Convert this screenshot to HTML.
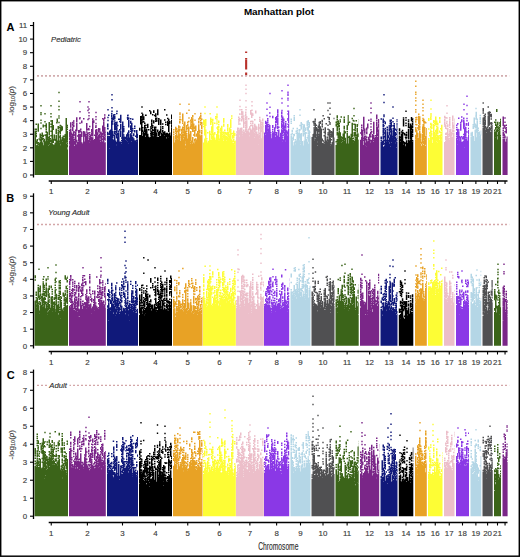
<!DOCTYPE html><html><head><meta charset="utf-8"><style>html,body{margin:0;padding:0;background:#fff;}svg{display:block}text{font-family:"Liberation Sans", sans-serif} .t{stroke:#555;stroke-width:0.15px}</style></head><body>
<svg width="520" height="557" viewBox="0 0 520 557">
<rect x="0" y="0" width="520" height="557" fill="#fff"/>
<path fill="#3b6419" d="M34.5 153h1.5v22h-1.5zM34.5 128.5h1.5v1.5h-1.5zM34.5 130.4h1.5v23.2h-1.5zM35.5 153h1.5v22h-1.5zM35.5 123.5h1.5v1.5h-1.5zM35.5 128.5h1.5v1.5h-1.5zM35.5 130.5h1.5v1.5h-1.5zM35.5 132.5h1.5v1.5h-1.5zM35.5 134.4h1.5v2.9h-1.5zM35.5 140.6h1.5v3.1h-1.5zM35.5 145.3h1.5v8.3h-1.5zM36.5 153h1.5v22h-1.5zM36.5 139.1h1.5v1.9h-1.5zM36.5 141.3h1.5v2.6h-1.5zM36.5 144.6h1.5v8.7h-1.5zM37.5 153h1.5v22h-1.5zM37.5 123.6h1.5v8.2h-1.5zM37.5 141.9h1.5v1.5h-1.5zM37.5 143.8h1.5v1.5h-1.5zM37.5 145.8h1.5v7.9h-1.5zM38.5 153h1.5v22h-1.5zM38.5 138.2h1.5v1.5h-1.5zM38.5 143.1h1.5v10.6h-1.5zM39.5 153h1.5v22h-1.5zM39.5 133.4h1.5v4.7h-1.5zM39.5 138.5h1.5v2.8h-1.5zM39.5 141.8h1.5v11.9h-1.5zM40.5 153h1.5v22h-1.5zM40.5 137.1h1.5v16.4h-1.5zM41.5 153h1.5v22h-1.5zM41.5 132.4h1.5v5.1h-1.5zM41.5 137.7h1.5v2.4h-1.5zM41.5 142.3h1.5v11.4h-1.5zM42.5 153h1.5v22h-1.5zM42.5 124.6h1.5v3h-1.5zM42.5 134.7h1.5v2.6h-1.5zM42.5 138h1.5v1.5h-1.5zM42.5 140.2h1.5v1.5h-1.5zM42.5 145.3h1.5v8.4h-1.5zM43.5 153h1.5v22h-1.5zM43.5 138.7h1.5v15h-1.5zM44.5 153h1.5v22h-1.5zM44.5 141.3h1.5v11.8h-1.5zM45.5 153h1.5v22h-1.5zM45.5 123.2h1.5v5h-1.5zM45.5 128.5h1.5v1.5h-1.5zM45.5 130.6h1.5v2.5h-1.5zM45.5 133.9h1.5v19.5h-1.5zM46.5 153h1.5v22h-1.5zM46.5 131.7h1.5v8.8h-1.5zM46.5 140.7h1.5v13h-1.5zM47.5 153h1.5v22h-1.5zM47.5 136.9h1.5v1.5h-1.5zM47.5 138.8h1.5v6.1h-1.5zM47.5 145.5h1.5v8h-1.5zM48.5 153h1.5v22h-1.5zM48.5 122h1.5v13.6h-1.5zM48.5 136.1h1.5v8.5h-1.5zM48.5 145h1.5v8.6h-1.5zM49.5 153h1.5v22h-1.5zM49.5 138h1.5v1.5h-1.5zM49.5 139.9h1.5v2.4h-1.5zM49.5 142.9h1.5v10.4h-1.5zM50.5 153h1.5v22h-1.5zM50.5 139.4h1.5v3.1h-1.5zM50.5 142.7h1.5v10.7h-1.5zM51.5 153h1.5v22h-1.5zM51.5 119.9h1.5v23.6h-1.5zM51.5 143.8h1.5v9.9h-1.5zM52.5 153h1.5v22h-1.5zM52.5 125h1.5v5h-1.5zM52.5 138.8h1.5v4.3h-1.5zM52.5 144.6h1.5v9.2h-1.5zM53.5 153h1.5v22h-1.5zM53.5 134.6h1.5v4.2h-1.5zM53.5 139.1h1.5v1.5h-1.5zM53.5 144.6h1.5v8.6h-1.5zM54.5 153h1.5v22h-1.5zM54.5 138.7h1.5v2.4h-1.5zM54.5 142.8h1.5v11h-1.5zM55.5 153h1.5v22h-1.5zM55.5 128.7h1.5v5.4h-1.5zM55.5 134.7h1.5v18.9h-1.5zM56.5 153h1.5v22h-1.5zM56.5 118.5h1.5v3.7h-1.5zM56.5 140.4h1.5v1.5h-1.5zM56.5 142.1h1.5v11.6h-1.5zM57.5 153h1.5v22h-1.5zM57.5 126.1h1.5v2.8h-1.5zM57.5 129.4h1.5v1.5h-1.5zM57.5 131.5h1.5v22h-1.5zM58.5 153h1.5v22h-1.5zM58.5 142.3h1.5v11.3h-1.5zM59.5 153h1.5v22h-1.5zM59.5 124.8h1.5v1.5h-1.5zM59.5 126.8h1.5v7.6h-1.5zM59.5 135h1.5v9.5h-1.5zM59.5 145.3h1.5v8.3h-1.5zM60.5 153h1.5v22h-1.5zM60.5 125.5h1.5v5.8h-1.5zM60.5 139.4h1.5v14.3h-1.5zM61.5 153h1.5v22h-1.5zM61.5 126.3h1.5v4.2h-1.5zM61.5 137.1h1.5v4.5h-1.5zM61.5 141.9h1.5v11.8h-1.5zM62.5 153h1.5v22h-1.5zM62.5 135.4h1.5v1.5h-1.5zM62.5 137.2h1.5v16.4h-1.5zM63.5 153h1.5v22h-1.5zM63.5 135.4h1.5v1.5h-1.5zM63.5 138.3h1.5v15.4h-1.5zM64.5 153h1.5v22h-1.5zM64.5 134.1h1.5v19.6h-1.5zM65.5 153h1.5v22h-1.5zM65.5 118h1.5v24.7h-1.5zM65.5 143.4h1.5v9.8h-1.5zM66.5 153h1.5v22h-1.5zM66.5 124.7h1.5v1.5h-1.5zM66.5 126.6h1.5v1.5h-1.5zM66.5 128.6h1.5v1.5h-1.5zM66.5 130.7h1.5v9.5h-1.5zM66.5 140.6h1.5v1.5h-1.5zM66.5 142.6h1.5v1.5h-1.5zM66.5 144.4h1.5v2.8h-1.5zM66.5 149.5h1.5v4.1h-1.5zM67.5 153h0.5v22h-0.5zM67.5 131.7h0.5v1.5h-0.5zM67.5 133.9h0.5v1.5h-0.5zM67.5 135.8h0.5v5.4h-0.5zM67.5 141.7h0.5v11.9h-0.5zM56.1 122h1.5v1.5h-1.5zM58.3 91.8h1.4v1.5h-1.4zM58.3 100.4h1.4v1.5h-1.4zM58.3 105.8h1.4v1.5h-1.4zM58.3 109.1h1.4v1.5h-1.4zM58.3 115.3h1.4v1.5h-1.4zM58.3 117.3h1.4v1.5h-1.4zM58.3 121.8h1.4v1.5h-1.4zM58.3 126.4h1.4v1.5h-1.4zM58.3 131h1.4v1.5h-1.4zM58.3 136.3h1.4v1.5h-1.4zM58.3 140.4h1.4v1.5h-1.4zM40.3 104.9h1.4v1.5h-1.4zM40.3 112h1.4v1.5h-1.4zM40.3 113.8h1.4v1.5h-1.4zM40.3 119.5h1.4v1.5h-1.4zM40.3 122.2h1.4v1.5h-1.4zM40.3 127.7h1.4v1.5h-1.4zM40.3 134.8h1.4v1.5h-1.4zM40.3 138.5h1.4v1.5h-1.4zM50.3 104.9h1.4v1.5h-1.4zM50.3 112.9h1.4v1.5h-1.4zM50.3 116h1.4v1.5h-1.4zM50.3 120.3h1.4v1.5h-1.4zM50.3 123.6h1.4v1.5h-1.4zM50.3 125.9h1.4v1.5h-1.4zM50.3 130.5h1.4v1.5h-1.4zM50.3 134.9h1.4v1.5h-1.4zM50.3 143.5h1.4v1.5h-1.4zM44.3 113.1h1.4v1.5h-1.4zM44.3 121h1.4v1.5h-1.4zM44.3 124.9h1.4v1.5h-1.4zM44.3 134.5h1.4v1.5h-1.4zM335.5 150.9h1.5v24.1h-1.5zM335.5 121.4h1.5v1.5h-1.5zM335.5 123.5h1.5v3.1h-1.5zM335.5 140.9h1.5v1.5h-1.5zM335.5 145h1.5v6.6h-1.5zM336.5 150.9h1.5v24.1h-1.5zM336.5 115.3h1.5v2.6h-1.5zM336.5 118.6h1.5v1.5h-1.5zM336.5 120.5h1.5v1.5h-1.5zM336.5 122.6h1.5v2.4h-1.5zM336.5 126h1.5v5h-1.5zM336.5 131.5h1.5v4.1h-1.5zM336.5 138.9h1.5v3.8h-1.5zM336.5 143.1h1.5v8.6h-1.5zM337.5 150.9h1.5v24.1h-1.5zM337.5 120.3h1.5v7.2h-1.5zM337.5 132.6h1.5v6.1h-1.5zM337.5 139.1h1.5v12.3h-1.5zM338.5 150.9h1.5v24.1h-1.5zM338.5 122.8h1.5v1.5h-1.5zM338.5 124.8h1.5v2.5h-1.5zM338.5 127.8h1.5v3h-1.5zM338.5 131.1h1.5v20.4h-1.5zM339.5 150.9h1.5v24.1h-1.5zM339.5 119.2h1.5v1.5h-1.5zM339.5 121h1.5v1.5h-1.5zM339.5 132.3h1.5v19.1h-1.5zM340.5 150.9h1.5v24.1h-1.5zM340.5 116.3h1.5v1.5h-1.5zM340.5 136.2h1.5v2.5h-1.5zM340.5 138.9h1.5v3.6h-1.5zM340.5 143.1h1.5v8.1h-1.5zM341.5 150.9h1.5v24.1h-1.5zM341.5 137h1.5v2.6h-1.5zM341.5 140h1.5v1.5h-1.5zM341.5 142.1h1.5v9.4h-1.5zM342.5 150.9h1.5v24.1h-1.5zM342.5 133.6h1.5v17.8h-1.5zM343.5 150.9h1.5v24.1h-1.5zM343.5 116.5h1.5v1.5h-1.5zM343.5 118.5h1.5v4.5h-1.5zM343.5 125.8h1.5v3.8h-1.5zM343.5 130.3h1.5v10.2h-1.5zM343.5 140.9h1.5v10.8h-1.5zM344.5 150.9h1.5v24.1h-1.5zM344.5 131.2h1.5v2.4h-1.5zM344.5 137.7h1.5v13.9h-1.5zM345.5 150.9h1.5v24.1h-1.5zM345.5 143.6h1.5v8h-1.5zM346.5 150.9h1.5v24.1h-1.5zM346.5 124.9h1.5v5.3h-1.5zM346.5 130.9h1.5v1.5h-1.5zM346.5 133h1.5v18.5h-1.5zM347.5 150.9h1.5v24.1h-1.5zM347.5 115.3h1.5v1.5h-1.5zM347.5 117.3h1.5v1.5h-1.5zM347.5 119.2h1.5v1.5h-1.5zM347.5 121.2h1.5v2.7h-1.5zM347.5 124.1h1.5v1.5h-1.5zM347.5 136.5h1.5v1.5h-1.5zM347.5 143.6h1.5v7.9h-1.5zM348.5 150.9h1.5v24.1h-1.5zM348.5 135.7h1.5v15.9h-1.5zM349.5 150.9h1.5v24.1h-1.5zM349.5 137.5h1.5v14.1h-1.5zM350.5 150.9h1.5v24.1h-1.5zM350.5 133.8h1.5v17.8h-1.5zM351.5 150.9h1.5v24.1h-1.5zM351.5 117.8h1.5v1.5h-1.5zM351.5 122.8h1.5v14.4h-1.5zM351.5 137.9h1.5v1.5h-1.5zM351.5 139.8h1.5v11.9h-1.5zM352.5 150.9h1.5v24.1h-1.5zM352.5 119.7h1.5v1.5h-1.5zM352.5 137.6h1.5v1.5h-1.5zM352.5 139.7h1.5v2.8h-1.5zM352.5 142.8h1.5v8.6h-1.5zM353.5 150.9h1.5v24.1h-1.5zM353.5 132.1h1.5v4.5h-1.5zM353.5 141.1h1.5v10.6h-1.5zM354.5 150.9h1.5v24.1h-1.5zM354.5 123.7h1.5v5.5h-1.5zM354.5 129.5h1.5v1.7h-1.5zM354.5 131.8h1.5v4.3h-1.5zM354.5 136.3h1.5v1.6h-1.5zM354.5 138.2h1.5v13.2h-1.5zM355.5 150.9h1.5v24.1h-1.5zM355.5 120.1h1.5v1.5h-1.5zM355.5 134.6h1.5v1.5h-1.5zM355.5 136.5h1.5v15h-1.5zM356.5 150.9h1.5v24.1h-1.5zM356.5 124.1h1.5v3h-1.5zM356.5 127.7h1.5v5h-1.5zM356.5 133.3h1.5v17.9h-1.5zM357.5 150.9h1.2v24.1h-1.2zM357.5 133.6h1.2v3.3h-1.2zM357.5 139.8h1.2v11.7h-1.2zM358.5 150.9h0.2v24.1h-0.2zM358.5 119.1h0.2v1.5h-0.2zM358.5 121h0.2v4.8h-0.2zM358.5 132.4h0.2v1.5h-0.2zM358.5 134.1h0.2v3.5h-0.2zM358.5 138.7h0.2v13h-0.2zM348.8 121.6h1.5v1.5h-1.5zM353.3 107.7h1.4v1.5h-1.4zM353.3 114.9h1.4v1.5h-1.4zM353.3 120.2h1.4v1.5h-1.4zM353.3 123.5h1.4v1.5h-1.4zM353.3 129.1h1.4v1.5h-1.4zM353.3 134.9h1.4v1.5h-1.4zM353.3 141.3h1.4v1.5h-1.4zM494 141.8h1.5v33.2h-1.5zM494 121.5h1.5v1.5h-1.5zM494 129.4h1.5v1.5h-1.5zM494 131.3h1.5v11.1h-1.5zM495 141.8h1.5v33.2h-1.5zM495 119.3h1.5v1.5h-1.5zM495 121.5h1.5v1.5h-1.5zM495 123.2h1.5v2.9h-1.5zM495 126.9h1.5v2.9h-1.5zM495 131.2h1.5v5.7h-1.5zM495 137.2h1.5v5.2h-1.5zM496 141.8h1.5v33.2h-1.5zM496 109h1.5v2.9h-1.5zM496 124.6h1.5v4h-1.5zM496 129.4h1.5v13h-1.5zM497 141.8h1.5v33.2h-1.5zM497 121.7h1.5v3.9h-1.5zM497 126.3h1.5v2.4h-1.5zM497 129.1h1.5v2.8h-1.5zM497 134.8h1.5v1.5h-1.5zM497 139.6h1.5v2.7h-1.5zM498 141.8h1.5v33.2h-1.5zM498 126.2h1.5v1.5h-1.5zM498 128h1.5v1.5h-1.5zM498 130.1h1.5v1.5h-1.5zM498 131.9h1.5v10.4h-1.5zM499 141.8h1.5v33.2h-1.5zM499 122.3h1.5v1.5h-1.5zM499 124.4h1.5v1.5h-1.5zM499 126.7h1.5v1.5h-1.5zM499 128.4h1.5v1.5h-1.5zM499 130.2h1.5v12.3h-1.5zM500 141.8h1v33.2h-1zM500 118.7h1v1.5h-1zM500 120.6h1v6.5h-1zM500 135.1h1v1.5h-1zM500 136.9h1v5.5h-1z"/>
<path fill="#7a2688" d="M69 150h1.5v25h-1.5zM69 129.8h1.5v1.5h-1.5zM69 131.8h1.5v5.6h-1.5zM69 137.7h1.5v2.5h-1.5zM69 140.7h1.5v4.1h-1.5zM69 145.2h1.5v5.5h-1.5zM70 150h1.5v25h-1.5zM70 122.2h1.5v5.6h-1.5zM70 128.4h1.5v22.2h-1.5zM71 150h1.5v25h-1.5zM71 132.4h1.5v3.3h-1.5zM71 136.1h1.5v14.5h-1.5zM72 150h1.5v25h-1.5zM72 121.7h1.5v1.5h-1.5zM72 123.4h1.5v2.4h-1.5zM72 126.4h1.5v4.9h-1.5zM72 133.9h1.5v16h-1.5zM73 150h1.5v25h-1.5zM73 120.2h1.5v1.5h-1.5zM73 122.3h1.5v1.5h-1.5zM73 124.6h1.5v2.4h-1.5zM73 131.3h1.5v4.8h-1.5zM73 136.4h1.5v1.5h-1.5zM73 138.6h1.5v12h-1.5zM74 150h1.5v25h-1.5zM74 131.2h1.5v1.5h-1.5zM74 134.2h1.5v1.5h-1.5zM74 138.5h1.5v1.5h-1.5zM74 140.8h1.5v3.9h-1.5zM74 145.9h1.5v4.8h-1.5zM75 150h1.5v25h-1.5zM75 129.4h1.5v1.5h-1.5zM75 131.3h1.5v19.4h-1.5zM76 150h1.5v25h-1.5zM76 117.3h1.5v4.7h-1.5zM76 122.4h1.5v8.8h-1.5zM76 139.7h1.5v2.7h-1.5zM76 144.3h1.5v6.4h-1.5zM77 150h1.5v25h-1.5zM77 135.3h1.5v1.5h-1.5zM77 141.9h1.5v8.7h-1.5zM78 150h1.5v25h-1.5zM78 129.9h1.5v3.2h-1.5zM78 133.6h1.5v7.4h-1.5zM78 141.3h1.5v8.7h-1.5zM79 150h1.5v25h-1.5zM79 118h1.5v1.5h-1.5zM79 133.8h1.5v5.4h-1.5zM79 139.4h1.5v10.9h-1.5zM80 150h1.5v25h-1.5zM80 128.6h1.5v1.5h-1.5zM80 130.5h1.5v1.5h-1.5zM80 133.7h1.5v17h-1.5zM81 150h1.5v25h-1.5zM81 120.5h1.5v2.7h-1.5zM81 131.6h1.5v5.4h-1.5zM81 142.2h1.5v8.5h-1.5zM82 150h1.5v25h-1.5zM82 143.5h1.5v7.2h-1.5zM83 150h1.5v25h-1.5zM83 117.9h1.5v1.5h-1.5zM83 131.1h1.5v19.6h-1.5zM84 150h1.5v25h-1.5zM84 131.5h1.5v5.3h-1.5zM84 141.6h1.5v8.9h-1.5zM85 150h1.5v25h-1.5zM85 133.7h1.5v16.8h-1.5zM86 150h1.5v25h-1.5zM86 122.9h1.5v3.5h-1.5zM86 126.6h1.5v4.1h-1.5zM86 131.3h1.5v1.5h-1.5zM86 133.5h1.5v1.5h-1.5zM86 135.6h1.5v15h-1.5zM87 150h1.5v25h-1.5zM87 132.5h1.5v18.1h-1.5zM88 150h1.5v25h-1.5zM88 128.1h1.5v1.5h-1.5zM88 132.2h1.5v1.5h-1.5zM88 140h1.5v10.6h-1.5zM89 150h1.5v25h-1.5zM89 125.8h1.5v1.5h-1.5zM89 132.1h1.5v1.5h-1.5zM89 134.1h1.5v1.5h-1.5zM89 135.9h1.5v1.9h-1.5zM89 138.1h1.5v4h-1.5zM89 142.3h1.5v8.3h-1.5zM90 150h1.5v25h-1.5zM90 134.7h1.5v5.6h-1.5zM90 140.6h1.5v10.1h-1.5zM91 150h1.5v25h-1.5zM91 129.1h1.5v3.5h-1.5zM91 132.8h1.5v3.1h-1.5zM91 137.1h1.5v13.6h-1.5zM92 150h1.5v25h-1.5zM92 119h1.5v1.5h-1.5zM92 120.8h1.5v15.7h-1.5zM92 137.3h1.5v13.4h-1.5zM93 150h1.5v25h-1.5zM93 120.2h1.5v2.9h-1.5zM93 140h1.5v10.6h-1.5zM94 150h1.5v25h-1.5zM94 134.4h1.5v1.5h-1.5zM94 138.9h1.5v11.6h-1.5zM95 150h1.5v25h-1.5zM95 126.4h1.5v1.5h-1.5zM95 129.4h1.5v5.2h-1.5zM95 135.1h1.5v15.2h-1.5zM96 150h1.5v25h-1.5zM96 129h1.5v21.6h-1.5zM97 150h1.5v25h-1.5zM97 132.3h1.5v3.2h-1.5zM97 136.3h1.5v13.7h-1.5zM98 150h1.5v25h-1.5zM98 128.1h1.5v4.2h-1.5zM98 135h1.5v15.7h-1.5zM99 150h1.5v25h-1.5zM99 128.2h1.5v2.6h-1.5zM99 131.3h1.5v1.5h-1.5zM99 133.4h1.5v5.3h-1.5zM99 139.2h1.5v11.4h-1.5zM100 150h1.5v25h-1.5zM100 131.4h1.5v3.3h-1.5zM100 135.4h1.5v1.5h-1.5zM100 137.3h1.5v1.5h-1.5zM100 139.5h1.5v1.5h-1.5zM100 141.7h1.5v8.8h-1.5zM101 150h1.5v25h-1.5zM101 132.5h1.5v18.1h-1.5zM102 150h1.5v25h-1.5zM102 118h1.5v1.5h-1.5zM102 125.6h1.5v6.1h-1.5zM102 132.4h1.5v2.5h-1.5zM102 135.5h1.5v1.5h-1.5zM102 138.4h1.5v1.5h-1.5zM102 141.5h1.5v9.1h-1.5zM103 150h1.5v25h-1.5zM103 118.4h1.5v3h-1.5zM103 121.7h1.5v13h-1.5zM103 135.2h1.5v15.5h-1.5zM104 150h1.5v25h-1.5zM104 114.3h1.5v1.5h-1.5zM104 116.4h1.5v2.7h-1.5zM104 127.1h1.5v9.1h-1.5zM104 136.7h1.5v3.3h-1.5zM104 142.6h1.5v8h-1.5zM105 150h0.8v25h-0.8zM105 131.5h0.8v1.5h-0.8zM105 133.7h0.8v1.5h-0.8zM105 135.6h0.8v1.9h-0.8zM105 138.1h0.8v2.6h-0.8zM105 142.3h0.8v8.4h-0.8zM92 118.3h1.5v1.5h-1.5zM79.3 100.9h1.4v1.5h-1.4zM79.3 111h1.4v1.5h-1.4zM79.3 116.9h1.4v1.5h-1.4zM79.3 122.4h1.4v1.5h-1.4zM79.3 129.7h1.4v3.1h-1.4zM79.3 138.5h1.4v1.5h-1.4zM88.3 100.9h1.4v1.5h-1.4zM88.3 108.3h1.4v1.5h-1.4zM88.3 111.9h1.4v1.5h-1.4zM88.3 114.9h1.4v1.5h-1.4zM88.3 117.8h1.4v1.5h-1.4zM88.3 129.1h1.4v1.5h-1.4zM88.3 139.9h1.4v1.5h-1.4zM87.3 106.3h1.4v1.5h-1.4zM87.3 109.8h1.4v1.5h-1.4zM87.3 118.8h1.4v1.5h-1.4zM87.3 128.7h1.4v1.5h-1.4zM87.3 134.8h1.4v1.5h-1.4zM87.3 137.5h1.4v1.5h-1.4zM95.3 111.7h1.4v1.5h-1.4zM95.3 115.9h1.4v1.5h-1.4zM95.3 118.7h1.4v1.5h-1.4zM95.3 122.7h1.4v1.5h-1.4zM95.3 125h1.4v3.1h-1.4zM95.3 131.6h1.4v1.5h-1.4zM95.3 133.3h1.4v1.5h-1.4zM95.3 136h1.4v1.5h-1.4zM95.3 138h1.4v1.5h-1.4zM360 149.3h1.5v25.7h-1.5zM360 132.2h1.5v1.5h-1.5zM360 139.7h1.5v10.3h-1.5zM361 149.3h1.5v25.7h-1.5zM361 124.6h1.5v1.5h-1.5zM361 126.4h1.5v1.5h-1.5zM361 128.6h1.5v7.1h-1.5zM361 136.4h1.5v13.5h-1.5zM362 149.3h1.5v25.7h-1.5zM362 129.9h1.5v20h-1.5zM363 149.3h1.5v25.7h-1.5zM363 116.8h1.5v12.1h-1.5zM363 129.3h1.5v1.5h-1.5zM363 137.6h1.5v1.5h-1.5zM363 139.6h1.5v1.5h-1.5zM363 144.9h1.5v5.1h-1.5zM364 149.3h1.5v25.7h-1.5zM364 128.5h1.5v4.5h-1.5zM364 133.2h1.5v1.5h-1.5zM364 135.4h1.5v14.7h-1.5zM365 149.3h1.5v25.7h-1.5zM365 135.6h1.5v1.5h-1.5zM365 137.6h1.5v3h-1.5zM365 142.5h1.5v2.5h-1.5zM365 145.3h1.5v4.6h-1.5zM366 149.3h1.5v25.7h-1.5zM366 127.5h1.5v3.2h-1.5zM366 131.3h1.5v3h-1.5zM366 136.6h1.5v1.5h-1.5zM366 138.7h1.5v7.3h-1.5zM366 146.2h1.5v3.2h-1.5zM367 149.3h1.5v25.7h-1.5zM367 123.4h1.5v5.1h-1.5zM367 141.3h1.5v8.3h-1.5zM368 149.3h1.5v25.7h-1.5zM368 119.4h1.5v1.5h-1.5zM368 136.8h1.5v3.6h-1.5zM368 140.7h1.5v9.3h-1.5zM369 149.3h1.5v25.7h-1.5zM369 133.8h1.5v4h-1.5zM369 138.5h1.5v11.6h-1.5zM370 149.3h1.5v25.7h-1.5zM370 131.7h1.5v3h-1.5zM370 135.2h1.5v1.5h-1.5zM370 142.4h1.5v7.3h-1.5zM371 149.3h1.5v25.7h-1.5zM371 130.9h1.5v1.5h-1.5zM371 139.8h1.5v10.2h-1.5zM372 149.3h1.5v25.7h-1.5zM372 134.1h1.5v15.8h-1.5zM373 149.3h1.5v25.7h-1.5zM373 121.7h1.5v12.6h-1.5zM373 135h1.5v4h-1.5zM373 139.6h1.5v1.5h-1.5zM373 141.7h1.5v8.1h-1.5zM374 149.3h1.5v25.7h-1.5zM374 137.7h1.5v12.3h-1.5zM375 149.3h1.5v25.7h-1.5zM375 135.1h1.5v1.5h-1.5zM375 137.1h1.5v12.9h-1.5zM376 149.3h1.5v25.7h-1.5zM376 114.6h1.5v4.6h-1.5zM376 119.8h1.5v1.5h-1.5zM376 121.7h1.5v4.4h-1.5zM376 126.3h1.5v23.7h-1.5zM377 149.3h1.5v25.7h-1.5zM377 126.6h1.5v4.3h-1.5zM377 131.1h1.5v1.5h-1.5zM377 133.2h1.5v2.8h-1.5zM377 137.1h1.5v13h-1.5zM378 149.3h1.2v25.7h-1.2zM378 119.1h1.2v4.3h-1.2zM378 123.7h1.2v4.1h-1.2zM378 129.6h1.2v20.4h-1.2zM379 149.3h0.2v25.7h-0.2zM379 121.5h0.2v3.1h-0.2zM379 125.4h0.2v1.5h-0.2zM379 127.1h0.2v22.9h-0.2zM370.3 102.2h1.4v1.5h-1.4zM370.3 107.6h1.4v1.5h-1.4zM370.3 112.1h1.4v1.5h-1.4zM370.3 118.6h1.4v1.5h-1.4zM370.3 120.6h1.4v1.5h-1.4zM370.3 122.9h1.4v1.5h-1.4zM370.3 126.3h1.4v1.5h-1.4zM370.3 129h1.4v1.5h-1.4zM370.3 132.2h1.4v1.5h-1.4zM370.3 136h1.4v1.5h-1.4zM370.3 140h1.4v1.5h-1.4zM502.5 148.2h1.5v26.8h-1.5zM502.5 116.6h1.5v9.5h-1.5zM502.5 127.6h1.5v1.5h-1.5zM502.5 129.4h1.5v1.5h-1.5zM502.5 131.4h1.5v4.6h-1.5zM502.5 136.6h1.5v1.5h-1.5zM502.5 138.6h1.5v10.3h-1.5zM503.5 148.2h1.5v26.8h-1.5zM503.5 124.7h1.5v3h-1.5zM503.5 133.4h1.5v2.8h-1.5zM503.5 136.7h1.5v1.5h-1.5zM503.5 138.7h1.5v10.1h-1.5zM504.5 148.2h1.5v26.8h-1.5zM504.5 127.4h1.5v1.5h-1.5zM504.5 141.6h1.5v7.4h-1.5zM505.5 148.2h1.5v26.8h-1.5zM505.5 124.4h1.5v1.5h-1.5zM505.5 126.9h1.5v1.5h-1.5zM505.5 128.7h1.5v4.8h-1.5zM505.5 139.3h1.5v1.5h-1.5zM505.5 141.2h1.5v7.4h-1.5zM506.5 148.2h1.1v26.8h-1.1zM506.5 136.5h1.1v12.3h-1.1zM504.3 117.2h1.4v1.5h-1.4zM504.3 121.6h1.4v1.5h-1.4zM504.3 125.2h1.4v1.5h-1.4zM504.3 131.1h1.4v1.5h-1.4zM504.3 135.5h1.4v3.1h-1.4z"/>
<path fill="#10197a" d="M107 148.5h1.5v26.5h-1.5zM107 123.6h1.5v3.9h-1.5zM107 127.9h1.5v1.5h-1.5zM107 131.8h1.5v3.2h-1.5zM107 135.4h1.5v13.8h-1.5zM108 148.5h1.5v26.5h-1.5zM108 114.5h1.5v1.5h-1.5zM108 133.3h1.5v1.5h-1.5zM108 135.9h1.5v1.5h-1.5zM108 137.7h1.5v11.5h-1.5zM109 148.5h1.5v26.5h-1.5zM109 130.5h1.5v4.5h-1.5zM109 135.7h1.5v12.4h-1.5zM110 148.5h1.5v26.5h-1.5zM110 129.6h1.5v19.3h-1.5zM111 148.5h1.5v26.5h-1.5zM111 112.8h1.5v1.5h-1.5zM111 114.6h1.5v3.1h-1.5zM111 118.1h1.5v1.5h-1.5zM111 120.3h1.5v28.6h-1.5zM112 148.5h1.5v26.5h-1.5zM112 117.4h1.5v1.5h-1.5zM112 119.2h1.5v1.5h-1.5zM112 121.1h1.5v1.5h-1.5zM112 123.2h1.5v1.5h-1.5zM112 131.1h1.5v7.5h-1.5zM112 139h1.5v10.2h-1.5zM113 148.5h1.5v26.5h-1.5zM113 114.3h1.5v5.6h-1.5zM113 134.5h1.5v1.5h-1.5zM113 139.8h1.5v9.2h-1.5zM114 148.5h1.5v26.5h-1.5zM114 114.1h1.5v1.5h-1.5zM114 116.1h1.5v3.2h-1.5zM114 120.2h1.5v1.5h-1.5zM114 122.2h1.5v8.4h-1.5zM114 130.9h1.5v3.3h-1.5zM114 134.8h1.5v14.3h-1.5zM115 148.5h1.5v26.5h-1.5zM115 122.1h1.5v1.5h-1.5zM115 123.8h1.5v6.5h-1.5zM115 131.1h1.5v1.5h-1.5zM115 133.2h1.5v1.5h-1.5zM115 140.5h1.5v8.5h-1.5zM116 148.5h1.5v26.5h-1.5zM116 112.7h1.5v1.5h-1.5zM116 122.9h1.5v2.6h-1.5zM116 126h1.5v2.5h-1.5zM116 128.7h1.5v1.5h-1.5zM116 130.5h1.5v2.9h-1.5zM116 133.9h1.5v4.7h-1.5zM116 142.1h1.5v2.6h-1.5zM116 145.2h1.5v4h-1.5zM117 148.5h1.5v26.5h-1.5zM117 124.7h1.5v1.5h-1.5zM117 132.9h1.5v2.8h-1.5zM117 136.2h1.5v12.5h-1.5zM118 148.5h1.5v26.5h-1.5zM118 118.4h1.5v1.5h-1.5zM118 130.5h1.5v1.5h-1.5zM118 132.2h1.5v16.9h-1.5zM119 148.5h1.5v26.5h-1.5zM119 118.6h1.5v1.5h-1.5zM119 120.7h1.5v1.5h-1.5zM119 129.1h1.5v1.5h-1.5zM119 141.6h1.5v7.5h-1.5zM120 148.5h1.5v26.5h-1.5zM120 114.7h1.5v8.4h-1.5zM120 123.7h1.5v6.1h-1.5zM120 130.6h1.5v6.4h-1.5zM120 141.6h1.5v7.6h-1.5zM121 148.5h1.5v26.5h-1.5zM121 137.3h1.5v1.5h-1.5zM121 139.8h1.5v1.5h-1.5zM121 142h1.5v1.5h-1.5zM121 144.1h1.5v4.9h-1.5zM122 148.5h1.5v26.5h-1.5zM122 121.5h1.5v27.5h-1.5zM123 148.5h1.5v26.5h-1.5zM123 126h1.5v1.5h-1.5zM123 128.1h1.5v4.2h-1.5zM123 134.3h1.5v1.5h-1.5zM123 136.2h1.5v13h-1.5zM124 148.5h1.5v26.5h-1.5zM124 136.5h1.5v12.7h-1.5zM125 148.5h1.5v26.5h-1.5zM125 137h1.5v2.3h-1.5zM125 139.8h1.5v9.4h-1.5zM126 148.5h1.5v26.5h-1.5zM126 134.3h1.5v6.4h-1.5zM126 141h1.5v8.2h-1.5zM127 148.5h1.5v26.5h-1.5zM127 115h1.5v1.5h-1.5zM127 116.9h1.5v3h-1.5zM127 132.5h1.5v4.2h-1.5zM127 137.2h1.5v4.5h-1.5zM127 142h1.5v6.9h-1.5zM128 148.5h1.5v26.5h-1.5zM128 117.4h1.5v1.5h-1.5zM128 119.5h1.5v8h-1.5zM128 130.2h1.5v2.7h-1.5zM128 133.6h1.5v9.9h-1.5zM128 143.8h1.5v4.9h-1.5zM129 148.5h1.5v26.5h-1.5zM129 137.4h1.5v11.7h-1.5zM130 148.5h1.5v26.5h-1.5zM130 118.1h1.5v1.5h-1.5zM130 120.8h1.5v2.9h-1.5zM130 125.2h1.5v4.8h-1.5zM130 130.5h1.5v1.6h-1.5zM130 133.3h1.5v2.6h-1.5zM130 136.1h1.5v12.9h-1.5zM131 148.5h1.5v26.5h-1.5zM131 122.8h1.5v10.9h-1.5zM131 134.5h1.5v7.1h-1.5zM131 141.9h1.5v6.7h-1.5zM132 148.5h1.5v26.5h-1.5zM132 118.5h1.5v1.5h-1.5zM132 127.9h1.5v1.5h-1.5zM132 129.9h1.5v1.5h-1.5zM132 136.9h1.5v12.3h-1.5zM133 148.5h1.5v26.5h-1.5zM133 133.2h1.5v3h-1.5zM133 138.2h1.5v11h-1.5zM134 148.5h1.5v26.5h-1.5zM134 125.4h1.5v1.5h-1.5zM134 127.4h1.5v1.5h-1.5zM134 130.1h1.5v2.4h-1.5zM134 140.3h1.5v8.7h-1.5zM135 148.5h1.5v26.5h-1.5zM135 135.6h1.5v1.5h-1.5zM135 140.3h1.5v8.9h-1.5zM136 148.5h1.5v26.5h-1.5zM136 130h1.5v8.4h-1.5zM136 139.6h1.5v1.5h-1.5zM136 141.3h1.5v7.9h-1.5zM137 148.5h1v26.5h-1zM137 133.8h1v4.7h-1zM137 139.3h1v9.9h-1zM126.8 116.9h1.5v1.5h-1.5zM111.3 94.1h1.4v1.5h-1.4zM111.3 98.9h1.4v1.5h-1.4zM111.3 107h1.4v1.5h-1.4zM111.3 110.5h1.4v1.5h-1.4zM111.3 118.3h1.4v1.5h-1.4zM111.3 122.1h1.4v1.5h-1.4zM111.3 129.2h1.4v1.5h-1.4zM111.3 132.1h1.4v1.5h-1.4zM111.3 134.4h1.4v1.5h-1.4zM111.3 138.8h1.4v1.5h-1.4zM107.3 109h1.4v1.5h-1.4zM107.3 116.7h1.4v1.5h-1.4zM107.3 119.8h1.4v1.5h-1.4zM107.3 128h1.4v1.5h-1.4zM107.3 137h1.4v1.5h-1.4zM116.3 110.4h1.4v1.5h-1.4zM116.3 121.6h1.4v1.5h-1.4zM116.3 127.9h1.4v1.5h-1.4zM116.3 130.3h1.4v1.5h-1.4zM116.3 134h1.4v1.5h-1.4zM116.3 136.4h1.4v1.5h-1.4zM127.3 114.5h1.4v1.5h-1.4zM127.3 132.5h1.4v1.5h-1.4zM127.3 137.4h1.4v1.5h-1.4zM380.5 152.7h1.5v22.3h-1.5zM380.5 118.2h1.5v1.5h-1.5zM380.5 136.5h1.5v2.9h-1.5zM380.5 140h1.5v1.5h-1.5zM380.5 142.1h1.5v8.3h-1.5zM380.5 150.6h1.5v2.1h-1.5zM381.5 152.7h1.5v22.3h-1.5zM381.5 141h1.5v12.3h-1.5zM382.5 152.7h1.5v22.3h-1.5zM382.5 118.6h1.5v4.4h-1.5zM382.5 123.6h1.5v3.7h-1.5zM382.5 127.7h1.5v1.5h-1.5zM382.5 129.6h1.5v3.7h-1.5zM382.5 133.6h1.5v1.6h-1.5zM382.5 135.5h1.5v4h-1.5zM382.5 140.2h1.5v3h-1.5zM382.5 143.4h1.5v1.5h-1.5zM382.5 147.1h1.5v6.3h-1.5zM383.5 152.7h1.5v22.3h-1.5zM383.5 145.8h1.5v7.6h-1.5zM384.5 152.7h1.5v22.3h-1.5zM384.5 121.5h1.5v2.8h-1.5zM384.5 127.8h1.5v1.5h-1.5zM384.5 129.8h1.5v23.6h-1.5zM385.5 152.7h1.5v22.3h-1.5zM385.5 139.7h1.5v1.5h-1.5zM385.5 141.5h1.5v12h-1.5zM386.5 152.7h1.5v22.3h-1.5zM386.5 126.6h1.5v1.5h-1.5zM386.5 128.5h1.5v1.5h-1.5zM386.5 130.3h1.5v1.5h-1.5zM386.5 132h1.5v21.3h-1.5zM387.5 152.7h1.5v22.3h-1.5zM387.5 135.2h1.5v2.9h-1.5zM387.5 140h1.5v1.5h-1.5zM387.5 141.8h1.5v11.6h-1.5zM388.5 152.7h1.5v22.3h-1.5zM388.5 125.3h1.5v1.5h-1.5zM388.5 127.2h1.5v1.5h-1.5zM388.5 129h1.5v2.5h-1.5zM388.5 132h1.5v3.2h-1.5zM388.5 137.5h1.5v5h-1.5zM388.5 143.6h1.5v9.8h-1.5zM389.5 152.7h1.5v22.3h-1.5zM389.5 119.6h1.5v2.8h-1.5zM389.5 122.9h1.5v1.5h-1.5zM389.5 125.1h1.5v5.3h-1.5zM389.5 131h1.5v1.5h-1.5zM389.5 134.5h1.5v12.1h-1.5zM389.5 146.9h1.5v6.5h-1.5zM390.5 152.7h1.5v22.3h-1.5zM390.5 119.5h1.5v1.5h-1.5zM390.5 121.4h1.5v6.2h-1.5zM390.5 128.2h1.5v13.8h-1.5zM390.5 142.4h1.5v10.9h-1.5zM391.5 152.7h1.5v22.3h-1.5zM391.5 135.5h1.5v1.5h-1.5zM391.5 137.2h1.5v16.2h-1.5zM392.5 152.7h1.5v22.3h-1.5zM392.5 128h1.5v1.5h-1.5zM392.5 129.7h1.5v1.5h-1.5zM392.5 131.5h1.5v21.9h-1.5zM393.5 152.7h1.5v22.3h-1.5zM393.5 122.9h1.5v1.5h-1.5zM393.5 124.8h1.5v14.9h-1.5zM393.5 140h1.5v13.4h-1.5zM394.5 152.7h1.5v22.3h-1.5zM394.5 128.5h1.5v1.5h-1.5zM394.5 132h1.5v4.3h-1.5zM394.5 136.7h1.5v6.1h-1.5zM394.5 143.2h1.5v10.2h-1.5zM395.5 152.7h1.5v22.3h-1.5zM395.5 129.5h1.5v1.5h-1.5zM395.5 133.4h1.5v1.5h-1.5zM395.5 138.5h1.5v1.5h-1.5zM395.5 140.3h1.5v1.5h-1.5zM395.5 142h1.5v4.9h-1.5zM395.5 147.4h1.5v6h-1.5zM396.5 152.7h1v22.3h-1zM396.5 118.9h1v1.5h-1zM396.5 120.8h1v1.5h-1zM396.5 123.1h1v2.7h-1zM396.5 126.3h1v1.5h-1zM396.5 128.2h1v2.4h-1zM396.5 130.9h1v2.8h-1zM396.5 134.2h1v1.6h-1zM396.5 136.3h1v1.5h-1zM396.5 138.1h1v1.5h-1zM396.5 139.9h1v1.5h-1zM396.5 142h1v11.4h-1zM383.3 94.1h1.4v1.5h-1.4zM383.3 101.8h1.4v1.5h-1.4zM383.3 114.2h1.4v3h-1.4zM383.3 120.6h1.4v1.5h-1.4zM383.3 124.9h1.4v1.5h-1.4zM383.3 128.7h1.4v1.5h-1.4zM383.3 132.3h1.4v1.5h-1.4zM383.3 136h1.4v1.5h-1.4zM383.3 139.7h1.4v1.5h-1.4zM383.3 143.1h1.4v1.5h-1.4zM392.3 106.3h1.4v1.5h-1.4zM392.3 117.6h1.4v1.5h-1.4zM392.3 121h1.4v1.5h-1.4zM392.3 125h1.4v1.5h-1.4zM392.3 131.1h1.4v1.5h-1.4zM392.3 133.3h1.4v1.5h-1.4zM392.3 136.7h1.4v1.5h-1.4zM392.3 139.9h1.4v1.5h-1.4z"/>
<path fill="#000000" d="M139 144.8h1.5v30.2h-1.5zM139 127.8h1.5v2.9h-1.5zM139 135.1h1.5v10.4h-1.5zM140 144.8h1.5v30.2h-1.5zM140 116h1.5v8.6h-1.5zM140 134.9h1.5v10.5h-1.5zM141 144.8h1.5v30.2h-1.5zM141 115.8h1.5v2.6h-1.5zM141 118.8h1.5v2.9h-1.5zM141 122h1.5v23.4h-1.5zM142 144.8h1.5v30.2h-1.5zM142 113.8h1.5v2.9h-1.5zM142 117.2h1.5v1.5h-1.5zM142 119h1.5v1.5h-1.5zM142 121.3h1.5v1.5h-1.5zM142 127.1h1.5v1.5h-1.5zM142 129.6h1.5v2.5h-1.5zM142 136h1.5v9.5h-1.5zM143 144.8h1.5v30.2h-1.5zM143 116.2h1.5v4.1h-1.5zM143 121h1.5v1.5h-1.5zM143 131.5h1.5v14.1h-1.5zM144 144.8h1.5v30.2h-1.5zM144 122.5h1.5v1.5h-1.5zM144 124.8h1.5v7.5h-1.5zM144 132.9h1.5v12.4h-1.5zM145 144.8h1.5v30.2h-1.5zM145 127h1.5v1.5h-1.5zM145 129.2h1.5v5.1h-1.5zM145 136.9h1.5v8.7h-1.5zM146 144.8h1.5v30.2h-1.5zM146 128.7h1.5v16.9h-1.5zM147 144.8h1.5v30.2h-1.5zM147 123.7h1.5v4.2h-1.5zM147 133.8h1.5v11.4h-1.5zM148 144.8h1.5v30.2h-1.5zM148 128.9h1.5v1.5h-1.5zM148 136.8h1.5v8.7h-1.5zM149 144.8h1.5v30.2h-1.5zM149 110.1h1.5v1.5h-1.5zM149 137.6h1.5v7.9h-1.5zM150 144.8h1.5v30.2h-1.5zM150 111.3h1.5v2.9h-1.5zM150 126.2h1.5v1.5h-1.5zM150 128.2h1.5v1.5h-1.5zM150 130.2h1.5v1.5h-1.5zM150 132.5h1.5v1.5h-1.5zM150 134.2h1.5v1.5h-1.5zM150 136.4h1.5v9.1h-1.5zM151 144.8h1.5v30.2h-1.5zM151 119.6h1.5v3h-1.5zM151 122.8h1.5v4h-1.5zM151 127.5h1.5v1.5h-1.5zM151 130.8h1.5v14.5h-1.5zM152 144.8h1.5v30.2h-1.5zM152 114.1h1.5v1.5h-1.5zM152 124.9h1.5v1.5h-1.5zM152 126.8h1.5v1.5h-1.5zM152 129h1.5v2.6h-1.5zM152 132h1.5v3.5h-1.5zM152 135.8h1.5v9.6h-1.5zM153 144.8h1.5v30.2h-1.5zM153 110.3h1.5v2.6h-1.5zM153 120.3h1.5v3.1h-1.5zM153 129.8h1.5v1.5h-1.5zM153 132.1h1.5v1.5h-1.5zM153 133.9h1.5v1.5h-1.5zM153 136.2h1.5v9.1h-1.5zM154 144.8h1.5v30.2h-1.5zM154 114.7h1.5v1.5h-1.5zM154 126.5h1.5v18.9h-1.5zM155 144.8h1.5v30.2h-1.5zM155 113.3h1.5v3.6h-1.5zM155 117.5h1.5v2.7h-1.5zM155 120.6h1.5v1.5h-1.5zM155 126.4h1.5v1.5h-1.5zM155 128.4h1.5v16.9h-1.5zM156 144.8h1.5v30.2h-1.5zM156 117.5h1.5v1.5h-1.5zM156 119.3h1.5v2.4h-1.5zM156 132.6h1.5v3.6h-1.5zM156 136.4h1.5v9.1h-1.5zM157 144.8h1.5v30.2h-1.5zM157 109.3h1.5v6h-1.5zM157 129.6h1.5v2.7h-1.5zM157 137h1.5v8.5h-1.5zM158 144.8h1.5v30.2h-1.5zM158 117.9h1.5v1.5h-1.5zM158 120h1.5v5h-1.5zM158 132h1.5v4.3h-1.5zM158 137h1.5v8h-1.5zM159 144.8h1.5v30.2h-1.5zM159 130.7h1.5v5h-1.5zM159 136.1h1.5v9.3h-1.5zM160 144.8h1.5v30.2h-1.5zM160 119.6h1.5v5.6h-1.5zM160 126.3h1.5v1.5h-1.5zM160 128.2h1.5v5.4h-1.5zM160 135.9h1.5v9.6h-1.5zM161 144.8h1.5v30.2h-1.5zM161 133.1h1.5v12.4h-1.5zM162 144.8h1.5v30.2h-1.5zM162 123.2h1.5v1.5h-1.5zM162 126h1.5v1.5h-1.5zM162 127.7h1.5v1.5h-1.5zM162 130h1.5v2.8h-1.5zM162 133.4h1.5v12.1h-1.5zM163 144.8h1.5v30.2h-1.5zM163 131.9h1.5v13.6h-1.5zM164 144.8h1.5v30.2h-1.5zM164 108.9h1.5v1.5h-1.5zM164 119.2h1.5v1.5h-1.5zM164 131.2h1.5v3.9h-1.5zM164 135.6h1.5v9.6h-1.5zM165 144.8h1.5v30.2h-1.5zM165 121.5h1.5v1.5h-1.5zM165 123.7h1.5v1.5h-1.5zM165 133.3h1.5v11.8h-1.5zM166 144.8h1.5v30.2h-1.5zM166 114.3h1.5v1.5h-1.5zM166 132.8h1.5v4.5h-1.5zM166 138.4h1.5v7.1h-1.5zM167 144.8h1.5v30.2h-1.5zM167 117.8h1.5v1.5h-1.5zM167 120.7h1.5v5.4h-1.5zM167 132.8h1.5v12.7h-1.5zM168 144.8h1.5v30.2h-1.5zM168 118.8h1.5v2.8h-1.5zM168 121.9h1.5v1.5h-1.5zM168 123.6h1.5v8.4h-1.5zM168 134h1.5v3.2h-1.5zM168 137.5h1.5v7.7h-1.5zM169 144.8h1.5v30.2h-1.5zM169 121.1h1.5v2.8h-1.5zM169 132.4h1.5v13.1h-1.5zM170 144.8h1.5v30.2h-1.5zM170 135.5h1.5v10.1h-1.5zM171 144.8h1v30.2h-1zM171 114.6h1v4.4h-1zM171 119.7h1v5h-1zM171 125h1v2.8h-1zM171 128.1h1v17.5h-1zM144.9 114.4h1.5v1.5h-1.5zM141.3 106.3h1.4v1.5h-1.4zM141.3 112.6h1.4v1.5h-1.4zM141.3 116.8h1.4v1.5h-1.4zM141.3 132.8h1.4v1.5h-1.4zM145.3 114.5h1.4v1.5h-1.4zM145.3 124.4h1.4v1.5h-1.4zM145.3 130.9h1.4v1.5h-1.4zM145.3 134.1h1.4v1.5h-1.4zM158.3 118.5h1.4v1.5h-1.4zM158.3 133.4h1.4v1.5h-1.4zM398.8 151.6h1.5v23.4h-1.5zM398.8 128.3h1.5v2.9h-1.5zM398.8 131.8h1.5v2.9h-1.5zM398.8 135.5h1.5v16.7h-1.5zM399.8 151.6h1.5v23.4h-1.5zM399.8 136.4h1.5v1.5h-1.5zM399.8 138.4h1.5v2.7h-1.5zM399.8 141.6h1.5v10.8h-1.5zM400.8 151.6h1.5v23.4h-1.5zM400.8 131.3h1.5v1.5h-1.5zM400.8 133.4h1.5v18.7h-1.5zM401.8 151.6h1.5v23.4h-1.5zM401.8 129.8h1.5v1.5h-1.5zM401.8 131.7h1.5v20.2h-1.5zM402.8 151.6h1.5v23.4h-1.5zM402.8 117.3h1.5v1.5h-1.5zM402.8 119h1.5v7.4h-1.5zM402.8 132.3h1.5v1.5h-1.5zM402.8 140.9h1.5v2.9h-1.5zM402.8 144.5h1.5v7.8h-1.5zM403.8 151.6h1.5v23.4h-1.5zM403.8 133.1h1.5v2.3h-1.5zM403.8 141.9h1.5v10.2h-1.5zM404.8 151.6h1.5v23.4h-1.5zM404.8 136.6h1.5v1.5h-1.5zM404.8 146.3h1.5v5.6h-1.5zM405.8 151.6h1.5v23.4h-1.5zM405.8 131.8h1.5v1.5h-1.5zM405.8 133.8h1.5v2.4h-1.5zM405.8 136.7h1.5v1.5h-1.5zM405.8 140.2h1.5v11.9h-1.5zM406.8 151.6h1.5v23.4h-1.5zM406.8 143.1h1.5v9.1h-1.5zM407.8 151.6h1.5v23.4h-1.5zM407.8 119.3h1.5v1.5h-1.5zM407.8 121.1h1.5v1.5h-1.5zM407.8 123h1.5v5.3h-1.5zM407.8 129.1h1.5v9.9h-1.5zM407.8 139.5h1.5v12.6h-1.5zM408.8 151.6h1.5v23.4h-1.5zM408.8 126.8h1.5v1.5h-1.5zM408.8 140.5h1.5v11.8h-1.5zM409.8 151.6h1.5v23.4h-1.5zM409.8 123.5h1.5v16.2h-1.5zM409.8 139.9h1.5v12.4h-1.5zM410.8 151.6h1.5v23.4h-1.5zM410.8 116.9h1.5v4.4h-1.5zM410.8 125.2h1.5v4.7h-1.5zM410.8 130.4h1.5v21.9h-1.5zM411.8 151.6h1.5v23.4h-1.5zM411.8 118.6h1.5v1.5h-1.5zM411.8 120.5h1.5v1.5h-1.5zM411.8 122.4h1.5v2.9h-1.5zM411.8 125.5h1.5v2.7h-1.5zM411.8 128.9h1.5v4.3h-1.5zM411.8 133.7h1.5v1.5h-1.5zM411.8 135.5h1.5v1.5h-1.5zM411.8 140.1h1.5v1.5h-1.5zM411.8 142h1.5v10h-1.5zM412.8 151.6h0.5v23.4h-0.5zM412.8 118h0.5v1.5h-0.5zM412.8 120.2h0.5v2.8h-0.5zM412.8 123.7h0.5v1.5h-0.5zM412.8 140.8h0.5v1.5h-0.5zM412.8 142.6h0.5v9.8h-0.5zM405.3 110.4h1.4v1.5h-1.4zM405.3 117h1.4v1.5h-1.4zM405.3 119.5h1.4v1.5h-1.4zM405.3 122.6h1.4v1.5h-1.4zM405.3 124.8h1.4v1.5h-1.4zM405.3 134.3h1.4v1.5h-1.4zM405.3 138h1.4v1.5h-1.4zM405.3 142.6h1.4v1.5h-1.4z"/>
<path fill="#e8a225" d="M173 148.5h1.5v26.5h-1.5zM173 129h1.5v1.5h-1.5zM173 131.3h1.5v1.6h-1.5zM173 133.4h1.5v1.5h-1.5zM173 135.5h1.5v13.6h-1.5zM174 148.5h1.5v26.5h-1.5zM174 142.4h1.5v6.8h-1.5zM175 148.5h1.5v26.5h-1.5zM175 126.8h1.5v5.5h-1.5zM175 132.7h1.5v1.5h-1.5zM175 135.1h1.5v3.8h-1.5zM175 139.2h1.5v9.8h-1.5zM176 148.5h1.5v26.5h-1.5zM176 127.9h1.5v2.7h-1.5zM176 130.9h1.5v2.9h-1.5zM176 134h1.5v15.1h-1.5zM177 148.5h1.5v26.5h-1.5zM177 130.5h1.5v1.5h-1.5zM177 135.5h1.5v2.5h-1.5zM177 138.5h1.5v10.7h-1.5zM178 148.5h1.5v26.5h-1.5zM178 125.2h1.5v3.1h-1.5zM178 128.6h1.5v10.8h-1.5zM178 139.7h1.5v9.5h-1.5zM179 148.5h1.5v26.5h-1.5zM179 119.1h1.5v1.5h-1.5zM179 121.1h1.5v2.4h-1.5zM179 128.9h1.5v2.5h-1.5zM179 133.4h1.5v3.3h-1.5zM179 137.3h1.5v11.9h-1.5zM180 148.5h1.5v26.5h-1.5zM180 134h1.5v1.5h-1.5zM180 141.1h1.5v8.1h-1.5zM181 148.5h1.5v26.5h-1.5zM181 128.8h1.5v2.5h-1.5zM181 131.6h1.5v2.8h-1.5zM181 135h1.5v14.2h-1.5zM182 148.5h1.5v26.5h-1.5zM182 113.6h1.5v8.6h-1.5zM182 122.6h1.5v1.5h-1.5zM182 126.5h1.5v4.2h-1.5zM182 131.2h1.5v1.5h-1.5zM182 133.5h1.5v15.7h-1.5zM183 148.5h1.5v26.5h-1.5zM183 124.2h1.5v1.5h-1.5zM183 126.4h1.5v1.5h-1.5zM183 128.4h1.5v1.5h-1.5zM183 130.2h1.5v1.5h-1.5zM183 131.9h1.5v1.5h-1.5zM183 133.9h1.5v2.6h-1.5zM183 136.8h1.5v1.5h-1.5zM183 139.2h1.5v10h-1.5zM184 148.5h1.5v26.5h-1.5zM184 121.4h1.5v15h-1.5zM184 136.8h1.5v12.4h-1.5zM185 148.5h1.5v26.5h-1.5zM185 130.8h1.5v10.9h-1.5zM185 142.2h1.5v1.5h-1.5zM185 145.5h1.5v2.8h-1.5zM186 148.5h1.5v26.5h-1.5zM186 112.5h1.5v1.5h-1.5zM186 125h1.5v5.3h-1.5zM186 130.6h1.5v1.5h-1.5zM186 132.9h1.5v1.5h-1.5zM186 134.8h1.5v14.3h-1.5zM187 148.5h1.5v26.5h-1.5zM187 121.4h1.5v1.5h-1.5zM187 123.4h1.5v2.9h-1.5zM187 127.4h1.5v1.5h-1.5zM187 138.6h1.5v10.6h-1.5zM188 148.5h1.5v26.5h-1.5zM188 120.8h1.5v1.5h-1.5zM188 126.4h1.5v22.7h-1.5zM189 148.5h1.5v26.5h-1.5zM189 134.3h1.5v14.7h-1.5zM190 148.5h1.5v26.5h-1.5zM190 119.4h1.5v1.5h-1.5zM190 121.3h1.5v1.5h-1.5zM190 123.2h1.5v1.5h-1.5zM190 125.3h1.5v3.8h-1.5zM190 131h1.5v10.6h-1.5zM190 142.1h1.5v1.5h-1.5zM190 144h1.5v5.2h-1.5zM191 148.5h1.5v26.5h-1.5zM191 116.9h1.5v3h-1.5zM191 120.2h1.5v2.7h-1.5zM191 123.3h1.5v4.2h-1.5zM191 128h1.5v1.5h-1.5zM191 140.5h1.5v8.6h-1.5zM192 148.5h1.5v26.5h-1.5zM192 115.1h1.5v2.3h-1.5zM192 118.2h1.5v13.8h-1.5zM192 136.9h1.5v5.8h-1.5zM192 143.4h1.5v5.8h-1.5zM193 148.5h1.5v26.5h-1.5zM193 123.4h1.5v6.2h-1.5zM193 130.3h1.5v1.5h-1.5zM193 134.3h1.5v1.5h-1.5zM193 142.4h1.5v6.8h-1.5zM194 148.5h1.5v26.5h-1.5zM194 129.9h1.5v6.6h-1.5zM194 138.7h1.5v3h-1.5zM194 142.2h1.5v1.5h-1.5zM194 144h1.5v4.9h-1.5zM195 148.5h1.5v26.5h-1.5zM195 125.6h1.5v5.3h-1.5zM195 138.3h1.5v2.4h-1.5zM195 141.2h1.5v7.9h-1.5zM196 148.5h1.5v26.5h-1.5zM196 133.6h1.5v3.2h-1.5zM196 139.6h1.5v9.6h-1.5zM197 148.5h1.5v26.5h-1.5zM197 131h1.5v17.8h-1.5zM198 148.5h1.5v26.5h-1.5zM198 118.3h1.5v1.5h-1.5zM198 120.4h1.5v1.5h-1.5zM198 122.1h1.5v1.5h-1.5zM198 124.3h1.5v8.3h-1.5zM198 132.8h1.5v16.4h-1.5zM199 148.5h1.5v26.5h-1.5zM199 116.5h1.5v2.9h-1.5zM199 129.8h1.5v3.7h-1.5zM199 134.2h1.5v15h-1.5zM200 148.5h1.5v26.5h-1.5zM200 112.8h1.5v1.5h-1.5zM200 114.7h1.5v3.1h-1.5zM200 118h1.5v1.5h-1.5zM200 120h1.5v1.5h-1.5zM200 121.9h1.5v1.5h-1.5zM200 123.7h1.5v1.5h-1.5zM200 135.6h1.5v13.5h-1.5zM201 148.5h1.5v26.5h-1.5zM201 118.4h1.5v1.5h-1.5zM201 121.9h1.5v2.3h-1.5zM201 124.9h1.5v4h-1.5zM201 129.7h1.5v1.5h-1.5zM201 131.5h1.5v2.9h-1.5zM201 135h1.5v14.2h-1.5zM202 148.5h0.5v26.5h-0.5zM202 123.9h0.5v5.3h-0.5zM202 129.7h0.5v3.1h-0.5zM202 138.1h0.5v11.2h-0.5zM180 118.9h1.5v1.5h-1.5zM179.3 103.6h1.4v1.5h-1.4zM179.3 112.2h1.4v3h-1.4zM179.3 116.3h1.4v1.5h-1.4zM179.3 118.4h1.4v1.5h-1.4zM179.3 121.6h1.4v1.5h-1.4zM179.3 126.2h1.4v1.5h-1.4zM179.3 128.5h1.4v1.5h-1.4zM179.3 134.3h1.4v1.5h-1.4zM179.3 136.5h1.4v1.5h-1.4zM188.3 103.6h1.4v1.5h-1.4zM188.3 109.5h1.4v1.5h-1.4zM188.3 117.3h1.4v1.5h-1.4zM188.3 127.5h1.4v1.5h-1.4zM188.3 133.6h1.4v1.5h-1.4zM188.3 135.8h1.4v1.5h-1.4zM194.3 113.1h1.4v1.5h-1.4zM194.3 119.5h1.4v1.5h-1.4zM194.3 126.6h1.4v3h-1.4zM194.3 135.2h1.4v1.5h-1.4zM415 149h1.5v26h-1.5zM415 120.7h1.5v1.5h-1.5zM415 126.9h1.5v1.5h-1.5zM415 129.1h1.5v2.5h-1.5zM415 134.8h1.5v4.5h-1.5zM415 139.5h1.5v10h-1.5zM416 149h1.5v26h-1.5zM416 116.8h1.5v1.5h-1.5zM416 118.8h1.5v1.5h-1.5zM416 124h1.5v1.5h-1.5zM416 129.6h1.5v20h-1.5zM417 149h1.5v26h-1.5zM417 127.3h1.5v1.5h-1.5zM417 132.8h1.5v4.6h-1.5zM417 137.9h1.5v11.8h-1.5zM418 149h1.5v26h-1.5zM418 113.6h1.5v1.5h-1.5zM418 115.8h1.5v8.2h-1.5zM418 124.7h1.5v5.7h-1.5zM418 137.7h1.5v11.8h-1.5zM419 149h1.5v26h-1.5zM419 116.2h1.5v9.2h-1.5zM419 126h1.5v2.7h-1.5zM419 129h1.5v1.5h-1.5zM419 130.9h1.5v18.9h-1.5zM420 149h1.5v26h-1.5zM420 133.5h1.5v5.3h-1.5zM420 139.1h1.5v4.3h-1.5zM420 144h1.5v5.4h-1.5zM421 149h1.5v26h-1.5zM421 141.7h1.5v2.4h-1.5zM421 146h1.5v3.7h-1.5zM422 149h1.5v26h-1.5zM422 119.8h1.5v1.5h-1.5zM422 126.3h1.5v6.6h-1.5zM422 133.5h1.5v9.6h-1.5zM422 143.6h1.5v5.9h-1.5zM423 149h1.5v26h-1.5zM423 118.8h1.5v4h-1.5zM423 123.6h1.5v16.3h-1.5zM423 140.4h1.5v3.7h-1.5zM423 145h1.5v4.6h-1.5zM424 149h1.5v26h-1.5zM424 121h1.5v2.6h-1.5zM424 126.9h1.5v10.1h-1.5zM424 137.5h1.5v12.2h-1.5zM425 149h1.5v26h-1.5zM425 122h1.5v1.5h-1.5zM425 136.1h1.5v3.4h-1.5zM425 139.8h1.5v5h-1.5zM425 146.1h1.5v3.4h-1.5zM426 149h0.8v26h-0.8zM426 128.1h0.8v7.1h-0.8zM426 135.6h0.8v13.6h-0.8zM415.1 80.5h1.4v1.5h-1.4zM415.1 85.6h1.4v1.5h-1.4zM415.1 91.5h1.4v1.5h-1.4zM415.1 93.5h1.4v1.5h-1.4zM415.1 97.3h1.4v1.5h-1.4zM415.1 100h1.4v1.5h-1.4zM415.1 104.5h1.4v1.5h-1.4zM415.1 109.1h1.4v1.5h-1.4zM415.1 111.3h1.4v1.5h-1.4zM415.1 117h1.4v1.5h-1.4zM415.1 119.1h1.4v1.5h-1.4zM415.1 121.2h1.4v1.5h-1.4zM415.1 123.8h1.4v1.5h-1.4zM415.1 127.9h1.4v1.5h-1.4zM415.1 130.8h1.4v1.5h-1.4zM422.3 99.5h1.4v1.5h-1.4zM422.3 103.4h1.4v1.5h-1.4zM422.3 107h1.4v1.5h-1.4zM422.3 109.9h1.4v1.5h-1.4zM422.3 114.5h1.4v1.5h-1.4zM422.3 117.7h1.4v1.5h-1.4zM422.3 124.2h1.4v1.5h-1.4zM422.3 128.4h1.4v1.5h-1.4zM422.3 138.3h1.4v1.5h-1.4z"/>
<path fill="#fdfd35" d="M203 148.4h1.5v26.6h-1.5zM203 119.4h1.5v5.6h-1.5zM203 125.7h1.5v1.5h-1.5zM203 142.5h1.5v6.5h-1.5zM204 148.4h1.5v26.6h-1.5zM204 119.8h1.5v15.7h-1.5zM204 138.6h1.5v10.4h-1.5zM205 148.4h1.5v26.6h-1.5zM205 119.1h1.5v6.9h-1.5zM205 129.4h1.5v19.7h-1.5zM206 148.4h1.5v26.6h-1.5zM206 138h1.5v1.5h-1.5zM206 140.2h1.5v8.8h-1.5zM207 148.4h1.5v26.6h-1.5zM207 132h1.5v1.5h-1.5zM207 142.6h1.5v6.5h-1.5zM208 148.4h1.5v26.6h-1.5zM208 140.8h1.5v8.3h-1.5zM209 148.4h1.5v26.6h-1.5zM209 130.7h1.5v18.3h-1.5zM210 148.4h1.5v26.6h-1.5zM210 117.6h1.5v7.5h-1.5zM210 133.4h1.5v1.5h-1.5zM210 139.8h1.5v9.3h-1.5zM211 148.4h1.5v26.6h-1.5zM211 119.1h1.5v1.5h-1.5zM211 121.1h1.5v1.5h-1.5zM211 126.2h1.5v7.4h-1.5zM211 134h1.5v5.4h-1.5zM211 139.9h1.5v9.1h-1.5zM212 148.4h1.5v26.6h-1.5zM212 118.7h1.5v2.8h-1.5zM212 121.9h1.5v13.3h-1.5zM212 135.7h1.5v13.4h-1.5zM213 148.4h1.5v26.6h-1.5zM213 133.3h1.5v15.6h-1.5zM214 148.4h1.5v26.6h-1.5zM214 122.4h1.5v1.5h-1.5zM214 131.9h1.5v2.8h-1.5zM214 137.4h1.5v11.6h-1.5zM215 148.4h1.5v26.6h-1.5zM215 115.9h1.5v1.5h-1.5zM215 117.8h1.5v1.5h-1.5zM215 139.7h1.5v9.3h-1.5zM216 148.4h1.5v26.6h-1.5zM216 133.9h1.5v15.2h-1.5zM217 148.4h1.5v26.6h-1.5zM217 126.3h1.5v3.8h-1.5zM217 130.6h1.5v18.2h-1.5zM218 148.4h1.5v26.6h-1.5zM218 120.6h1.5v2.7h-1.5zM218 124h1.5v1.5h-1.5zM218 126.1h1.5v2.4h-1.5zM218 129h1.5v4.6h-1.5zM218 134.4h1.5v5.8h-1.5zM218 140.4h1.5v8.7h-1.5zM219 148.4h1.5v26.6h-1.5zM219 138.4h1.5v1.5h-1.5zM219 140.2h1.5v8.9h-1.5zM220 148.4h1.5v26.6h-1.5zM220 127.8h1.5v3.1h-1.5zM220 131.3h1.5v17.2h-1.5zM221 148.4h1.5v26.6h-1.5zM221 125.7h1.5v12.2h-1.5zM221 138.1h1.5v10.8h-1.5zM222 148.4h1.5v26.6h-1.5zM222 131.7h1.5v1.5h-1.5zM222 133.8h1.5v1.5h-1.5zM222 135.7h1.5v1.5h-1.5zM222 137.5h1.5v11.5h-1.5zM223 148.4h1.5v26.6h-1.5zM223 118h1.5v3.2h-1.5zM223 121.3h1.5v1.5h-1.5zM223 123.5h1.5v3.3h-1.5zM223 131.5h1.5v2.7h-1.5zM223 134.8h1.5v3.2h-1.5zM223 138.2h1.5v1.5h-1.5zM223 140.7h1.5v8.3h-1.5zM224 148.4h1.5v26.6h-1.5zM224 129.5h1.5v1.5h-1.5zM224 131.6h1.5v1.5h-1.5zM224 133.3h1.5v1.5h-1.5zM224 135h1.5v13.9h-1.5zM225 148.4h1.5v26.6h-1.5zM225 131.9h1.5v2.8h-1.5zM225 135.4h1.5v13.7h-1.5zM226 148.4h1.5v26.6h-1.5zM226 132.6h1.5v2.5h-1.5zM226 135.8h1.5v4.1h-1.5zM226 140.5h1.5v8.6h-1.5zM227 148.4h1.5v26.6h-1.5zM227 124h1.5v3.4h-1.5zM227 127.7h1.5v3.9h-1.5zM227 132h1.5v3.8h-1.5zM227 136.6h1.5v12.5h-1.5zM228 148.4h1.5v26.6h-1.5zM228 131.7h1.5v5.5h-1.5zM228 137.5h1.5v11.3h-1.5zM229 148.4h1.5v26.6h-1.5zM229 127.6h1.5v4.8h-1.5zM229 134.2h1.5v1.5h-1.5zM229 136.1h1.5v13h-1.5zM230 148.4h1.5v26.6h-1.5zM230 119.2h1.5v8.8h-1.5zM230 129h1.5v19.9h-1.5zM231 148.4h1.5v26.6h-1.5zM231 115.2h1.5v1.5h-1.5zM231 117.4h1.5v1.5h-1.5zM231 133.1h1.5v1.5h-1.5zM231 139.3h1.5v9.7h-1.5zM232 148.4h1.5v26.6h-1.5zM232 132.7h1.5v1.5h-1.5zM232 134.9h1.5v3.9h-1.5zM232 140.6h1.5v1.5h-1.5zM232 142.6h1.5v6.2h-1.5zM233 148.4h1.5v26.6h-1.5zM233 130.5h1.5v8.1h-1.5zM233 139h1.5v2.9h-1.5zM233 142.4h1.5v6.6h-1.5zM234 148.4h1.5v26.6h-1.5zM234 133.1h1.5v3h-1.5zM234 140.9h1.5v3h-1.5zM234 144.2h1.5v4.9h-1.5zM235 148.4h0.8v26.6h-0.8zM235 140.4h0.8v8.6h-0.8zM209.4 112.9h1.5v1.5h-1.5zM204.3 106.3h1.4v1.5h-1.4zM204.3 112.8h1.4v1.5h-1.4zM204.3 122h1.4v1.5h-1.4zM204.3 124.7h1.4v1.5h-1.4zM204.3 126.7h1.4v1.5h-1.4zM204.3 131.1h1.4v3.2h-1.4zM216.3 106.3h1.4v1.5h-1.4zM216.3 113.4h1.4v1.5h-1.4zM216.3 115.3h1.4v3.1h-1.4zM216.3 119.2h1.4v1.5h-1.4zM216.3 121.2h1.4v1.5h-1.4zM216.3 123.1h1.4v1.5h-1.4zM216.3 127.2h1.4v1.5h-1.4zM428 150.4h1.5v24.6h-1.5zM428 118h1.5v3.1h-1.5zM428 128.2h1.5v1.5h-1.5zM428 137.9h1.5v13.2h-1.5zM429 150.4h1.5v24.6h-1.5zM429 131.9h1.5v2.7h-1.5zM429 135.1h1.5v1.5h-1.5zM429 140h1.5v11.1h-1.5zM430 150.4h1.5v24.6h-1.5zM430 116.8h1.5v1.5h-1.5zM430 118.6h1.5v1.5h-1.5zM430 122.8h1.5v2.3h-1.5zM430 125.4h1.5v3.2h-1.5zM430 129.3h1.5v1.5h-1.5zM430 131.1h1.5v2.6h-1.5zM430 134.3h1.5v16.8h-1.5zM431 150.4h1.5v24.6h-1.5zM431 123.5h1.5v2.7h-1.5zM431 126.5h1.5v2.5h-1.5zM431 131h1.5v1.5h-1.5zM431 133h1.5v2.8h-1.5zM431 136.6h1.5v14.5h-1.5zM432 150.4h1.5v24.6h-1.5zM432 136.9h1.5v2.5h-1.5zM432 142.9h1.5v7.6h-1.5zM433 150.4h1.5v24.6h-1.5zM433 120h1.5v2.9h-1.5zM433 123.7h1.5v27.4h-1.5zM434 150.4h1.5v24.6h-1.5zM434 120.6h1.5v1.5h-1.5zM434 122.5h1.5v1.5h-1.5zM434 124.8h1.5v1.5h-1.5zM434 132h1.5v2.9h-1.5zM434 135.1h1.5v16h-1.5zM435 150.4h1.5v24.6h-1.5zM435 116.5h1.5v8.6h-1.5zM435 129.8h1.5v2.8h-1.5zM435 133.2h1.5v1.5h-1.5zM435 135.1h1.5v16h-1.5zM436 150.4h1.5v24.6h-1.5zM436 120.6h1.5v4.8h-1.5zM436 126.1h1.5v1.5h-1.5zM436 128.2h1.5v8h-1.5zM436 136.7h1.5v4.7h-1.5zM436 142.1h1.5v8.9h-1.5zM437 150.4h1.5v24.6h-1.5zM437 122.7h1.5v2.9h-1.5zM437 126.4h1.5v7.9h-1.5zM437 135h1.5v7h-1.5zM437 142.4h1.5v8.7h-1.5zM438 150.4h1.5v24.6h-1.5zM438 135.5h1.5v15.6h-1.5zM439 150.4h1.5v24.6h-1.5zM439 117h1.5v2.5h-1.5zM439 120.2h1.5v2.8h-1.5zM439 130.4h1.5v2.3h-1.5zM439 135.1h1.5v1.5h-1.5zM439 137.2h1.5v1.5h-1.5zM439 140h1.5v11h-1.5zM440 150.4h1.5v24.6h-1.5zM440 127.9h1.5v1.5h-1.5zM440 132h1.5v1.5h-1.5zM440 134.2h1.5v16.5h-1.5zM441 150.4h1.5v24.6h-1.5zM441 124.8h1.5v6.1h-1.5zM441 131.6h1.5v1.5h-1.5zM441 133.5h1.5v3.1h-1.5zM441 136.9h1.5v2.9h-1.5zM441 140.3h1.5v10.7h-1.5zM442 150.4h0.5v24.6h-0.5zM442 129.9h0.5v1.5h-0.5zM442 132.2h0.5v1.5h-0.5zM442 135.9h0.5v2.6h-0.5zM442 139h0.5v12h-0.5zM430.3 99.5h1.4v1.5h-1.4zM430.3 108.2h1.4v1.5h-1.4zM430.3 113h1.4v4.3h-1.4zM430.3 118.2h1.4v1.5h-1.4zM430.3 130.8h1.4v1.5h-1.4z"/>
<path fill="#ecbec9" d="M236 144.2h1.5v30.8h-1.5zM236 131.2h1.5v1.5h-1.5zM236 133.5h1.5v2.7h-1.5zM236 136.4h1.5v8.4h-1.5zM237 144.2h1.5v30.8h-1.5zM237 127.4h1.5v16.8h-1.5zM238 144.2h1.5v30.8h-1.5zM238 116.6h1.5v1.5h-1.5zM238 118.4h1.5v2.4h-1.5zM238 121.3h1.5v1.5h-1.5zM238 123.2h1.5v1.5h-1.5zM238 127.8h1.5v1.5h-1.5zM238 129.7h1.5v15.1h-1.5zM239 144.2h1.5v30.8h-1.5zM239 113.2h1.5v1.5h-1.5zM239 118h1.5v1.5h-1.5zM239 119.7h1.5v1.5h-1.5zM239 130.2h1.5v1.5h-1.5zM239 132.1h1.5v3.5h-1.5zM239 136.5h1.5v8.4h-1.5zM240 144.2h1.5v30.8h-1.5zM240 127.7h1.5v17.1h-1.5zM241 144.2h1.5v30.8h-1.5zM241 109.1h1.5v1.5h-1.5zM241 111.1h1.5v4h-1.5zM241 115.4h1.5v2.7h-1.5zM241 118.5h1.5v2.9h-1.5zM241 127.4h1.5v16.8h-1.5zM242 144.2h1.5v30.8h-1.5zM242 111.2h1.5v3.7h-1.5zM242 115.3h1.5v4.3h-1.5zM242 131.2h1.5v1.5h-1.5zM242 133.5h1.5v1.7h-1.5zM242 135.6h1.5v9.1h-1.5zM243 144.2h1.5v30.8h-1.5zM243 115.2h1.5v1.5h-1.5zM243 117.4h1.5v10.5h-1.5zM243 129.4h1.5v1.5h-1.5zM243 131.2h1.5v13.5h-1.5zM244 144.2h1.5v30.8h-1.5zM244 122.2h1.5v1.5h-1.5zM244 131.2h1.5v13h-1.5zM245 144.2h1.5v30.8h-1.5zM245 111.5h1.5v1.5h-1.5zM245 113.3h1.5v3h-1.5zM245 116.6h1.5v1.5h-1.5zM245 118.5h1.5v1.5h-1.5zM245 120.6h1.5v1.5h-1.5zM245 122.5h1.5v1.5h-1.5zM245 124.3h1.5v2.5h-1.5zM245 127.1h1.5v1.5h-1.5zM245 128.9h1.5v3.4h-1.5zM245 132.9h1.5v11.7h-1.5zM246 144.2h1.5v30.8h-1.5zM246 116.3h1.5v1.5h-1.5zM246 118.2h1.5v1.5h-1.5zM246 120.3h1.5v7.7h-1.5zM246 128.4h1.5v1.5h-1.5zM246 130.2h1.5v14.7h-1.5zM247 144.2h1.5v30.8h-1.5zM247 130.3h1.5v14.5h-1.5zM248 144.2h1.5v30.8h-1.5zM248 118h1.5v1.5h-1.5zM248 128.5h1.5v1.5h-1.5zM248 130.3h1.5v1.5h-1.5zM248 132.1h1.5v12.8h-1.5zM249 144.2h1.5v30.8h-1.5zM249 126.3h1.5v3.5h-1.5zM249 132.4h1.5v3h-1.5zM249 136.3h1.5v8.5h-1.5zM250 144.2h1.5v30.8h-1.5zM250 110h1.5v4.8h-1.5zM250 120.7h1.5v1.5h-1.5zM250 122.8h1.5v1.5h-1.5zM250 125h1.5v1.5h-1.5zM250 128.5h1.5v16.1h-1.5zM251 144.2h1.5v30.8h-1.5zM251 112.5h1.5v5.4h-1.5zM251 129.7h1.5v15.2h-1.5zM252 144.2h1.5v30.8h-1.5zM252 113.3h1.5v2.7h-1.5zM252 120.7h1.5v1.5h-1.5zM252 122.4h1.5v1.5h-1.5zM252 124.4h1.5v20.3h-1.5zM253 144.2h1.5v30.8h-1.5zM253 127.5h1.5v3.3h-1.5zM253 131.3h1.5v13.5h-1.5zM254 144.2h1.5v30.8h-1.5zM254 119.1h1.5v1.5h-1.5zM254 123.7h1.5v3.7h-1.5zM254 127.7h1.5v4.6h-1.5zM254 132.8h1.5v4.7h-1.5zM254 137.9h1.5v6.9h-1.5zM255 144.2h1.5v30.8h-1.5zM255 110.5h1.5v3.1h-1.5zM255 125.6h1.5v5.2h-1.5zM255 131.3h1.5v2.1h-1.5zM255 133.7h1.5v1.6h-1.5zM255 135.6h1.5v9h-1.5zM256 144.2h1.5v30.8h-1.5zM256 126.4h1.5v3.7h-1.5zM256 131.4h1.5v13.4h-1.5zM257 144.2h1.5v30.8h-1.5zM257 134.1h1.5v10.5h-1.5zM258 144.2h1.5v30.8h-1.5zM258 123.8h1.5v7.1h-1.5zM258 131.2h1.5v1.5h-1.5zM258 133.2h1.5v1.5h-1.5zM258 135.2h1.5v8.8h-1.5zM259 144.2h1.5v30.8h-1.5zM259 116.7h1.5v1.5h-1.5zM259 118.7h1.5v1.5h-1.5zM259 120.5h1.5v1.5h-1.5zM259 127.2h1.5v1.5h-1.5zM259 132.7h1.5v1.5h-1.5zM259 134.8h1.5v3.7h-1.5zM259 138.8h1.5v5.9h-1.5zM260 144.2h1.5v30.8h-1.5zM260 120.3h1.5v24.6h-1.5zM261 144.2h1.5v30.8h-1.5zM261 122h1.5v1.5h-1.5zM261 124h1.5v1.5h-1.5zM261 126.1h1.5v2.9h-1.5zM261 129.3h1.5v2.8h-1.5zM261 138.3h1.5v6.5h-1.5zM262 144.2h1.5v30.8h-1.5zM262 118.5h1.5v3h-1.5zM262 121.9h1.5v4.1h-1.5zM262 126.3h1.5v18.6h-1.5zM263 144.2h0.8v30.8h-0.8zM263 125.8h0.8v1.5h-0.8zM263 131.4h0.8v2.5h-0.8zM263 136.2h0.8v8.6h-0.8zM251.2 114.1h1.5v1.5h-1.5zM239.3 99.5h1.4v1.5h-1.4zM239.3 105.8h1.4v1.5h-1.4zM239.3 108.9h1.4v1.5h-1.4zM239.3 113.6h1.4v1.5h-1.4zM239.3 123.3h1.4v1.5h-1.4zM239.3 129.3h1.4v1.5h-1.4zM239.3 131.5h1.4v2.9h-1.4zM251.3 100.9h1.4v1.5h-1.4zM251.3 104.9h1.4v1.5h-1.4zM251.3 109.6h1.4v1.5h-1.4zM251.3 113.9h1.4v1.5h-1.4zM251.3 120.6h1.4v1.5h-1.4zM251.3 124.6h1.4v1.5h-1.4zM251.3 131.9h1.4v1.5h-1.4zM245.3 84.6h1.4v1.5h-1.4zM245.3 88.5h1.4v1.5h-1.4zM245.3 92.8h1.4v1.5h-1.4zM245.3 99.9h1.4v1.5h-1.4zM245.3 106.4h1.4v1.5h-1.4zM245.3 108.9h1.4v1.5h-1.4zM245.3 117.3h1.4v1.5h-1.4zM245.3 121.1h1.4v1.5h-1.4zM245.3 127.7h1.4v1.5h-1.4zM444 147.1h1.5v27.9h-1.5zM444 115.7h1.5v2.6h-1.5zM444 118.7h1.5v2.7h-1.5zM444 121.8h1.5v3.2h-1.5zM444 125.2h1.5v1.5h-1.5zM444 141.9h1.5v5.7h-1.5zM445 147.1h1.5v27.9h-1.5zM445 117h1.5v1.5h-1.5zM445 124.5h1.5v4.4h-1.5zM445 132.7h1.5v2.4h-1.5zM445 135.9h1.5v4.1h-1.5zM445 140.5h1.5v7.3h-1.5zM446 147.1h1.5v27.9h-1.5zM446 122.4h1.5v1.5h-1.5zM446 137.4h1.5v10.4h-1.5zM447 147.1h1.5v27.9h-1.5zM447 124.2h1.5v3h-1.5zM447 128h1.5v19.8h-1.5zM448 147.1h1.5v27.9h-1.5zM448 133.7h1.5v1.5h-1.5zM448 135.8h1.5v1.5h-1.5zM448 138.1h1.5v9.6h-1.5zM449 147.1h1.5v27.9h-1.5zM449 117.1h1.5v1.5h-1.5zM449 118.8h1.5v1.5h-1.5zM449 120.5h1.5v5.4h-1.5zM449 126.4h1.5v1.5h-1.5zM449 129.3h1.5v1.5h-1.5zM449 131.1h1.5v1.5h-1.5zM449 132.8h1.5v3.8h-1.5zM449 137.7h1.5v1.5h-1.5zM449 139.7h1.5v8.1h-1.5zM450 147.1h1.5v27.9h-1.5zM450 128.8h1.5v18.7h-1.5zM451 147.1h1.5v27.9h-1.5zM451 131.9h1.5v2.5h-1.5zM451 134.6h1.5v1.5h-1.5zM451 136.4h1.5v11.4h-1.5zM452 147.1h1.5v27.9h-1.5zM452 115.6h1.5v5.7h-1.5zM452 121.8h1.5v7h-1.5zM452 129.2h1.5v3h-1.5zM452 132.9h1.5v1.5h-1.5zM452 136.6h1.5v11.1h-1.5zM453 147.1h1.5v27.9h-1.5zM453 124.8h1.5v2.7h-1.5zM453 127.7h1.5v1.5h-1.5zM453 129.9h1.5v2.5h-1.5zM453 133.1h1.5v14.4h-1.5zM454 147.1h0.5v27.9h-0.5zM454 118.4h0.5v8.4h-0.5zM454 127h0.5v1.5h-0.5zM454 130.4h0.5v1.5h-0.5zM454 137.4h0.5v10.5h-0.5zM446.3 104.9h1.4v1.5h-1.4zM446.3 112.5h1.4v1.5h-1.4zM446.3 117.3h1.4v1.5h-1.4zM446.3 120.7h1.4v1.5h-1.4zM446.3 128.1h1.4v1.5h-1.4zM446.3 132.3h1.4v2.9h-1.4zM446.3 136h1.4v1.5h-1.4zM446.3 138.2h1.4v1.5h-1.4z"/>
<path fill="#8a38e6" d="M264 144.7h1.5v30.3h-1.5zM264 132.6h1.5v12.5h-1.5zM265 144.7h1.5v30.3h-1.5zM265 120.8h1.5v3.5h-1.5zM265 124.9h1.5v9h-1.5zM265 134.4h1.5v11h-1.5zM266 144.7h1.5v30.3h-1.5zM266 124.6h1.5v20.7h-1.5zM267 144.7h1.5v30.3h-1.5zM267 117.9h1.5v1.5h-1.5zM267 119.8h1.5v1.5h-1.5zM267 121.6h1.5v1.5h-1.5zM267 123.9h1.5v3.8h-1.5zM267 128.3h1.5v2.7h-1.5zM267 131.5h1.5v13.8h-1.5zM268 144.7h1.5v30.3h-1.5zM268 123.8h1.5v1.5h-1.5zM268 126h1.5v1.5h-1.5zM268 128.2h1.5v17h-1.5zM269 144.7h1.5v30.3h-1.5zM269 112.2h1.5v1.5h-1.5zM269 125.1h1.5v20.4h-1.5zM270 144.7h1.5v30.3h-1.5zM270 132.1h1.5v1.5h-1.5zM270 133.9h1.5v11.1h-1.5zM271 144.7h1.5v30.3h-1.5zM271 138.2h1.5v7.1h-1.5zM272 144.7h1.5v30.3h-1.5zM272 115.8h1.5v2.5h-1.5zM272 124.9h1.5v1.5h-1.5zM272 126.6h1.5v1.5h-1.5zM272 128.7h1.5v1.5h-1.5zM272 130.7h1.5v1.5h-1.5zM272 132.6h1.5v12.8h-1.5zM273 144.7h1.5v30.3h-1.5zM273 132.2h1.5v13.2h-1.5zM274 144.7h1.5v30.3h-1.5zM274 127.3h1.5v17.7h-1.5zM275 144.7h1.5v30.3h-1.5zM275 117h1.5v3h-1.5zM275 120.5h1.5v3.1h-1.5zM275 124h1.5v4.4h-1.5zM275 131.9h1.5v1.5h-1.5zM275 133.9h1.5v1.5h-1.5zM275 136.9h1.5v8.5h-1.5zM276 144.7h1.5v30.3h-1.5zM276 115.9h1.5v7h-1.5zM276 132h1.5v13.3h-1.5zM277 144.7h1.5v30.3h-1.5zM277 109.2h1.5v4h-1.5zM277 113.5h1.5v3.7h-1.5zM277 117.8h1.5v7.2h-1.5zM277 125.6h1.5v3.4h-1.5zM277 129.7h1.5v1.5h-1.5zM277 135.5h1.5v9.9h-1.5zM278 144.7h1.5v30.3h-1.5zM278 126.4h1.5v1.5h-1.5zM278 129.6h1.5v15.8h-1.5zM279 144.7h1.5v30.3h-1.5zM279 137.1h1.5v8.2h-1.5zM280 144.7h1.5v30.3h-1.5zM280 132.7h1.5v12.8h-1.5zM281 144.7h1.5v30.3h-1.5zM281 111.5h1.5v2.8h-1.5zM281 114.7h1.5v3.1h-1.5zM281 118.5h1.5v1.5h-1.5zM281 120.6h1.5v1.7h-1.5zM281 122.9h1.5v5.7h-1.5zM281 129.4h1.5v15.9h-1.5zM282 144.7h1.5v30.3h-1.5zM282 116.5h1.5v5.9h-1.5zM282 124.2h1.5v2.9h-1.5zM282 127.6h1.5v1.5h-1.5zM282 129.9h1.5v4.2h-1.5zM282 134.6h1.5v1.8h-1.5zM282 137.1h1.5v1.5h-1.5zM282 138.9h1.5v2.1h-1.5zM282 141.2h1.5v4.2h-1.5zM283 144.7h1.5v30.3h-1.5zM283 118.5h1.5v3.1h-1.5zM283 122h1.5v10.9h-1.5zM283 134.2h1.5v1.5h-1.5zM283 139.5h1.5v5.6h-1.5zM284 144.7h1.5v30.3h-1.5zM284 125.4h1.5v2.5h-1.5zM284 128.3h1.5v2.6h-1.5zM284 131.4h1.5v4h-1.5zM284 135.7h1.5v9.4h-1.5zM285 144.7h1.5v30.3h-1.5zM285 121h1.5v1.5h-1.5zM285 123.1h1.5v4.8h-1.5zM285 128.3h1.5v1.5h-1.5zM285 130h1.5v10.7h-1.5zM285 141.2h1.5v3.8h-1.5zM286 144.7h1.5v30.3h-1.5zM286 130.2h1.5v2.9h-1.5zM286 133.3h1.5v11.5h-1.5zM287 144.7h1.5v30.3h-1.5zM287 131.6h1.5v3h-1.5zM287 135.6h1.5v9.6h-1.5zM288 144.7h1.2v30.3h-1.2zM288 110.4h1.2v12.7h-1.2zM288 123.5h1.2v4.4h-1.2zM288 128.5h1.2v16.8h-1.2zM289 144.7h0.2v30.3h-0.2zM289 121h0.2v3.8h-0.2zM289 125.1h0.2v1.5h-0.2zM289 131.7h0.2v1.5h-0.2zM289 136.7h0.2v1.5h-0.2zM289 138.4h0.2v7h-0.2zM287.2 117.9h1.5v1.5h-1.5zM266.3 102.2h1.4v1.5h-1.4zM266.3 108.4h1.4v1.5h-1.4zM266.3 114.7h1.4v1.5h-1.4zM266.3 122.1h1.4v3.2h-1.4zM266.3 128.2h1.4v1.5h-1.4zM266.3 130.1h1.4v1.5h-1.4zM281.3 90h1.4v1.5h-1.4zM281.3 97.7h1.4v1.5h-1.4zM281.3 102.3h1.4v1.5h-1.4zM281.3 109.7h1.4v1.5h-1.4zM281.3 122h1.4v1.5h-1.4zM281.3 125.3h1.4v1.5h-1.4zM281.3 128.9h1.4v1.5h-1.4zM281.3 132.4h1.4v1.5h-1.4zM287.3 84.6h1.4v1.5h-1.4zM287.3 91.4h1.4v1.5h-1.4zM287.3 93.2h1.4v2.9h-1.4zM287.3 97.5h1.4v1.5h-1.4zM287.3 99.3h1.4v1.5h-1.4zM287.3 105.2h1.4v1.5h-1.4zM287.3 110.6h1.4v1.5h-1.4zM287.3 113.3h1.4v1.5h-1.4zM287.3 119.4h1.4v1.5h-1.4zM287.3 123.6h1.4v1.5h-1.4zM287.3 126h1.4v1.5h-1.4zM287.3 132.5h1.4v1.5h-1.4zM269.3 92.7h1.4v1.5h-1.4zM269.3 106.5h1.4v1.5h-1.4zM269.3 115.8h1.4v1.5h-1.4zM269.3 129.6h1.4v3h-1.4zM269.3 132.8h1.4v1.5h-1.4zM456 149.9h1.5v25.1h-1.5zM456 124.5h1.5v1.5h-1.5zM456 126.8h1.5v1.5h-1.5zM456 128.9h1.5v1.5h-1.5zM456 132.1h1.5v3.5h-1.5zM456 136.1h1.5v1.5h-1.5zM456 138h1.5v12.5h-1.5zM457 149.9h1.5v25.1h-1.5zM457 122.9h1.5v1.5h-1.5zM457 128.8h1.5v6.5h-1.5zM457 135.5h1.5v3.7h-1.5zM457 139.8h1.5v4.4h-1.5zM457 144.4h1.5v6.2h-1.5zM458 149.9h1.5v25.1h-1.5zM458 117.6h1.5v1.5h-1.5zM458 129.2h1.5v1.5h-1.5zM458 131.3h1.5v19h-1.5zM459 149.9h1.5v25.1h-1.5zM459 136.1h1.5v2.6h-1.5zM459 139.3h1.5v1.5h-1.5zM459 141.1h1.5v9.2h-1.5zM460 149.9h1.5v25.1h-1.5zM460 121.8h1.5v1.5h-1.5zM460 123.5h1.5v7.2h-1.5zM460 137h1.5v13.6h-1.5zM461 149.9h1.5v25.1h-1.5zM461 116.3h1.5v1.5h-1.5zM461 119.3h1.5v3h-1.5zM461 135.9h1.5v1.5h-1.5zM461 141.7h1.5v8.6h-1.5zM462 149.9h1.5v25.1h-1.5zM462 137.3h1.5v2.3h-1.5zM462 141.4h1.5v9.1h-1.5zM463 149.9h1.5v25.1h-1.5zM463 117.4h1.5v1.5h-1.5zM463 119.6h1.5v9h-1.5zM463 133.8h1.5v1.5h-1.5zM463 135.9h1.5v3.6h-1.5zM463 140.4h1.5v10.2h-1.5zM464 149.9h1.5v25.1h-1.5zM464 123.3h1.5v1.5h-1.5zM464 125.3h1.5v1.5h-1.5zM464 127.4h1.5v19.5h-1.5zM464 147.3h1.5v3.2h-1.5zM465 149.9h1.5v25.1h-1.5zM465 126.9h1.5v5.4h-1.5zM465 132.6h1.5v3.7h-1.5zM465 136.5h1.5v1.5h-1.5zM465 138.4h1.5v11.9h-1.5zM466 149.9h1.5v25.1h-1.5zM466 122.9h1.5v2.8h-1.5zM466 139h1.5v11.6h-1.5zM467 149.9h1.5v25.1h-1.5zM467 140.9h1.5v9.7h-1.5zM468 149.9h1v25.1h-1zM468 122.2h1v3.7h-1zM468 127.7h1v1.5h-1zM468 129.9h1v4.3h-1zM468 134.6h1v15.8h-1zM466.3 95.4h1.4v1.5h-1.4zM466.3 104.7h1.4v1.5h-1.4zM466.3 113.2h1.4v1.5h-1.4zM466.3 117.7h1.4v1.5h-1.4zM466.3 120h1.4v1.5h-1.4zM466.3 131.3h1.4v1.5h-1.4zM466.3 137.3h1.4v1.5h-1.4zM466.3 139.9h1.4v1.5h-1.4zM463.3 103.6h1.4v1.5h-1.4zM463.3 108.9h1.4v1.5h-1.4zM463.3 121.6h1.4v1.5h-1.4zM463.3 125.3h1.4v1.5h-1.4zM463.3 127.7h1.4v1.5h-1.4zM463.3 138.3h1.4v1.5h-1.4z"/>
<path fill="#b4d6e6" d="M290.5 150.7h1.5v24.3h-1.5zM290.5 118.4h1.5v1.5h-1.5zM290.5 120.6h1.5v1.5h-1.5zM290.5 122.5h1.5v1.5h-1.5zM290.5 133.8h1.5v1.5h-1.5zM290.5 135.6h1.5v15.7h-1.5zM291.5 150.7h1.5v24.3h-1.5zM291.5 129.8h1.5v2.3h-1.5zM291.5 132.4h1.5v1.5h-1.5zM291.5 137.6h1.5v1.5h-1.5zM291.5 139.5h1.5v2.4h-1.5zM291.5 142.1h1.5v9.2h-1.5zM292.5 150.7h1.5v24.3h-1.5zM292.5 127.7h1.5v1.5h-1.5zM292.5 134h1.5v1.5h-1.5zM292.5 136.3h1.5v4.1h-1.5zM292.5 145.6h1.5v5.6h-1.5zM293.5 150.7h1.5v24.3h-1.5zM293.5 114.9h1.5v1.5h-1.5zM293.5 116.9h1.5v4.1h-1.5zM293.5 133.7h1.5v2.6h-1.5zM293.5 142.1h1.5v9h-1.5zM294.5 150.7h1.5v24.3h-1.5zM294.5 139.1h1.5v1.5h-1.5zM294.5 141.1h1.5v2.5h-1.5zM294.5 144.2h1.5v7.1h-1.5zM295.5 150.7h1.5v24.3h-1.5zM295.5 130.4h1.5v1.5h-1.5zM295.5 132.5h1.5v1.5h-1.5zM295.5 140.5h1.5v10.8h-1.5zM296.5 150.7h1.5v24.3h-1.5zM296.5 127.7h1.5v1.5h-1.5zM296.5 129.7h1.5v1.5h-1.5zM296.5 131.6h1.5v19.7h-1.5zM297.5 150.7h1.5v24.3h-1.5zM297.5 132.8h1.5v18.6h-1.5zM298.5 150.7h1.5v24.3h-1.5zM298.5 129.1h1.5v2.7h-1.5zM298.5 132.2h1.5v4.7h-1.5zM298.5 137.1h1.5v1.5h-1.5zM298.5 140.3h1.5v11.1h-1.5zM299.5 150.7h1.5v24.3h-1.5zM299.5 133.7h1.5v1.5h-1.5zM299.5 135.8h1.5v2.3h-1.5zM299.5 138.3h1.5v1.5h-1.5zM299.5 140.8h1.5v1.5h-1.5zM299.5 142.6h1.5v1.5h-1.5zM299.5 144.4h1.5v6.9h-1.5zM300.5 150.7h1.5v24.3h-1.5zM300.5 122h1.5v2.8h-1.5zM300.5 125.1h1.5v4.4h-1.5zM300.5 133.1h1.5v18.3h-1.5zM301.5 150.7h1.5v24.3h-1.5zM301.5 141.1h1.5v10.1h-1.5zM302.5 150.7h1.5v24.3h-1.5zM302.5 124.2h1.5v1.5h-1.5zM302.5 126h1.5v6.4h-1.5zM302.5 132.8h1.5v3.7h-1.5zM302.5 145.6h1.5v5.9h-1.5zM303.5 150.7h1.5v24.3h-1.5zM303.5 124.3h1.5v4.2h-1.5zM303.5 129.2h1.5v1.5h-1.5zM303.5 131h1.5v1.5h-1.5zM303.5 132.9h1.5v1.5h-1.5zM303.5 140.6h1.5v10.6h-1.5zM304.5 150.7h1.5v24.3h-1.5zM304.5 127.5h1.5v3.6h-1.5zM304.5 131.8h1.5v19.4h-1.5zM305.5 150.7h1.5v24.3h-1.5zM305.5 132.2h1.5v1.5h-1.5zM305.5 139.1h1.5v12.3h-1.5zM306.5 150.7h1.5v24.3h-1.5zM306.5 120.9h1.5v5.1h-1.5zM306.5 126.8h1.5v3.8h-1.5zM306.5 137.1h1.5v1.5h-1.5zM306.5 141.8h1.5v9.5h-1.5zM307.5 150.7h1.5v24.3h-1.5zM307.5 120h1.5v3h-1.5zM307.5 123.6h1.5v1.5h-1.5zM307.5 125.8h1.5v5.3h-1.5zM307.5 131.2h1.5v1.5h-1.5zM307.5 132.9h1.5v1.6h-1.5zM307.5 134.9h1.5v6.8h-1.5zM307.5 143.8h1.5v7.6h-1.5zM308.5 150.7h1.5v24.3h-1.5zM308.5 122.1h1.5v5.7h-1.5zM308.5 130.2h1.5v21.2h-1.5zM309.5 150.7h1v24.3h-1zM309.5 131.4h1v1.5h-1zM309.5 136.2h1v1.5h-1zM309.5 137.9h1v1.5h-1zM309.5 140.1h1v11.3h-1zM301.3 123.6h1.5v1.5h-1.5zM299.3 109h1.4v1.5h-1.4zM299.3 114.6h1.4v1.5h-1.4zM299.3 124.8h1.4v1.5h-1.4zM299.3 129.3h1.4v1.5h-1.4zM299.3 134.3h1.4v1.5h-1.4zM299.3 136.9h1.4v1.5h-1.4zM299.3 139.1h1.4v1.5h-1.4zM470.5 146.9h1.5v28.1h-1.5zM470.5 132.5h1.5v3.6h-1.5zM470.5 136.5h1.5v11h-1.5zM471.5 146.9h1.5v28.1h-1.5zM471.5 131.7h1.5v15.8h-1.5zM472.5 146.9h1.5v28.1h-1.5zM472.5 124.1h1.5v1.5h-1.5zM472.5 125.8h1.5v3.1h-1.5zM472.5 136.1h1.5v11.5h-1.5zM473.5 146.9h1.5v28.1h-1.5zM473.5 117.5h1.5v7.8h-1.5zM473.5 125.5h1.5v1.5h-1.5zM473.5 140.9h1.5v6.8h-1.5zM474.5 146.9h1.5v28.1h-1.5zM474.5 123.5h1.5v4.9h-1.5zM474.5 129.7h1.5v17.9h-1.5zM475.5 146.9h1.5v28.1h-1.5zM475.5 111.7h1.5v4.9h-1.5zM475.5 116.8h1.5v2.9h-1.5zM475.5 124.9h1.5v1.5h-1.5zM475.5 126.9h1.5v1.5h-1.5zM475.5 128.9h1.5v3.8h-1.5zM475.5 137.2h1.5v10.3h-1.5zM476.5 146.9h1.5v28.1h-1.5zM476.5 118.4h1.5v1.5h-1.5zM476.5 120.2h1.5v27.4h-1.5zM477.5 146.9h1.5v28.1h-1.5zM477.5 127.5h1.5v1.5h-1.5zM477.5 129.6h1.5v1.5h-1.5zM477.5 131.7h1.5v15.4h-1.5zM478.5 146.9h1.5v28.1h-1.5zM478.5 131.5h1.5v4h-1.5zM478.5 135.7h1.5v11.9h-1.5zM479.5 146.9h1.5v28.1h-1.5zM479.5 114.8h1.5v1.5h-1.5zM479.5 117.1h1.5v3h-1.5zM479.5 120.6h1.5v1.5h-1.5zM479.5 122.6h1.5v1.5h-1.5zM479.5 134.4h1.5v13.1h-1.5zM480.5 146.9h0.8v28.1h-0.8zM480.5 130.6h0.8v4.9h-0.8zM480.5 139.1h0.8v8.1h-0.8zM475.3 107.7h1.4v1.5h-1.4zM475.3 115.3h1.4v1.5h-1.4zM475.3 118h1.4v1.5h-1.4zM475.3 124.6h1.4v3h-1.4zM475.3 137.6h1.4v1.5h-1.4z"/>
<path fill="#505052" d="M311.5 151.4h1.5v23.6h-1.5zM311.5 137.1h1.5v14.6h-1.5zM312.5 151.4h1.5v23.6h-1.5zM312.5 121h1.5v1.5h-1.5zM312.5 133.9h1.5v18.2h-1.5zM313.5 151.4h1.5v23.6h-1.5zM313.5 129h1.5v7.3h-1.5zM313.5 138.2h1.5v1.5h-1.5zM313.5 140.2h1.5v11.8h-1.5zM314.5 151.4h1.5v23.6h-1.5zM314.5 118.6h1.5v1.5h-1.5zM314.5 120.3h1.5v1.5h-1.5zM314.5 122.5h1.5v15.4h-1.5zM314.5 138.6h1.5v13.4h-1.5zM315.5 151.4h1.5v23.6h-1.5zM315.5 124.4h1.5v1.5h-1.5zM315.5 127h1.5v4.3h-1.5zM315.5 134.3h1.5v1.5h-1.5zM315.5 136.5h1.5v15.6h-1.5zM316.5 151.4h1.5v23.6h-1.5zM316.5 128.2h1.5v12.7h-1.5zM316.5 141.3h1.5v1.5h-1.5zM316.5 143h1.5v2h-1.5zM316.5 145.6h1.5v6.4h-1.5zM317.5 151.4h1.5v23.6h-1.5zM317.5 125.4h1.5v2.6h-1.5zM317.5 128.7h1.5v3.9h-1.5zM317.5 133.4h1.5v1.5h-1.5zM317.5 135.3h1.5v16.6h-1.5zM318.5 151.4h1.5v23.6h-1.5zM318.5 121.8h1.5v1.6h-1.5zM318.5 123.7h1.5v9h-1.5zM318.5 133.3h1.5v18.6h-1.5zM319.5 151.4h1.5v23.6h-1.5zM319.5 121h1.5v2.9h-1.5zM319.5 126.3h1.5v25.6h-1.5zM320.5 151.4h1.5v23.6h-1.5zM320.5 128.4h1.5v23.5h-1.5zM321.5 151.4h1.5v23.6h-1.5zM321.5 119.8h1.5v2.7h-1.5zM321.5 123.3h1.5v2.4h-1.5zM321.5 125.9h1.5v1.7h-1.5zM321.5 138.5h1.5v2.7h-1.5zM321.5 142.7h1.5v9.2h-1.5zM322.5 151.4h1.5v23.6h-1.5zM322.5 128.8h1.5v1.5h-1.5zM322.5 140.3h1.5v1.5h-1.5zM322.5 143.3h1.5v8.7h-1.5zM323.5 151.4h1.5v23.6h-1.5zM323.5 117.9h1.5v1.5h-1.5zM323.5 131.4h1.5v1.5h-1.5zM323.5 135.1h1.5v1.5h-1.5zM323.5 141.8h1.5v1.5h-1.5zM323.5 143.7h1.5v8.3h-1.5zM324.5 151.4h1.5v23.6h-1.5zM324.5 127.3h1.5v7.4h-1.5zM324.5 135.3h1.5v16.8h-1.5zM325.5 151.4h1.5v23.6h-1.5zM325.5 122.9h1.5v1.5h-1.5zM325.5 140.5h1.5v11.5h-1.5zM326.5 151.4h1.5v23.6h-1.5zM326.5 136.5h1.5v1.5h-1.5zM326.5 138.2h1.5v3.5h-1.5zM326.5 141.9h1.5v1.5h-1.5zM326.5 143.6h1.5v8.4h-1.5zM327.5 151.4h1.5v23.6h-1.5zM327.5 140.5h1.5v11.5h-1.5zM328.5 151.4h1.5v23.6h-1.5zM328.5 117h1.5v2.9h-1.5zM328.5 120.7h1.5v1.5h-1.5zM328.5 129.3h1.5v22.7h-1.5zM329.5 151.4h1.5v23.6h-1.5zM329.5 131.8h1.5v1.5h-1.5zM329.5 133.8h1.5v1.5h-1.5zM329.5 135.8h1.5v1.5h-1.5zM329.5 137.7h1.5v6.1h-1.5zM329.5 144h1.5v1.8h-1.5zM329.5 146.1h1.5v6h-1.5zM330.5 151.4h1.5v23.6h-1.5zM330.5 131h1.5v2.8h-1.5zM330.5 134.1h1.5v3.7h-1.5zM330.5 138.9h1.5v1.5h-1.5zM330.5 144.3h1.5v7.7h-1.5zM331.5 151.4h1.5v23.6h-1.5zM331.5 131.5h1.5v6h-1.5zM331.5 142.1h1.5v9.7h-1.5zM332.5 151.4h1.5v23.6h-1.5zM332.5 127.9h1.5v23.7h-1.5zM333.5 151.4h1v23.6h-1zM333.5 117.8h1v1.5h-1zM333.5 137.4h1v14.3h-1zM322.4 115h1.5v1.5h-1.5zM313.3 109h1.4v1.5h-1.4zM313.3 120.8h1.4v3.1h-1.4zM313.3 124.3h1.4v1.5h-1.4zM313.3 127.3h1.4v1.5h-1.4zM313.3 133.2h1.4v1.5h-1.4zM313.3 136.2h1.4v1.5h-1.4zM327.3 102.2h1.4v1.5h-1.4zM327.3 109.7h1.4v1.5h-1.4zM327.3 116.5h1.4v1.5h-1.4zM327.3 124.5h1.4v1.5h-1.4zM327.3 128.6h1.4v1.5h-1.4zM327.3 132.2h1.4v1.5h-1.4zM327.3 133.9h1.4v1.5h-1.4zM327.3 139.4h1.4v1.5h-1.4zM327.3 142.3h1.4v1.5h-1.4zM329.3 102.2h1.4v1.5h-1.4zM329.3 107.4h1.4v1.5h-1.4zM329.3 113.6h1.4v1.5h-1.4zM329.3 121.9h1.4v3.2h-1.4zM329.3 130h1.4v1.5h-1.4zM329.3 134h1.4v1.5h-1.4zM329.3 138.8h1.4v1.5h-1.4zM329.3 141.9h1.4v1.5h-1.4zM482.5 138.3h1.5v36.7h-1.5zM482.5 109h1.5v2.8h-1.5zM482.5 112.3h1.5v1.5h-1.5zM482.5 118.1h1.5v1.5h-1.5zM482.5 120.2h1.5v4.7h-1.5zM482.5 125.6h1.5v1.5h-1.5zM482.5 127.5h1.5v11.5h-1.5zM483.5 138.3h1.5v36.7h-1.5zM483.5 115h1.5v1.5h-1.5zM483.5 116.9h1.5v4.6h-1.5zM483.5 122.1h1.5v16.9h-1.5zM484.5 138.3h1.5v36.7h-1.5zM484.5 113.4h1.5v1.5h-1.5zM484.5 115.4h1.5v1.5h-1.5zM484.5 117.3h1.5v1.5h-1.5zM484.5 119.2h1.5v6h-1.5zM484.5 125.8h1.5v3h-1.5zM484.5 129.5h1.5v9.5h-1.5zM485.5 138.3h1.5v36.7h-1.5zM485.5 127.4h1.5v4.9h-1.5zM485.5 132.7h1.5v6.3h-1.5zM486.5 138.3h1.5v36.7h-1.5zM486.5 126.5h1.5v1.5h-1.5zM486.5 128.3h1.5v10.7h-1.5zM487.5 138.3h1.5v36.7h-1.5zM487.5 106.3h1.5v1.5h-1.5zM487.5 111.9h1.5v2.9h-1.5zM487.5 115.5h1.5v11.3h-1.5zM487.5 128.7h1.5v10.1h-1.5zM488.5 138.3h1.5v36.7h-1.5zM488.5 111.3h1.5v14.4h-1.5zM488.5 127h1.5v12h-1.5zM489.5 138.3h1.5v36.7h-1.5zM489.5 111.8h1.5v1.5h-1.5zM489.5 114.1h1.5v2.7h-1.5zM489.5 122.5h1.5v1.5h-1.5zM489.5 127.7h1.5v2.8h-1.5zM489.5 131.7h1.5v7.3h-1.5zM490.5 138.3h1.5v36.7h-1.5zM490.5 113.7h1.5v3.8h-1.5zM490.5 118.2h1.5v1.5h-1.5zM490.5 121.9h1.5v3.6h-1.5zM490.5 125.9h1.5v3.1h-1.5zM490.5 129.5h1.5v1.5h-1.5zM490.5 131.2h1.5v7.8h-1.5zM491.5 138.3h1.2v36.7h-1.2zM491.5 122.5h1.2v1.5h-1.2zM491.5 124.5h1.2v13.9h-1.2zM482.5 102.2h1.4v1.5h-1.4zM482.5 108h1.4v1.5h-1.4zM482.5 109.9h1.4v1.5h-1.4zM482.5 117.5h1.4v2.9h-1.4zM482.5 123.6h1.4v1.5h-1.4zM482.5 125.6h1.4v1.5h-1.4zM488.3 114.5h1.4v1.5h-1.4z"/>
<path fill="#b8302a" d="M245.1 51.4h2.1v1.5h-2.1zM245.1 58.1h2.1v1.5h-2.1zM245.1 59.8h2.1v9.7h-2.1zM245.1 72.6h2.1v2.9h-2.1z"/>
<line x1="33.5" y1="22.0" x2="33.5" y2="177.5" stroke="#000" stroke-width="1.3"/>
<line x1="30" y1="175.00" x2="33.5" y2="175.00" stroke="#000" stroke-width="1.1"/>
<text x="27.2" y="177.80" class="t" font-size="7.9" fill="#333" text-anchor="end">0</text>
<line x1="30" y1="161.41" x2="33.5" y2="161.41" stroke="#000" stroke-width="1.1"/>
<text x="27.2" y="164.21" class="t" font-size="7.9" fill="#333" text-anchor="end">1</text>
<line x1="30" y1="147.82" x2="33.5" y2="147.82" stroke="#000" stroke-width="1.1"/>
<text x="27.2" y="150.62" class="t" font-size="7.9" fill="#333" text-anchor="end">2</text>
<line x1="30" y1="134.23" x2="33.5" y2="134.23" stroke="#000" stroke-width="1.1"/>
<text x="27.2" y="137.03" class="t" font-size="7.9" fill="#333" text-anchor="end">3</text>
<line x1="30" y1="120.64" x2="33.5" y2="120.64" stroke="#000" stroke-width="1.1"/>
<text x="27.2" y="123.44" class="t" font-size="7.9" fill="#333" text-anchor="end">4</text>
<line x1="30" y1="107.05" x2="33.5" y2="107.05" stroke="#000" stroke-width="1.1"/>
<text x="27.2" y="109.85" class="t" font-size="7.9" fill="#333" text-anchor="end">5</text>
<line x1="30" y1="93.46" x2="33.5" y2="93.46" stroke="#000" stroke-width="1.1"/>
<text x="27.2" y="96.26" class="t" font-size="7.9" fill="#333" text-anchor="end">6</text>
<line x1="30" y1="79.87" x2="33.5" y2="79.87" stroke="#000" stroke-width="1.1"/>
<text x="27.2" y="82.67" class="t" font-size="7.9" fill="#333" text-anchor="end">7</text>
<line x1="30" y1="66.28" x2="33.5" y2="66.28" stroke="#000" stroke-width="1.1"/>
<text x="27.2" y="69.08" class="t" font-size="7.9" fill="#333" text-anchor="end">8</text>
<line x1="30" y1="52.69" x2="33.5" y2="52.69" stroke="#000" stroke-width="1.1"/>
<text x="27.2" y="55.49" class="t" font-size="7.9" fill="#333" text-anchor="end">9</text>
<line x1="30" y1="39.10" x2="33.5" y2="39.10" stroke="#000" stroke-width="1.1"/>
<text x="27.2" y="41.90" class="t" font-size="7.9" fill="#333" text-anchor="end">10</text>
<line x1="30" y1="25.51" x2="33.5" y2="25.51" stroke="#000" stroke-width="1.1"/>
<text x="27.2" y="28.31" class="t" font-size="7.9" fill="#333" text-anchor="end">11</text>
<line x1="48.7" y1="181.0" x2="507.5" y2="181.0" stroke="#000" stroke-width="1.3"/>
<line x1="51.25" y1="181.0" x2="51.25" y2="184.0" stroke="#000" stroke-width="1.1"/>
<text x="51.25" y="194.3" class="t" font-size="7.9" fill="#333" text-anchor="middle">1</text>
<line x1="87.38" y1="181.0" x2="87.38" y2="184.0" stroke="#000" stroke-width="1.1"/>
<text x="87.38" y="194.3" class="t" font-size="7.9" fill="#333" text-anchor="middle">2</text>
<line x1="122.50" y1="181.0" x2="122.50" y2="184.0" stroke="#000" stroke-width="1.1"/>
<text x="122.50" y="194.3" class="t" font-size="7.9" fill="#333" text-anchor="middle">3</text>
<line x1="155.50" y1="181.0" x2="155.50" y2="184.0" stroke="#000" stroke-width="1.1"/>
<text x="155.50" y="194.3" class="t" font-size="7.9" fill="#333" text-anchor="middle">4</text>
<line x1="187.75" y1="181.0" x2="187.75" y2="184.0" stroke="#000" stroke-width="1.1"/>
<text x="187.75" y="194.3" class="t" font-size="7.9" fill="#333" text-anchor="middle">5</text>
<line x1="219.38" y1="181.0" x2="219.38" y2="184.0" stroke="#000" stroke-width="1.1"/>
<text x="219.38" y="194.3" class="t" font-size="7.9" fill="#333" text-anchor="middle">6</text>
<line x1="249.88" y1="181.0" x2="249.88" y2="184.0" stroke="#000" stroke-width="1.1"/>
<text x="249.88" y="194.3" class="t" font-size="7.9" fill="#333" text-anchor="middle">7</text>
<line x1="276.62" y1="181.0" x2="276.62" y2="184.0" stroke="#000" stroke-width="1.1"/>
<text x="276.62" y="194.3" class="t" font-size="7.9" fill="#333" text-anchor="middle">8</text>
<line x1="300.50" y1="181.0" x2="300.50" y2="184.0" stroke="#000" stroke-width="1.1"/>
<text x="300.50" y="194.3" class="t" font-size="7.9" fill="#333" text-anchor="middle">9</text>
<line x1="323.00" y1="181.0" x2="323.00" y2="184.0" stroke="#000" stroke-width="1.1"/>
<text x="323.00" y="194.3" class="t" font-size="7.9" fill="#333" text-anchor="middle">10</text>
<line x1="347.12" y1="181.0" x2="347.12" y2="184.0" stroke="#000" stroke-width="1.1"/>
<text x="347.12" y="194.3" class="t" font-size="7.9" fill="#333" text-anchor="middle">11</text>
<line x1="369.62" y1="181.0" x2="369.62" y2="184.0" stroke="#000" stroke-width="1.1"/>
<text x="369.62" y="194.3" class="t" font-size="7.9" fill="#333" text-anchor="middle">12</text>
<line x1="389.00" y1="181.0" x2="389.00" y2="184.0" stroke="#000" stroke-width="1.1"/>
<text x="389.00" y="194.3" class="t" font-size="7.9" fill="#333" text-anchor="middle">13</text>
<line x1="406.00" y1="181.0" x2="406.00" y2="184.0" stroke="#000" stroke-width="1.1"/>
<text x="406.00" y="194.3" class="t" font-size="7.9" fill="#333" text-anchor="middle">14</text>
<line x1="420.88" y1="181.0" x2="420.88" y2="184.0" stroke="#000" stroke-width="1.1"/>
<text x="420.88" y="194.3" class="t" font-size="7.9" fill="#333" text-anchor="middle">15</text>
<line x1="435.25" y1="181.0" x2="435.25" y2="184.0" stroke="#000" stroke-width="1.1"/>
<text x="435.25" y="194.3" class="t" font-size="7.9" fill="#333" text-anchor="middle">16</text>
<line x1="449.25" y1="181.0" x2="449.25" y2="184.0" stroke="#000" stroke-width="1.1"/>
<text x="449.25" y="194.3" class="t" font-size="7.9" fill="#333" text-anchor="middle">17</text>
<line x1="462.50" y1="181.0" x2="462.50" y2="184.0" stroke="#000" stroke-width="1.1"/>
<text x="462.50" y="194.3" class="t" font-size="7.9" fill="#333" text-anchor="middle">18</text>
<line x1="475.88" y1="181.0" x2="475.88" y2="184.0" stroke="#000" stroke-width="1.1"/>
<text x="475.88" y="194.3" class="t" font-size="7.9" fill="#333" text-anchor="middle">19</text>
<line x1="487.60" y1="181.0" x2="487.60" y2="184.0" stroke="#000" stroke-width="1.1"/>
<text x="487.60" y="194.3" class="t" font-size="7.9" fill="#333" text-anchor="middle">20</text>
<line x1="497.50" y1="181.0" x2="497.50" y2="184.0" stroke="#000" stroke-width="1.1"/>
<text x="497.50" y="194.3" class="t" font-size="7.9" fill="#333" text-anchor="middle">21</text>
<line x1="505.05" y1="181.0" x2="505.05" y2="184.0" stroke="#000" stroke-width="1.1"/>
<line x1="37" y1="75.9" x2="509.2" y2="75.9" stroke="#d2adaf" stroke-width="1.9" stroke-dasharray="2 2"/>
<text x="51.0" y="42.2" class="t" font-size="7.7" font-style="italic" fill="#222">Pediatric</text>
<text x="6.5" y="30.8" font-size="11" font-weight="bold" fill="#000">A</text>
<text transform="translate(13.6 100.7) rotate(-90)" class="t" font-size="8.1" fill="#333" text-anchor="middle">-log<tspan font-size="5.5" dy="1.5">10</tspan><tspan dy="-1.5">(</tspan><tspan font-style="italic">p</tspan>)</text>
<path fill="#3b6419" d="M34.5 318.9h1.5v26.9h-1.5zM34.5 275.3h1.5v3h-1.5zM34.5 279.3h1.5v1.5h-1.5zM34.5 300.7h1.5v4.2h-1.5zM34.5 305.1h1.5v14.5h-1.5zM35.5 318.9h1.5v26.9h-1.5zM35.5 291.4h1.5v1.5h-1.5zM35.5 293.3h1.5v2.8h-1.5zM35.5 296.9h1.5v1.5h-1.5zM35.5 299.5h1.5v4h-1.5zM35.5 304.2h1.5v3.1h-1.5zM35.5 307.5h1.5v12.2h-1.5zM36.5 318.9h1.5v26.9h-1.5zM36.5 297.8h1.5v21.7h-1.5zM37.5 318.9h1.5v26.9h-1.5zM37.5 284.8h1.5v1.5h-1.5zM37.5 287h1.5v11.1h-1.5zM37.5 302.5h1.5v2.3h-1.5zM37.5 305.1h1.5v14.3h-1.5zM38.5 318.9h1.5v26.9h-1.5zM38.5 295.4h1.5v1.5h-1.5zM38.5 297.2h1.5v2.8h-1.5zM38.5 300.9h1.5v1.5h-1.5zM38.5 303.3h1.5v1.5h-1.5zM38.5 310.6h1.5v2.7h-1.5zM38.5 313.6h1.5v5.8h-1.5zM39.5 318.9h1.5v26.9h-1.5zM39.5 285.4h1.5v7.4h-1.5zM39.5 293.3h1.5v3.3h-1.5zM39.5 297.5h1.5v1.5h-1.5zM39.5 301.7h1.5v4.1h-1.5zM39.5 306.1h1.5v13.5h-1.5zM40.5 318.9h1.5v26.9h-1.5zM40.5 295.7h1.5v2.7h-1.5zM40.5 299.3h1.5v1.5h-1.5zM40.5 305.1h1.5v14.4h-1.5zM41.5 318.9h1.5v26.9h-1.5zM41.5 293.6h1.5v1.5h-1.5zM41.5 295.4h1.5v11.2h-1.5zM41.5 306.8h1.5v12.8h-1.5zM42.5 318.9h1.5v26.9h-1.5zM42.5 278.6h1.5v1.5h-1.5zM42.5 281.2h1.5v1.5h-1.5zM42.5 283.1h1.5v5.7h-1.5zM42.5 289.2h1.5v1.5h-1.5zM42.5 291.1h1.5v1.5h-1.5zM42.5 293h1.5v2.8h-1.5zM42.5 297.8h1.5v5.7h-1.5zM42.5 304h1.5v1.5h-1.5zM42.5 306.2h1.5v13.3h-1.5zM43.5 318.9h1.5v26.9h-1.5zM43.5 284.8h1.5v1.5h-1.5zM43.5 286.6h1.5v1.5h-1.5zM43.5 288.4h1.5v1.5h-1.5zM43.5 291h1.5v1.5h-1.5zM43.5 293.1h1.5v3.1h-1.5zM43.5 296.8h1.5v3.4h-1.5zM43.5 300.4h1.5v19.2h-1.5zM44.5 318.9h1.5v26.9h-1.5zM44.5 291.1h1.5v2.4h-1.5zM44.5 294.7h1.5v1.5h-1.5zM44.5 297.5h1.5v2.6h-1.5zM44.5 301.2h1.5v3.2h-1.5zM44.5 308.3h1.5v11.1h-1.5zM45.5 318.9h1.5v26.9h-1.5zM45.5 278.5h1.5v2.7h-1.5zM45.5 282.4h1.5v4.2h-1.5zM45.5 287.3h1.5v9.8h-1.5zM45.5 301.8h1.5v1.5h-1.5zM45.5 303.9h1.5v15.5h-1.5zM46.5 318.9h1.5v26.9h-1.5zM46.5 302.9h1.5v1.5h-1.5zM46.5 305.5h1.5v1.5h-1.5zM46.5 307.3h1.5v4.1h-1.5zM46.5 312.2h1.5v1.8h-1.5zM46.5 314.2h1.5v5.3h-1.5zM47.5 318.9h1.5v26.9h-1.5zM47.5 288.3h1.5v2.9h-1.5zM47.5 291.5h1.5v1.5h-1.5zM47.5 293.2h1.5v3.6h-1.5zM47.5 297.2h1.5v1.5h-1.5zM47.5 299.2h1.5v2.9h-1.5zM47.5 302.9h1.5v1.5h-1.5zM47.5 305.4h1.5v2.5h-1.5zM47.5 308.7h1.5v1.5h-1.5zM47.5 311.2h1.5v8.2h-1.5zM48.5 318.9h1.5v26.9h-1.5zM48.5 285.5h1.5v1.5h-1.5zM48.5 287.2h1.5v2.7h-1.5zM48.5 293.2h1.5v1.5h-1.5zM48.5 295.2h1.5v3.1h-1.5zM48.5 299.3h1.5v1.5h-1.5zM48.5 301.2h1.5v1.5h-1.5zM48.5 304.1h1.5v4.8h-1.5zM48.5 309.7h1.5v9.8h-1.5zM49.5 318.9h1.5v26.9h-1.5zM49.5 307.8h1.5v11.8h-1.5zM50.5 318.9h1.5v26.9h-1.5zM50.5 285.5h1.5v2.8h-1.5zM50.5 296.4h1.5v7.9h-1.5zM50.5 304.5h1.5v14.9h-1.5zM51.5 318.9h1.5v26.9h-1.5zM51.5 288.7h1.5v1.5h-1.5zM51.5 291.1h1.5v1.5h-1.5zM51.5 293.3h1.5v1.5h-1.5zM51.5 296h1.5v2.7h-1.5zM51.5 298.9h1.5v12.3h-1.5zM51.5 311.4h1.5v8.1h-1.5zM52.5 318.9h1.5v26.9h-1.5zM52.5 301.9h1.5v2.8h-1.5zM52.5 306h1.5v1.5h-1.5zM52.5 307.9h1.5v11.5h-1.5zM53.5 318.9h1.5v26.9h-1.5zM53.5 297.2h1.5v2.9h-1.5zM53.5 301.2h1.5v18.2h-1.5zM54.5 318.9h1.5v26.9h-1.5zM54.5 278.4h1.5v2.5h-1.5zM54.5 281.8h1.5v1.5h-1.5zM54.5 284.4h1.5v1.5h-1.5zM54.5 286.9h1.5v1.5h-1.5zM54.5 289.6h1.5v4.1h-1.5zM54.5 294.5h1.5v1.5h-1.5zM54.5 296.6h1.5v2.6h-1.5zM54.5 303.6h1.5v1.5h-1.5zM54.5 309.3h1.5v1.5h-1.5zM54.5 311.2h1.5v8.2h-1.5zM55.5 318.9h1.5v26.9h-1.5zM55.5 293.7h1.5v5.8h-1.5zM55.5 299.8h1.5v2h-1.5zM55.5 302.1h1.5v2.4h-1.5zM55.5 304.8h1.5v14.5h-1.5zM56.5 318.9h1.5v26.9h-1.5zM56.5 304.9h1.5v14.5h-1.5zM57.5 318.9h1.5v26.9h-1.5zM57.5 294.7h1.5v1.5h-1.5zM57.5 296.8h1.5v3.1h-1.5zM57.5 301.2h1.5v1.5h-1.5zM57.5 303.6h1.5v9.7h-1.5zM57.5 314.5h1.5v4.9h-1.5zM58.5 318.9h1.5v26.9h-1.5zM58.5 280.6h1.5v2.8h-1.5zM58.5 284.4h1.5v1.5h-1.5zM58.5 286.4h1.5v3.2h-1.5zM58.5 290.4h1.5v1.5h-1.5zM58.5 292.5h1.5v1.5h-1.5zM58.5 294.8h1.5v1.5h-1.5zM58.5 296.8h1.5v1.5h-1.5zM58.5 298.5h1.5v1.5h-1.5zM58.5 306.7h1.5v1.5h-1.5zM58.5 308.8h1.5v1.5h-1.5zM58.5 310.9h1.5v8.5h-1.5zM59.5 318.9h1.5v26.9h-1.5zM59.5 279.9h1.5v1.5h-1.5zM59.5 282h1.5v1.7h-1.5zM59.5 284.4h1.5v1.5h-1.5zM59.5 286.5h1.5v2.9h-1.5zM59.5 290.4h1.5v4.6h-1.5zM59.5 296h1.5v1.6h-1.5zM59.5 298.4h1.5v9.3h-1.5zM59.5 308.4h1.5v1.5h-1.5zM59.5 310.4h1.5v8.3h-1.5zM60.5 318.9h1.5v26.9h-1.5zM60.5 296.6h1.5v2.5h-1.5zM60.5 300h1.5v1.5h-1.5zM60.5 301.9h1.5v17.7h-1.5zM61.5 318.9h1.5v26.9h-1.5zM61.5 309.4h1.5v10h-1.5zM62.5 318.9h1.5v26.9h-1.5zM62.5 292.4h1.5v4.1h-1.5zM62.5 308.3h1.5v1.5h-1.5zM62.5 310.5h1.5v9h-1.5zM63.5 318.9h1.5v26.9h-1.5zM63.5 294.5h1.5v2.9h-1.5zM63.5 298.2h1.5v3.4h-1.5zM63.5 302.5h1.5v1.5h-1.5zM63.5 304.5h1.5v1.5h-1.5zM63.5 306.9h1.5v12.7h-1.5zM64.5 318.9h1.5v26.9h-1.5zM64.5 275.3h1.5v4.2h-1.5zM64.5 290.3h1.5v1.5h-1.5zM64.5 292.6h1.5v3.2h-1.5zM64.5 297h1.5v1.5h-1.5zM64.5 299.1h1.5v20.4h-1.5zM65.5 318.9h1.5v26.9h-1.5zM65.5 278.6h1.5v1.5h-1.5zM65.5 285.7h1.5v3.5h-1.5zM65.5 297.4h1.5v5h-1.5zM65.5 305.7h1.5v13.7h-1.5zM66.5 318.9h1.5v26.9h-1.5zM66.5 277.3h1.5v1.5h-1.5zM66.5 279.9h1.5v2.7h-1.5zM66.5 288h1.5v1.5h-1.5zM66.5 289.9h1.5v3.1h-1.5zM66.5 293.4h1.5v10.6h-1.5zM66.5 305h1.5v14.6h-1.5zM67.5 318.9h0.5v26.9h-0.5zM67.5 275.8h0.5v1.5h-0.5zM67.5 285h0.5v1.5h-0.5zM67.5 293.3h0.5v4.5h-0.5zM67.5 298.1h0.5v1.5h-0.5zM67.5 300h0.5v1.5h-0.5zM67.5 302h0.5v1.5h-0.5zM67.5 304.4h0.5v4.3h-0.5zM67.5 309h0.5v10.4h-0.5zM43.1 276h1.5v1.5h-1.5zM55.3 264.3h1.4v1.5h-1.4zM55.3 271.8h1.4v1.5h-1.4zM55.3 277.4h1.4v1.5h-1.4zM55.3 280.9h1.4v1.5h-1.4zM55.3 288.9h1.4v1.5h-1.4zM55.3 293.9h1.4v1.5h-1.4zM55.3 301.6h1.4v1.5h-1.4zM55.3 303.9h1.4v1.5h-1.4zM38.3 268.6h1.4v1.5h-1.4zM38.3 288.2h1.4v1.5h-1.4zM38.3 290.4h1.4v1.5h-1.4zM38.3 295.8h1.4v1.5h-1.4zM47.3 266.9h1.4v1.5h-1.4zM47.3 276.1h1.4v1.5h-1.4zM47.3 278.3h1.4v1.5h-1.4zM47.3 291.1h1.4v1.5h-1.4zM47.3 293.2h1.4v1.5h-1.4zM47.3 301.4h1.4v1.5h-1.4zM47.3 304.2h1.4v1.5h-1.4zM47.3 307.2h1.4v1.5h-1.4zM335.5 317h1.5v28.8h-1.5zM335.5 299.5h1.5v1.5h-1.5zM335.5 301.5h1.5v5.4h-1.5zM335.5 307.2h1.5v10.6h-1.5zM336.5 317h1.5v28.8h-1.5zM336.5 296.2h1.5v1.5h-1.5zM336.5 298.8h1.5v1.5h-1.5zM336.5 300.6h1.5v2.5h-1.5zM336.5 304h1.5v1.5h-1.5zM336.5 307.2h1.5v5.3h-1.5zM336.5 312.7h1.5v5.1h-1.5zM337.5 317h1.5v28.8h-1.5zM337.5 278.8h1.5v1.5h-1.5zM337.5 288h1.5v4.4h-1.5zM337.5 292.7h1.5v1.5h-1.5zM337.5 300.4h1.5v17.3h-1.5zM338.5 317h1.5v28.8h-1.5zM338.5 295.5h1.5v21.8h-1.5zM339.5 317h1.5v28.8h-1.5zM339.5 277.3h1.5v1.5h-1.5zM339.5 279.6h1.5v1.5h-1.5zM339.5 294.5h1.5v1.5h-1.5zM339.5 301.1h1.5v16.6h-1.5zM340.5 317h1.5v28.8h-1.5zM340.5 289.3h1.5v1.5h-1.5zM340.5 291h1.5v26.6h-1.5zM341.5 317h1.5v28.8h-1.5zM341.5 284.8h1.5v4.8h-1.5zM341.5 290.2h1.5v2.4h-1.5zM341.5 292.9h1.5v5.6h-1.5zM341.5 298.9h1.5v1.5h-1.5zM341.5 301h1.5v16.6h-1.5zM342.5 317h1.5v28.8h-1.5zM342.5 294.4h1.5v1.5h-1.5zM342.5 296.2h1.5v2h-1.5zM342.5 299h1.5v1.5h-1.5zM342.5 301.4h1.5v16.4h-1.5zM343.5 317h1.5v28.8h-1.5zM343.5 275.5h1.5v2.8h-1.5zM343.5 279.1h1.5v4.1h-1.5zM343.5 284.5h1.5v2.6h-1.5zM343.5 298.7h1.5v1.5h-1.5zM343.5 300.4h1.5v1.5h-1.5zM343.5 304.9h1.5v1.5h-1.5zM343.5 306.7h1.5v1.5h-1.5zM343.5 308.6h1.5v9h-1.5zM344.5 317h1.5v28.8h-1.5zM344.5 303h1.5v14.7h-1.5zM345.5 317h1.5v28.8h-1.5zM345.5 296.6h1.5v3.1h-1.5zM345.5 300h1.5v3.9h-1.5zM345.5 304.4h1.5v1.6h-1.5zM345.5 306.6h1.5v11.1h-1.5zM346.5 317h1.5v28.8h-1.5zM346.5 282.3h1.5v1.5h-1.5zM346.5 284.7h1.5v1.5h-1.5zM346.5 304.8h1.5v12.9h-1.5zM347.5 317h1.5v28.8h-1.5zM347.5 274.4h1.5v1.5h-1.5zM347.5 276.7h1.5v1.5h-1.5zM347.5 278.7h1.5v2.3h-1.5zM347.5 281.7h1.5v2.6h-1.5zM347.5 285.5h1.5v5h-1.5zM347.5 290.7h1.5v4.6h-1.5zM347.5 297.8h1.5v5.1h-1.5zM347.5 303.3h1.5v7.4h-1.5zM347.5 311.1h1.5v6.5h-1.5zM348.5 317h1.5v28.8h-1.5zM348.5 298.4h1.5v6.2h-1.5zM348.5 305.2h1.5v2.8h-1.5zM348.5 308.8h1.5v8.8h-1.5zM349.5 317h1.5v28.8h-1.5zM349.5 273.1h1.5v2.6h-1.5zM349.5 276h1.5v1.5h-1.5zM349.5 277.9h1.5v2.9h-1.5zM349.5 281.2h1.5v1.5h-1.5zM349.5 283.6h1.5v2.7h-1.5zM349.5 286.9h1.5v1.5h-1.5zM349.5 289.1h1.5v1.5h-1.5zM349.5 291.5h1.5v1.5h-1.5zM349.5 294.5h1.5v1.5h-1.5zM349.5 296.8h1.5v1.5h-1.5zM349.5 302.9h1.5v14.7h-1.5zM350.5 317h1.5v28.8h-1.5zM350.5 282.7h1.5v2.8h-1.5zM350.5 286.6h1.5v3.6h-1.5zM350.5 290.7h1.5v1.6h-1.5zM350.5 292.5h1.5v1.5h-1.5zM350.5 298h1.5v1.5h-1.5zM350.5 300.1h1.5v2.6h-1.5zM350.5 303.3h1.5v14.4h-1.5zM351.5 317h1.5v28.8h-1.5zM351.5 277.1h1.5v5.1h-1.5zM351.5 283.3h1.5v1.5h-1.5zM351.5 291.7h1.5v1.5h-1.5zM351.5 294.2h1.5v1.5h-1.5zM351.5 296.9h1.5v5.7h-1.5zM351.5 302.7h1.5v1.5h-1.5zM351.5 305.1h1.5v12.2h-1.5zM352.5 317h1.5v28.8h-1.5zM352.5 280.3h1.5v2.5h-1.5zM352.5 283.7h1.5v7.5h-1.5zM352.5 291.4h1.5v1.8h-1.5zM352.5 293.5h1.5v9.4h-1.5zM352.5 303.6h1.5v13.9h-1.5zM353.5 317h1.5v28.8h-1.5zM353.5 287.2h1.5v2.8h-1.5zM353.5 290.9h1.5v2.2h-1.5zM353.5 293.5h1.5v23.9h-1.5zM354.5 317h1.5v28.8h-1.5zM354.5 283.9h1.5v1.5h-1.5zM354.5 307.8h1.5v1.5h-1.5zM354.5 309.8h1.5v7.9h-1.5zM355.5 317h1.5v28.8h-1.5zM355.5 296.6h1.5v20.3h-1.5zM356.5 317h1.5v28.8h-1.5zM356.5 301.3h1.5v1.5h-1.5zM356.5 306.2h1.5v11.2h-1.5zM357.5 317h1.2v28.8h-1.2zM357.5 289.8h1.2v4h-1.2zM357.5 295.1h1.2v1.5h-1.2zM357.5 297.3h1.2v1.5h-1.2zM357.5 302.5h1.2v12.1h-1.2zM357.5 315h1.2v2.6h-1.2zM358.5 317h0.2v28.8h-0.2zM358.5 283.9h0.2v2.7h-0.2zM358.5 286.9h0.2v3h-0.2zM358.5 290.5h0.2v27.2h-0.2zM341.2 264.7h1.5v1.5h-1.5zM344.3 263.6h1.4v1.5h-1.4zM344.3 272.4h1.4v1.5h-1.4zM344.3 286.6h1.4v1.5h-1.4zM344.3 289.8h1.4v1.5h-1.4zM344.3 294h1.4v1.5h-1.4zM344.3 295.8h1.4v1.5h-1.4zM344.3 297.9h1.4v1.5h-1.4zM344.3 302.4h1.4v1.5h-1.4zM351.3 268.6h1.4v1.5h-1.4zM351.3 276.5h1.4v1.5h-1.4zM351.3 286.2h1.4v1.5h-1.4zM351.3 289.5h1.4v1.5h-1.4zM351.3 298.6h1.4v1.5h-1.4zM351.3 302h1.4v1.5h-1.4zM351.3 305.7h1.4v1.5h-1.4zM494 318h1.5v27.8h-1.5zM494 288.9h1.5v1.5h-1.5zM494 290.8h1.5v9.5h-1.5zM494 307.9h1.5v2.8h-1.5zM494 311.9h1.5v6.8h-1.5zM495 318h1.5v27.8h-1.5zM495 283.7h1.5v1.5h-1.5zM495 294.4h1.5v4.3h-1.5zM495 299.3h1.5v19.5h-1.5zM496 318h1.5v27.8h-1.5zM496 295.3h1.5v4.2h-1.5zM496 305.6h1.5v2.8h-1.5zM496 312.5h1.5v6.1h-1.5zM497 318h1.5v27.8h-1.5zM497 278.1h1.5v1.5h-1.5zM497 280.4h1.5v3.1h-1.5zM497 284.4h1.5v1.5h-1.5zM497 306h1.5v12.7h-1.5zM498 318h1.5v27.8h-1.5zM498 289.5h1.5v1.5h-1.5zM498 291.3h1.5v2.6h-1.5zM498 294.4h1.5v1.5h-1.5zM498 296.8h1.5v1.5h-1.5zM498 302h1.5v1.5h-1.5zM498 304.7h1.5v13.2h-1.5zM499 318h1.5v27.8h-1.5zM499 292.6h1.5v1.5h-1.5zM499 295.2h1.5v1.5h-1.5zM499 297.6h1.5v16.3h-1.5zM499 314.2h1.5v4.3h-1.5zM500 318h1v27.8h-1zM500 307.3h1v11.4h-1zM497.3 263.6h1.4v1.5h-1.4zM497.3 268.8h1.4v1.5h-1.4zM497.3 271.4h1.4v1.5h-1.4zM497.3 273.7h1.4v1.5h-1.4zM497.3 277.4h1.4v1.5h-1.4zM497.3 287.1h1.4v1.5h-1.4zM497.3 291.2h1.4v1.5h-1.4zM497.3 299.3h1.4v1.5h-1.4zM497.3 307h1.4v1.5h-1.4z"/>
<path fill="#7a2688" d="M69 316.9h1.5v28.9h-1.5zM69 278.9h1.5v1.5h-1.5zM69 280.9h1.5v4.3h-1.5zM69 286.3h1.5v1.5h-1.5zM69 288.6h1.5v1.5h-1.5zM69 290.8h1.5v1.5h-1.5zM69 292.7h1.5v1.5h-1.5zM69 294.6h1.5v2.9h-1.5zM69 298.1h1.5v1.5h-1.5zM69 300.3h1.5v1.5h-1.5zM69 305.7h1.5v11.8h-1.5zM70 316.9h1.5v28.9h-1.5zM70 275.1h1.5v2.7h-1.5zM70 278.3h1.5v2.7h-1.5zM70 292.8h1.5v3.8h-1.5zM70 297.7h1.5v2.8h-1.5zM70 301.6h1.5v1.5h-1.5zM70 305h1.5v1.5h-1.5zM70 307.3h1.5v10.2h-1.5zM71 316.9h1.5v28.9h-1.5zM71 289.6h1.5v1.5h-1.5zM71 292h1.5v1.5h-1.5zM71 295.2h1.5v2.8h-1.5zM71 298.4h1.5v4.9h-1.5zM71 303.8h1.5v13.6h-1.5zM72 316.9h1.5v28.9h-1.5zM72 278.9h1.5v1.5h-1.5zM72 281.4h1.5v1.5h-1.5zM72 283.3h1.5v1.5h-1.5zM72 285.5h1.5v1.5h-1.5zM72 288h1.5v4.6h-1.5zM72 293.1h1.5v1.5h-1.5zM72 295h1.5v1.5h-1.5zM72 301h1.5v2.2h-1.5zM72 303.5h1.5v14.1h-1.5zM73 316.9h1.5v28.9h-1.5zM73 289h1.5v1.5h-1.5zM73 303h1.5v1.5h-1.5zM73 308h1.5v1.5h-1.5zM73 310.1h1.5v7.4h-1.5zM74 316.9h1.5v28.9h-1.5zM74 280.7h1.5v1.5h-1.5zM74 282.7h1.5v1.5h-1.5zM74 285h1.5v1.5h-1.5zM74 286.7h1.5v1.5h-1.5zM74 289.2h1.5v1.5h-1.5zM74 291.9h1.5v1.6h-1.5zM74 294h1.5v2.4h-1.5zM74 297.5h1.5v5.7h-1.5zM74 303.7h1.5v5.9h-1.5zM74 310h1.5v7.4h-1.5zM75 316.9h1.5v28.9h-1.5zM75 291.8h1.5v2.7h-1.5zM75 296.5h1.5v1.5h-1.5zM75 299.2h1.5v1.5h-1.5zM75 301.2h1.5v3.8h-1.5zM75 305.2h1.5v1.7h-1.5zM75 307.2h1.5v3.3h-1.5zM75 310.9h1.5v6.7h-1.5zM76 316.9h1.5v28.9h-1.5zM76 285.1h1.5v3h-1.5zM76 288.3h1.5v1.5h-1.5zM76 290.1h1.5v1.5h-1.5zM76 296.4h1.5v1.5h-1.5zM76 298.2h1.5v2.9h-1.5zM76 302.3h1.5v1.5h-1.5zM76 305.3h1.5v1.5h-1.5zM76 308.1h1.5v9.1h-1.5zM77 316.9h1.5v28.9h-1.5zM77 301.1h1.5v10.5h-1.5zM77 311.9h1.5v5.7h-1.5zM78 316.9h1.5v28.9h-1.5zM78 282.4h1.5v1.5h-1.5zM78 284.5h1.5v1.5h-1.5zM78 286.5h1.5v5.4h-1.5zM78 292.7h1.5v4.3h-1.5zM78 297.5h1.5v9.1h-1.5zM78 308.6h1.5v8.1h-1.5zM79 316.9h1.5v28.9h-1.5zM79 286h1.5v2.6h-1.5zM79 309.3h1.5v7.1h-1.5zM80 316.9h1.5v28.9h-1.5zM80 289.2h1.5v2.5h-1.5zM80 296h1.5v1.5h-1.5zM80 298.4h1.5v1.5h-1.5zM80 300.6h1.5v17.1h-1.5zM81 316.9h1.5v28.9h-1.5zM81 283.4h1.5v2.9h-1.5zM81 287.2h1.5v1.5h-1.5zM81 289.6h1.5v4.5h-1.5zM81 294.9h1.5v1.5h-1.5zM81 305.1h1.5v12.4h-1.5zM82 316.9h1.5v28.9h-1.5zM82 277h1.5v1.5h-1.5zM82 278.9h1.5v2.7h-1.5zM82 282.8h1.5v1.5h-1.5zM82 284.7h1.5v1.5h-1.5zM82 286.7h1.5v1.5h-1.5zM82 288.5h1.5v2.9h-1.5zM82 292.7h1.5v3.2h-1.5zM82 300.8h1.5v1.5h-1.5zM82 303h1.5v1.5h-1.5zM82 308.9h1.5v8.7h-1.5zM83 316.9h1.5v28.9h-1.5zM83 285h1.5v1.5h-1.5zM83 303.6h1.5v1.5h-1.5zM83 305.8h1.5v11.8h-1.5zM84 316.9h1.5v28.9h-1.5zM84 278.6h1.5v1.5h-1.5zM84 281.4h1.5v1.5h-1.5zM84 302h1.5v2.8h-1.5zM84 305.5h1.5v12h-1.5zM85 316.9h1.5v28.9h-1.5zM85 281.1h1.5v4.1h-1.5zM85 293.9h1.5v1.5h-1.5zM85 296.3h1.5v1.5h-1.5zM85 298.3h1.5v1.5h-1.5zM85 302.2h1.5v15.1h-1.5zM86 316.9h1.5v28.9h-1.5zM86 289.3h1.5v2.9h-1.5zM86 292.6h1.5v1.5h-1.5zM86 295.2h1.5v3h-1.5zM86 298.5h1.5v2.8h-1.5zM86 301.6h1.5v7.2h-1.5zM86 309h1.5v8.7h-1.5zM87 316.9h1.5v28.9h-1.5zM87 297.6h1.5v20h-1.5zM88 316.9h1.5v28.9h-1.5zM88 296.3h1.5v5.1h-1.5zM88 301.7h1.5v1.5h-1.5zM88 304.3h1.5v1.6h-1.5zM88 306.3h1.5v11.3h-1.5zM89 316.9h1.5v28.9h-1.5zM89 274h1.5v1.5h-1.5zM89 276.1h1.5v3.3h-1.5zM89 280.3h1.5v3.2h-1.5zM89 286.6h1.5v1.5h-1.5zM89 288.4h1.5v1.5h-1.5zM89 290.1h1.5v1.5h-1.5zM89 292.5h1.5v1.5h-1.5zM89 304.3h1.5v13.1h-1.5zM90 316.9h1.5v28.9h-1.5zM90 294.1h1.5v1.5h-1.5zM90 296.2h1.5v1.5h-1.5zM90 299h1.5v1.5h-1.5zM90 303.6h1.5v13.7h-1.5zM91 316.9h1.5v28.9h-1.5zM91 298h1.5v4.2h-1.5zM91 308.2h1.5v5.1h-1.5zM91 313.5h1.5v3.9h-1.5zM92 316.9h1.5v28.9h-1.5zM92 290.6h1.5v1.5h-1.5zM92 292.8h1.5v1.5h-1.5zM92 306.4h1.5v10.8h-1.5zM93 316.9h1.5v28.9h-1.5zM93 299.1h1.5v2.1h-1.5zM93 301.7h1.5v1.5h-1.5zM93 304.1h1.5v13.5h-1.5zM94 316.9h1.5v28.9h-1.5zM94 290.5h1.5v4.2h-1.5zM94 295.6h1.5v14.7h-1.5zM94 310.6h1.5v6.8h-1.5zM95 316.9h1.5v28.9h-1.5zM95 302.2h1.5v1.5h-1.5zM95 304.4h1.5v12.8h-1.5zM96 316.9h1.5v28.9h-1.5zM96 276.2h1.5v1.5h-1.5zM96 296.3h1.5v1.5h-1.5zM96 306.2h1.5v11.2h-1.5zM97 316.9h1.5v28.9h-1.5zM97 285.3h1.5v1.5h-1.5zM97 287.8h1.5v1.5h-1.5zM97 291.1h1.5v1.5h-1.5zM97 293.7h1.5v2.5h-1.5zM97 296.8h1.5v1.5h-1.5zM97 307.7h1.5v9.8h-1.5zM98 316.9h1.5v28.9h-1.5zM98 292.1h1.5v1.5h-1.5zM98 294h1.5v1.5h-1.5zM98 296.5h1.5v1.5h-1.5zM98 298.9h1.5v1.5h-1.5zM98 300.6h1.5v1.5h-1.5zM98 302.9h1.5v1.5h-1.5zM98 307h1.5v1.5h-1.5zM98 309.1h1.5v8.2h-1.5zM99 316.9h1.5v28.9h-1.5zM99 279.1h1.5v5.4h-1.5zM99 285.7h1.5v1.5h-1.5zM99 287.6h1.5v1.5h-1.5zM99 289.5h1.5v3.2h-1.5zM99 293.5h1.5v1.5h-1.5zM99 296h1.5v1.5h-1.5zM99 298.5h1.5v19.1h-1.5zM100 316.9h1.5v28.9h-1.5zM100 276.2h1.5v1.5h-1.5zM100 291.9h1.5v1.5h-1.5zM100 297.8h1.5v1.5h-1.5zM100 300.3h1.5v1.5h-1.5zM100 302.2h1.5v15.3h-1.5zM101 316.9h1.5v28.9h-1.5zM101 291.8h1.5v3.9h-1.5zM101 296.2h1.5v3h-1.5zM101 300.1h1.5v17.2h-1.5zM102 316.9h1.5v28.9h-1.5zM102 280.2h1.5v1.5h-1.5zM102 282h1.5v1.5h-1.5zM102 284.3h1.5v1.5h-1.5zM102 286.7h1.5v1.5h-1.5zM102 288.6h1.5v1.5h-1.5zM102 290.7h1.5v3h-1.5zM102 294.4h1.5v1.5h-1.5zM102 301.9h1.5v15.6h-1.5zM103 316.9h1.5v28.9h-1.5zM103 300.4h1.5v2.9h-1.5zM103 303.8h1.5v1.5h-1.5zM103 305.5h1.5v12.1h-1.5zM104 316.9h1.5v28.9h-1.5zM104 286.5h1.5v5.7h-1.5zM104 292.8h1.5v2.9h-1.5zM104 296h1.5v1.5h-1.5zM104 304.4h1.5v12.8h-1.5zM105 316.9h0.8v28.9h-0.8zM105 283.2h0.8v1.5h-0.8zM105 286h0.8v1.5h-0.8zM105 288.2h0.8v1.5h-0.8zM105 295.6h0.8v5.9h-0.8zM105 301.8h0.8v3.1h-0.8zM105 308h0.8v9.2h-0.8zM83.7 275.1h1.5v1.5h-1.5zM82.3 266.9h1.4v1.5h-1.4zM82.3 274.9h1.4v1.5h-1.4zM82.3 279.8h1.4v1.5h-1.4zM82.3 281.9h1.4v1.5h-1.4zM82.3 300.6h1.4v1.5h-1.4zM82.3 304.4h1.4v1.5h-1.4zM100.3 257h1.4v1.5h-1.4zM100.3 266.7h1.4v1.5h-1.4zM100.3 270.6h1.4v1.5h-1.4zM100.3 274.4h1.4v1.5h-1.4zM100.3 282h1.4v1.5h-1.4zM100.3 287.1h1.4v1.5h-1.4zM100.3 289.3h1.4v1.5h-1.4zM100.3 291.2h1.4v1.5h-1.4zM100.3 294.1h1.4v1.5h-1.4zM100.3 297.6h1.4v1.5h-1.4zM100.3 300.1h1.4v1.5h-1.4zM360 314.9h1.5v30.9h-1.5zM360 277.7h1.5v3.1h-1.5zM360 281.4h1.5v1.5h-1.5zM360 283.5h1.5v4.2h-1.5zM360 288.6h1.5v1.5h-1.5zM360 290.3h1.5v3.1h-1.5zM360 294h1.5v1.8h-1.5zM360 296.1h1.5v1.9h-1.5zM360 298.6h1.5v1.5h-1.5zM360 300.7h1.5v5.9h-1.5zM360 307.5h1.5v8h-1.5zM361 314.9h1.5v30.9h-1.5zM361 293.9h1.5v2.8h-1.5zM361 297.5h1.5v18.1h-1.5zM362 314.9h1.5v30.9h-1.5zM362 292.5h1.5v2.2h-1.5zM362 295h1.5v4.1h-1.5zM362 299.9h1.5v15.7h-1.5zM363 314.9h1.5v30.9h-1.5zM363 301.4h1.5v14.2h-1.5zM364 314.9h1.5v30.9h-1.5zM364 276.3h1.5v1.5h-1.5zM364 301.8h1.5v1.5h-1.5zM364 304.3h1.5v11.1h-1.5zM365 314.9h1.5v30.9h-1.5zM365 280h1.5v1.5h-1.5zM365 302.5h1.5v11.7h-1.5zM366 314.9h1.5v30.9h-1.5zM366 281.4h1.5v2.9h-1.5zM366 284.6h1.5v31h-1.5zM367 314.9h1.5v30.9h-1.5zM367 309.7h1.5v1.5h-1.5zM367 311.6h1.5v3.1h-1.5zM368 314.9h1.5v30.9h-1.5zM368 283.1h1.5v2.7h-1.5zM368 286.8h1.5v1.5h-1.5zM368 288.5h1.5v1.5h-1.5zM368 290.6h1.5v3.4h-1.5zM368 294.3h1.5v21h-1.5zM369 314.9h1.5v30.9h-1.5zM369 279.5h1.5v1.5h-1.5zM369 281.6h1.5v7.7h-1.5zM369 290.4h1.5v1.5h-1.5zM369 292.6h1.5v1.5h-1.5zM369 296h1.5v19.4h-1.5zM370 314.9h1.5v30.9h-1.5zM370 291.1h1.5v2.9h-1.5zM370 294.2h1.5v3.1h-1.5zM370 297.7h1.5v6.6h-1.5zM370 304.6h1.5v5.6h-1.5zM370 310.6h1.5v4.8h-1.5zM371 314.9h1.5v30.9h-1.5zM371 290.1h1.5v1.5h-1.5zM371 298h1.5v1.5h-1.5zM371 300.8h1.5v1.5h-1.5zM371 302.9h1.5v1.5h-1.5zM371 304.9h1.5v1.5h-1.5zM371 307.3h1.5v8.2h-1.5zM372 314.9h1.5v30.9h-1.5zM372 288.6h1.5v1.5h-1.5zM372 291.3h1.5v2.8h-1.5zM372 294.8h1.5v1.5h-1.5zM372 296.7h1.5v4.4h-1.5zM372 301.3h1.5v8h-1.5zM372 311.9h1.5v3.4h-1.5zM373 314.9h1.5v30.9h-1.5zM373 289.2h1.5v2.8h-1.5zM373 292.8h1.5v2.8h-1.5zM373 296.3h1.5v3h-1.5zM373 300.5h1.5v1.5h-1.5zM373 302.4h1.5v1.5h-1.5zM373 305h1.5v10.5h-1.5zM374 314.9h1.5v30.9h-1.5zM374 284.5h1.5v1.5h-1.5zM374 286.4h1.5v1.5h-1.5zM374 288.6h1.5v26.8h-1.5zM375 314.9h1.5v30.9h-1.5zM375 299.8h1.5v2.8h-1.5zM375 303.4h1.5v12.1h-1.5zM376 314.9h1.5v30.9h-1.5zM376 297h1.5v1.5h-1.5zM376 300.4h1.5v1.5h-1.5zM376 302.7h1.5v12.8h-1.5zM377 314.9h1.5v30.9h-1.5zM377 290.7h1.5v3.9h-1.5zM377 295.3h1.5v8.9h-1.5zM377 306h1.5v9.1h-1.5zM378 314.9h1.2v30.9h-1.2zM378 273.8h1.2v2.5h-1.2zM378 277h1.2v1.5h-1.2zM378 279.4h1.2v1.5h-1.2zM378 281.9h1.2v1.5h-1.2zM378 297.5h1.2v1.8h-1.2zM378 301.2h1.2v2.3h-1.2zM378 303.9h1.2v11.7h-1.2zM379 314.9h0.2v30.9h-0.2zM379 275.1h0.2v1.5h-0.2zM379 289h0.2v1.5h-0.2zM379 291h0.2v1.5h-0.2zM379 292.8h0.2v1.5h-0.2zM379 294.9h0.2v3.3h-0.2zM379 299.2h0.2v1.5h-0.2zM379 301.1h0.2v2.1h-0.2zM379 303.6h0.2v12h-0.2zM361.3 254.3h1.4v1.5h-1.4zM361.3 273.6h1.4v1.5h-1.4zM361.3 279.8h1.4v1.5h-1.4zM361.3 282.4h1.4v1.5h-1.4zM361.3 284.9h1.4v1.5h-1.4zM361.3 287.1h1.4v1.5h-1.4zM361.3 293h1.4v1.5h-1.4zM361.3 300.8h1.4v1.5h-1.4zM361.3 304.1h1.4v1.5h-1.4zM502.5 320.5h1.5v25.3h-1.5zM502.5 286.7h1.5v3.1h-1.5zM502.5 290.1h1.5v3.9h-1.5zM502.5 294.6h1.5v1.5h-1.5zM502.5 297.4h1.5v3h-1.5zM502.5 300.8h1.5v5.5h-1.5zM502.5 306.6h1.5v13.6h-1.5zM503.5 320.5h1.5v25.3h-1.5zM503.5 285.6h1.5v1.5h-1.5zM503.5 287.8h1.5v3h-1.5zM503.5 291.1h1.5v1.5h-1.5zM503.5 293.2h1.5v1.5h-1.5zM503.5 295.4h1.5v1.5h-1.5zM503.5 297.4h1.5v23.8h-1.5zM504.5 320.5h1.5v25.3h-1.5zM504.5 299h1.5v3h-1.5zM504.5 309.7h1.5v1.5h-1.5zM504.5 312.1h1.5v9.1h-1.5zM505.5 320.5h1.5v25.3h-1.5zM505.5 290.8h1.5v1.5h-1.5zM505.5 293.1h1.5v2.7h-1.5zM505.5 296.6h1.5v1.5h-1.5zM505.5 298.7h1.5v1.5h-1.5zM505.5 300.9h1.5v20.4h-1.5zM506.5 320.5h1.1v25.3h-1.1zM506.5 300h1.1v2.9h-1.1zM506.5 304.1h1.1v1.5h-1.1zM506.5 306.4h1.1v2.7h-1.1zM506.5 309.4h1.1v5h-1.1zM506.5 314.7h1.1v1.5h-1.1zM506.5 316.4h1.1v4.9h-1.1zM503.3 263.6h1.4v1.5h-1.4zM503.3 270.9h1.4v1.5h-1.4zM503.3 273h1.4v1.5h-1.4zM503.3 285.6h1.4v1.5h-1.4zM503.3 288.1h1.4v1.5h-1.4zM503.3 291.3h1.4v1.5h-1.4zM503.3 300.1h1.4v1.5h-1.4zM503.3 303.3h1.4v1.5h-1.4zM503.3 308h1.4v1.5h-1.4z"/>
<path fill="#10197a" d="M107 320.7h1.5v25.1h-1.5zM107 278.7h1.5v3.1h-1.5zM107 282.6h1.5v1.5h-1.5zM107 293h1.5v3h-1.5zM107 299h1.5v1.5h-1.5zM107 305.2h1.5v2.6h-1.5zM107 308.4h1.5v13h-1.5zM108 320.7h1.5v25.1h-1.5zM108 289.2h1.5v2.9h-1.5zM108 293h1.5v4.6h-1.5zM108 298.5h1.5v4.3h-1.5zM108 303.1h1.5v17.2h-1.5zM109 320.7h1.5v25.1h-1.5zM109 291.5h1.5v1.5h-1.5zM109 293.9h1.5v1.5h-1.5zM109 296.4h1.5v1.5h-1.5zM109 299h1.5v1.5h-1.5zM109 307.8h1.5v13.6h-1.5zM110 320.7h1.5v25.1h-1.5zM110 300.1h1.5v4h-1.5zM110 307.2h1.5v2.8h-1.5zM110 310.5h1.5v10.9h-1.5zM111 320.7h1.5v25.1h-1.5zM111 282.7h1.5v3.2h-1.5zM111 286.6h1.5v2.9h-1.5zM111 290h1.5v4.3h-1.5zM111 295.3h1.5v1.5h-1.5zM111 297.4h1.5v1.5h-1.5zM111 299.2h1.5v1.5h-1.5zM111 301.1h1.5v20.4h-1.5zM112 320.7h1.5v25.1h-1.5zM112 289.8h1.5v1.5h-1.5zM112 293.4h1.5v3.2h-1.5zM112 296.9h1.5v4.1h-1.5zM112 303.6h1.5v17.5h-1.5zM113 320.7h1.5v25.1h-1.5zM113 301h1.5v2.2h-1.5zM113 303.9h1.5v8.5h-1.5zM113 313.7h1.5v7.7h-1.5zM114 320.7h1.5v25.1h-1.5zM114 292.9h1.5v9.8h-1.5zM114 303.3h1.5v1.5h-1.5zM114 305.8h1.5v15.4h-1.5zM115 320.7h1.5v25.1h-1.5zM115 285.3h1.5v1.5h-1.5zM115 287h1.5v3.4h-1.5zM115 291.5h1.5v1.9h-1.5zM115 294.5h1.5v1.5h-1.5zM115 296.7h1.5v1.5h-1.5zM115 299.3h1.5v8h-1.5zM115 308.4h1.5v7.4h-1.5zM115 315.9h1.5v5.5h-1.5zM116 320.7h1.5v25.1h-1.5zM116 282.2h1.5v1.5h-1.5zM116 297.4h1.5v1.5h-1.5zM116 300h1.5v1.5h-1.5zM116 302.3h1.5v3.9h-1.5zM116 306.6h1.5v2.1h-1.5zM116 308.9h1.5v3.5h-1.5zM116 313.7h1.5v7.5h-1.5zM117 320.7h1.5v25.1h-1.5zM117 298h1.5v10.2h-1.5zM117 308.6h1.5v1.9h-1.5zM117 311.2h1.5v10.1h-1.5zM118 320.7h1.5v25.1h-1.5zM118 298.6h1.5v1.5h-1.5zM118 300.3h1.5v1.5h-1.5zM118 302.7h1.5v3.7h-1.5zM118 306.9h1.5v14.5h-1.5zM119 320.7h1.5v25.1h-1.5zM119 287.3h1.5v1.5h-1.5zM119 289.1h1.5v1.5h-1.5zM119 291.8h1.5v3.6h-1.5zM119 301.2h1.5v2.8h-1.5zM119 307.3h1.5v3.4h-1.5zM119 311.4h1.5v1.8h-1.5zM119 314.1h1.5v7h-1.5zM120 320.7h1.5v25.1h-1.5zM120 294.7h1.5v3h-1.5zM120 298.5h1.5v2.6h-1.5zM120 301.9h1.5v1.5h-1.5zM120 304.3h1.5v3.1h-1.5zM120 308.5h1.5v1.5h-1.5zM120 311.2h1.5v10h-1.5zM121 320.7h1.5v25.1h-1.5zM121 281.3h1.5v1.5h-1.5zM121 283.9h1.5v2.6h-1.5zM121 287.5h1.5v1.5h-1.5zM121 289.4h1.5v1.5h-1.5zM121 292h1.5v1.5h-1.5zM121 294.5h1.5v1.5h-1.5zM121 297.2h1.5v1.5h-1.5zM121 299.8h1.5v2.6h-1.5zM121 305.8h1.5v15.3h-1.5zM122 320.7h1.5v25.1h-1.5zM122 278.2h1.5v1.5h-1.5zM122 284.7h1.5v3.1h-1.5zM122 310.9h1.5v1.5h-1.5zM122 312.6h1.5v8.7h-1.5zM123 320.7h1.5v25.1h-1.5zM123 280.4h1.5v1.5h-1.5zM123 282.2h1.5v2.6h-1.5zM123 285.9h1.5v1.6h-1.5zM123 287.8h1.5v2.5h-1.5zM123 291.5h1.5v3.4h-1.5zM123 295.8h1.5v1.5h-1.5zM123 307.7h1.5v13.7h-1.5zM124 320.7h1.5v25.1h-1.5zM124 293h1.5v3.1h-1.5zM124 296.7h1.5v1.5h-1.5zM124 308.4h1.5v1.5h-1.5zM124 311.2h1.5v10.1h-1.5zM125 320.7h1.5v25.1h-1.5zM125 298.1h1.5v2.7h-1.5zM125 301.1h1.5v3.7h-1.5zM125 305.4h1.5v1.5h-1.5zM125 307.7h1.5v1.7h-1.5zM125 310.4h1.5v2.8h-1.5zM125 314.2h1.5v7.2h-1.5zM126 320.7h1.5v25.1h-1.5zM126 302.4h1.5v1.5h-1.5zM126 304.8h1.5v16.5h-1.5zM127 320.7h1.5v25.1h-1.5zM127 281.3h1.5v1.5h-1.5zM127 283.2h1.5v7.6h-1.5zM127 291.4h1.5v1.5h-1.5zM127 293.2h1.5v2.4h-1.5zM127 296.2h1.5v2.9h-1.5zM127 299.8h1.5v1.5h-1.5zM127 301.6h1.5v3.1h-1.5zM127 307h1.5v14.4h-1.5zM128 320.7h1.5v25.1h-1.5zM128 304.9h1.5v4.2h-1.5zM128 310.3h1.5v4.4h-1.5zM128 315.3h1.5v6h-1.5zM129 320.7h1.5v25.1h-1.5zM129 300.7h1.5v1.5h-1.5zM129 302.9h1.5v17.7h-1.5zM130 320.7h1.5v25.1h-1.5zM130 280.7h1.5v1.5h-1.5zM130 283.4h1.5v1.5h-1.5zM130 303.9h1.5v1.5h-1.5zM130 306.7h1.5v1.5h-1.5zM130 309h1.5v12.2h-1.5zM131 320.7h1.5v25.1h-1.5zM131 290.2h1.5v1.5h-1.5zM131 292.3h1.5v11h-1.5zM131 303.9h1.5v17.2h-1.5zM132 320.7h1.5v25.1h-1.5zM132 284.9h1.5v1.5h-1.5zM132 287.4h1.5v1.5h-1.5zM132 290.2h1.5v4.3h-1.5zM132 295.5h1.5v1.5h-1.5zM132 298.3h1.5v1.5h-1.5zM132 300.3h1.5v2.8h-1.5zM132 303.5h1.5v1.5h-1.5zM132 305.7h1.5v1.5h-1.5zM132 307.4h1.5v1.5h-1.5zM132 309.4h1.5v11.8h-1.5zM133 320.7h1.5v25.1h-1.5zM133 296.1h1.5v3.2h-1.5zM133 299.7h1.5v3.5h-1.5zM133 303.7h1.5v2.7h-1.5zM133 307h1.5v4h-1.5zM133 311.4h1.5v9.9h-1.5zM134 320.7h1.5v25.1h-1.5zM134 300.8h1.5v1.5h-1.5zM134 303.2h1.5v17.8h-1.5zM135 320.7h1.5v25.1h-1.5zM135 281h1.5v3.2h-1.5zM135 285.4h1.5v1.5h-1.5zM135 287.8h1.5v1.5h-1.5zM135 290.5h1.5v3h-1.5zM135 294.2h1.5v1.5h-1.5zM135 296.9h1.5v2.6h-1.5zM135 299.9h1.5v4.2h-1.5zM135 304.5h1.5v1.5h-1.5zM135 306.4h1.5v1.5h-1.5zM135 308.6h1.5v1.5h-1.5zM135 310.5h1.5v1.5h-1.5zM135 312.6h1.5v8.8h-1.5zM136 320.7h1.5v25.1h-1.5zM136 288.9h1.5v16.3h-1.5zM136 310.1h1.5v1.5h-1.5zM136 312.4h1.5v9h-1.5zM137 320.7h1v25.1h-1zM137 284.5h1v1.5h-1zM137 297.4h1v1.5h-1zM137 299.1h1v1.5h-1zM137 300.9h1v1.5h-1zM137 303.4h1v1.5h-1zM137 308.7h1v1.5h-1zM137 310.5h1v10.4h-1zM125.1 279.6h1.5v1.5h-1.5zM125.3 260.3h1.4v1.5h-1.4zM125.3 267.2h1.4v1.5h-1.4zM125.3 271h1.4v1.5h-1.4zM125.3 276.8h1.4v1.5h-1.4zM125.3 281.6h1.4v1.5h-1.4zM125.3 290.2h1.4v1.5h-1.4zM124.3 230.4h1.4v1.5h-1.4zM124.3 236.8h1.4v1.5h-1.4zM124.3 241.4h1.4v1.5h-1.4zM124.3 264.7h1.4v1.5h-1.4zM124.3 272.4h1.4v1.5h-1.4zM124.3 275.6h1.4v3.2h-1.4zM124.3 285.8h1.4v1.5h-1.4zM124.3 296h1.4v1.5h-1.4zM124.3 300h1.4v1.5h-1.4zM124.3 301.9h1.4v1.5h-1.4zM124.3 304.7h1.4v1.5h-1.4zM124.3 309.8h1.4v1.5h-1.4zM380.5 319.9h1.5v25.9h-1.5zM380.5 285.8h1.5v1.5h-1.5zM380.5 287.8h1.5v2.8h-1.5zM380.5 291.4h1.5v2.5h-1.5zM380.5 300.5h1.5v2.5h-1.5zM380.5 306.8h1.5v1.5h-1.5zM380.5 309h1.5v11.1h-1.5zM381.5 319.9h1.5v25.9h-1.5zM381.5 297.4h1.5v2.5h-1.5zM381.5 303.1h1.5v1.5h-1.5zM381.5 305.8h1.5v1.5h-1.5zM381.5 310.4h1.5v4.4h-1.5zM381.5 315.4h1.5v4.5h-1.5zM382.5 319.9h1.5v25.9h-1.5zM382.5 293.8h1.5v1.5h-1.5zM382.5 296.5h1.5v1.5h-1.5zM382.5 299.1h1.5v1.9h-1.5zM382.5 302.3h1.5v18.3h-1.5zM383.5 319.9h1.5v25.9h-1.5zM383.5 293.1h1.5v1.5h-1.5zM383.5 295.6h1.5v1.5h-1.5zM383.5 298.2h1.5v1.5h-1.5zM383.5 306.4h1.5v14.2h-1.5zM384.5 319.9h1.5v25.9h-1.5zM384.5 280h1.5v1.5h-1.5zM384.5 282.3h1.5v1.5h-1.5zM384.5 285.7h1.5v1.5h-1.5zM384.5 287.6h1.5v1.5h-1.5zM384.5 289.7h1.5v2.8h-1.5zM384.5 293.4h1.5v1.5h-1.5zM384.5 295.8h1.5v1.5h-1.5zM384.5 297.6h1.5v1.5h-1.5zM384.5 299.5h1.5v1.5h-1.5zM384.5 302.2h1.5v18.4h-1.5zM385.5 319.9h1.5v25.9h-1.5zM385.5 278.8h1.5v2.6h-1.5zM385.5 282.4h1.5v1.5h-1.5zM385.5 284.1h1.5v4.1h-1.5zM385.5 288.6h1.5v1.5h-1.5zM385.5 290.9h1.5v1.5h-1.5zM385.5 293.2h1.5v2.5h-1.5zM385.5 295.9h1.5v1.5h-1.5zM385.5 298.9h1.5v1.5h-1.5zM385.5 300.9h1.5v1.5h-1.5zM385.5 303h1.5v1.5h-1.5zM385.5 304.9h1.5v4.8h-1.5zM385.5 310.4h1.5v10.2h-1.5zM386.5 319.9h1.5v25.9h-1.5zM386.5 281.2h1.5v1.5h-1.5zM386.5 303.6h1.5v17h-1.5zM387.5 319.9h1.5v25.9h-1.5zM387.5 301h1.5v4.6h-1.5zM387.5 306.2h1.5v13.9h-1.5zM388.5 319.9h1.5v25.9h-1.5zM388.5 286h1.5v15.2h-1.5zM388.5 302.3h1.5v2.7h-1.5zM388.5 305.7h1.5v2.9h-1.5zM388.5 309.4h1.5v11.1h-1.5zM389.5 319.9h1.5v25.9h-1.5zM389.5 282.2h1.5v5.8h-1.5zM389.5 288.4h1.5v4.8h-1.5zM389.5 294.2h1.5v4.9h-1.5zM389.5 299.7h1.5v2.6h-1.5zM389.5 309h1.5v11.4h-1.5zM390.5 319.9h1.5v25.9h-1.5zM390.5 300.8h1.5v1.5h-1.5zM390.5 303h1.5v2.6h-1.5zM390.5 305.9h1.5v1.5h-1.5zM390.5 307.6h1.5v1.5h-1.5zM390.5 309.6h1.5v10.8h-1.5zM391.5 319.9h1.5v25.9h-1.5zM391.5 282.6h1.5v18.5h-1.5zM391.5 301.6h1.5v1.8h-1.5zM391.5 308.4h1.5v1.5h-1.5zM391.5 310.4h1.5v9.9h-1.5zM392.5 319.9h1.5v25.9h-1.5zM392.5 301.9h1.5v1.5h-1.5zM392.5 303.7h1.5v2h-1.5zM392.5 307.8h1.5v12.4h-1.5zM393.5 319.9h1.5v25.9h-1.5zM393.5 278.8h1.5v4.8h-1.5zM393.5 284h1.5v2.7h-1.5zM393.5 298.1h1.5v5.6h-1.5zM393.5 309h1.5v11.5h-1.5zM394.5 319.9h1.5v25.9h-1.5zM394.5 277.1h1.5v1.5h-1.5zM394.5 302.5h1.5v1.5h-1.5zM394.5 304.4h1.5v1.5h-1.5zM394.5 307h1.5v1.5h-1.5zM394.5 309.2h1.5v2.9h-1.5zM394.5 312.4h1.5v8.1h-1.5zM395.5 319.9h1.5v25.9h-1.5zM395.5 294.5h1.5v1.5h-1.5zM395.5 296.7h1.5v3.1h-1.5zM395.5 300.5h1.5v1.5h-1.5zM395.5 302.7h1.5v1.5h-1.5zM395.5 304.5h1.5v3.5h-1.5zM395.5 308.3h1.5v5.9h-1.5zM395.5 314.9h1.5v5.6h-1.5zM396.5 319.9h1v25.9h-1zM396.5 292h1v2.5h-1zM396.5 295.4h1v1.9h-1zM396.5 298.1h1v3.2h-1zM396.5 311.1h1v1.9h-1zM396.5 313.4h1v7h-1zM392.3 259.3h1.4v1.5h-1.4zM392.3 265.7h1.4v1.5h-1.4zM392.3 283.3h1.4v1.5h-1.4zM392.3 285.2h1.4v1.5h-1.4zM392.3 290.3h1.4v1.5h-1.4zM392.3 295.3h1.4v1.5h-1.4zM392.3 302.8h1.4v1.5h-1.4zM392.3 306.9h1.4v1.5h-1.4zM389.3 265.3h1.4v1.5h-1.4zM389.3 273.7h1.4v1.5h-1.4zM389.3 276.9h1.4v1.5h-1.4zM389.3 280.7h1.4v1.5h-1.4zM389.3 286.2h1.4v1.5h-1.4zM389.3 299h1.4v1.5h-1.4zM389.3 304.2h1.4v1.5h-1.4zM389.3 307.6h1.4v1.5h-1.4z"/>
<path fill="#000000" d="M139 318.5h1.5v27.3h-1.5zM139 287.9h1.5v3.1h-1.5zM139 294.4h1.5v5.5h-1.5zM139 300.2h1.5v4.7h-1.5zM139 305.1h1.5v8.5h-1.5zM139 314.7h1.5v4.6h-1.5zM140 318.5h1.5v27.3h-1.5zM140 299.6h1.5v1.5h-1.5zM140 302.2h1.5v1.5h-1.5zM140 304.8h1.5v1.5h-1.5zM140 307.5h1.5v11.8h-1.5zM141 318.5h1.5v27.3h-1.5zM141 284.7h1.5v1.5h-1.5zM141 286.8h1.5v1.5h-1.5zM141 289.3h1.5v1.5h-1.5zM141 291.4h1.5v1.5h-1.5zM141 293.5h1.5v10.3h-1.5zM141 304.5h1.5v1.5h-1.5zM141 306.5h1.5v12.4h-1.5zM142 318.5h1.5v27.3h-1.5zM142 284.4h1.5v1.5h-1.5zM142 302.1h1.5v1.5h-1.5zM142 304.7h1.5v1.5h-1.5zM142 306.8h1.5v2.2h-1.5zM142 311.2h1.5v1.5h-1.5zM142 313.4h1.5v5.8h-1.5zM143 318.5h1.5v27.3h-1.5zM143 292.3h1.5v1.5h-1.5zM143 297.1h1.5v1.5h-1.5zM143 299.4h1.5v3.1h-1.5zM143 303.4h1.5v2.7h-1.5zM143 306.8h1.5v1.5h-1.5zM143 308.8h1.5v10h-1.5zM144 318.5h1.5v27.3h-1.5zM144 298.6h1.5v1.5h-1.5zM144 300.9h1.5v6.2h-1.5zM144 307.4h1.5v1.5h-1.5zM144 309.9h1.5v4.8h-1.5zM144 315.3h1.5v3.3h-1.5zM145 318.5h1.5v27.3h-1.5zM145 290h1.5v1.5h-1.5zM145 292.4h1.5v5.2h-1.5zM145 298.1h1.5v1.7h-1.5zM145 300h1.5v1.5h-1.5zM145 308.1h1.5v5.6h-1.5zM145 314h1.5v5.2h-1.5zM146 318.5h1.5v27.3h-1.5zM146 285.3h1.5v1.5h-1.5zM146 288.1h1.5v1.5h-1.5zM146 290.9h1.5v1.7h-1.5zM146 293.8h1.5v5.4h-1.5zM146 299.5h1.5v1.5h-1.5zM146 301.9h1.5v1.5h-1.5zM146 303.7h1.5v1.5h-1.5zM146 306.5h1.5v12.8h-1.5zM147 318.5h1.5v27.3h-1.5zM147 293.4h1.5v1.5h-1.5zM147 295.5h1.5v23.7h-1.5zM148 318.5h1.5v27.3h-1.5zM148 303.3h1.5v15.9h-1.5zM149 318.5h1.5v27.3h-1.5zM149 294.7h1.5v2.8h-1.5zM149 301h1.5v1.5h-1.5zM149 303.1h1.5v15.8h-1.5zM150 318.5h1.5v27.3h-1.5zM150 278.1h1.5v4.6h-1.5zM150 287h1.5v1.5h-1.5zM150 299.3h1.5v3.1h-1.5zM150 303.7h1.5v1.5h-1.5zM150 305.6h1.5v1.5h-1.5zM150 307.8h1.5v11.4h-1.5zM151 318.5h1.5v27.3h-1.5zM151 305.1h1.5v4.1h-1.5zM151 310.6h1.5v7.9h-1.5zM152 318.5h1.5v27.3h-1.5zM152 282.9h1.5v1.5h-1.5zM152 285h1.5v1.5h-1.5zM152 286.7h1.5v1.5h-1.5zM152 304.6h1.5v14.6h-1.5zM153 318.5h1.5v27.3h-1.5zM153 289h1.5v1.5h-1.5zM153 308.5h1.5v10.1h-1.5zM154 318.5h1.5v27.3h-1.5zM154 304.3h1.5v14.9h-1.5zM155 318.5h1.5v27.3h-1.5zM155 285.5h1.5v1.5h-1.5zM155 287.6h1.5v9h-1.5zM155 297.8h1.5v5.2h-1.5zM155 303.2h1.5v1.5h-1.5zM155 306.7h1.5v3h-1.5zM155 309.9h1.5v8.9h-1.5zM156 318.5h1.5v27.3h-1.5zM156 302.8h1.5v1.5h-1.5zM156 304.5h1.5v1.5h-1.5zM156 306.8h1.5v2.2h-1.5zM156 309.4h1.5v2.3h-1.5zM156 312h1.5v7h-1.5zM157 318.5h1.5v27.3h-1.5zM157 277.4h1.5v3.7h-1.5zM157 282h1.5v1.6h-1.5zM157 284.7h1.5v1.5h-1.5zM157 287h1.5v1.5h-1.5zM157 289.1h1.5v3.1h-1.5zM157 293.2h1.5v1.5h-1.5zM157 302h1.5v1.5h-1.5zM157 304.2h1.5v1.5h-1.5zM157 306h1.5v2.6h-1.5zM157 310.1h1.5v9h-1.5zM158 318.5h1.5v27.3h-1.5zM158 290.2h1.5v5.4h-1.5zM158 296.5h1.5v1.5h-1.5zM158 298.4h1.5v1.5h-1.5zM158 300.9h1.5v17.8h-1.5zM159 318.5h1.5v27.3h-1.5zM159 293.9h1.5v1.5h-1.5zM159 295.8h1.5v2.6h-1.5zM159 299.4h1.5v2.9h-1.5zM159 302.9h1.5v2.9h-1.5zM159 306.1h1.5v13h-1.5zM160 318.5h1.5v27.3h-1.5zM160 275.7h1.5v1.5h-1.5zM160 277.9h1.5v1.5h-1.5zM160 280.3h1.5v1.5h-1.5zM160 283h1.5v1.5h-1.5zM160 284.8h1.5v1.5h-1.5zM160 286.6h1.5v1.7h-1.5zM160 289h1.5v1.5h-1.5zM160 291.2h1.5v1.5h-1.5zM160 293.1h1.5v2.8h-1.5zM160 296.2h1.5v3.4h-1.5zM160 300.4h1.5v7.5h-1.5zM160 308.2h1.5v11h-1.5zM161 318.5h1.5v27.3h-1.5zM161 281.5h1.5v1.5h-1.5zM161 283.5h1.5v1.5h-1.5zM161 286.1h1.5v5.6h-1.5zM161 292.4h1.5v1.5h-1.5zM161 294.8h1.5v3.8h-1.5zM161 299.4h1.5v1.5h-1.5zM161 306.2h1.5v1.5h-1.5zM161 308.3h1.5v10.8h-1.5zM162 318.5h1.5v27.3h-1.5zM162 283.8h1.5v4.1h-1.5zM162 288.6h1.5v4h-1.5zM162 293.1h1.5v1.5h-1.5zM162 295.2h1.5v1.5h-1.5zM162 300.1h1.5v19.2h-1.5zM163 318.5h1.5v27.3h-1.5zM163 288.5h1.5v1.5h-1.5zM163 298.6h1.5v1.5h-1.5zM163 300.3h1.5v1.5h-1.5zM163 302.6h1.5v3.2h-1.5zM163 309.5h1.5v9.8h-1.5zM164 318.5h1.5v27.3h-1.5zM164 287.6h1.5v1.5h-1.5zM164 290.2h1.5v1.5h-1.5zM164 292.3h1.5v1.5h-1.5zM164 294.3h1.5v2.5h-1.5zM164 297.5h1.5v1.5h-1.5zM164 299.6h1.5v1.5h-1.5zM164 302.2h1.5v1.5h-1.5zM164 304.9h1.5v1.5h-1.5zM164 307.7h1.5v11.5h-1.5zM165 318.5h1.5v27.3h-1.5zM165 299.4h1.5v1.5h-1.5zM165 309.3h1.5v9.9h-1.5zM166 318.5h1.5v27.3h-1.5zM166 277.8h1.5v1.5h-1.5zM166 279.6h1.5v1.5h-1.5zM166 281.5h1.5v1.5h-1.5zM166 283.3h1.5v1.5h-1.5zM166 285.4h1.5v1.5h-1.5zM166 287.2h1.5v2.7h-1.5zM166 290.1h1.5v2.8h-1.5zM166 293.5h1.5v3.2h-1.5zM166 297.6h1.5v3.1h-1.5zM166 301.1h1.5v1.5h-1.5zM166 303.6h1.5v5h-1.5zM166 309h1.5v10.1h-1.5zM167 318.5h1.5v27.3h-1.5zM167 300.3h1.5v3h-1.5zM167 304.3h1.5v1.5h-1.5zM167 306h1.5v3.7h-1.5zM167 310.2h1.5v8.8h-1.5zM168 318.5h1.5v27.3h-1.5zM168 300.6h1.5v3.2h-1.5zM168 305.1h1.5v1.6h-1.5zM168 308.3h1.5v1.8h-1.5zM168 310.3h1.5v8.9h-1.5zM169 318.5h1.5v27.3h-1.5zM169 280h1.5v3.1h-1.5zM169 283.8h1.5v1.5h-1.5zM169 285.7h1.5v1.5h-1.5zM169 287.5h1.5v2.6h-1.5zM169 291.2h1.5v2.7h-1.5zM169 294.3h1.5v1.5h-1.5zM169 298.6h1.5v1.5h-1.5zM169 301h1.5v18.3h-1.5zM170 318.5h1.5v27.3h-1.5zM170 275.5h1.5v3.2h-1.5zM170 279.8h1.5v3.1h-1.5zM170 285h1.5v2.9h-1.5zM170 288.6h1.5v1.5h-1.5zM170 291.1h1.5v1.5h-1.5zM170 301.9h1.5v1.5h-1.5zM170 304.7h1.5v2.5h-1.5zM170 307.7h1.5v11.2h-1.5zM171 318.5h1v27.3h-1zM171 277.9h1v10.2h-1zM171 288.5h1v1.5h-1zM171 290.6h1v4.8h-1zM171 295.6h1v2h-1zM171 298.7h1v20.6h-1zM147.3 259.3h1.5v1.5h-1.5zM143.1 257h1.4v1.5h-1.4zM143.1 272.6h1.4v1.5h-1.4zM143.1 287.5h1.4v1.5h-1.4zM143.1 290.2h1.4v1.5h-1.4zM143.1 303.3h1.4v1.5h-1.4zM143.1 306.6h1.4v1.5h-1.4zM154.3 266.9h1.4v1.5h-1.4zM154.3 276.9h1.4v1.5h-1.4zM154.3 281.3h1.4v1.5h-1.4zM154.3 286.2h1.4v1.5h-1.4zM154.3 289.1h1.4v1.5h-1.4zM154.3 291.6h1.4v1.5h-1.4zM154.3 294.3h1.4v1.5h-1.4zM154.3 298.4h1.4v1.5h-1.4zM154.3 303.8h1.4v1.5h-1.4zM164.3 270.3h1.4v1.5h-1.4zM164.3 281.5h1.4v1.5h-1.4zM164.3 283.7h1.4v1.5h-1.4zM164.3 288.6h1.4v1.5h-1.4zM164.3 305.8h1.4v1.5h-1.4zM398.8 323.4h1.5v22.4h-1.5zM398.8 290.9h1.5v1.5h-1.5zM398.8 308.6h1.5v4.3h-1.5zM398.8 315.1h1.5v9h-1.5zM399.8 323.4h1.5v22.4h-1.5zM399.8 280.2h1.5v3h-1.5zM399.8 283.5h1.5v1.5h-1.5zM399.8 285.4h1.5v1.5h-1.5zM399.8 288.2h1.5v1.5h-1.5zM399.8 290.8h1.5v1.5h-1.5zM399.8 292.6h1.5v1.5h-1.5zM399.8 294.5h1.5v1.5h-1.5zM399.8 300.7h1.5v3.9h-1.5zM399.8 305h1.5v1.5h-1.5zM399.8 309h1.5v1.5h-1.5zM399.8 311.1h1.5v1.5h-1.5zM399.8 313.9h1.5v4.4h-1.5zM399.8 318.6h1.5v5.1h-1.5zM400.8 323.4h1.5v22.4h-1.5zM400.8 281.8h1.5v4.3h-1.5zM400.8 286.9h1.5v1.5h-1.5zM400.8 289.4h1.5v2.6h-1.5zM400.8 292.5h1.5v2.9h-1.5zM400.8 295.7h1.5v1.5h-1.5zM400.8 301.6h1.5v1.7h-1.5zM400.8 304.6h1.5v5.5h-1.5zM400.8 310.6h1.5v13.3h-1.5zM401.8 323.4h1.5v22.4h-1.5zM401.8 284.8h1.5v3.2h-1.5zM401.8 289h1.5v1.5h-1.5zM401.8 291.4h1.5v1.5h-1.5zM401.8 298.2h1.5v3.1h-1.5zM401.8 302h1.5v2h-1.5zM401.8 304.5h1.5v19.5h-1.5zM402.8 323.4h1.5v22.4h-1.5zM402.8 301.2h1.5v1.5h-1.5zM402.8 303.6h1.5v1.5h-1.5zM402.8 305.7h1.5v1.5h-1.5zM402.8 308.5h1.5v2.8h-1.5zM402.8 317.6h1.5v6.2h-1.5zM403.8 323.4h1.5v22.4h-1.5zM403.8 302.2h1.5v2.6h-1.5zM403.8 305.5h1.5v4.1h-1.5zM403.8 315.4h1.5v1.5h-1.5zM403.8 319.1h1.5v5h-1.5zM404.8 323.4h1.5v22.4h-1.5zM404.8 302.2h1.5v21.9h-1.5zM405.8 323.4h1.5v22.4h-1.5zM405.8 292.3h1.5v1.5h-1.5zM405.8 294.4h1.5v5.6h-1.5zM405.8 301.1h1.5v5.8h-1.5zM405.8 307.7h1.5v1.5h-1.5zM405.8 309.6h1.5v14.3h-1.5zM406.8 323.4h1.5v22.4h-1.5zM406.8 310.3h1.5v4.3h-1.5zM406.8 315.3h1.5v8.8h-1.5zM407.8 323.4h1.5v22.4h-1.5zM407.8 292.6h1.5v1.5h-1.5zM407.8 295.1h1.5v3h-1.5zM407.8 300.8h1.5v1.5h-1.5zM407.8 303.6h1.5v2.8h-1.5zM407.8 307.2h1.5v16.3h-1.5zM408.8 323.4h1.5v22.4h-1.5zM408.8 313.7h1.5v10h-1.5zM409.8 323.4h1.5v22.4h-1.5zM409.8 295.2h1.5v1.5h-1.5zM409.8 297.2h1.5v1.5h-1.5zM409.8 300h1.5v1.5h-1.5zM409.8 302.5h1.5v5.2h-1.5zM409.8 308.8h1.5v1.5h-1.5zM409.8 310.5h1.5v13.5h-1.5zM410.8 323.4h1.5v22.4h-1.5zM410.8 303.2h1.5v1.5h-1.5zM410.8 305.4h1.5v1.5h-1.5zM410.8 308.1h1.5v2.7h-1.5zM410.8 312h1.5v11.6h-1.5zM411.8 323.4h1.5v22.4h-1.5zM411.8 294.2h1.5v2.8h-1.5zM411.8 297.6h1.5v6.1h-1.5zM411.8 304h1.5v5h-1.5zM411.8 309.5h1.5v1.5h-1.5zM411.8 311.7h1.5v1.7h-1.5zM411.8 313.7h1.5v9.8h-1.5zM412.8 323.4h0.5v22.4h-0.5zM412.8 304.9h0.5v1.5h-0.5zM412.8 307h0.5v17.2h-0.5zM404.3 270.3h1.4v1.5h-1.4zM404.3 278.9h1.4v1.5h-1.4zM404.3 282.7h1.4v1.5h-1.4zM404.3 300.9h1.4v1.5h-1.4z"/>
<path fill="#e8a225" d="M173 321.4h1.5v24.4h-1.5zM173 296.6h1.5v1.5h-1.5zM173 299h1.5v9.5h-1.5zM173 308.7h1.5v13.2h-1.5zM174 321.4h1.5v24.4h-1.5zM174 279.4h1.5v1.5h-1.5zM174 286.4h1.5v1.5h-1.5zM174 288.2h1.5v3h-1.5zM174 300.9h1.5v1.5h-1.5zM174 303.1h1.5v4.2h-1.5zM174 308.2h1.5v13.7h-1.5zM175 321.4h1.5v24.4h-1.5zM175 301.8h1.5v3h-1.5zM175 313.5h1.5v2h-1.5zM175 317h1.5v5h-1.5zM176 321.4h1.5v24.4h-1.5zM176 280.1h1.5v1.5h-1.5zM176 282.4h1.5v1.5h-1.5zM176 284.9h1.5v1.5h-1.5zM176 287.2h1.5v1.5h-1.5zM176 289.2h1.5v1.5h-1.5zM176 291.4h1.5v1.5h-1.5zM176 293.1h1.5v1.5h-1.5zM176 295.7h1.5v4.1h-1.5zM176 300.2h1.5v1.5h-1.5zM176 303.6h1.5v1.5h-1.5zM176 305.7h1.5v6.1h-1.5zM176 312.1h1.5v9.9h-1.5zM177 321.4h1.5v24.4h-1.5zM177 306.1h1.5v1.5h-1.5zM177 308.1h1.5v3h-1.5zM177 311.4h1.5v10.5h-1.5zM178 321.4h1.5v24.4h-1.5zM178 282.1h1.5v3.1h-1.5zM178 295.2h1.5v1.5h-1.5zM178 299.9h1.5v2.5h-1.5zM178 302.6h1.5v19.2h-1.5zM179 321.4h1.5v24.4h-1.5zM179 290h1.5v1.5h-1.5zM179 291.9h1.5v2.7h-1.5zM179 295.8h1.5v1.5h-1.5zM179 300.9h1.5v3.1h-1.5zM179 304.6h1.5v1.5h-1.5zM179 306.4h1.5v15.6h-1.5zM180 321.4h1.5v24.4h-1.5zM180 303.5h1.5v4.6h-1.5zM180 309.2h1.5v12.9h-1.5zM181 321.4h1.5v24.4h-1.5zM181 303.5h1.5v1.5h-1.5zM181 306.1h1.5v1.5h-1.5zM181 308.6h1.5v13.4h-1.5zM182 321.4h1.5v24.4h-1.5zM182 294.1h1.5v1.5h-1.5zM182 296.5h1.5v1.5h-1.5zM182 299.2h1.5v7.4h-1.5zM182 307.4h1.5v1.8h-1.5zM182 310.1h1.5v11.8h-1.5zM183 321.4h1.5v24.4h-1.5zM183 302.9h1.5v1.5h-1.5zM183 305.4h1.5v3.1h-1.5zM183 308.9h1.5v1.5h-1.5zM183 311.3h1.5v10.6h-1.5zM184 321.4h1.5v24.4h-1.5zM184 287.5h1.5v1.5h-1.5zM184 290.3h1.5v2.5h-1.5zM184 300.1h1.5v1.5h-1.5zM184 302.9h1.5v19.2h-1.5zM185 321.4h1.5v24.4h-1.5zM185 283.3h1.5v5.2h-1.5zM185 289.6h1.5v18.1h-1.5zM185 308.5h1.5v13.2h-1.5zM186 321.4h1.5v24.4h-1.5zM186 289.6h1.5v1.5h-1.5zM186 308h1.5v5.8h-1.5zM186 314.1h1.5v7.9h-1.5zM187 321.4h1.5v24.4h-1.5zM187 287h1.5v1.5h-1.5zM187 289.2h1.5v2.6h-1.5zM187 293h1.5v1.5h-1.5zM187 295.8h1.5v1.5h-1.5zM187 298.3h1.5v2.9h-1.5zM187 301.5h1.5v9h-1.5zM187 311.1h1.5v10.6h-1.5zM188 321.4h1.5v24.4h-1.5zM188 280h1.5v2.7h-1.5zM188 282.9h1.5v1.5h-1.5zM188 284.9h1.5v1.5h-1.5zM188 302.8h1.5v6.3h-1.5zM188 309.9h1.5v11.7h-1.5zM189 321.4h1.5v24.4h-1.5zM189 283.5h1.5v1.5h-1.5zM189 285.9h1.5v1.5h-1.5zM189 308.6h1.5v13.4h-1.5zM190 321.4h1.5v24.4h-1.5zM190 299.2h1.5v1.5h-1.5zM190 301.4h1.5v20.7h-1.5zM191 321.4h1.5v24.4h-1.5zM191 277.9h1.5v1.5h-1.5zM191 280.1h1.5v1.5h-1.5zM191 282.8h1.5v1.5h-1.5zM191 287.1h1.5v1.5h-1.5zM191 305.3h1.5v6.3h-1.5zM191 312.3h1.5v9.7h-1.5zM192 321.4h1.5v24.4h-1.5zM192 282.6h1.5v1.5h-1.5zM192 284.8h1.5v2.9h-1.5zM192 310.9h1.5v10.7h-1.5zM193 321.4h1.5v24.4h-1.5zM193 287.4h1.5v1.5h-1.5zM193 289.5h1.5v2.7h-1.5zM193 293.3h1.5v1.5h-1.5zM193 295.8h1.5v7.9h-1.5zM193 304.8h1.5v8.7h-1.5zM193 313.9h1.5v8.1h-1.5zM194 321.4h1.5v24.4h-1.5zM194 285.9h1.5v4.1h-1.5zM194 290.4h1.5v1.5h-1.5zM194 293.4h1.5v1.5h-1.5zM194 306h1.5v6.7h-1.5zM194 312.9h1.5v9.1h-1.5zM195 321.4h1.5v24.4h-1.5zM195 279.2h1.5v1.5h-1.5zM195 281.7h1.5v1.5h-1.5zM195 283.6h1.5v1.5h-1.5zM195 297.8h1.5v2.7h-1.5zM195 301.7h1.5v1.5h-1.5zM195 306.1h1.5v2.8h-1.5zM195 309.9h1.5v12h-1.5zM196 321.4h1.5v24.4h-1.5zM196 287h1.5v1.5h-1.5zM196 289.5h1.5v1.5h-1.5zM196 298h1.5v1.5h-1.5zM196 300.8h1.5v4.6h-1.5zM196 307.8h1.5v1.5h-1.5zM196 310.3h1.5v11.8h-1.5zM197 321.4h1.5v24.4h-1.5zM197 295.8h1.5v2.9h-1.5zM197 299.2h1.5v1.5h-1.5zM197 303.6h1.5v1.5h-1.5zM197 305.8h1.5v8.6h-1.5zM197 315h1.5v7.1h-1.5zM198 321.4h1.5v24.4h-1.5zM198 294.7h1.5v1.5h-1.5zM198 297.4h1.5v3h-1.5zM198 301.1h1.5v5.3h-1.5zM198 307.3h1.5v1.5h-1.5zM198 309.6h1.5v1.5h-1.5zM198 311.5h1.5v10.6h-1.5zM199 321.4h1.5v24.4h-1.5zM199 285.9h1.5v2.7h-1.5zM199 289.6h1.5v3h-1.5zM199 293.5h1.5v1.5h-1.5zM199 295.9h1.5v1.5h-1.5zM199 298.2h1.5v1.5h-1.5zM199 300.7h1.5v1.5h-1.5zM199 308.7h1.5v1.5h-1.5zM199 310.4h1.5v11.5h-1.5zM200 321.4h1.5v24.4h-1.5zM200 303.9h1.5v3.8h-1.5zM200 308.1h1.5v1.8h-1.5zM200 310.6h1.5v11.4h-1.5zM201 321.4h1.5v24.4h-1.5zM201 297.8h1.5v1.5h-1.5zM201 300.1h1.5v2.8h-1.5zM201 303.5h1.5v1.5h-1.5zM201 307.8h1.5v1.5h-1.5zM201 310.1h1.5v3h-1.5zM201 313.4h1.5v8.7h-1.5zM202 321.4h0.5v24.4h-0.5zM202 296.9h0.5v1.5h-0.5zM202 298.9h0.5v3.7h-0.5zM202 303.4h0.5v4.3h-0.5zM202 308.2h0.5v13.9h-0.5zM182.1 267.8h1.5v1.5h-1.5zM178.3 270.3h1.4v1.5h-1.4zM178.3 276.7h1.4v1.5h-1.4zM178.3 282.3h1.4v1.5h-1.4zM178.3 295.9h1.4v1.5h-1.4zM178.3 299.9h1.4v1.5h-1.4zM178.3 303.5h1.4v1.5h-1.4zM415 309.1h1.5v36.7h-1.5zM415 286h1.5v1.5h-1.5zM415 289.2h1.5v2.6h-1.5zM415 292.5h1.5v7.2h-1.5zM415 300h1.5v1.8h-1.5zM415 302.2h1.5v7.4h-1.5zM416 309.1h1.5v36.7h-1.5zM416 277h1.5v2.7h-1.5zM416 281h1.5v1.5h-1.5zM416 283.5h1.5v3.1h-1.5zM416 286.8h1.5v1.5h-1.5zM416 295.8h1.5v1.5h-1.5zM416 298.8h1.5v1.5h-1.5zM416 300.6h1.5v4.1h-1.5zM416 305.1h1.5v4.4h-1.5zM417 309.1h1.5v36.7h-1.5zM417 274.3h1.5v2.6h-1.5zM417 278.1h1.5v2.9h-1.5zM417 281.6h1.5v3h-1.5zM417 285.6h1.5v3.1h-1.5zM417 289.9h1.5v1.5h-1.5zM417 291.6h1.5v1.5h-1.5zM417 293.6h1.5v16.2h-1.5zM418 309.1h1.5v36.7h-1.5zM418 281.1h1.5v2.6h-1.5zM418 292.4h1.5v5.1h-1.5zM418 298.4h1.5v11.3h-1.5zM419 309.1h1.5v36.7h-1.5zM419 280.4h1.5v1.5h-1.5zM419 282.8h1.5v1.5h-1.5zM419 289.2h1.5v2.6h-1.5zM419 292.7h1.5v1.5h-1.5zM419 295.5h1.5v14.3h-1.5zM420 309.1h1.5v36.7h-1.5zM420 288.3h1.5v2.4h-1.5zM420 291.3h1.5v18.5h-1.5zM421 309.1h1.5v36.7h-1.5zM421 288.5h1.5v21.1h-1.5zM422 309.1h1.5v36.7h-1.5zM422 266.6h1.5v2.7h-1.5zM422 270.4h1.5v1.5h-1.5zM422 272.8h1.5v1.5h-1.5zM422 275.6h1.5v1.5h-1.5zM422 277.3h1.5v1.5h-1.5zM422 280h1.5v1.5h-1.5zM422 282.8h1.5v9h-1.5zM422 292.3h1.5v1.5h-1.5zM422 297.7h1.5v11.8h-1.5zM423 309.1h1.5v36.7h-1.5zM423 291h1.5v1.5h-1.5zM423 293.2h1.5v4.4h-1.5zM423 298.2h1.5v1.6h-1.5zM423 300.2h1.5v9.3h-1.5zM424 309.1h1.5v36.7h-1.5zM424 268.1h1.5v1.5h-1.5zM424 270.5h1.5v2.2h-1.5zM424 273h1.5v1.5h-1.5zM424 275.8h1.5v1.5h-1.5zM424 296.3h1.5v1.5h-1.5zM424 299h1.5v1.7h-1.5zM424 300.9h1.5v8.7h-1.5zM425 309.1h1.5v36.7h-1.5zM425 283.5h1.5v1.5h-1.5zM425 285.4h1.5v1.5h-1.5zM425 287.7h1.5v21.9h-1.5zM426 309.1h0.8v36.7h-0.8zM426 274.3h0.8v2.7h-0.8zM426 277.2h0.8v2.6h-0.8zM426 281h0.8v3.1h-0.8zM426 284.9h0.8v1.9h-0.8zM426 287.1h0.8v22.5h-0.8zM415.3 265.3h1.4v1.5h-1.4zM415.3 274.3h1.4v1.5h-1.4zM415.3 279.4h1.4v1.5h-1.4zM415.3 283h1.4v1.5h-1.4zM415.3 292.7h1.4v1.5h-1.4zM415.3 297.2h1.4v1.5h-1.4zM420.3 248h1.4v1.5h-1.4zM420.3 254.1h1.4v1.5h-1.4zM420.3 258.1h1.4v1.5h-1.4zM420.3 262.3h1.4v1.5h-1.4zM420.3 267.1h1.4v1.5h-1.4zM420.3 272.3h1.4v3.2h-1.4zM420.3 276.2h1.4v1.5h-1.4zM420.3 279.3h1.4v1.5h-1.4zM420.3 283.7h1.4v1.5h-1.4zM420.3 288.7h1.4v1.5h-1.4z"/>
<path fill="#fdfd35" d="M203 312.1h1.5v33.7h-1.5zM203 274.2h1.5v1.5h-1.5zM203 276.9h1.5v6.3h-1.5zM203 284.2h1.5v3.1h-1.5zM203 288.5h1.5v2.6h-1.5zM203 291.9h1.5v2.8h-1.5zM203 295.5h1.5v17.2h-1.5zM204 312.1h1.5v33.7h-1.5zM204 297.9h1.5v1.5h-1.5zM204 300.1h1.5v12.6h-1.5zM205 312.1h1.5v33.7h-1.5zM205 303.4h1.5v9.3h-1.5zM206 312.1h1.5v33.7h-1.5zM206 288.8h1.5v1.5h-1.5zM206 291.1h1.5v6.9h-1.5zM206 298.4h1.5v1.5h-1.5zM206 300.3h1.5v4.1h-1.5zM206 304.7h1.5v1.6h-1.5zM206 306.7h1.5v6h-1.5zM207 312.1h1.5v33.7h-1.5zM207 280.6h1.5v3h-1.5zM207 284.5h1.5v5.7h-1.5zM207 296.9h1.5v1.5h-1.5zM207 299h1.5v1.5h-1.5zM207 301.6h1.5v2.7h-1.5zM207 305.6h1.5v7h-1.5zM208 312.1h1.5v33.7h-1.5zM208 279h1.5v1.5h-1.5zM208 281h1.5v6.4h-1.5zM208 287.9h1.5v3.7h-1.5zM208 292.1h1.5v6.3h-1.5zM208 298.8h1.5v2.9h-1.5zM208 302h1.5v10.7h-1.5zM209 312.1h1.5v33.7h-1.5zM209 273.1h1.5v1.5h-1.5zM209 275.8h1.5v2.6h-1.5zM209 278.7h1.5v3h-1.5zM209 282.9h1.5v1.7h-1.5zM209 285.7h1.5v1.5h-1.5zM209 287.8h1.5v4.6h-1.5zM209 293h1.5v19.8h-1.5zM210 312.1h1.5v33.7h-1.5zM210 275.9h1.5v4h-1.5zM210 281h1.5v1.5h-1.5zM210 286.4h1.5v26.4h-1.5zM211 312.1h1.5v33.7h-1.5zM211 286.2h1.5v1.5h-1.5zM211 287.9h1.5v2.9h-1.5zM211 291.8h1.5v3h-1.5zM211 305h1.5v7.6h-1.5zM212 312.1h1.5v33.7h-1.5zM212 271.2h1.5v4.3h-1.5zM212 276h1.5v1.5h-1.5zM212 285.6h1.5v1.5h-1.5zM212 287.4h1.5v2.2h-1.5zM212 296.6h1.5v1.5h-1.5zM212 303.5h1.5v1.6h-1.5zM212 305.5h1.5v7.3h-1.5zM213 312.1h1.5v33.7h-1.5zM213 292.3h1.5v1.5h-1.5zM213 298.1h1.5v14h-1.5zM214 312.1h1.5v33.7h-1.5zM214 286.1h1.5v2.8h-1.5zM214 290h1.5v1.5h-1.5zM214 291.7h1.5v1.5h-1.5zM214 294.6h1.5v18.2h-1.5zM215 312.1h1.5v33.7h-1.5zM215 294.8h1.5v1.5h-1.5zM215 297.4h1.5v1.5h-1.5zM215 299.3h1.5v4.2h-1.5zM215 303.9h1.5v8.8h-1.5zM216 312.1h1.5v33.7h-1.5zM216 278.9h1.5v1.5h-1.5zM216 281.7h1.5v1.5h-1.5zM216 283.9h1.5v1.5h-1.5zM216 286.5h1.5v1.5h-1.5zM216 289h1.5v1.7h-1.5zM216 290.9h1.5v5.1h-1.5zM216 296.5h1.5v2.2h-1.5zM216 299.7h1.5v12.7h-1.5zM217 312.1h1.5v33.7h-1.5zM217 268.7h1.5v1.5h-1.5zM217 288.6h1.5v4.4h-1.5zM217 293.3h1.5v4.7h-1.5zM217 298.5h1.5v14.3h-1.5zM218 312.1h1.5v33.7h-1.5zM218 271.9h1.5v4.7h-1.5zM218 277.1h1.5v1.5h-1.5zM218 279.2h1.5v2.5h-1.5zM218 281.9h1.5v1.5h-1.5zM218 284.6h1.5v1.5h-1.5zM218 286.8h1.5v1.5h-1.5zM218 288.5h1.5v2.5h-1.5zM218 301h1.5v2.6h-1.5zM218 305.6h1.5v7h-1.5zM219 312.1h1.5v33.7h-1.5zM219 276.8h1.5v1.5h-1.5zM219 279.4h1.5v4.8h-1.5zM219 284.4h1.5v3.1h-1.5zM219 292.1h1.5v1.5h-1.5zM219 294.6h1.5v2.6h-1.5zM219 298.1h1.5v1.5h-1.5zM219 300.3h1.5v1.5h-1.5zM219 302.3h1.5v10.3h-1.5zM220 312.1h1.5v33.7h-1.5zM220 278.5h1.5v1.5h-1.5zM220 281.2h1.5v1.5h-1.5zM220 289.6h1.5v1.5h-1.5zM220 291.8h1.5v2.8h-1.5zM220 295.6h1.5v1.5h-1.5zM220 297.5h1.5v7.9h-1.5zM220 306.3h1.5v6.5h-1.5zM221 312.1h1.5v33.7h-1.5zM221 295.3h1.5v17.4h-1.5zM222 312.1h1.5v33.7h-1.5zM222 271.6h1.5v5.7h-1.5zM222 277.7h1.5v3.1h-1.5zM222 282h1.5v4.2h-1.5zM222 286.8h1.5v1.5h-1.5zM222 289.1h1.5v1.5h-1.5zM222 292.8h1.5v1.8h-1.5zM222 295.3h1.5v2.8h-1.5zM222 298.4h1.5v14.3h-1.5zM223 312.1h1.5v33.7h-1.5zM223 271.1h1.5v1.5h-1.5zM223 273.2h1.5v1.5h-1.5zM223 275.6h1.5v1.5h-1.5zM223 278.1h1.5v1.5h-1.5zM223 280.3h1.5v1.5h-1.5zM223 282.3h1.5v1.5h-1.5zM223 284.1h1.5v1.5h-1.5zM223 286.7h1.5v5.5h-1.5zM223 294h1.5v1.9h-1.5zM223 297h1.5v1.5h-1.5zM223 299.3h1.5v13.3h-1.5zM224 312.1h1.5v33.7h-1.5zM224 276.7h1.5v1.5h-1.5zM224 279h1.5v1.5h-1.5zM224 281.1h1.5v1.5h-1.5zM224 287.7h1.5v5.2h-1.5zM224 293.2h1.5v2.1h-1.5zM224 296h1.5v2.6h-1.5zM224 298.9h1.5v13.8h-1.5zM225 312.1h1.5v33.7h-1.5zM225 285.2h1.5v1.5h-1.5zM225 286.9h1.5v1.5h-1.5zM225 289.1h1.5v1.5h-1.5zM225 291.1h1.5v2.7h-1.5zM225 294.5h1.5v1.5h-1.5zM225 296.6h1.5v16.1h-1.5zM226 312.1h1.5v33.7h-1.5zM226 287h1.5v1.5h-1.5zM226 289.6h1.5v3.8h-1.5zM226 293.8h1.5v1.5h-1.5zM226 295.9h1.5v5.9h-1.5zM226 302.2h1.5v10.6h-1.5zM227 312.1h1.5v33.7h-1.5zM227 282.2h1.5v1.5h-1.5zM227 283.9h1.5v1.5h-1.5zM227 286h1.5v4.1h-1.5zM227 290.9h1.5v1.8h-1.5zM227 293.3h1.5v3.2h-1.5zM227 297.4h1.5v15.4h-1.5zM228 312.1h1.5v33.7h-1.5zM228 294.2h1.5v5.5h-1.5zM228 300.8h1.5v11.9h-1.5zM229 312.1h1.5v33.7h-1.5zM229 278.4h1.5v1.5h-1.5zM229 281h1.5v1.5h-1.5zM229 283.5h1.5v1.5h-1.5zM229 292h1.5v6.9h-1.5zM229 299.6h1.5v13.2h-1.5zM230 312.1h1.5v33.7h-1.5zM230 287.8h1.5v4.2h-1.5zM230 296.3h1.5v3.1h-1.5zM230 300h1.5v1.5h-1.5zM230 302.8h1.5v10h-1.5zM231 312.1h1.5v33.7h-1.5zM231 269h1.5v1.5h-1.5zM231 292.9h1.5v19.7h-1.5zM232 312.1h1.5v33.7h-1.5zM232 280.2h1.5v1.5h-1.5zM232 282.8h1.5v1.5h-1.5zM232 285.2h1.5v5.3h-1.5zM232 291.2h1.5v3.2h-1.5zM232 294.7h1.5v1.5h-1.5zM232 298.4h1.5v4.8h-1.5zM232 303.5h1.5v1.8h-1.5zM232 305.6h1.5v6.8h-1.5zM233 312.1h1.5v33.7h-1.5zM233 278.2h1.5v1.5h-1.5zM233 280h1.5v1.5h-1.5zM233 282.6h1.5v1.5h-1.5zM233 284.3h1.5v1.5h-1.5zM233 287.3h1.5v1.5h-1.5zM233 292.1h1.5v9.3h-1.5zM233 302.2h1.5v10.5h-1.5zM234 312.1h1.5v33.7h-1.5zM234 270.4h1.5v1.5h-1.5zM234 272.8h1.5v1.5h-1.5zM234 275.6h1.5v1.5h-1.5zM234 277.5h1.5v1.5h-1.5zM234 279.8h1.5v3h-1.5zM234 283.4h1.5v1.5h-1.5zM234 286.1h1.5v1.5h-1.5zM234 288.4h1.5v1.5h-1.5zM234 290.6h1.5v1.5h-1.5zM234 292.8h1.5v1.5h-1.5zM234 297.1h1.5v1.5h-1.5zM234 304.7h1.5v8.1h-1.5zM235 312.1h0.8v33.7h-0.8zM235 280.8h0.8v1.5h-0.8zM235 282.5h0.8v2.7h-0.8zM235 289.6h0.8v1.5h-0.8zM235 292.2h0.8v3.1h-0.8zM235 300.4h0.8v12.4h-0.8zM204.4 265.6h1.5v1.5h-1.5zM209.3 265.3h1.4v1.5h-1.4zM209.3 269.6h1.4v1.5h-1.4zM209.3 279.1h1.4v1.5h-1.4zM209.3 282.2h1.4v1.5h-1.4zM209.3 285.2h1.4v1.5h-1.4zM209.3 295.3h1.4v1.5h-1.4zM428 303.3h1.5v42.5h-1.5zM428 282.3h1.5v2.8h-1.5zM428 286.3h1.5v1.5h-1.5zM428 288.1h1.5v15.7h-1.5zM429 303.3h1.5v42.5h-1.5zM429 286.2h1.5v4.2h-1.5zM429 291h1.5v12.9h-1.5zM430 303.3h1.5v42.5h-1.5zM430 280.1h1.5v1.5h-1.5zM430 282.2h1.5v1.5h-1.5zM430 286.4h1.5v17.1h-1.5zM431 303.3h1.5v42.5h-1.5zM431 279.5h1.5v1.5h-1.5zM431 281.6h1.5v1.5h-1.5zM431 288.1h1.5v15.9h-1.5zM432 303.3h1.5v42.5h-1.5zM432 282.2h1.5v12h-1.5zM432 294.6h1.5v9.4h-1.5zM433 303.3h1.5v42.5h-1.5zM433 264h1.5v1.5h-1.5zM433 281.2h1.5v22.6h-1.5zM434 303.3h1.5v42.5h-1.5zM434 279.9h1.5v1.5h-1.5zM434 281.7h1.5v1.5h-1.5zM434 283.6h1.5v20.3h-1.5zM435 303.3h1.5v42.5h-1.5zM435 272.8h1.5v3h-1.5zM435 276.8h1.5v1.5h-1.5zM435 279.3h1.5v1.5h-1.5zM435 281.5h1.5v4.6h-1.5zM435 286.7h1.5v2.8h-1.5zM435 290.3h1.5v1.5h-1.5zM435 292.5h1.5v1.5h-1.5zM435 295.1h1.5v8.7h-1.5zM436 303.3h1.5v42.5h-1.5zM436 270.3h1.5v9.9h-1.5zM436 281h1.5v5h-1.5zM436 286.5h1.5v1.6h-1.5zM436 288.3h1.5v15.3h-1.5zM437 303.3h1.5v42.5h-1.5zM437 279.6h1.5v1.5h-1.5zM437 282.3h1.5v2.1h-1.5zM437 285h1.5v3.6h-1.5zM437 289h1.5v14.6h-1.5zM438 303.3h1.5v42.5h-1.5zM438 270.8h1.5v1.5h-1.5zM438 283h1.5v1.5h-1.5zM438 288.6h1.5v3.8h-1.5zM438 292.9h1.5v10.7h-1.5zM439 303.3h1.5v42.5h-1.5zM439 281.1h1.5v2.6h-1.5zM439 284.5h1.5v19.4h-1.5zM440 303.3h1.5v42.5h-1.5zM440 274.1h1.5v1.5h-1.5zM440 286.1h1.5v1.5h-1.5zM440 288.2h1.5v15.4h-1.5zM441 303.3h1.5v42.5h-1.5zM441 267.4h1.5v1.5h-1.5zM441 280.6h1.5v1.5h-1.5zM441 282.8h1.5v21.1h-1.5zM442 303.3h0.5v42.5h-0.5zM442 279.6h0.5v1.5h-0.5zM442 283h0.5v1.5h-0.5zM442 292.3h0.5v1.5h-0.5zM442 294.7h0.5v8.9h-0.5zM433.1 240.3h1.4v1.5h-1.4zM433.1 249.4h1.4v1.5h-1.4zM433.1 252.5h1.4v1.5h-1.4zM433.1 257.1h1.4v1.5h-1.4zM433.1 265.2h1.4v1.5h-1.4zM433.1 268.1h1.4v1.5h-1.4zM433.1 283.1h1.4v1.5h-1.4zM433.1 287.5h1.4v1.5h-1.4zM433.1 291.1h1.4v1.5h-1.4z"/>
<path fill="#ecbec9" d="M236 316.7h1.5v29.1h-1.5zM236 300h1.5v1.8h-1.5zM236 302.6h1.5v2.7h-1.5zM236 306h1.5v1.5h-1.5zM236 307.9h1.5v9.1h-1.5zM237 316.7h1.5v29.1h-1.5zM237 295.8h1.5v7.5h-1.5zM237 304h1.5v1.7h-1.5zM237 305.9h1.5v11.5h-1.5zM238 316.7h1.5v29.1h-1.5zM238 296.1h1.5v5.9h-1.5zM238 302.3h1.5v15.1h-1.5zM239 316.7h1.5v29.1h-1.5zM239 290.8h1.5v1.5h-1.5zM239 304.7h1.5v1.5h-1.5zM239 306.5h1.5v1.5h-1.5zM239 308.3h1.5v9h-1.5zM240 316.7h1.5v29.1h-1.5zM240 290.5h1.5v12.3h-1.5zM240 303.3h1.5v3h-1.5zM240 306.6h1.5v10.8h-1.5zM241 316.7h1.5v29.1h-1.5zM241 275.8h1.5v8.7h-1.5zM241 284.9h1.5v2.9h-1.5zM241 287.9h1.5v1.5h-1.5zM241 290h1.5v1.5h-1.5zM241 291.8h1.5v1.5h-1.5zM241 293.7h1.5v2.8h-1.5zM241 297.7h1.5v2.4h-1.5zM241 301.1h1.5v16.3h-1.5zM242 316.7h1.5v29.1h-1.5zM242 274.7h1.5v3h-1.5zM242 278.3h1.5v1.5h-1.5zM242 280.5h1.5v1.5h-1.5zM242 285.3h1.5v1.5h-1.5zM242 287.6h1.5v1.5h-1.5zM242 290.2h1.5v2.5h-1.5zM242 293.1h1.5v1.5h-1.5zM242 295.2h1.5v22.2h-1.5zM243 316.7h1.5v29.1h-1.5zM243 275.7h1.5v2.9h-1.5zM243 279.2h1.5v1.5h-1.5zM243 281.1h1.5v1.5h-1.5zM243 283.5h1.5v1.5h-1.5zM243 285.8h1.5v1.5h-1.5zM243 287.8h1.5v1.5h-1.5zM243 290.5h1.5v1.5h-1.5zM243 292.5h1.5v6.3h-1.5zM243 300.1h1.5v17.3h-1.5zM244 316.7h1.5v29.1h-1.5zM244 279.6h1.5v1.5h-1.5zM244 281.7h1.5v1.5h-1.5zM244 284h1.5v3h-1.5zM244 288.7h1.5v1.5h-1.5zM244 291.2h1.5v1.5h-1.5zM244 294h1.5v1.5h-1.5zM244 296.7h1.5v1.5h-1.5zM244 299.3h1.5v1.5h-1.5zM244 303.7h1.5v1.9h-1.5zM244 306h1.5v11.3h-1.5zM245 316.7h1.5v29.1h-1.5zM245 293.2h1.5v2.7h-1.5zM245 297.3h1.5v19.8h-1.5zM246 316.7h1.5v29.1h-1.5zM246 279.4h1.5v1.5h-1.5zM246 282.1h1.5v1.5h-1.5zM246 284.5h1.5v2.7h-1.5zM246 292.4h1.5v4.3h-1.5zM246 297.4h1.5v19.9h-1.5zM247 316.7h1.5v29.1h-1.5zM247 283.9h1.5v2.7h-1.5zM247 292.6h1.5v1.5h-1.5zM247 294.7h1.5v1.5h-1.5zM247 297.5h1.5v19.9h-1.5zM248 316.7h1.5v29.1h-1.5zM248 302.9h1.5v10h-1.5zM248 313.3h1.5v4h-1.5zM249 316.7h1.5v29.1h-1.5zM249 286.2h1.5v1.5h-1.5zM249 288.3h1.5v1.5h-1.5zM249 290.3h1.5v7.6h-1.5zM249 298.3h1.5v3.4h-1.5zM249 302h1.5v15.3h-1.5zM250 316.7h1.5v29.1h-1.5zM250 281.2h1.5v1.5h-1.5zM250 283.1h1.5v5.4h-1.5zM250 288.7h1.5v10.1h-1.5zM250 299h1.5v4.5h-1.5zM250 304.2h1.5v13.1h-1.5zM251 316.7h1.5v29.1h-1.5zM251 286.9h1.5v1.5h-1.5zM251 296.2h1.5v1.5h-1.5zM251 301.4h1.5v1.5h-1.5zM251 303.6h1.5v3.9h-1.5zM251 308.5h1.5v1.5h-1.5zM251 310.5h1.5v1.5h-1.5zM251 312.6h1.5v4.8h-1.5zM252 316.7h1.5v29.1h-1.5zM252 273.5h1.5v1.5h-1.5zM252 277.1h1.5v1.5h-1.5zM252 278.9h1.5v2.3h-1.5zM252 281.9h1.5v1.5h-1.5zM252 284.1h1.5v1.5h-1.5zM252 285.9h1.5v4.1h-1.5zM252 291.2h1.5v1.5h-1.5zM252 293.1h1.5v2.6h-1.5zM252 296.9h1.5v3.7h-1.5zM252 301h1.5v16.5h-1.5zM253 316.7h1.5v29.1h-1.5zM253 296h1.5v2.6h-1.5zM253 299.4h1.5v18h-1.5zM254 316.7h1.5v29.1h-1.5zM254 303.3h1.5v2h-1.5zM254 305.8h1.5v1.6h-1.5zM254 307.7h1.5v9.7h-1.5zM255 316.7h1.5v29.1h-1.5zM255 293.3h1.5v1.5h-1.5zM255 306h1.5v1.5h-1.5zM255 308.8h1.5v8.7h-1.5zM256 316.7h1.5v29.1h-1.5zM256 281.7h1.5v1.6h-1.5zM256 283.6h1.5v2.2h-1.5zM256 286h1.5v4.4h-1.5zM256 291.7h1.5v2.7h-1.5zM256 304.2h1.5v1.8h-1.5zM256 309h1.5v8.3h-1.5zM257 316.7h1.5v29.1h-1.5zM257 284h1.5v1.5h-1.5zM257 286.4h1.5v1.5h-1.5zM257 289.3h1.5v6.5h-1.5zM257 296.1h1.5v2.4h-1.5zM257 299.5h1.5v4.2h-1.5zM257 304.1h1.5v13.1h-1.5zM258 316.7h1.5v29.1h-1.5zM258 275.6h1.5v1.5h-1.5zM258 297.2h1.5v1.5h-1.5zM258 303.2h1.5v1.6h-1.5zM258 305.2h1.5v12.2h-1.5zM259 316.7h1.5v29.1h-1.5zM259 305.7h1.5v11.4h-1.5zM260 316.7h1.5v29.1h-1.5zM260 282.3h1.5v3.2h-1.5zM260 286.5h1.5v2.6h-1.5zM260 293.7h1.5v1.5h-1.5zM260 295.7h1.5v1.5h-1.5zM260 297.6h1.5v3h-1.5zM260 301.2h1.5v16.1h-1.5zM261 316.7h1.5v29.1h-1.5zM261 277.3h1.5v3h-1.5zM261 281.5h1.5v1.5h-1.5zM261 283.4h1.5v1.5h-1.5zM261 296.9h1.5v20.2h-1.5zM262 316.7h1.5v29.1h-1.5zM262 297.5h1.5v3h-1.5zM262 301h1.5v1.7h-1.5zM262 303.4h1.5v14h-1.5zM263 316.7h0.8v29.1h-0.8zM263 281.5h0.8v1.5h-0.8zM263 283.5h0.8v3.1h-0.8zM263 290.5h0.8v1.5h-0.8zM263 296.2h0.8v10.6h-0.8zM263 307.5h0.8v9.7h-0.8zM238.3 268.7h1.5v1.5h-1.5zM237.3 249.3h1.4v1.5h-1.4zM237.3 253.9h1.4v1.5h-1.4zM237.3 268.3h1.4v1.5h-1.4zM237.3 271.6h1.4v1.5h-1.4zM237.3 279.6h1.4v1.5h-1.4zM237.3 286.2h1.4v1.5h-1.4zM237.3 290.5h1.4v1.5h-1.4zM237.3 298.2h1.4v1.5h-1.4zM237.3 302.5h1.4v1.5h-1.4zM237.3 305h1.4v1.5h-1.4zM260.3 233.7h1.4v1.5h-1.4zM260.3 237.9h1.4v1.5h-1.4zM260.3 248.1h1.4v1.5h-1.4zM260.3 252.7h1.4v1.5h-1.4zM260.3 262.6h1.4v1.5h-1.4zM260.3 271.2h1.4v1.5h-1.4zM260.3 274.8h1.4v1.5h-1.4zM260.3 289.3h1.4v1.5h-1.4zM260.3 294.1h1.4v1.5h-1.4zM260.3 296.2h1.4v1.5h-1.4zM260.3 301.5h1.4v1.5h-1.4zM260.3 304.9h1.4v1.5h-1.4zM444 311.1h1.5v34.7h-1.5zM444 276.4h1.5v17.6h-1.5zM444 294.3h1.5v3.1h-1.5zM444 297.8h1.5v13.9h-1.5zM445 311.1h1.5v34.7h-1.5zM445 289.6h1.5v1.5h-1.5zM445 292.6h1.5v5.3h-1.5zM445 298.6h1.5v13.1h-1.5zM446 311.1h1.5v34.7h-1.5zM446 282.6h1.5v3h-1.5zM446 285.8h1.5v1.5h-1.5zM446 288.3h1.5v10h-1.5zM446 299.2h1.5v12.5h-1.5zM447 311.1h1.5v34.7h-1.5zM447 292.8h1.5v1.5h-1.5zM447 295.1h1.5v1.5h-1.5zM447 297.9h1.5v1.5h-1.5zM447 299.8h1.5v1.5h-1.5zM447 301.8h1.5v10h-1.5zM448 311.1h1.5v34.7h-1.5zM448 296.1h1.5v15.8h-1.5zM449 311.1h1.5v34.7h-1.5zM449 271.2h1.5v1.5h-1.5zM449 280.5h1.5v4.8h-1.5zM449 285.7h1.5v26h-1.5zM450 311.1h1.5v34.7h-1.5zM450 282.4h1.5v1.9h-1.5zM450 285.5h1.5v1.5h-1.5zM450 287.2h1.5v7.5h-1.5zM450 295.7h1.5v1.5h-1.5zM450 298.2h1.5v13.4h-1.5zM451 311.1h1.5v34.7h-1.5zM451 271.3h1.5v1.5h-1.5zM451 298h1.5v1.5h-1.5zM451 300.3h1.5v3.5h-1.5zM451 304.4h1.5v6.6h-1.5zM452 311.1h1.5v34.7h-1.5zM452 274.8h1.5v1.5h-1.5zM452 277.3h1.5v1.5h-1.5zM452 292h1.5v1.5h-1.5zM452 293.8h1.5v1.5h-1.5zM452 295.5h1.5v16.3h-1.5zM453 311.1h1.5v34.7h-1.5zM453 302.6h1.5v9.2h-1.5zM454 311.1h0.5v34.7h-0.5zM454 284.2h0.5v1.5h-0.5zM454 289.9h0.5v1.5h-0.5zM454 293.7h0.5v1.5h-0.5zM454 295.6h0.5v1.5h-0.5zM454 297.4h0.5v14.2h-0.5zM445.3 259.3h1.4v1.5h-1.4zM445.3 267h1.4v1.5h-1.4zM445.3 269h1.4v1.5h-1.4zM445.3 281.8h1.4v1.5h-1.4zM445.3 284.6h1.4v1.5h-1.4zM445.3 287.3h1.4v1.5h-1.4zM445.3 291.7h1.4v1.5h-1.4z"/>
<path fill="#8a38e6" d="M264 318h1.5v27.8h-1.5zM264 304h1.5v1.5h-1.5zM264 305.7h1.5v13h-1.5zM265 318h1.5v27.8h-1.5zM265 291.2h1.5v1.5h-1.5zM265 293.1h1.5v3h-1.5zM265 298.8h1.5v2.9h-1.5zM265 303.2h1.5v15.5h-1.5zM266 318h1.5v27.8h-1.5zM266 288.3h1.5v1.5h-1.5zM266 290.7h1.5v1.5h-1.5zM266 293.1h1.5v1.5h-1.5zM266 294.9h1.5v2.3h-1.5zM266 297.7h1.5v1.5h-1.5zM266 300.4h1.5v2.9h-1.5zM266 303.7h1.5v15h-1.5zM267 318h1.5v27.8h-1.5zM267 286.1h1.5v3.2h-1.5zM267 289.5h1.5v1.5h-1.5zM267 291.3h1.5v1.5h-1.5zM267 298.7h1.5v1.5h-1.5zM267 301h1.5v2.7h-1.5zM267 304.7h1.5v14h-1.5zM268 318h1.5v27.8h-1.5zM268 280.8h1.5v4h-1.5zM268 285.6h1.5v3.9h-1.5zM268 289.9h1.5v3h-1.5zM268 293.6h1.5v1.5h-1.5zM268 297.5h1.5v1.5h-1.5zM268 299.3h1.5v1.5h-1.5zM268 302.2h1.5v1.5h-1.5zM268 304.3h1.5v14.4h-1.5zM269 318h1.5v27.8h-1.5zM269 277.5h1.5v2.8h-1.5zM269 281.3h1.5v1.5h-1.5zM269 283.4h1.5v2.6h-1.5zM269 286.7h1.5v2.8h-1.5zM269 290.2h1.5v4.7h-1.5zM269 296.1h1.5v4.2h-1.5zM269 300.8h1.5v2.9h-1.5zM269 304.8h1.5v13.8h-1.5zM270 318h1.5v27.8h-1.5zM270 277.3h1.5v1.5h-1.5zM270 279.3h1.5v3.2h-1.5zM270 283.6h1.5v1.5h-1.5zM270 285.4h1.5v3.1h-1.5zM270 289.8h1.5v1.5h-1.5zM270 307.6h1.5v10.7h-1.5zM271 318h1.5v27.8h-1.5zM271 291.1h1.5v1.5h-1.5zM271 293.8h1.5v1.5h-1.5zM271 299.4h1.5v1.5h-1.5zM271 301.6h1.5v3.1h-1.5zM271 305.3h1.5v1.5h-1.5zM271 307.8h1.5v1.9h-1.5zM271 310.8h1.5v1.5h-1.5zM271 312.6h1.5v6.1h-1.5zM272 318h1.5v27.8h-1.5zM272 282.9h1.5v4.4h-1.5zM272 302.3h1.5v2.9h-1.5zM272 305.5h1.5v13.2h-1.5zM273 318h1.5v27.8h-1.5zM273 292.4h1.5v1.5h-1.5zM273 299.8h1.5v1.5h-1.5zM273 302.1h1.5v1.5h-1.5zM273 304.7h1.5v1.6h-1.5zM273 306.6h1.5v12.2h-1.5zM274 318h1.5v27.8h-1.5zM274 279h1.5v1.5h-1.5zM274 290.7h1.5v2.8h-1.5zM274 294.5h1.5v1.5h-1.5zM274 297.7h1.5v1.5h-1.5zM274 300.1h1.5v1.5h-1.5zM274 302h1.5v1.5h-1.5zM274 304.4h1.5v14.2h-1.5zM275 318h1.5v27.8h-1.5zM275 276.3h1.5v1.5h-1.5zM275 278.2h1.5v2.5h-1.5zM275 281.4h1.5v1.5h-1.5zM275 283.3h1.5v1.5h-1.5zM275 302.7h1.5v9h-1.5zM275 312h1.5v6.1h-1.5zM276 318h1.5v27.8h-1.5zM276 279.2h1.5v1.5h-1.5zM276 281.1h1.5v1.5h-1.5zM276 283.6h1.5v1.5h-1.5zM276 285.5h1.5v1.5h-1.5zM276 287.9h1.5v1.5h-1.5zM276 290.1h1.5v1.5h-1.5zM276 292h1.5v5.2h-1.5zM276 298.5h1.5v1.5h-1.5zM276 301.2h1.5v1.5h-1.5zM276 305.7h1.5v12.9h-1.5zM277 318h1.5v27.8h-1.5zM277 303.6h1.5v15.1h-1.5zM278 318h1.5v27.8h-1.5zM278 299.2h1.5v2.8h-1.5zM278 302.7h1.5v16.1h-1.5zM279 318h1.5v27.8h-1.5zM279 290.6h1.5v1.5h-1.5zM279 293.2h1.5v1.5h-1.5zM279 298.3h1.5v1.5h-1.5zM279 300.1h1.5v1.5h-1.5zM279 302.5h1.5v16.3h-1.5zM280 318h1.5v27.8h-1.5zM280 293.9h1.5v9.6h-1.5zM280 304.4h1.5v1.5h-1.5zM280 306.6h1.5v1.5h-1.5zM280 308.5h1.5v10.3h-1.5zM281 318h1.5v27.8h-1.5zM281 274.5h1.5v2.9h-1.5zM281 283.7h1.5v1.5h-1.5zM281 285.5h1.5v1.5h-1.5zM281 288.2h1.5v1.8h-1.5zM281 291h1.5v4.2h-1.5zM281 305.8h1.5v1.5h-1.5zM281 307.6h1.5v11.1h-1.5zM282 318h1.5v27.8h-1.5zM282 282.4h1.5v3.2h-1.5zM282 286.7h1.5v2.7h-1.5zM282 296.3h1.5v2.5h-1.5zM282 300.1h1.5v1.5h-1.5zM282 302.2h1.5v4.3h-1.5zM282 307.5h1.5v11.3h-1.5zM283 318h1.5v27.8h-1.5zM283 302h1.5v1.5h-1.5zM283 303.7h1.5v2.8h-1.5zM283 307h1.5v11.8h-1.5zM284 318h1.5v27.8h-1.5zM284 284.9h1.5v2.9h-1.5zM284 288.2h1.5v1.5h-1.5zM284 290h1.5v1.5h-1.5zM284 292.6h1.5v26h-1.5zM285 318h1.5v27.8h-1.5zM285 299.8h1.5v3.1h-1.5zM285 303.3h1.5v14.8h-1.5zM286 318h1.5v27.8h-1.5zM286 301.3h1.5v3h-1.5zM286 305.1h1.5v13.7h-1.5zM287 318h1.5v27.8h-1.5zM287 287.4h1.5v3.9h-1.5zM287 292.3h1.5v2.8h-1.5zM287 295.9h1.5v4.3h-1.5zM287 300.9h1.5v1.5h-1.5zM287 303.8h1.5v7.9h-1.5zM287 312.1h1.5v6.7h-1.5zM288 318h1.2v27.8h-1.2zM288 292.6h1.2v1.5h-1.2zM288 295.2h1.2v1.9h-1.2zM288 298.1h1.2v1.7h-1.2zM288 300.5h1.2v4.3h-1.2zM288 305.2h1.2v2.9h-1.2zM288 309h1.2v9.8h-1.2zM289 318h0.2v27.8h-0.2zM289 278.2h0.2v3.1h-0.2zM289 282.5h0.2v4.7h-0.2zM289 288h0.2v1.5h-0.2zM289 299.4h0.2v2.6h-0.2zM289 302.8h0.2v15.5h-0.2zM284.8 269h1.5v1.5h-1.5zM272.3 268.6h1.4v1.5h-1.4zM272.3 276h1.4v1.5h-1.4zM272.3 281.5h1.4v1.5h-1.4zM272.3 285.7h1.4v1.5h-1.4zM272.3 289h1.4v1.5h-1.4zM272.3 295h1.4v1.5h-1.4zM272.3 297.1h1.4v1.5h-1.4zM272.3 303.4h1.4v1.5h-1.4zM272.3 305.9h1.4v1.5h-1.4zM456 314.9h1.5v30.9h-1.5zM456 281.6h1.5v1.5h-1.5zM456 284.1h1.5v1.5h-1.5zM456 286.1h1.5v1.5h-1.5zM456 288.1h1.5v1.5h-1.5zM456 290.8h1.5v1.5h-1.5zM456 293.1h1.5v1.9h-1.5zM456 296.1h1.5v8.2h-1.5zM456 305h1.5v10.5h-1.5zM457 314.9h1.5v30.9h-1.5zM457 271.7h1.5v1.5h-1.5zM457 273.8h1.5v1.5h-1.5zM457 276h1.5v1.5h-1.5zM457 295.7h1.5v19.8h-1.5zM458 314.9h1.5v30.9h-1.5zM458 275.9h1.5v2.7h-1.5zM458 295.9h1.5v3.2h-1.5zM458 300.1h1.5v2h-1.5zM458 302.3h1.5v13.3h-1.5zM459 314.9h1.5v30.9h-1.5zM459 289.5h1.5v4.3h-1.5zM459 294.3h1.5v1.5h-1.5zM459 296.4h1.5v2.6h-1.5zM459 299.3h1.5v2.5h-1.5zM459 302.9h1.5v1.5h-1.5zM459 304.6h1.5v10.2h-1.5zM460 314.9h1.5v30.9h-1.5zM460 294h1.5v1.5h-1.5zM460 296.4h1.5v8.7h-1.5zM460 305.7h1.5v1.7h-1.5zM460 307.7h1.5v7.8h-1.5zM461 314.9h1.5v30.9h-1.5zM461 280.2h1.5v1.5h-1.5zM461 291.1h1.5v1.5h-1.5zM461 306.7h1.5v1.5h-1.5zM461 308.8h1.5v6.7h-1.5zM462 314.9h1.5v30.9h-1.5zM462 285.6h1.5v1.5h-1.5zM462 293.6h1.5v1.5h-1.5zM462 296.1h1.5v1.5h-1.5zM462 307.1h1.5v1.5h-1.5zM462 309.1h1.5v6.1h-1.5zM463 314.9h1.5v30.9h-1.5zM463 291.8h1.5v7.6h-1.5zM463 301h1.5v14.1h-1.5zM464 314.9h1.5v30.9h-1.5zM464 299.7h1.5v1.5h-1.5zM464 301.4h1.5v2.7h-1.5zM464 304.5h1.5v11.1h-1.5zM465 314.9h1.5v30.9h-1.5zM465 279.5h1.5v2.6h-1.5zM465 282.4h1.5v1.5h-1.5zM465 290.5h1.5v2.8h-1.5zM465 293.9h1.5v1.5h-1.5zM465 301.3h1.5v14.3h-1.5zM466 314.9h1.5v30.9h-1.5zM466 283.6h1.5v1.5h-1.5zM466 285.8h1.5v1.5h-1.5zM466 294h1.5v1.5h-1.5zM466 296.4h1.5v1.5h-1.5zM466 298.6h1.5v1.5h-1.5zM466 300.6h1.5v15h-1.5zM467 314.9h1.5v30.9h-1.5zM467 279.6h1.5v1.5h-1.5zM467 281.7h1.5v1.5h-1.5zM467 284.4h1.5v2.9h-1.5zM467 290.2h1.5v2.5h-1.5zM467 294.9h1.5v1.5h-1.5zM467 296.8h1.5v4.1h-1.5zM467 301.7h1.5v13.9h-1.5zM468 314.9h1v30.9h-1zM468 281.3h1v3.2h-1zM468 300.6h1v1.5h-1zM468 302.5h1v1.5h-1zM468 304.7h1v2.6h-1zM468 307.4h1v8.2h-1zM461.3 270.3h1.4v1.5h-1.4zM461.3 279.4h1.4v1.5h-1.4zM461.3 281.7h1.4v1.5h-1.4zM461.3 289.6h1.4v1.5h-1.4zM461.3 295.3h1.4v1.5h-1.4zM461.3 298.7h1.4v1.5h-1.4z"/>
<path fill="#b4d6e6" d="M290.5 305.7h1.5v40.1h-1.5zM290.5 273.4h1.5v4.2h-1.5zM290.5 281.8h1.5v1.5h-1.5zM290.5 289h1.5v1.5h-1.5zM290.5 291.3h1.5v15.2h-1.5zM291.5 305.7h1.5v40.1h-1.5zM291.5 291.9h1.5v1.5h-1.5zM291.5 294.4h1.5v4.7h-1.5zM291.5 299.3h1.5v7.1h-1.5zM292.5 305.7h1.5v40.1h-1.5zM292.5 291h1.5v1.5h-1.5zM292.5 292.9h1.5v13.3h-1.5zM293.5 305.7h1.5v40.1h-1.5zM293.5 267.8h1.5v1.5h-1.5zM293.5 270.1h1.5v1.5h-1.5zM293.5 284.9h1.5v6.9h-1.5zM293.5 292.4h1.5v1.6h-1.5zM293.5 294.5h1.5v1.8h-1.5zM293.5 296.5h1.5v9.9h-1.5zM294.5 305.7h1.5v40.1h-1.5zM294.5 267h1.5v1.5h-1.5zM294.5 269.1h1.5v2.7h-1.5zM294.5 289.6h1.5v5.4h-1.5zM294.5 295.4h1.5v11h-1.5zM295.5 305.7h1.5v40.1h-1.5zM295.5 283.5h1.5v1.5h-1.5zM295.5 289h1.5v1.5h-1.5zM295.5 291h1.5v6.4h-1.5zM295.5 298.4h1.5v7.6h-1.5zM296.5 305.7h1.5v40.1h-1.5zM296.5 277.6h1.5v1.5h-1.5zM296.5 279.5h1.5v1.5h-1.5zM296.5 281.8h1.5v1.5h-1.5zM296.5 284h1.5v5h-1.5zM296.5 289.2h1.5v16.7h-1.5zM297.5 305.7h1.5v40.1h-1.5zM297.5 288.5h1.5v1.5h-1.5zM297.5 290.4h1.5v1.9h-1.5zM297.5 293.2h1.5v13.2h-1.5zM298.5 305.7h1.5v40.1h-1.5zM298.5 274.3h1.5v2.5h-1.5zM298.5 278h1.5v2.5h-1.5zM298.5 281.2h1.5v24.9h-1.5zM299.5 305.7h1.5v40.1h-1.5zM299.5 273.4h1.5v1.5h-1.5zM299.5 276h1.5v1.5h-1.5zM299.5 280h1.5v1.5h-1.5zM299.5 288.5h1.5v2.1h-1.5zM299.5 291.6h1.5v4.6h-1.5zM299.5 296.9h1.5v9.4h-1.5zM300.5 305.7h1.5v40.1h-1.5zM300.5 287.9h1.5v3.4h-1.5zM300.5 291.7h1.5v14.8h-1.5zM301.5 305.7h1.5v40.1h-1.5zM301.5 276.5h1.5v3.1h-1.5zM301.5 280.1h1.5v2.6h-1.5zM301.5 284h1.5v1.5h-1.5zM301.5 285.9h1.5v1.5h-1.5zM301.5 287.8h1.5v1.5h-1.5zM301.5 290.1h1.5v1.5h-1.5zM301.5 296.5h1.5v9.8h-1.5zM302.5 305.7h1.5v40.1h-1.5zM302.5 264.7h1.5v1.5h-1.5zM302.5 267.4h1.5v2.9h-1.5zM302.5 271h1.5v1.5h-1.5zM302.5 273.2h1.5v1.5h-1.5zM302.5 275.1h1.5v8.5h-1.5zM302.5 284.1h1.5v4.4h-1.5zM302.5 291.2h1.5v1.5h-1.5zM302.5 293.3h1.5v13h-1.5zM303.5 305.7h1.5v40.1h-1.5zM303.5 264.1h1.5v1.5h-1.5zM303.5 266.2h1.5v2.9h-1.5zM303.5 269.5h1.5v3.1h-1.5zM303.5 273.8h1.5v1.5h-1.5zM303.5 276.1h1.5v1.5h-1.5zM303.5 285.3h1.5v1.5h-1.5zM303.5 293.9h1.5v1.5h-1.5zM303.5 295.9h1.5v1.5h-1.5zM303.5 297.8h1.5v8.6h-1.5zM304.5 305.7h1.5v40.1h-1.5zM304.5 280.9h1.5v1.5h-1.5zM304.5 283.4h1.5v16.1h-1.5zM304.5 299.8h1.5v6.6h-1.5zM305.5 305.7h1.5v40.1h-1.5zM305.5 284.2h1.5v3.6h-1.5zM305.5 289.1h1.5v3.9h-1.5zM305.5 293.7h1.5v12.7h-1.5zM306.5 305.7h1.5v40.1h-1.5zM306.5 279h1.5v2.7h-1.5zM306.5 282.3h1.5v1.5h-1.5zM306.5 284.9h1.5v21.2h-1.5zM307.5 305.7h1.5v40.1h-1.5zM307.5 279h1.5v1.5h-1.5zM307.5 281.8h1.5v1.5h-1.5zM307.5 297.7h1.5v8.7h-1.5zM308.5 305.7h1.5v40.1h-1.5zM308.5 288.1h1.5v1.5h-1.5zM308.5 289.9h1.5v6.5h-1.5zM308.5 296.7h1.5v9.3h-1.5zM309.5 305.7h1v40.1h-1zM309.5 285.8h1v2.7h-1zM309.5 289.4h1v16.9h-1zM298.1 268.7h1.5v1.5h-1.5zM308.3 237h1.4v1.5h-1.4zM308.3 260.9h1.4v1.5h-1.4zM308.3 273.1h1.4v1.5h-1.4zM308.3 277.5h1.4v1.5h-1.4zM308.3 282.5h1.4v1.5h-1.4zM470.5 312.1h1.5v33.7h-1.5zM470.5 273.8h1.5v4.1h-1.5zM470.5 278.5h1.5v1.5h-1.5zM470.5 280.7h1.5v2.5h-1.5zM470.5 292.1h1.5v6.2h-1.5zM470.5 299.1h1.5v1.5h-1.5zM470.5 301.5h1.5v11.3h-1.5zM471.5 312.1h1.5v33.7h-1.5zM471.5 276.4h1.5v1.5h-1.5zM471.5 278.3h1.5v1.5h-1.5zM471.5 280.1h1.5v1.5h-1.5zM471.5 282.9h1.5v1.5h-1.5zM471.5 284.8h1.5v1.5h-1.5zM471.5 292.7h1.5v9.1h-1.5zM471.5 304.1h1.5v8.6h-1.5zM472.5 312.1h1.5v33.7h-1.5zM472.5 278.4h1.5v4.3h-1.5zM472.5 283.3h1.5v17h-1.5zM472.5 303.1h1.5v9.4h-1.5zM473.5 312.1h1.5v33.7h-1.5zM473.5 288.3h1.5v3h-1.5zM473.5 291.7h1.5v1.5h-1.5zM473.5 293.7h1.5v2.7h-1.5zM473.5 297.6h1.5v1.5h-1.5zM473.5 300.3h1.5v12.3h-1.5zM474.5 312.1h1.5v33.7h-1.5zM474.5 294.3h1.5v1.5h-1.5zM474.5 296.3h1.5v1.5h-1.5zM474.5 302.5h1.5v1.5h-1.5zM474.5 305.2h1.5v7.6h-1.5zM475.5 312.1h1.5v33.7h-1.5zM475.5 274.7h1.5v1.5h-1.5zM475.5 287.4h1.5v25.3h-1.5zM476.5 312.1h1.5v33.7h-1.5zM476.5 298.5h1.5v7.6h-1.5zM476.5 306.9h1.5v5.8h-1.5zM477.5 312.1h1.5v33.7h-1.5zM477.5 291.9h1.5v1.5h-1.5zM477.5 294h1.5v18.8h-1.5zM478.5 312.1h1.5v33.7h-1.5zM478.5 278.8h1.5v2.7h-1.5zM478.5 282.4h1.5v1.5h-1.5zM478.5 284.4h1.5v1.5h-1.5zM478.5 286.8h1.5v1.5h-1.5zM478.5 289.5h1.5v3.7h-1.5zM478.5 297.7h1.5v1.5h-1.5zM478.5 300h1.5v1.5h-1.5zM478.5 301.8h1.5v1.5h-1.5zM478.5 303.7h1.5v9h-1.5zM479.5 312.1h1.5v33.7h-1.5zM479.5 284.3h1.5v1.5h-1.5zM479.5 300.5h1.5v12.1h-1.5zM480.5 312.1h0.8v33.7h-0.8zM480.5 270.7h0.8v1.5h-0.8zM480.5 274.5h0.8v1.5h-0.8zM480.5 281.7h0.8v1.5h-0.8zM480.5 283.6h0.8v1.5h-0.8zM480.5 298h0.8v1.5h-0.8zM480.5 300.6h0.8v12.2h-0.8zM476.3 269.3h1.4v1.5h-1.4zM476.3 279.2h1.4v1.5h-1.4zM476.3 286.9h1.4v1.5h-1.4zM476.3 294.3h1.4v1.5h-1.4z"/>
<path fill="#505052" d="M311.5 314.9h1.5v30.9h-1.5zM311.5 291.5h1.5v4.8h-1.5zM311.5 296.7h1.5v18.9h-1.5zM312.5 314.9h1.5v30.9h-1.5zM312.5 296.2h1.5v1.5h-1.5zM312.5 298.7h1.5v1.5h-1.5zM312.5 301.2h1.5v1.5h-1.5zM312.5 303.5h1.5v1.5h-1.5zM312.5 305.6h1.5v9.9h-1.5zM313.5 314.9h1.5v30.9h-1.5zM313.5 286h1.5v2.5h-1.5zM313.5 289h1.5v3.1h-1.5zM313.5 294.5h1.5v1.5h-1.5zM313.5 299.9h1.5v1.5h-1.5zM313.5 302.4h1.5v1.5h-1.5zM313.5 304.1h1.5v11.5h-1.5zM314.5 314.9h1.5v30.9h-1.5zM314.5 280.4h1.5v4h-1.5zM314.5 285.5h1.5v1.7h-1.5zM314.5 288h1.5v2.5h-1.5zM314.5 291.4h1.5v1.5h-1.5zM314.5 303.5h1.5v11.9h-1.5zM315.5 314.9h1.5v30.9h-1.5zM315.5 291.8h1.5v1.5h-1.5zM315.5 304.2h1.5v11.2h-1.5zM316.5 314.9h1.5v30.9h-1.5zM316.5 292.4h1.5v1.5h-1.5zM316.5 294.2h1.5v3h-1.5zM316.5 297.6h1.5v2.5h-1.5zM316.5 300.4h1.5v1.5h-1.5zM316.5 305.5h1.5v5.1h-1.5zM316.5 311.3h1.5v3.9h-1.5zM317.5 314.9h1.5v30.9h-1.5zM317.5 280.7h1.5v1.5h-1.5zM317.5 282.6h1.5v1.5h-1.5zM317.5 294.6h1.5v21.1h-1.5zM318.5 314.9h1.5v30.9h-1.5zM318.5 291.1h1.5v1.5h-1.5zM318.5 293.3h1.5v1.5h-1.5zM318.5 295.3h1.5v1.5h-1.5zM318.5 297.4h1.5v1.5h-1.5zM318.5 299.5h1.5v1.5h-1.5zM318.5 302.1h1.5v13.4h-1.5zM319.5 314.9h1.5v30.9h-1.5zM319.5 288.5h1.5v1.5h-1.5zM319.5 290.9h1.5v1.5h-1.5zM319.5 300.1h1.5v6.9h-1.5zM319.5 307.3h1.5v7.9h-1.5zM320.5 314.9h1.5v30.9h-1.5zM320.5 293.4h1.5v1.5h-1.5zM320.5 296.1h1.5v5.5h-1.5zM320.5 302.4h1.5v1.5h-1.5zM320.5 304.7h1.5v10.7h-1.5zM321.5 314.9h1.5v30.9h-1.5zM321.5 301h1.5v14.7h-1.5zM322.5 314.9h1.5v30.9h-1.5zM322.5 307.3h1.5v8.2h-1.5zM323.5 314.9h1.5v30.9h-1.5zM323.5 289.7h1.5v1.9h-1.5zM323.5 292.2h1.5v3.1h-1.5zM323.5 295.8h1.5v1.5h-1.5zM323.5 297.7h1.5v2.7h-1.5zM323.5 301.5h1.5v8h-1.5zM323.5 309.9h1.5v5.2h-1.5zM324.5 314.9h1.5v30.9h-1.5zM324.5 287.9h1.5v9.4h-1.5zM324.5 297.7h1.5v9.2h-1.5zM324.5 307.4h1.5v1.9h-1.5zM324.5 309.7h1.5v5.9h-1.5zM325.5 314.9h1.5v30.9h-1.5zM325.5 276.5h1.5v1.5h-1.5zM325.5 295.6h1.5v1.5h-1.5zM325.5 303.5h1.5v1.5h-1.5zM325.5 305.6h1.5v9.9h-1.5zM326.5 314.9h1.5v30.9h-1.5zM326.5 275.8h1.5v1.5h-1.5zM326.5 278.5h1.5v2.8h-1.5zM326.5 282.5h1.5v1.5h-1.5zM326.5 284.6h1.5v1.5h-1.5zM326.5 295.9h1.5v3.2h-1.5zM326.5 299.7h1.5v15.9h-1.5zM327.5 314.9h1.5v30.9h-1.5zM327.5 294.2h1.5v1.5h-1.5zM327.5 303.5h1.5v11.9h-1.5zM328.5 314.9h1.5v30.9h-1.5zM328.5 281.9h1.5v1.5h-1.5zM328.5 284h1.5v1.5h-1.5zM328.5 286.1h1.5v1.5h-1.5zM328.5 288.4h1.5v2.6h-1.5zM328.5 298.8h1.5v16.5h-1.5zM329.5 314.9h1.5v30.9h-1.5zM329.5 278.3h1.5v1.5h-1.5zM329.5 280.9h1.5v18.1h-1.5zM329.5 300.3h1.5v4.2h-1.5zM329.5 304.7h1.5v4.4h-1.5zM329.5 309.5h1.5v2.8h-1.5zM329.5 312.8h1.5v2.3h-1.5zM330.5 314.9h1.5v30.9h-1.5zM330.5 292.2h1.5v1.5h-1.5zM330.5 295h1.5v9.5h-1.5zM330.5 305.8h1.5v9.7h-1.5zM331.5 314.9h1.5v30.9h-1.5zM331.5 281.9h1.5v1.5h-1.5zM331.5 284.5h1.5v6.1h-1.5zM331.5 292h1.5v3.5h-1.5zM331.5 295.8h1.5v1.5h-1.5zM331.5 298.2h1.5v2.6h-1.5zM331.5 302.7h1.5v13h-1.5zM332.5 314.9h1.5v30.9h-1.5zM332.5 280.4h1.5v1.5h-1.5zM332.5 282.3h1.5v1.5h-1.5zM332.5 284.2h1.5v1.5h-1.5zM332.5 286.7h1.5v2.7h-1.5zM332.5 290.6h1.5v4h-1.5zM332.5 295.3h1.5v1.5h-1.5zM332.5 297.5h1.5v18h-1.5zM333.5 314.9h1v30.9h-1zM333.5 285.3h1v2.9h-1zM333.5 289.2h1v11h-1zM333.5 300.6h1v1.5h-1zM333.5 303.4h1v1.5h-1zM333.5 305.5h1v10h-1zM314.7 271.3h1.5v1.5h-1.5zM312.3 258.6h1.4v1.5h-1.4zM312.3 266.9h1.4v1.5h-1.4zM312.3 272.6h1.4v1.5h-1.4zM312.3 277.6h1.4v1.5h-1.4zM312.3 280.5h1.4v1.5h-1.4zM312.3 286.3h1.4v1.5h-1.4zM312.3 292.7h1.4v1.5h-1.4zM312.3 297.6h1.4v1.5h-1.4zM482.5 318h1.5v27.8h-1.5zM482.5 285.4h1.5v1.5h-1.5zM482.5 288.1h1.5v1.5h-1.5zM482.5 290.1h1.5v3h-1.5zM482.5 293.4h1.5v1.5h-1.5zM482.5 295.2h1.5v15.8h-1.5zM482.5 311.3h1.5v3.4h-1.5zM482.5 315.8h1.5v2.7h-1.5zM483.5 318h1.5v27.8h-1.5zM483.5 276.9h1.5v1.5h-1.5zM483.5 279.4h1.5v1.5h-1.5zM483.5 281.3h1.5v2.6h-1.5zM483.5 284.8h1.5v11.2h-1.5zM483.5 296.4h1.5v1.5h-1.5zM483.5 298.5h1.5v2.6h-1.5zM483.5 302h1.5v1.5h-1.5zM483.5 304.8h1.5v4.6h-1.5zM483.5 309.6h1.5v2.1h-1.5zM483.5 312.3h1.5v6.3h-1.5zM484.5 318h1.5v27.8h-1.5zM484.5 285.3h1.5v1.5h-1.5zM484.5 287.7h1.5v2.7h-1.5zM484.5 291.2h1.5v1.5h-1.5zM484.5 293h1.5v2.6h-1.5zM484.5 296.3h1.5v1.7h-1.5zM484.5 298.7h1.5v4.2h-1.5zM484.5 303.1h1.5v5.2h-1.5zM484.5 308.7h1.5v9.9h-1.5zM485.5 318h1.5v27.8h-1.5zM485.5 275.4h1.5v2.5h-1.5zM485.5 278.7h1.5v1.5h-1.5zM485.5 281.1h1.5v1.5h-1.5zM485.5 283.8h1.5v12.4h-1.5zM485.5 296.6h1.5v1.6h-1.5zM485.5 298.6h1.5v8h-1.5zM485.5 307h1.5v11.6h-1.5zM486.5 318h1.5v27.8h-1.5zM486.5 279.5h1.5v1.5h-1.5zM486.5 282.2h1.5v1.5h-1.5zM486.5 284.3h1.5v3h-1.5zM486.5 287.8h1.5v1.5h-1.5zM486.5 301.8h1.5v2.6h-1.5zM486.5 310.5h1.5v2.4h-1.5zM486.5 313.3h1.5v5.2h-1.5zM487.5 318h1.5v27.8h-1.5zM487.5 281.3h1.5v1.5h-1.5zM487.5 291.4h1.5v3.1h-1.5zM487.5 294.9h1.5v6.4h-1.5zM487.5 301.8h1.5v2.9h-1.5zM487.5 304.9h1.5v1.5h-1.5zM487.5 307.3h1.5v11.4h-1.5zM488.5 318h1.5v27.8h-1.5zM488.5 291.6h1.5v1.5h-1.5zM488.5 294.2h1.5v3.9h-1.5zM488.5 299h1.5v1.5h-1.5zM488.5 301.2h1.5v8.2h-1.5zM488.5 309.9h1.5v8.8h-1.5zM489.5 318h1.5v27.8h-1.5zM489.5 296.6h1.5v22.1h-1.5zM490.5 318h1.5v27.8h-1.5zM490.5 290.5h1.5v3.2h-1.5zM490.5 293.9h1.5v1.5h-1.5zM490.5 298.9h1.5v19.8h-1.5zM491.5 318h1.2v27.8h-1.2zM491.5 280.1h1.2v7.7h-1.2zM491.5 288.2h1.2v2.1h-1.2zM491.5 290.6h1.2v6h-1.2zM491.5 297.1h1.2v1.5h-1.2zM491.5 300.1h1.2v1.5h-1.2zM491.5 302.3h1.2v16.3h-1.2zM484.3 275.2h1.4v1.5h-1.4zM484.3 280.3h1.4v1.5h-1.4zM484.3 288.3h1.4v1.5h-1.4zM484.3 292.3h1.4v1.5h-1.4zM484.3 302.6h1.4v1.5h-1.4z"/>
<line x1="33.5" y1="193.3" x2="33.5" y2="348.5" stroke="#000" stroke-width="1.3"/>
<line x1="30" y1="345.80" x2="33.5" y2="345.80" stroke="#000" stroke-width="1.1"/>
<text x="27.2" y="348.60" class="t" font-size="7.9" fill="#333" text-anchor="end">0</text>
<line x1="30" y1="329.18" x2="33.5" y2="329.18" stroke="#000" stroke-width="1.1"/>
<text x="27.2" y="331.98" class="t" font-size="7.9" fill="#333" text-anchor="end">1</text>
<line x1="30" y1="312.56" x2="33.5" y2="312.56" stroke="#000" stroke-width="1.1"/>
<text x="27.2" y="315.36" class="t" font-size="7.9" fill="#333" text-anchor="end">2</text>
<line x1="30" y1="295.94" x2="33.5" y2="295.94" stroke="#000" stroke-width="1.1"/>
<text x="27.2" y="298.74" class="t" font-size="7.9" fill="#333" text-anchor="end">3</text>
<line x1="30" y1="279.32" x2="33.5" y2="279.32" stroke="#000" stroke-width="1.1"/>
<text x="27.2" y="282.12" class="t" font-size="7.9" fill="#333" text-anchor="end">4</text>
<line x1="30" y1="262.70" x2="33.5" y2="262.70" stroke="#000" stroke-width="1.1"/>
<text x="27.2" y="265.50" class="t" font-size="7.9" fill="#333" text-anchor="end">5</text>
<line x1="30" y1="246.08" x2="33.5" y2="246.08" stroke="#000" stroke-width="1.1"/>
<text x="27.2" y="248.88" class="t" font-size="7.9" fill="#333" text-anchor="end">6</text>
<line x1="30" y1="229.46" x2="33.5" y2="229.46" stroke="#000" stroke-width="1.1"/>
<text x="27.2" y="232.26" class="t" font-size="7.9" fill="#333" text-anchor="end">7</text>
<line x1="30" y1="212.84" x2="33.5" y2="212.84" stroke="#000" stroke-width="1.1"/>
<text x="27.2" y="215.64" class="t" font-size="7.9" fill="#333" text-anchor="end">8</text>
<line x1="30" y1="196.22" x2="33.5" y2="196.22" stroke="#000" stroke-width="1.1"/>
<text x="27.2" y="199.02" class="t" font-size="7.9" fill="#333" text-anchor="end">9</text>
<line x1="48.7" y1="351.5" x2="507.5" y2="351.5" stroke="#000" stroke-width="1.3"/>
<line x1="51.25" y1="351.5" x2="51.25" y2="354.5" stroke="#000" stroke-width="1.1"/>
<text x="51.25" y="364.5" class="t" font-size="7.9" fill="#333" text-anchor="middle">1</text>
<line x1="87.38" y1="351.5" x2="87.38" y2="354.5" stroke="#000" stroke-width="1.1"/>
<text x="87.38" y="364.5" class="t" font-size="7.9" fill="#333" text-anchor="middle">2</text>
<line x1="122.50" y1="351.5" x2="122.50" y2="354.5" stroke="#000" stroke-width="1.1"/>
<text x="122.50" y="364.5" class="t" font-size="7.9" fill="#333" text-anchor="middle">3</text>
<line x1="155.50" y1="351.5" x2="155.50" y2="354.5" stroke="#000" stroke-width="1.1"/>
<text x="155.50" y="364.5" class="t" font-size="7.9" fill="#333" text-anchor="middle">4</text>
<line x1="187.75" y1="351.5" x2="187.75" y2="354.5" stroke="#000" stroke-width="1.1"/>
<text x="187.75" y="364.5" class="t" font-size="7.9" fill="#333" text-anchor="middle">5</text>
<line x1="219.38" y1="351.5" x2="219.38" y2="354.5" stroke="#000" stroke-width="1.1"/>
<text x="219.38" y="364.5" class="t" font-size="7.9" fill="#333" text-anchor="middle">6</text>
<line x1="249.88" y1="351.5" x2="249.88" y2="354.5" stroke="#000" stroke-width="1.1"/>
<text x="249.88" y="364.5" class="t" font-size="7.9" fill="#333" text-anchor="middle">7</text>
<line x1="276.62" y1="351.5" x2="276.62" y2="354.5" stroke="#000" stroke-width="1.1"/>
<text x="276.62" y="364.5" class="t" font-size="7.9" fill="#333" text-anchor="middle">8</text>
<line x1="300.50" y1="351.5" x2="300.50" y2="354.5" stroke="#000" stroke-width="1.1"/>
<text x="300.50" y="364.5" class="t" font-size="7.9" fill="#333" text-anchor="middle">9</text>
<line x1="323.00" y1="351.5" x2="323.00" y2="354.5" stroke="#000" stroke-width="1.1"/>
<text x="323.00" y="364.5" class="t" font-size="7.9" fill="#333" text-anchor="middle">10</text>
<line x1="347.12" y1="351.5" x2="347.12" y2="354.5" stroke="#000" stroke-width="1.1"/>
<text x="347.12" y="364.5" class="t" font-size="7.9" fill="#333" text-anchor="middle">11</text>
<line x1="369.62" y1="351.5" x2="369.62" y2="354.5" stroke="#000" stroke-width="1.1"/>
<text x="369.62" y="364.5" class="t" font-size="7.9" fill="#333" text-anchor="middle">12</text>
<line x1="389.00" y1="351.5" x2="389.00" y2="354.5" stroke="#000" stroke-width="1.1"/>
<text x="389.00" y="364.5" class="t" font-size="7.9" fill="#333" text-anchor="middle">13</text>
<line x1="406.00" y1="351.5" x2="406.00" y2="354.5" stroke="#000" stroke-width="1.1"/>
<text x="406.00" y="364.5" class="t" font-size="7.9" fill="#333" text-anchor="middle">14</text>
<line x1="420.88" y1="351.5" x2="420.88" y2="354.5" stroke="#000" stroke-width="1.1"/>
<text x="420.88" y="364.5" class="t" font-size="7.9" fill="#333" text-anchor="middle">15</text>
<line x1="435.25" y1="351.5" x2="435.25" y2="354.5" stroke="#000" stroke-width="1.1"/>
<text x="435.25" y="364.5" class="t" font-size="7.9" fill="#333" text-anchor="middle">16</text>
<line x1="449.25" y1="351.5" x2="449.25" y2="354.5" stroke="#000" stroke-width="1.1"/>
<text x="449.25" y="364.5" class="t" font-size="7.9" fill="#333" text-anchor="middle">17</text>
<line x1="462.50" y1="351.5" x2="462.50" y2="354.5" stroke="#000" stroke-width="1.1"/>
<text x="462.50" y="364.5" class="t" font-size="7.9" fill="#333" text-anchor="middle">18</text>
<line x1="475.88" y1="351.5" x2="475.88" y2="354.5" stroke="#000" stroke-width="1.1"/>
<text x="475.88" y="364.5" class="t" font-size="7.9" fill="#333" text-anchor="middle">19</text>
<line x1="487.60" y1="351.5" x2="487.60" y2="354.5" stroke="#000" stroke-width="1.1"/>
<text x="487.60" y="364.5" class="t" font-size="7.9" fill="#333" text-anchor="middle">20</text>
<line x1="497.50" y1="351.5" x2="497.50" y2="354.5" stroke="#000" stroke-width="1.1"/>
<text x="497.50" y="364.5" class="t" font-size="7.9" fill="#333" text-anchor="middle">21</text>
<line x1="505.05" y1="351.5" x2="505.05" y2="354.5" stroke="#000" stroke-width="1.1"/>
<line x1="37" y1="224.5" x2="509.2" y2="224.5" stroke="#d4a6a8" stroke-width="1.3" stroke-dasharray="2 2"/>
<text x="48.3" y="215.3" class="t" font-size="7.7" font-style="italic" fill="#222">Young Adult</text>
<text x="6.2" y="201.8" font-size="11" font-weight="bold" fill="#000">B</text>
<text transform="translate(13.6 270.8) rotate(-90)" class="t" font-size="8.1" fill="#333" text-anchor="middle">-log<tspan font-size="5.5" dy="1.5">10</tspan><tspan dy="-1.5">(</tspan><tspan font-style="italic">p</tspan>)</text>
<path fill="#3b6419" d="M34.5 478.2h1.5v38h-1.5zM34.5 448h1.5v6.7h-1.5zM34.5 455h1.5v1.5h-1.5zM34.5 457.5h1.5v1.5h-1.5zM34.5 460.4h1.5v1.5h-1.5zM34.5 463h1.5v1.5h-1.5zM34.5 466h1.5v13h-1.5zM35.5 478.2h1.5v38h-1.5zM35.5 462.3h1.5v1.5h-1.5zM35.5 464.7h1.5v1.5h-1.5zM35.5 466.7h1.5v12.3h-1.5zM36.5 478.2h1.5v38h-1.5zM36.5 433.4h1.5v1.5h-1.5zM36.5 435.8h1.5v1.5h-1.5zM36.5 437.8h1.5v1.5h-1.5zM36.5 440h1.5v1.5h-1.5zM36.5 442.5h1.5v1.5h-1.5zM36.5 444.7h1.5v1.5h-1.5zM36.5 450.2h1.5v2.5h-1.5zM36.5 453h1.5v1.7h-1.5zM36.5 455.1h1.5v1.9h-1.5zM36.5 457.4h1.5v1.6h-1.5zM36.5 459.3h1.5v19.3h-1.5zM37.5 478.2h1.5v38h-1.5zM37.5 440.9h1.5v1.5h-1.5zM37.5 442.6h1.5v1.5h-1.5zM37.5 445.2h1.5v1.6h-1.5zM37.5 447h1.5v1.5h-1.5zM37.5 449.3h1.5v1.5h-1.5zM37.5 461.8h1.5v2.2h-1.5zM37.5 464.6h1.5v1.5h-1.5zM37.5 467.1h1.5v11.6h-1.5zM38.5 478.2h1.5v38h-1.5zM38.5 451h1.5v1.5h-1.5zM38.5 453h1.5v1.5h-1.5zM38.5 455.4h1.5v1.5h-1.5zM38.5 458.1h1.5v1.8h-1.5zM38.5 461.2h1.5v1.5h-1.5zM38.5 463.4h1.5v3h-1.5zM38.5 466.9h1.5v12.1h-1.5zM39.5 478.2h1.5v38h-1.5zM39.5 443h1.5v1.5h-1.5zM39.5 458.7h1.5v20.1h-1.5zM40.5 478.2h1.5v38h-1.5zM40.5 445.3h1.5v5.3h-1.5zM40.5 451.2h1.5v1.5h-1.5zM40.5 468.2h1.5v10.7h-1.5zM41.5 478.2h1.5v38h-1.5zM41.5 442.5h1.5v4.2h-1.5zM41.5 447.8h1.5v1.5h-1.5zM41.5 449.8h1.5v4.2h-1.5zM41.5 457.8h1.5v1.5h-1.5zM41.5 461.5h1.5v1.5h-1.5zM41.5 467.5h1.5v11.1h-1.5zM42.5 478.2h1.5v38h-1.5zM42.5 438.2h1.5v7h-1.5zM42.5 445.7h1.5v3h-1.5zM42.5 449.6h1.5v11.9h-1.5zM42.5 462h1.5v16.8h-1.5zM43.5 478.2h1.5v38h-1.5zM43.5 442.3h1.5v1.5h-1.5zM43.5 445.1h1.5v2h-1.5zM43.5 451.1h1.5v1.5h-1.5zM43.5 453.2h1.5v1.5h-1.5zM43.5 455.1h1.5v4.7h-1.5zM43.5 460.5h1.5v7h-1.5zM43.5 468h1.5v10h-1.5zM44.5 478.2h1.5v38h-1.5zM44.5 451.6h1.5v1.5h-1.5zM44.5 453.9h1.5v1.5h-1.5zM44.5 456.5h1.5v18.5h-1.5zM44.5 475.4h1.5v3.6h-1.5zM45.5 478.2h1.5v38h-1.5zM45.5 455.4h1.5v3.1h-1.5zM45.5 458.8h1.5v2.1h-1.5zM45.5 462.3h1.5v1.6h-1.5zM45.5 465.4h1.5v3.6h-1.5zM45.5 469.4h1.5v9.6h-1.5zM46.5 478.2h1.5v38h-1.5zM46.5 441.3h1.5v1.5h-1.5zM46.5 443.8h1.5v1.5h-1.5zM46.5 456.3h1.5v1.5h-1.5zM46.5 458.2h1.5v7.5h-1.5zM46.5 466.3h1.5v1.5h-1.5zM46.5 468.8h1.5v10.1h-1.5zM47.5 478.2h1.5v38h-1.5zM47.5 458.8h1.5v1.5h-1.5zM47.5 460.7h1.5v18.2h-1.5zM48.5 478.2h1.5v38h-1.5zM48.5 439.4h1.5v3.8h-1.5zM48.5 444.5h1.5v1.7h-1.5zM48.5 446.6h1.5v1.5h-1.5zM48.5 451.1h1.5v1.5h-1.5zM48.5 454.1h1.5v1.5h-1.5zM48.5 456.8h1.5v9.2h-1.5zM48.5 466.8h1.5v12.1h-1.5zM49.5 478.2h1.5v38h-1.5zM49.5 443.3h1.5v1.5h-1.5zM49.5 445.7h1.5v1.5h-1.5zM49.5 452.4h1.5v1.5h-1.5zM49.5 455.1h1.5v1.5h-1.5zM49.5 457.5h1.5v21.4h-1.5zM50.5 478.2h1.5v38h-1.5zM50.5 444.8h1.5v3h-1.5zM50.5 448.2h1.5v2.1h-1.5zM50.5 450.5h1.5v4h-1.5zM50.5 455.2h1.5v23.7h-1.5zM51.5 478.2h1.5v38h-1.5zM51.5 439.9h1.5v1.5h-1.5zM51.5 441.6h1.5v1.5h-1.5zM51.5 444.2h1.5v1.5h-1.5zM51.5 446.5h1.5v1.5h-1.5zM51.5 448.5h1.5v1.5h-1.5zM51.5 450.6h1.5v1.9h-1.5zM51.5 453h1.5v4.5h-1.5zM51.5 457.9h1.5v2h-1.5zM51.5 460.7h1.5v3.9h-1.5zM51.5 464.8h1.5v14h-1.5zM52.5 478.2h1.5v38h-1.5zM52.5 448.6h1.5v4.5h-1.5zM52.5 453.6h1.5v3.6h-1.5zM52.5 457.4h1.5v1.7h-1.5zM52.5 459.4h1.5v4.5h-1.5zM52.5 464.2h1.5v14.7h-1.5zM53.5 478.2h1.5v38h-1.5zM53.5 442.2h1.5v1.5h-1.5zM53.5 444.2h1.5v1.6h-1.5zM53.5 446.5h1.5v1.5h-1.5zM53.5 448.2h1.5v1.5h-1.5zM53.5 454.9h1.5v1.5h-1.5zM53.5 461.1h1.5v3.4h-1.5zM53.5 464.9h1.5v13.9h-1.5zM54.5 478.2h1.5v38h-1.5zM54.5 431h1.5v1.5h-1.5zM54.5 455.4h1.5v1.5h-1.5zM54.5 458.4h1.5v3.4h-1.5zM54.5 462.9h1.5v16.1h-1.5zM55.5 478.2h1.5v38h-1.5zM55.5 445h1.5v1.5h-1.5zM55.5 448h1.5v1.5h-1.5zM55.5 450.8h1.5v1.5h-1.5zM55.5 453.5h1.5v3.7h-1.5zM55.5 458.2h1.5v1.5h-1.5zM55.5 460h1.5v1.5h-1.5zM55.5 463.8h1.5v15.2h-1.5zM56.5 478.2h1.5v38h-1.5zM56.5 461.7h1.5v3h-1.5zM56.5 465.2h1.5v13.4h-1.5zM57.5 478.2h1.5v38h-1.5zM57.5 441.8h1.5v4.6h-1.5zM57.5 447.4h1.5v1.5h-1.5zM57.5 449.7h1.5v1.5h-1.5zM57.5 454.9h1.5v1.5h-1.5zM57.5 457.6h1.5v1.5h-1.5zM57.5 460.2h1.5v18.5h-1.5zM58.5 478.2h1.5v38h-1.5zM58.5 432.8h1.5v2.6h-1.5zM58.5 440.3h1.5v1.5h-1.5zM58.5 442.8h1.5v2.9h-1.5zM58.5 455h1.5v2.8h-1.5zM58.5 458.4h1.5v20.5h-1.5zM59.5 478.2h1.5v38h-1.5zM59.5 469.5h1.5v9.4h-1.5zM60.5 478.2h1.5v38h-1.5zM60.5 447.6h1.5v2.8h-1.5zM60.5 451.2h1.5v1.5h-1.5zM60.5 465.5h1.5v1.5h-1.5zM60.5 467.6h1.5v2.8h-1.5zM60.5 470.8h1.5v7.9h-1.5zM61.5 478.2h1.5v38h-1.5zM61.5 433h1.5v1.5h-1.5zM61.5 435.5h1.5v1.5h-1.5zM61.5 438.1h1.5v2.9h-1.5zM61.5 441.8h1.5v4.3h-1.5zM61.5 447.5h1.5v6.3h-1.5zM61.5 454.1h1.5v3.2h-1.5zM61.5 458.5h1.5v2.9h-1.5zM61.5 461.8h1.5v1.5h-1.5zM61.5 464.5h1.5v1.5h-1.5zM61.5 466.8h1.5v1.5h-1.5zM61.5 469.1h1.5v8.7h-1.5zM62.5 478.2h1.5v38h-1.5zM62.5 463.3h1.5v3h-1.5zM62.5 467.3h1.5v2.6h-1.5zM62.5 470.2h1.5v8.5h-1.5zM63.5 478.2h1.5v38h-1.5zM63.5 442.2h1.5v1.5h-1.5zM63.5 444.6h1.5v1.5h-1.5zM63.5 447h1.5v2.8h-1.5zM63.5 451.2h1.5v1.5h-1.5zM63.5 455h1.5v3.1h-1.5zM63.5 460h1.5v1.5h-1.5zM63.5 462.7h1.5v1.5h-1.5zM63.5 465.6h1.5v13.4h-1.5zM64.5 478.2h1.5v38h-1.5zM64.5 451.4h1.5v1.5h-1.5zM64.5 455.5h1.5v1.5h-1.5zM64.5 457.5h1.5v8.5h-1.5zM64.5 469.7h1.5v9.1h-1.5zM65.5 478.2h1.5v38h-1.5zM65.5 453.1h1.5v1.5h-1.5zM65.5 455.5h1.5v1.5h-1.5zM65.5 457.5h1.5v3.6h-1.5zM65.5 461.4h1.5v7.5h-1.5zM65.5 470.2h1.5v1.5h-1.5zM65.5 472.4h1.5v1.8h-1.5zM65.5 474.6h1.5v3.8h-1.5zM66.5 478.2h1.5v38h-1.5zM66.5 440.4h1.5v1.5h-1.5zM66.5 443.2h1.5v1.5h-1.5zM66.5 459h1.5v19.9h-1.5zM67.5 478.2h0.5v38h-0.5zM67.5 440.4h0.5v4.7h-0.5zM67.5 460.7h0.5v8.9h-0.5zM67.5 471.2h0.5v2.1h-0.5zM67.5 474.3h0.5v4.4h-0.5zM49.3 432.7h1.5v1.5h-1.5zM44.3 431.8h1.4v1.5h-1.4zM44.3 441.1h1.4v1.5h-1.4zM44.3 446h1.4v1.5h-1.4zM44.3 452.1h1.4v1.5h-1.4zM44.3 454.4h1.4v1.5h-1.4zM44.3 463h1.4v1.5h-1.4zM49.3 436.3h1.4v1.5h-1.4zM49.3 445.5h1.4v1.5h-1.4zM49.3 452.7h1.4v1.5h-1.4zM49.3 462.1h1.4v1.5h-1.4zM37.3 439.9h1.4v1.5h-1.4zM37.3 447.4h1.4v1.5h-1.4zM37.3 454.5h1.4v1.5h-1.4zM37.3 460.3h1.4v1.5h-1.4zM61.3 439.9h1.4v1.5h-1.4zM61.3 449.7h1.4v1.5h-1.4zM61.3 465.3h1.4v1.5h-1.4zM335.5 487.6h1.5v28.6h-1.5zM335.5 440.5h1.5v2.9h-1.5zM335.5 444.7h1.5v1.5h-1.5zM335.5 446.5h1.5v2.8h-1.5zM335.5 449.9h1.5v1.5h-1.5zM335.5 453h1.5v1.5h-1.5zM335.5 455h1.5v1.5h-1.5zM335.5 457.3h1.5v1.5h-1.5zM335.5 464h1.5v1.5h-1.5zM335.5 466.4h1.5v1.5h-1.5zM335.5 469.3h1.5v18.6h-1.5zM336.5 487.6h1.5v28.6h-1.5zM336.5 449h1.5v2.7h-1.5zM336.5 452.8h1.5v1.5h-1.5zM336.5 454.5h1.5v1.5h-1.5zM336.5 474.8h1.5v13.3h-1.5zM337.5 487.6h1.5v28.6h-1.5zM337.5 447.2h1.5v1.5h-1.5zM337.5 449.7h1.5v1.5h-1.5zM337.5 452.2h1.5v1.5h-1.5zM337.5 463.6h1.5v4.3h-1.5zM337.5 468.2h1.5v1.8h-1.5zM337.5 470.6h1.5v10.6h-1.5zM337.5 481.7h1.5v6.7h-1.5zM338.5 487.6h1.5v28.6h-1.5zM338.5 444.2h1.5v1.5h-1.5zM338.5 446.4h1.5v1.5h-1.5zM338.5 449.2h1.5v2.7h-1.5zM338.5 457.2h1.5v6.6h-1.5zM338.5 469.3h1.5v1.5h-1.5zM338.5 481.1h1.5v7.2h-1.5zM339.5 487.6h1.5v28.6h-1.5zM339.5 454.4h1.5v1.5h-1.5zM339.5 457.4h1.5v5.9h-1.5zM339.5 465.7h1.5v1.5h-1.5zM339.5 468h1.5v3.1h-1.5zM339.5 472.2h1.5v3.2h-1.5zM339.5 476.3h1.5v1.8h-1.5zM339.5 478.6h1.5v9.7h-1.5zM340.5 487.6h1.5v28.6h-1.5zM340.5 458.7h1.5v1.5h-1.5zM340.5 460.7h1.5v11.4h-1.5zM340.5 472.7h1.5v1.6h-1.5zM340.5 474.5h1.5v13.7h-1.5zM341.5 487.6h1.5v28.6h-1.5zM341.5 473.2h1.5v15.2h-1.5zM342.5 487.6h1.5v28.6h-1.5zM342.5 455.2h1.5v4.3h-1.5zM342.5 476.6h1.5v10.9h-1.5zM343.5 487.6h1.5v28.6h-1.5zM343.5 448.8h1.5v1.5h-1.5zM343.5 451.2h1.5v2.9h-1.5zM343.5 454.4h1.5v1.5h-1.5zM343.5 457.8h1.5v1.5h-1.5zM343.5 460.6h1.5v1.5h-1.5zM343.5 478.1h1.5v10.2h-1.5zM344.5 487.6h1.5v28.6h-1.5zM344.5 462.6h1.5v1.5h-1.5zM344.5 464.8h1.5v23.2h-1.5zM345.5 487.6h1.5v28.6h-1.5zM345.5 441.6h1.5v3h-1.5zM345.5 445.8h1.5v1.5h-1.5zM345.5 448.8h1.5v1.5h-1.5zM345.5 450.8h1.5v1.5h-1.5zM345.5 466.5h1.5v1.9h-1.5zM345.5 468.7h1.5v1.9h-1.5zM345.5 471.9h1.5v1.5h-1.5zM345.5 475.5h1.5v1.5h-1.5zM345.5 477.4h1.5v10.9h-1.5zM346.5 487.6h1.5v28.6h-1.5zM346.5 457.8h1.5v1.5h-1.5zM346.5 464.3h1.5v1.5h-1.5zM346.5 474.5h1.5v13.2h-1.5zM347.5 487.6h1.5v28.6h-1.5zM347.5 461.6h1.5v3.9h-1.5zM347.5 465.8h1.5v3.5h-1.5zM347.5 470.3h1.5v1.7h-1.5zM347.5 473.1h1.5v1.5h-1.5zM347.5 478.8h1.5v9.3h-1.5zM348.5 487.6h1.5v28.6h-1.5zM348.5 451.9h1.5v1.5h-1.5zM348.5 454.7h1.5v1.5h-1.5zM348.5 457h1.5v1.5h-1.5zM348.5 459.2h1.5v1.5h-1.5zM348.5 467h1.5v1.5h-1.5zM348.5 468.8h1.5v1.5h-1.5zM348.5 473.8h1.5v1.5h-1.5zM348.5 475.6h1.5v1.5h-1.5zM348.5 477.7h1.5v10.6h-1.5zM349.5 487.6h1.5v28.6h-1.5zM349.5 460.3h1.5v4.2h-1.5zM349.5 464.7h1.5v3.6h-1.5zM349.5 468.8h1.5v1.5h-1.5zM349.5 471.2h1.5v1.5h-1.5zM349.5 474h1.5v1.5h-1.5zM349.5 476.1h1.5v12.2h-1.5zM350.5 487.6h1.5v28.6h-1.5zM350.5 462.1h1.5v4.3h-1.5zM350.5 471.4h1.5v1.5h-1.5zM350.5 474.3h1.5v1.5h-1.5zM350.5 476.8h1.5v11.4h-1.5zM351.5 487.6h1.5v28.6h-1.5zM351.5 449.9h1.5v1.5h-1.5zM351.5 457.2h1.5v1.5h-1.5zM351.5 460.1h1.5v4.1h-1.5zM351.5 465.5h1.5v1.5h-1.5zM351.5 468.2h1.5v1.5h-1.5zM351.5 470h1.5v3.1h-1.5zM351.5 474.3h1.5v13.9h-1.5zM352.5 487.6h1.5v28.6h-1.5zM352.5 465.7h1.5v22.4h-1.5zM353.5 487.6h1.5v28.6h-1.5zM353.5 451.4h1.5v2.8h-1.5zM353.5 454.5h1.5v2.1h-1.5zM353.5 457.6h1.5v2.7h-1.5zM353.5 461.6h1.5v6h-1.5zM353.5 470.8h1.5v1.5h-1.5zM353.5 473.2h1.5v1.5h-1.5zM353.5 475.3h1.5v1.5h-1.5zM353.5 478.2h1.5v2.8h-1.5zM353.5 481.3h1.5v7.1h-1.5zM354.5 487.6h1.5v28.6h-1.5zM354.5 461.4h1.5v1.6h-1.5zM354.5 463.4h1.5v2.2h-1.5zM354.5 466h1.5v18.2h-1.5zM354.5 485.3h1.5v2.9h-1.5zM355.5 487.6h1.5v28.6h-1.5zM355.5 462.4h1.5v3.1h-1.5zM355.5 466.8h1.5v2.9h-1.5zM355.5 470h1.5v18.3h-1.5zM356.5 487.6h1.5v28.6h-1.5zM356.5 457.1h1.5v1.5h-1.5zM356.5 459.4h1.5v1.5h-1.5zM356.5 462.3h1.5v1.5h-1.5zM356.5 465.3h1.5v1.5h-1.5zM356.5 467.9h1.5v2.9h-1.5zM356.5 471.6h1.5v2.2h-1.5zM356.5 474.1h1.5v8.7h-1.5zM356.5 483h1.5v5.1h-1.5zM357.5 487.6h1.2v28.6h-1.2zM357.5 446.5h1.2v9.6h-1.2zM357.5 456.8h1.2v2.2h-1.2zM357.5 459.8h1.2v2.6h-1.2zM357.5 466.7h1.2v1.5h-1.2zM357.5 470.5h1.2v12.4h-1.2zM357.5 483.2h1.2v5.1h-1.2zM358.5 487.6h0.2v28.6h-0.2zM358.5 440.7h0.2v1.5h-0.2zM358.5 443.1h0.2v1.5h-0.2zM358.5 445.2h0.2v1.5h-0.2zM358.5 448.5h0.2v1.5h-0.2zM358.5 451.5h0.2v5.7h-0.2zM358.5 457.7h0.2v4.2h-0.2zM358.5 462.2h0.2v2.6h-0.2zM358.5 466h0.2v1.5h-0.2zM358.5 471h0.2v1.5h-0.2zM358.5 473.7h0.2v1.5h-0.2zM358.5 476.2h0.2v11.8h-0.2zM346.9 439.4h1.5v1.5h-1.5zM339.3 425.5h1.4v1.5h-1.4zM339.3 435.9h1.4v1.5h-1.4zM339.3 440.3h1.4v1.5h-1.4zM339.3 444h1.4v1.5h-1.4zM339.3 445.8h1.4v1.5h-1.4zM339.3 448.2h1.4v1.5h-1.4zM339.3 461.2h1.4v1.5h-1.4zM339.3 466.3h1.4v1.5h-1.4zM350.3 430.9h1.4v1.5h-1.4zM350.3 450.9h1.4v1.5h-1.4zM350.3 455.9h1.4v1.5h-1.4zM350.3 460.7h1.4v1.5h-1.4zM350.3 463.3h1.4v1.5h-1.4zM350.3 465.4h1.4v1.5h-1.4zM350.3 474.3h1.4v1.5h-1.4zM494 490.8h1.5v25.4h-1.5zM494 445.6h1.5v1.5h-1.5zM494 448.1h1.5v1.5h-1.5zM494 450.5h1.5v1.5h-1.5zM494 469.4h1.5v1.5h-1.5zM494 471.1h1.5v1.5h-1.5zM494 473.4h1.5v16.9h-1.5zM495 490.8h1.5v25.4h-1.5zM495 467.9h1.5v1.5h-1.5zM495 470.5h1.5v1.5h-1.5zM495 474h1.5v2.7h-1.5zM495 477.3h1.5v2.6h-1.5zM495 480.5h1.5v1.5h-1.5zM495 484.2h1.5v7.3h-1.5zM496 490.8h1.5v25.4h-1.5zM496 469.3h1.5v22.3h-1.5zM497 490.8h1.5v25.4h-1.5zM497 444h1.5v1.5h-1.5zM497 447h1.5v1.5h-1.5zM497 449h1.5v1.5h-1.5zM497 450.8h1.5v2.8h-1.5zM497 454.5h1.5v1.5h-1.5zM497 457.2h1.5v1.5h-1.5zM497 462.4h1.5v1.5h-1.5zM497 464.4h1.5v1.5h-1.5zM497 467.3h1.5v2h-1.5zM497 470h1.5v21.6h-1.5zM498 490.8h1.5v25.4h-1.5zM498 457.6h1.5v4.3h-1.5zM498 463.4h1.5v1.5h-1.5zM498 467.8h1.5v1.5h-1.5zM498 473.9h1.5v4.6h-1.5zM498 479.3h1.5v12h-1.5zM499 490.8h1.5v25.4h-1.5zM499 453.1h1.5v1.5h-1.5zM499 455.8h1.5v2.7h-1.5zM499 477.2h1.5v14.3h-1.5zM500 490.8h1v25.4h-1zM500 465.3h1v1.5h-1zM500 467.6h1v1.5h-1zM500 470.4h1v1.5h-1zM500 472.7h1v1.5h-1zM500 474.8h1v2.7h-1zM500 478.1h1v13.1h-1z"/>
<path fill="#7a2688" d="M69 475.7h1.5v40.5h-1.5zM69 448.4h1.5v1.5h-1.5zM69 450.9h1.5v24.8h-1.5zM70 475.7h1.5v40.5h-1.5zM70 431.5h1.5v1.5h-1.5zM70 433.3h1.5v2.8h-1.5zM70 437.1h1.5v1.5h-1.5zM70 441.8h1.5v2.9h-1.5zM70 445.4h1.5v1.5h-1.5zM70 447.8h1.5v12.2h-1.5zM70 460.4h1.5v1.8h-1.5zM70 462.5h1.5v13.8h-1.5zM71 475.7h1.5v40.5h-1.5zM71 449.9h1.5v1.5h-1.5zM71 457h1.5v1.5h-1.5zM71 459h1.5v1.5h-1.5zM71 461.8h1.5v1.5h-1.5zM71 464.2h1.5v2.4h-1.5zM71 467.2h1.5v9.2h-1.5zM72 475.7h1.5v40.5h-1.5zM72 463.9h1.5v3.8h-1.5zM72 468h1.5v8.5h-1.5zM73 475.7h1.5v40.5h-1.5zM73 439h1.5v1.5h-1.5zM73 441.8h1.5v1.5h-1.5zM73 444.3h1.5v1.5h-1.5zM73 446.6h1.5v3.4h-1.5zM73 450.7h1.5v1.5h-1.5zM73 453.1h1.5v1.5h-1.5zM73 455.7h1.5v1.5h-1.5zM73 460.2h1.5v1.5h-1.5zM73 465.7h1.5v1.5h-1.5zM73 467.5h1.5v8.8h-1.5zM74 475.7h1.5v40.5h-1.5zM74 436.3h1.5v5.8h-1.5zM74 442.9h1.5v1.5h-1.5zM74 458.5h1.5v1.5h-1.5zM74 460.8h1.5v15.7h-1.5zM75 475.7h1.5v40.5h-1.5zM75 452.6h1.5v3.2h-1.5zM75 456.2h1.5v3.3h-1.5zM75 460.4h1.5v5h-1.5zM75 466.1h1.5v1.5h-1.5zM75 468.5h1.5v7.9h-1.5zM76 475.7h1.5v40.5h-1.5zM76 455.7h1.5v1.5h-1.5zM76 457.7h1.5v2.9h-1.5zM76 461.2h1.5v14.8h-1.5zM77 475.7h1.5v40.5h-1.5zM77 438.2h1.5v6.6h-1.5zM77 445.6h1.5v1.5h-1.5zM77 448.5h1.5v11.2h-1.5zM77 460.8h1.5v6.3h-1.5zM77 468.4h1.5v7.6h-1.5zM78 475.7h1.5v40.5h-1.5zM78 437.3h1.5v1.5h-1.5zM78 459.1h1.5v1.5h-1.5zM78 460.9h1.5v15.5h-1.5zM79 475.7h1.5v40.5h-1.5zM79 430.8h1.5v2.2h-1.5zM79 433.4h1.5v1.5h-1.5zM79 435.3h1.5v3.1h-1.5zM79 439.1h1.5v1.5h-1.5zM79 441.4h1.5v1.5h-1.5zM79 445.2h1.5v1.5h-1.5zM79 447.4h1.5v2.7h-1.5zM79 458.4h1.5v1.5h-1.5zM79 461.5h1.5v7.6h-1.5zM79 469.4h1.5v7h-1.5zM80 475.7h1.5v40.5h-1.5zM80 447.6h1.5v1.5h-1.5zM80 450.4h1.5v1.5h-1.5zM80 453.3h1.5v23h-1.5zM81 475.7h1.5v40.5h-1.5zM81 441.3h1.5v1.5h-1.5zM81 443.5h1.5v1.5h-1.5zM81 445.6h1.5v1.5h-1.5zM81 448h1.5v1.5h-1.5zM81 461.7h1.5v1.5h-1.5zM81 464.4h1.5v11.8h-1.5zM82 475.7h1.5v40.5h-1.5zM82 437.8h1.5v1.5h-1.5zM82 440.4h1.5v1.5h-1.5zM82 443.4h1.5v1.5h-1.5zM82 461.8h1.5v2h-1.5zM82 464.3h1.5v11.6h-1.5zM83 475.7h1.5v40.5h-1.5zM83 435h1.5v1.5h-1.5zM83 437.2h1.5v1.5h-1.5zM83 439h1.5v3.1h-1.5zM83 442.5h1.5v3.1h-1.5zM83 463.6h1.5v1.5h-1.5zM83 466.7h1.5v1.5h-1.5zM83 468.5h1.5v7.9h-1.5zM84 475.7h1.5v40.5h-1.5zM84 454.2h1.5v1.5h-1.5zM84 456.6h1.5v19.9h-1.5zM85 475.7h1.5v40.5h-1.5zM85 430.7h1.5v1.5h-1.5zM85 437.9h1.5v1.5h-1.5zM85 447.4h1.5v9.5h-1.5zM85 457.5h1.5v19h-1.5zM86 475.7h1.5v40.5h-1.5zM86 451.2h1.5v1.5h-1.5zM86 458.4h1.5v1.5h-1.5zM86 461.6h1.5v1.5h-1.5zM86 463.7h1.5v12.7h-1.5zM87 475.7h1.5v40.5h-1.5zM87 465.5h1.5v10.9h-1.5zM88 475.7h1.5v40.5h-1.5zM88 439.9h1.5v1.5h-1.5zM88 442.6h1.5v3h-1.5zM88 446.8h1.5v1.5h-1.5zM88 449.5h1.5v3.1h-1.5zM88 453h1.5v1.5h-1.5zM88 455.7h1.5v1.5h-1.5zM88 464h1.5v1.5h-1.5zM88 467.7h1.5v8.7h-1.5zM89 475.7h1.5v40.5h-1.5zM89 436.2h1.5v3h-1.5zM89 454.7h1.5v1.5h-1.5zM89 457.6h1.5v4.7h-1.5zM89 464.6h1.5v2.1h-1.5zM89 467.4h1.5v1.5h-1.5zM89 470.2h1.5v6.2h-1.5zM90 475.7h1.5v40.5h-1.5zM90 435h1.5v2.9h-1.5zM90 439.4h1.5v1.5h-1.5zM90 452.9h1.5v8.1h-1.5zM90 461.3h1.5v2h-1.5zM90 464.1h1.5v1.5h-1.5zM90 466.7h1.5v1.6h-1.5zM90 469.1h1.5v7.3h-1.5zM91 475.7h1.5v40.5h-1.5zM91 443.5h1.5v1.5h-1.5zM91 446.2h1.5v1.5h-1.5zM91 448.4h1.5v4.2h-1.5zM91 453.2h1.5v1.8h-1.5zM91 456.2h1.5v1.5h-1.5zM91 459h1.5v1.5h-1.5zM91 460.7h1.5v15.4h-1.5zM92 475.7h1.5v40.5h-1.5zM92 438.4h1.5v4.4h-1.5zM92 444.1h1.5v1.5h-1.5zM92 447.1h1.5v1.5h-1.5zM92 449.7h1.5v1.5h-1.5zM92 452.6h1.5v1.9h-1.5zM92 454.7h1.5v1.5h-1.5zM92 456.5h1.5v1.5h-1.5zM92 464.9h1.5v11.2h-1.5zM93 475.7h1.5v40.5h-1.5zM93 463.3h1.5v1.5h-1.5zM93 466h1.5v10.5h-1.5zM94 475.7h1.5v40.5h-1.5zM94 434h1.5v2.9h-1.5zM94 437.7h1.5v1.5h-1.5zM94 440.5h1.5v1.6h-1.5zM94 443.3h1.5v1.7h-1.5zM94 446.1h1.5v1.8h-1.5zM94 448.9h1.5v11.2h-1.5zM94 461.6h1.5v2.7h-1.5zM94 465.6h1.5v1.5h-1.5zM94 468.3h1.5v8.1h-1.5zM95 475.7h1.5v40.5h-1.5zM95 435.7h1.5v3h-1.5zM95 440h1.5v1.5h-1.5zM95 441.9h1.5v1.5h-1.5zM95 443.7h1.5v1.5h-1.5zM95 447.5h1.5v1.5h-1.5zM95 449.3h1.5v4.8h-1.5zM95 459.5h1.5v1.5h-1.5zM95 461.4h1.5v1.5h-1.5zM95 464.4h1.5v3.4h-1.5zM95 468h1.5v8.2h-1.5zM96 475.7h1.5v40.5h-1.5zM96 430h1.5v1.5h-1.5zM96 431.7h1.5v1.5h-1.5zM96 433.5h1.5v1.5h-1.5zM96 435.4h1.5v2.8h-1.5zM96 439.1h1.5v1.5h-1.5zM96 456.1h1.5v2.7h-1.5zM96 459.1h1.5v17.3h-1.5zM97 475.7h1.5v40.5h-1.5zM97 441.4h1.5v1.5h-1.5zM97 443.5h1.5v1.5h-1.5zM97 448.9h1.5v1.5h-1.5zM97 452.3h1.5v6.9h-1.5zM97 460.7h1.5v1.5h-1.5zM97 463.1h1.5v1.5h-1.5zM97 465h1.5v11.4h-1.5zM98 475.7h1.5v40.5h-1.5zM98 433.6h1.5v1.5h-1.5zM98 436.4h1.5v2.8h-1.5zM98 453.9h1.5v1.5h-1.5zM98 456.6h1.5v1.5h-1.5zM98 458.5h1.5v3.8h-1.5zM98 462.6h1.5v4.5h-1.5zM98 467.3h1.5v8.9h-1.5zM99 475.7h1.5v40.5h-1.5zM99 455.1h1.5v1.6h-1.5zM99 457h1.5v9.6h-1.5zM99 467h1.5v9.4h-1.5zM100 475.7h1.5v40.5h-1.5zM100 436.2h1.5v1.5h-1.5zM100 438.5h1.5v1.5h-1.5zM100 440.6h1.5v1.5h-1.5zM100 447.1h1.5v2.7h-1.5zM100 451h1.5v1.5h-1.5zM100 453.6h1.5v2h-1.5zM100 456.2h1.5v20.2h-1.5zM101 475.7h1.5v40.5h-1.5zM101 444h1.5v1.5h-1.5zM101 446.1h1.5v1.5h-1.5zM101 448.8h1.5v2.7h-1.5zM101 452.1h1.5v1.5h-1.5zM101 459.4h1.5v1.5h-1.5zM101 461.4h1.5v7h-1.5zM101 469.2h1.5v7h-1.5zM102 475.7h1.5v40.5h-1.5zM102 443.6h1.5v3h-1.5zM102 447.1h1.5v5.3h-1.5zM102 452.9h1.5v1.5h-1.5zM102 454.6h1.5v1.5h-1.5zM102 457.2h1.5v1.5h-1.5zM102 459.7h1.5v1.5h-1.5zM102 462.1h1.5v14.2h-1.5zM103 475.7h1.5v40.5h-1.5zM103 455.8h1.5v1.5h-1.5zM103 460.4h1.5v4.6h-1.5zM103 465.4h1.5v10.8h-1.5zM104 475.7h1.5v40.5h-1.5zM104 429.9h1.5v1.5h-1.5zM104 432.6h1.5v1.5h-1.5zM104 434.4h1.5v3h-1.5zM104 438.3h1.5v1.5h-1.5zM104 452.1h1.5v23.7h-1.5zM105 475.7h0.8v40.5h-0.8zM105 451h0.8v1.5h-0.8zM105 452.8h0.8v1.5h-0.8zM105 454.9h0.8v1.5h-0.8zM105 457.5h0.8v1.5h-0.8zM105 462.6h0.8v1.5h-0.8zM105 464.7h0.8v11.7h-0.8zM89.1 440.4h1.5v1.5h-1.5zM85.3 426.8h1.4v1.5h-1.4zM85.3 434.7h1.4v1.5h-1.4zM85.3 439.1h1.4v1.5h-1.4zM85.3 454.1h1.4v1.5h-1.4zM85.3 458.4h1.4v1.5h-1.4zM88.3 416.5h1.4v1.5h-1.4zM88.3 432.3h1.4v1.5h-1.4zM88.3 435.9h1.4v1.5h-1.4zM88.3 461h1.4v1.5h-1.4zM88.3 463.7h1.4v1.5h-1.4zM360 483.8h1.5v32.4h-1.5zM360 451.4h1.5v1.5h-1.5zM360 453.7h1.5v1.5h-1.5zM360 456.1h1.5v1.5h-1.5zM360 459.1h1.5v2.7h-1.5zM360 462.5h1.5v1.5h-1.5zM360 465.2h1.5v4.6h-1.5zM360 470.5h1.5v1.5h-1.5zM360 473.5h1.5v10.9h-1.5zM361 483.8h1.5v32.4h-1.5zM361 454.2h1.5v1.5h-1.5zM361 456.9h1.5v1.5h-1.5zM361 459.1h1.5v4.4h-1.5zM361 464.3h1.5v3.8h-1.5zM361 469.1h1.5v1.5h-1.5zM361 471.6h1.5v13h-1.5zM362 483.8h1.5v32.4h-1.5zM362 447.6h1.5v1.5h-1.5zM362 449.8h1.5v2.9h-1.5zM362 453.6h1.5v3.1h-1.5zM362 457.1h1.5v1.5h-1.5zM362 461.5h1.5v3.6h-1.5zM362 469.1h1.5v1.5h-1.5zM362 475.3h1.5v1.7h-1.5zM362 477.3h1.5v7h-1.5zM363 483.8h1.5v32.4h-1.5zM363 472.9h1.5v11.1h-1.5zM364 483.8h1.5v32.4h-1.5zM364 452.7h1.5v1.5h-1.5zM364 455.3h1.5v4.1h-1.5zM364 460.4h1.5v1.5h-1.5zM364 466.6h1.5v2.8h-1.5zM364 471.7h1.5v12.9h-1.5zM365 483.8h1.5v32.4h-1.5zM365 451.1h1.5v2.9h-1.5zM365 464.4h1.5v1.5h-1.5zM365 467.9h1.5v16.2h-1.5zM366 483.8h1.5v32.4h-1.5zM366 453.5h1.5v1.5h-1.5zM366 456.5h1.5v3h-1.5zM366 460.9h1.5v1.5h-1.5zM366 463.3h1.5v1.5h-1.5zM366 465.8h1.5v1.8h-1.5zM366 468.1h1.5v16.3h-1.5zM367 483.8h1.5v32.4h-1.5zM367 460.9h1.5v1.5h-1.5zM367 463.2h1.5v1.5h-1.5zM367 465.7h1.5v4.9h-1.5zM367 471.1h1.5v13.4h-1.5zM368 483.8h1.5v32.4h-1.5zM368 451.6h1.5v1.5h-1.5zM368 453.3h1.5v1.5h-1.5zM368 456h1.5v2.7h-1.5zM368 459.1h1.5v2.6h-1.5zM368 461.9h1.5v2.9h-1.5zM368 465.3h1.5v1.5h-1.5zM368 473.2h1.5v11.2h-1.5zM369 483.8h1.5v32.4h-1.5zM369 447.6h1.5v1.5h-1.5zM369 449.4h1.5v1.5h-1.5zM369 452.3h1.5v3.2h-1.5zM369 456.6h1.5v1.5h-1.5zM369 458.4h1.5v4h-1.5zM369 462.9h1.5v1.5h-1.5zM369 465.3h1.5v19.1h-1.5zM370 483.8h1.5v32.4h-1.5zM370 469.4h1.5v15h-1.5zM371 483.8h1.5v32.4h-1.5zM371 444.7h1.5v5.2h-1.5zM371 450.4h1.5v23h-1.5zM371 473.6h1.5v10.7h-1.5zM372 483.8h1.5v32.4h-1.5zM372 455.2h1.5v1.5h-1.5zM372 458.3h1.5v1.5h-1.5zM372 461.1h1.5v1.5h-1.5zM372 463.8h1.5v1.5h-1.5zM372 471.3h1.5v1.5h-1.5zM372 475.6h1.5v8.9h-1.5zM373 483.8h1.5v32.4h-1.5zM373 446.8h1.5v1.5h-1.5zM373 449.8h1.5v14.8h-1.5zM373 465.1h1.5v2.2h-1.5zM373 468.2h1.5v1.9h-1.5zM373 470.6h1.5v3h-1.5zM373 473.8h1.5v10.7h-1.5zM374 483.8h1.5v32.4h-1.5zM374 455.2h1.5v14.7h-1.5zM374 470.4h1.5v1.5h-1.5zM374 472.5h1.5v12h-1.5zM375 483.8h1.5v32.4h-1.5zM375 463.4h1.5v1.5h-1.5zM375 465.4h1.5v18.8h-1.5zM376 483.8h1.5v32.4h-1.5zM376 437.4h1.5v1.5h-1.5zM376 440h1.5v1.5h-1.5zM376 443.1h1.5v1.5h-1.5zM376 445h1.5v1.5h-1.5zM376 446.8h1.5v1.5h-1.5zM376 454.7h1.5v1.5h-1.5zM376 473.5h1.5v4.3h-1.5zM376 478.3h1.5v6.2h-1.5zM377 483.8h1.5v32.4h-1.5zM377 449.3h1.5v1.5h-1.5zM377 457.6h1.5v13.1h-1.5zM377 471.3h1.5v1.5h-1.5zM377 474.2h1.5v10.3h-1.5zM378 483.8h1.2v32.4h-1.2zM378 460.7h1.2v3h-1.2zM378 469.7h1.2v1.5h-1.2zM378 471.9h1.2v1.5h-1.2zM378 473.7h1.2v10.6h-1.2zM379 483.8h0.2v32.4h-0.2zM379 444.1h0.2v2.8h-0.2zM379 447.2h0.2v1.5h-0.2zM379 449.7h0.2v2.6h-0.2zM379 453h0.2v4.9h-0.2zM379 465h0.2v12.8h-0.2zM379 478.7h0.2v5.7h-0.2zM361.3 421.9h1.4v1.5h-1.4zM361.3 432.1h1.4v1.5h-1.4zM361.3 435.4h1.4v1.5h-1.4zM361.3 440.8h1.4v1.5h-1.4zM361.3 443.7h1.4v1.5h-1.4zM361.3 453.8h1.4v1.5h-1.4zM361.3 457.8h1.4v1.5h-1.4zM361.3 463.9h1.4v1.5h-1.4zM361.3 468.9h1.4v1.5h-1.4zM364.3 434.5h1.4v1.5h-1.4zM364.3 444h1.4v1.5h-1.4zM364.3 448.5h1.4v1.5h-1.4zM364.3 459.5h1.4v1.5h-1.4zM364.3 464.8h1.4v1.5h-1.4zM364.3 467.4h1.4v1.5h-1.4zM364.3 471.3h1.4v1.5h-1.4zM502.5 468.9h1.5v47.3h-1.5zM502.5 443.2h1.5v1.5h-1.5zM502.5 446h1.5v1.5h-1.5zM502.5 448.9h1.5v1.5h-1.5zM502.5 451.5h1.5v1.5h-1.5zM502.5 454.4h1.5v2.7h-1.5zM502.5 457.4h1.5v11.9h-1.5zM503.5 468.9h1.5v47.3h-1.5zM503.5 433.5h1.5v1.5h-1.5zM503.5 435.7h1.5v1.5h-1.5zM503.5 448.6h1.5v1.5h-1.5zM503.5 456.5h1.5v1.5h-1.5zM503.5 458.8h1.5v10.6h-1.5zM504.5 468.9h1.5v47.3h-1.5zM504.5 434.4h1.5v1.5h-1.5zM504.5 437.1h1.5v3.2h-1.5zM504.5 441.6h1.5v1.5h-1.5zM504.5 443.9h1.5v3h-1.5zM504.5 447.4h1.5v1.5h-1.5zM504.5 456.7h1.5v12.6h-1.5zM505.5 468.9h1.5v47.3h-1.5zM505.5 449.6h1.5v1.5h-1.5zM505.5 451.7h1.5v17.2h-1.5zM506.5 468.9h1.1v47.3h-1.1zM506.5 425h1.1v2.9h-1.1zM506.5 429.3h1.1v2.8h-1.1zM506.5 443.6h1.1v1.5h-1.1zM506.5 446.1h1.1v1.5h-1.1zM506.5 449.1h1.1v7.4h-1.1zM506.5 456.7h1.1v1.5h-1.1zM506.5 459.5h1.1v1.5h-1.1zM506.5 461.8h1.1v7.4h-1.1z"/>
<path fill="#10197a" d="M107 482.4h1.5v33.8h-1.5zM107 455.6h1.5v1.5h-1.5zM107 458.5h1.5v6.3h-1.5zM107 465.5h1.5v1.9h-1.5zM107 467.8h1.5v5.4h-1.5zM107 473.6h1.5v9.2h-1.5zM108 482.4h1.5v33.8h-1.5zM108 452.6h1.5v1.5h-1.5zM108 454.4h1.5v1.5h-1.5zM108 457.8h1.5v1.5h-1.5zM108 459.8h1.5v3.5h-1.5zM108 463.7h1.5v3h-1.5zM108 467.5h1.5v1.5h-1.5zM108 469.6h1.5v1.5h-1.5zM108 471.3h1.5v11.6h-1.5zM109 482.4h1.5v33.8h-1.5zM109 463.7h1.5v4.4h-1.5zM109 469.4h1.5v13.6h-1.5zM110 482.4h1.5v33.8h-1.5zM110 462.7h1.5v1.5h-1.5zM110 464.9h1.5v2.1h-1.5zM110 467.5h1.5v1.7h-1.5zM110 470.1h1.5v13h-1.5zM111 482.4h1.5v33.8h-1.5zM111 452.9h1.5v1.5h-1.5zM111 455.8h1.5v1.5h-1.5zM111 461.8h1.5v2.6h-1.5zM111 465.7h1.5v1.5h-1.5zM111 468.7h1.5v14.3h-1.5zM112 482.4h1.5v33.8h-1.5zM112 467.5h1.5v1.5h-1.5zM112 470.1h1.5v5.4h-1.5zM112 475.8h1.5v7.1h-1.5zM113 482.4h1.5v33.8h-1.5zM113 446.4h1.5v3.5h-1.5zM113 450.3h1.5v1.5h-1.5zM113 452h1.5v1.5h-1.5zM113 454.3h1.5v3h-1.5zM113 458.8h1.5v1.5h-1.5zM113 461.3h1.5v1.5h-1.5zM113 463.1h1.5v1.5h-1.5zM113 465.5h1.5v3h-1.5zM113 471.8h1.5v3.1h-1.5zM113 477.3h1.5v5.7h-1.5zM114 482.4h1.5v33.8h-1.5zM114 456.4h1.5v2.9h-1.5zM114 459.8h1.5v3.2h-1.5zM114 463.6h1.5v7.4h-1.5zM114 471.9h1.5v11h-1.5zM115 482.4h1.5v33.8h-1.5zM115 458.6h1.5v3.4h-1.5zM115 462.7h1.5v1.5h-1.5zM115 464.6h1.5v1.5h-1.5zM115 466.8h1.5v2.6h-1.5zM115 473.6h1.5v9.5h-1.5zM116 482.4h1.5v33.8h-1.5zM116 441h1.5v1.5h-1.5zM116 443.8h1.5v4.2h-1.5zM116 449.3h1.5v1.5h-1.5zM116 456.1h1.5v5.5h-1.5zM116 462h1.5v21h-1.5zM117 482.4h1.5v33.8h-1.5zM117 473h1.5v1.5h-1.5zM117 475.5h1.5v7.4h-1.5zM118 482.4h1.5v33.8h-1.5zM118 461.6h1.5v1.5h-1.5zM118 464.1h1.5v19h-1.5zM119 482.4h1.5v33.8h-1.5zM119 475.7h1.5v3.9h-1.5zM119 479.9h1.5v2.6h-1.5zM120 482.4h1.5v33.8h-1.5zM120 449.2h1.5v1.5h-1.5zM120 465.4h1.5v1.5h-1.5zM120 467.3h1.5v15.8h-1.5zM121 482.4h1.5v33.8h-1.5zM121 445.2h1.5v1.5h-1.5zM121 447.5h1.5v4.7h-1.5zM121 453.5h1.5v1.5h-1.5zM121 455.8h1.5v1.5h-1.5zM121 458.4h1.5v4.1h-1.5zM121 465.3h1.5v3h-1.5zM121 471.1h1.5v1.5h-1.5zM121 473.8h1.5v9.3h-1.5zM122 482.4h1.5v33.8h-1.5zM122 436.9h1.5v3.4h-1.5zM122 441.2h1.5v1.5h-1.5zM122 443.8h1.5v1.5h-1.5zM122 446.1h1.5v2.2h-1.5zM122 448.8h1.5v6.7h-1.5zM122 456.3h1.5v3.2h-1.5zM122 460.1h1.5v3.8h-1.5zM122 464.7h1.5v1.5h-1.5zM122 467h1.5v1.5h-1.5zM122 469.2h1.5v3.9h-1.5zM122 473.5h1.5v9.5h-1.5zM123 482.4h1.5v33.8h-1.5zM123 442h1.5v1.5h-1.5zM123 443.7h1.5v1.5h-1.5zM123 445.6h1.5v5h-1.5zM123 458.2h1.5v1.5h-1.5zM123 461.2h1.5v9.8h-1.5zM123 471.9h1.5v11.2h-1.5zM124 482.4h1.5v33.8h-1.5zM124 442.8h1.5v1.5h-1.5zM124 460.9h1.5v1.5h-1.5zM124 463.5h1.5v1.5h-1.5zM124 465.2h1.5v1.5h-1.5zM124 467.9h1.5v15h-1.5zM125 482.4h1.5v33.8h-1.5zM125 467.4h1.5v15.7h-1.5zM126 482.4h1.5v33.8h-1.5zM126 445.6h1.5v2.8h-1.5zM126 448.9h1.5v1.5h-1.5zM126 452.8h1.5v1.5h-1.5zM126 454.7h1.5v2.7h-1.5zM126 458.6h1.5v1.5h-1.5zM126 460.8h1.5v1.5h-1.5zM126 462.8h1.5v1.5h-1.5zM126 465.6h1.5v17.4h-1.5zM127 482.4h1.5v33.8h-1.5zM127 449.6h1.5v1.5h-1.5zM127 452.4h1.5v1.5h-1.5zM127 461.3h1.5v1.5h-1.5zM127 463.8h1.5v2.6h-1.5zM127 466.6h1.5v16.4h-1.5zM128 482.4h1.5v33.8h-1.5zM128 445.1h1.5v1.5h-1.5zM128 447.8h1.5v3.5h-1.5zM128 452.6h1.5v3.7h-1.5zM128 456.5h1.5v10.5h-1.5zM128 467.5h1.5v3.8h-1.5zM128 472.4h1.5v10.7h-1.5zM129 482.4h1.5v33.8h-1.5zM129 444.7h1.5v1.5h-1.5zM129 447.4h1.5v6.2h-1.5zM129 454.1h1.5v1.5h-1.5zM129 456.5h1.5v7.3h-1.5zM129 464.8h1.5v4.2h-1.5zM129 469.5h1.5v13.4h-1.5zM130 482.4h1.5v33.8h-1.5zM130 436.6h1.5v1.5h-1.5zM130 438.4h1.5v1.5h-1.5zM130 440.8h1.5v2.7h-1.5zM130 444.1h1.5v2.9h-1.5zM130 448.6h1.5v3.1h-1.5zM130 452.2h1.5v1.5h-1.5zM130 454.5h1.5v1.5h-1.5zM130 457.4h1.5v3.2h-1.5zM130 461.2h1.5v1.5h-1.5zM130 463.4h1.5v1.9h-1.5zM130 466.5h1.5v1.5h-1.5zM130 468.8h1.5v14.1h-1.5zM131 482.4h1.5v33.8h-1.5zM131 439.1h1.5v3h-1.5zM131 443h1.5v7.4h-1.5zM131 451h1.5v1.5h-1.5zM131 453.9h1.5v2.7h-1.5zM131 457.1h1.5v10.3h-1.5zM131 468h1.5v15h-1.5zM132 482.4h1.5v33.8h-1.5zM132 435.1h1.5v1.5h-1.5zM132 446.1h1.5v2.8h-1.5zM132 449.7h1.5v2.8h-1.5zM132 453.9h1.5v1.5h-1.5zM132 455.9h1.5v1.5h-1.5zM132 458.1h1.5v1.5h-1.5zM132 460.1h1.5v1.5h-1.5zM132 461.8h1.5v4.1h-1.5zM132 467.1h1.5v1.5h-1.5zM132 473h1.5v1.5h-1.5zM132 474.8h1.5v1.5h-1.5zM132 476.5h1.5v6.6h-1.5zM133 482.4h1.5v33.8h-1.5zM133 442.7h1.5v1.5h-1.5zM133 464.1h1.5v1.5h-1.5zM133 466.7h1.5v16.5h-1.5zM134 482.4h1.5v33.8h-1.5zM134 457.9h1.5v1.5h-1.5zM134 466.9h1.5v1.5h-1.5zM134 470.7h1.5v12.4h-1.5zM135 482.4h1.5v33.8h-1.5zM135 442.7h1.5v4h-1.5zM135 447.1h1.5v1.5h-1.5zM135 450h1.5v3.2h-1.5zM135 467.1h1.5v1.5h-1.5zM135 469.5h1.5v1.5h-1.5zM135 471.7h1.5v11.4h-1.5zM136 482.4h1.5v33.8h-1.5zM136 439.4h1.5v1.5h-1.5zM136 441.7h1.5v3h-1.5zM136 445.9h1.5v1.5h-1.5zM136 461.4h1.5v1.5h-1.5zM136 464.1h1.5v2.7h-1.5zM136 472.4h1.5v1.5h-1.5zM136 474.9h1.5v1.5h-1.5zM136 476.8h1.5v6.3h-1.5zM137 482.4h1v33.8h-1zM137 437.1h1v2.8h-1zM137 440.3h1v1.5h-1zM137 442.6h1v3.6h-1zM137 454.6h1v2.2h-1zM137 470.6h1v5h-1zM137 475.8h1v7.2h-1zM112.7 440.4h1.5v1.5h-1.5zM125.3 439.9h1.4v1.5h-1.4zM125.3 446.9h1.4v1.5h-1.4zM125.3 450.1h1.4v1.5h-1.4zM125.3 460.9h1.4v1.5h-1.4zM380.5 489.4h1.5v26.8h-1.5zM380.5 476.1h1.5v2.3h-1.5zM380.5 478.9h1.5v11h-1.5zM381.5 489.4h1.5v26.8h-1.5zM381.5 460.3h1.5v9.9h-1.5zM381.5 470.8h1.5v1.5h-1.5zM381.5 472.7h1.5v3.3h-1.5zM381.5 476.6h1.5v13.5h-1.5zM382.5 489.4h1.5v26.8h-1.5zM382.5 444.4h1.5v3.1h-1.5zM382.5 448.6h1.5v2h-1.5zM382.5 454.1h1.5v1.5h-1.5zM382.5 467.9h1.5v3.1h-1.5zM382.5 473.1h1.5v1.5h-1.5zM382.5 476.7h1.5v4.3h-1.5zM382.5 481.5h1.5v8.2h-1.5zM383.5 489.4h1.5v26.8h-1.5zM383.5 446.6h1.5v1.5h-1.5zM383.5 448.5h1.5v2.8h-1.5zM383.5 452h1.5v1.5h-1.5zM383.5 454.3h1.5v6.6h-1.5zM383.5 461.4h1.5v1.5h-1.5zM383.5 463.2h1.5v1.5h-1.5zM383.5 465h1.5v1.5h-1.5zM383.5 467h1.5v1.5h-1.5zM383.5 469.9h1.5v20.1h-1.5zM384.5 489.4h1.5v26.8h-1.5zM384.5 455.8h1.5v1.5h-1.5zM384.5 457.7h1.5v1.5h-1.5zM384.5 459.6h1.5v1.5h-1.5zM384.5 461.8h1.5v1.5h-1.5zM384.5 464.1h1.5v3.6h-1.5zM384.5 468.1h1.5v1.5h-1.5zM384.5 473.3h1.5v1.5h-1.5zM384.5 480.7h1.5v9.4h-1.5zM385.5 489.4h1.5v26.8h-1.5zM385.5 471.2h1.5v1.5h-1.5zM385.5 475.4h1.5v14.7h-1.5zM386.5 489.4h1.5v26.8h-1.5zM386.5 445.7h1.5v1.5h-1.5zM386.5 448.6h1.5v1.5h-1.5zM386.5 475.3h1.5v1.5h-1.5zM386.5 477.7h1.5v5.6h-1.5zM386.5 483.8h1.5v6.3h-1.5zM387.5 489.4h1.5v26.8h-1.5zM387.5 452.8h1.5v1.5h-1.5zM387.5 455.6h1.5v1.5h-1.5zM387.5 458.3h1.5v1.5h-1.5zM387.5 460.1h1.5v1.5h-1.5zM387.5 462.6h1.5v1.5h-1.5zM387.5 474.3h1.5v1.5h-1.5zM387.5 476.3h1.5v1.5h-1.5zM387.5 478h1.5v12h-1.5zM388.5 489.4h1.5v26.8h-1.5zM388.5 443.8h1.5v2.6h-1.5zM388.5 447.4h1.5v1.5h-1.5zM388.5 449.8h1.5v1.5h-1.5zM388.5 454.6h1.5v1.8h-1.5zM388.5 457.3h1.5v1.5h-1.5zM388.5 459.2h1.5v1.5h-1.5zM388.5 461.7h1.5v2.9h-1.5zM388.5 465.9h1.5v1.5h-1.5zM388.5 468.6h1.5v1.5h-1.5zM388.5 471.4h1.5v1.5h-1.5zM388.5 474h1.5v1.5h-1.5zM388.5 476h1.5v14.1h-1.5zM389.5 489.4h1.5v26.8h-1.5zM389.5 467.5h1.5v4.5h-1.5zM389.5 472.4h1.5v17.6h-1.5zM390.5 489.4h1.5v26.8h-1.5zM390.5 448.9h1.5v1.5h-1.5zM390.5 463.4h1.5v1.5h-1.5zM390.5 465.2h1.5v1.5h-1.5zM390.5 467.1h1.5v1.5h-1.5zM390.5 470.1h1.5v4.3h-1.5zM390.5 481.7h1.5v8.2h-1.5zM391.5 489.4h1.5v26.8h-1.5zM391.5 450h1.5v1.5h-1.5zM391.5 452.6h1.5v1.5h-1.5zM391.5 455.1h1.5v4.7h-1.5zM391.5 460.4h1.5v3.6h-1.5zM391.5 464.5h1.5v1.5h-1.5zM391.5 466.7h1.5v1.5h-1.5zM391.5 468.6h1.5v1.5h-1.5zM391.5 470.3h1.5v1.5h-1.5zM391.5 475.1h1.5v5.3h-1.5zM391.5 480.8h1.5v9.3h-1.5zM392.5 489.4h1.5v26.8h-1.5zM392.5 449.3h1.5v1.5h-1.5zM392.5 451.1h1.5v1.5h-1.5zM392.5 454.1h1.5v1.5h-1.5zM392.5 456.6h1.5v2.6h-1.5zM392.5 459.8h1.5v1.5h-1.5zM392.5 462.5h1.5v1.5h-1.5zM392.5 464.9h1.5v1.5h-1.5zM392.5 467.5h1.5v1.7h-1.5zM392.5 469.8h1.5v5.4h-1.5zM392.5 476.1h1.5v2.8h-1.5zM392.5 479.9h1.5v9.9h-1.5zM393.5 489.4h1.5v26.8h-1.5zM393.5 448.8h1.5v3h-1.5zM393.5 452.3h1.5v1.6h-1.5zM393.5 454.4h1.5v22.4h-1.5zM393.5 477.5h1.5v12.4h-1.5zM394.5 489.4h1.5v26.8h-1.5zM394.5 448.9h1.5v1.5h-1.5zM394.5 451h1.5v1.5h-1.5zM394.5 454h1.5v5.9h-1.5zM394.5 465.3h1.5v1.5h-1.5zM394.5 468h1.5v1.5h-1.5zM394.5 469.9h1.5v3.1h-1.5zM394.5 473.5h1.5v1.5h-1.5zM394.5 475.5h1.5v14.5h-1.5zM395.5 489.4h1.5v26.8h-1.5zM395.5 461.6h1.5v2.8h-1.5zM395.5 465.2h1.5v2.9h-1.5zM395.5 468.6h1.5v2.5h-1.5zM395.5 472.2h1.5v1.9h-1.5zM395.5 475.2h1.5v1.5h-1.5zM395.5 477.5h1.5v1.5h-1.5zM395.5 480.5h1.5v9.6h-1.5zM396.5 489.4h1v26.8h-1zM396.5 462.2h1v1.5h-1zM396.5 464.3h1v1.5h-1zM396.5 466.8h1v1.5h-1zM396.5 469.1h1v3.1h-1zM396.5 473.3h1v16.8h-1zM390.3 412.9h1.4v1.5h-1.4zM390.3 423.5h1.4v1.5h-1.4zM390.3 431.6h1.4v1.5h-1.4zM390.3 435.1h1.4v1.5h-1.4zM390.3 438.8h1.4v1.5h-1.4zM390.3 446.7h1.4v1.5h-1.4zM390.3 453h1.4v1.5h-1.4zM390.3 464.4h1.4v1.5h-1.4zM390.3 468.1h1.4v1.5h-1.4zM390.3 473.1h1.4v1.5h-1.4zM387.3 427.3h1.4v1.5h-1.4zM387.3 436.4h1.4v1.5h-1.4zM387.3 442.7h1.4v1.5h-1.4zM387.3 446.6h1.4v1.5h-1.4zM387.3 469.6h1.4v1.5h-1.4zM387.3 475.7h1.4v1.5h-1.4z"/>
<path fill="#000000" d="M139 486.9h1.5v29.3h-1.5zM139 450.6h1.5v5h-1.5zM139 456.4h1.5v1.5h-1.5zM139 458.6h1.5v1.5h-1.5zM139 461.3h1.5v16.6h-1.5zM139 478.3h1.5v4.8h-1.5zM139 483.3h1.5v4.2h-1.5zM140 486.9h1.5v29.3h-1.5zM140 457.9h1.5v1.5h-1.5zM140 460.7h1.5v7.2h-1.5zM140 468.8h1.5v2.6h-1.5zM140 471.8h1.5v15.6h-1.5zM141 486.9h1.5v29.3h-1.5zM141 458.7h1.5v1.7h-1.5zM141 460.7h1.5v1.5h-1.5zM141 462.8h1.5v1.5h-1.5zM141 465h1.5v1.5h-1.5zM141 469.5h1.5v1.5h-1.5zM141 471.6h1.5v1.5h-1.5zM141 473.5h1.5v13.9h-1.5zM142 486.9h1.5v29.3h-1.5zM142 471.3h1.5v1.5h-1.5zM142 473.1h1.5v14h-1.5zM143 486.9h1.5v29.3h-1.5zM143 464.3h1.5v1.5h-1.5zM143 466.5h1.5v1.5h-1.5zM143 469.8h1.5v7.3h-1.5zM143 477.4h1.5v1.5h-1.5zM143 480h1.5v7.5h-1.5zM144 486.9h1.5v29.3h-1.5zM144 460.7h1.5v2.2h-1.5zM144 463.3h1.5v2.2h-1.5zM144 466.2h1.5v1.5h-1.5zM144 468h1.5v5.8h-1.5zM144 474.2h1.5v3.2h-1.5zM144 478.7h1.5v1.5h-1.5zM144 480.9h1.5v6.6h-1.5zM145 486.9h1.5v29.3h-1.5zM145 458.9h1.5v1.5h-1.5zM145 461.1h1.5v1.5h-1.5zM145 462.9h1.5v6h-1.5zM145 469.2h1.5v3.3h-1.5zM145 475.6h1.5v1.5h-1.5zM145 477.4h1.5v10.1h-1.5zM146 486.9h1.5v29.3h-1.5zM146 456.3h1.5v4.2h-1.5zM146 461h1.5v1.5h-1.5zM146 463.3h1.5v1.5h-1.5zM146 465h1.5v1.5h-1.5zM146 466.8h1.5v8h-1.5zM146 475.3h1.5v1.5h-1.5zM146 478.3h1.5v1.5h-1.5zM146 480.2h1.5v2.7h-1.5zM146 484.2h1.5v3h-1.5zM147 486.9h1.5v29.3h-1.5zM147 455.3h1.5v1.5h-1.5zM147 457.9h1.5v1.5h-1.5zM147 460.2h1.5v5.9h-1.5zM147 467.4h1.5v6.3h-1.5zM147 474.2h1.5v2.4h-1.5zM147 476.9h1.5v10.7h-1.5zM148 486.9h1.5v29.3h-1.5zM148 454.9h1.5v1.5h-1.5zM148 467.9h1.5v1.5h-1.5zM148 471.6h1.5v1.5h-1.5zM148 473.7h1.5v1.5h-1.5zM148 476.2h1.5v2.1h-1.5zM148 478.5h1.5v1.5h-1.5zM148 480.7h1.5v6.5h-1.5zM149 486.9h1.5v29.3h-1.5zM149 453.1h1.5v1.5h-1.5zM149 455.7h1.5v1.5h-1.5zM149 458.6h1.5v1.5h-1.5zM149 461.6h1.5v2.6h-1.5zM149 465.4h1.5v16.7h-1.5zM149 482.4h1.5v4h-1.5zM150 486.9h1.5v29.3h-1.5zM150 466.5h1.5v4.1h-1.5zM150 472h1.5v4.9h-1.5zM150 479h1.5v8.3h-1.5zM151 486.9h1.5v29.3h-1.5zM151 455.8h1.5v1.7h-1.5zM151 457.9h1.5v8.9h-1.5zM151 467.1h1.5v1.7h-1.5zM151 469.4h1.5v1.5h-1.5zM151 471.4h1.5v1.5h-1.5zM151 473.9h1.5v1.5h-1.5zM151 478.4h1.5v9.2h-1.5zM152 486.9h1.5v29.3h-1.5zM152 456.8h1.5v1.5h-1.5zM152 459.1h1.5v1.5h-1.5zM152 463.5h1.5v1.5h-1.5zM152 466h1.5v10h-1.5zM152 476.5h1.5v11h-1.5zM153 486.9h1.5v29.3h-1.5zM153 451.7h1.5v1.5h-1.5zM153 453.4h1.5v1.5h-1.5zM153 455.5h1.5v1.5h-1.5zM153 457.8h1.5v1.5h-1.5zM153 469.7h1.5v1.5h-1.5zM153 472.1h1.5v15.5h-1.5zM154 486.9h1.5v29.3h-1.5zM154 445.2h1.5v1.5h-1.5zM154 447.8h1.5v3.2h-1.5zM154 451.3h1.5v1.5h-1.5zM154 453.4h1.5v1.5h-1.5zM154 455.4h1.5v1.5h-1.5zM154 458.3h1.5v1.5h-1.5zM154 460.7h1.5v1.5h-1.5zM154 462.9h1.5v1.5h-1.5zM154 465.6h1.5v2.7h-1.5zM154 479.8h1.5v7.9h-1.5zM155 486.9h1.5v29.3h-1.5zM155 456.4h1.5v1.5h-1.5zM155 467.4h1.5v3h-1.5zM155 471.1h1.5v16.5h-1.5zM156 486.9h1.5v29.3h-1.5zM156 456.3h1.5v3h-1.5zM156 468.5h1.5v1.5h-1.5zM156 481.7h1.5v5.7h-1.5zM157 486.9h1.5v29.3h-1.5zM157 453.9h1.5v1.5h-1.5zM157 456.5h1.5v3h-1.5zM157 465.3h1.5v3.3h-1.5zM157 468.9h1.5v18.7h-1.5zM158 486.9h1.5v29.3h-1.5zM158 450.2h1.5v1.5h-1.5zM158 452.4h1.5v2.2h-1.5zM158 454.9h1.5v4h-1.5zM158 459.7h1.5v1.6h-1.5zM158 462.1h1.5v1.5h-1.5zM158 464.1h1.5v1.5h-1.5zM158 466.4h1.5v3h-1.5zM158 470.3h1.5v1.5h-1.5zM158 474.8h1.5v1.5h-1.5zM158 476.7h1.5v10.9h-1.5zM159 486.9h1.5v29.3h-1.5zM159 441.2h1.5v1.5h-1.5zM159 443.2h1.5v3.2h-1.5zM159 447.8h1.5v2.9h-1.5zM159 451.3h1.5v1.5h-1.5zM159 453.8h1.5v2.9h-1.5zM159 461.3h1.5v5.6h-1.5zM159 467.6h1.5v20h-1.5zM160 486.9h1.5v29.3h-1.5zM160 456.5h1.5v1.5h-1.5zM160 458.9h1.5v11.3h-1.5zM160 470.9h1.5v16.7h-1.5zM161 486.9h1.5v29.3h-1.5zM161 449.8h1.5v1.5h-1.5zM161 451.6h1.5v1.5h-1.5zM161 457.6h1.5v1.5h-1.5zM161 471.8h1.5v2h-1.5zM161 474.2h1.5v13.4h-1.5zM162 486.9h1.5v29.3h-1.5zM162 446.3h1.5v1.5h-1.5zM162 448.6h1.5v1.5h-1.5zM162 451h1.5v2.7h-1.5zM162 466.9h1.5v1.5h-1.5zM162 469.1h1.5v1.5h-1.5zM162 471.6h1.5v15.9h-1.5zM163 486.9h1.5v29.3h-1.5zM163 465.1h1.5v7.7h-1.5zM163 473.2h1.5v7.8h-1.5zM163 481.3h1.5v3.7h-1.5zM163 485.6h1.5v1.5h-1.5zM164 486.9h1.5v29.3h-1.5zM164 467.5h1.5v2h-1.5zM164 470.6h1.5v1.5h-1.5zM164 473.3h1.5v2.8h-1.5zM164 476.5h1.5v11h-1.5zM165 486.9h1.5v29.3h-1.5zM165 441.2h1.5v1.5h-1.5zM165 443.5h1.5v4.3h-1.5zM165 449.1h1.5v2.7h-1.5zM165 462.5h1.5v1.5h-1.5zM165 474.7h1.5v1.5h-1.5zM165 476.7h1.5v10.3h-1.5zM166 486.9h1.5v29.3h-1.5zM166 462.2h1.5v1.5h-1.5zM166 471.9h1.5v1.5h-1.5zM166 477.4h1.5v1.5h-1.5zM166 481.6h1.5v6h-1.5zM167 486.9h1.5v29.3h-1.5zM167 447h1.5v1.5h-1.5zM167 449h1.5v1.5h-1.5zM167 452h1.5v1.5h-1.5zM167 454h1.5v1.5h-1.5zM167 456.4h1.5v1.5h-1.5zM167 475.9h1.5v1.5h-1.5zM167 477.6h1.5v1.5h-1.5zM167 479.4h1.5v1.5h-1.5zM167 481.2h1.5v6.2h-1.5zM168 486.9h1.5v29.3h-1.5zM168 448.7h1.5v1.5h-1.5zM168 451.6h1.5v1.5h-1.5zM168 454.1h1.5v1.5h-1.5zM168 456.1h1.5v2.1h-1.5zM168 458.7h1.5v3.7h-1.5zM168 462.6h1.5v8.7h-1.5zM168 471.8h1.5v1.5h-1.5zM168 474h1.5v1.5h-1.5zM168 476h1.5v11.4h-1.5zM169 486.9h1.5v29.3h-1.5zM169 446.3h1.5v1.5h-1.5zM169 449.2h1.5v1.5h-1.5zM169 460.3h1.5v3.3h-1.5zM169 464.2h1.5v1.5h-1.5zM169 474.9h1.5v12.7h-1.5zM170 486.9h1.5v29.3h-1.5zM170 442.8h1.5v2.8h-1.5zM170 446h1.5v1.5h-1.5zM170 447.8h1.5v3h-1.5zM170 451h1.5v5.8h-1.5zM170 461.6h1.5v2.7h-1.5zM170 465.1h1.5v2.2h-1.5zM170 467.9h1.5v1.5h-1.5zM170 470.3h1.5v17.2h-1.5zM171 486.9h1v29.3h-1zM171 445.4h1v2.7h-1zM171 456h1v1.5h-1zM171 457.8h1v1.5h-1zM171 460h1v1.5h-1zM171 461.7h1v1.5h-1zM171 464.6h1v4.2h-1zM171 478.1h1v9.4h-1zM142.9 439.7h1.5v1.5h-1.5zM156.8 424.2h1.4v1.5h-1.4zM156.8 432.6h1.4v1.5h-1.4zM156.8 444.7h1.4v1.5h-1.4zM156.8 446.6h1.4v1.5h-1.4zM156.8 451.2h1.4v1.5h-1.4zM156.8 454h1.4v1.5h-1.4zM156.8 456.1h1.4v1.5h-1.4zM156.8 461.1h1.4v1.5h-1.4zM140.3 421.9h1.4v1.5h-1.4zM140.3 440.6h1.4v1.5h-1.4zM140.3 442.9h1.4v1.5h-1.4zM140.3 448.9h1.4v1.5h-1.4zM140.3 451.6h1.4v1.5h-1.4zM140.3 455.2h1.4v1.5h-1.4zM140.3 469.2h1.4v1.5h-1.4zM140.3 472.9h1.4v1.5h-1.4zM140.3 474.9h1.4v1.5h-1.4zM164.3 425.5h1.4v1.5h-1.4zM164.3 432.7h1.4v1.5h-1.4zM164.3 436.9h1.4v1.5h-1.4zM164.3 439.5h1.4v1.5h-1.4zM164.3 448.2h1.4v1.5h-1.4zM164.3 454.1h1.4v1.5h-1.4zM164.3 456.3h1.4v1.5h-1.4zM164.3 462h1.4v1.5h-1.4zM164.3 466.3h1.4v1.5h-1.4zM164.3 471.2h1.4v1.5h-1.4zM398.8 490.8h1.5v25.4h-1.5zM398.8 461.2h1.5v1.5h-1.5zM398.8 464.1h1.5v2.7h-1.5zM398.8 468.1h1.5v3.2h-1.5zM398.8 472.6h1.5v1.5h-1.5zM398.8 475.6h1.5v2h-1.5zM398.8 478h1.5v13.5h-1.5zM399.8 490.8h1.5v25.4h-1.5zM399.8 462.8h1.5v2.8h-1.5zM399.8 466.4h1.5v1.5h-1.5zM399.8 468.6h1.5v1.5h-1.5zM399.8 471.5h1.5v1.5h-1.5zM399.8 474.5h1.5v6.2h-1.5zM399.8 481h1.5v9.9h-1.5zM400.8 490.8h1.5v25.4h-1.5zM400.8 452.8h1.5v1.5h-1.5zM400.8 455.7h1.5v1.5h-1.5zM400.8 457.9h1.5v1.5h-1.5zM400.8 460.2h1.5v1.5h-1.5zM400.8 470.3h1.5v1.5h-1.5zM400.8 481.4h1.5v10.1h-1.5zM401.8 490.8h1.5v25.4h-1.5zM401.8 453.9h1.5v3.8h-1.5zM401.8 458.5h1.5v2.7h-1.5zM401.8 461.9h1.5v1.5h-1.5zM401.8 467.1h1.5v1.6h-1.5zM401.8 469.9h1.5v3.1h-1.5zM401.8 476.5h1.5v1.5h-1.5zM401.8 478.7h1.5v12.5h-1.5zM402.8 490.8h1.5v25.4h-1.5zM402.8 449.2h1.5v1.5h-1.5zM402.8 452h1.5v2.6h-1.5zM402.8 456h1.5v1.5h-1.5zM402.8 458.8h1.5v1.5h-1.5zM402.8 461.1h1.5v1.5h-1.5zM402.8 467.8h1.5v4.6h-1.5zM402.8 472.7h1.5v4.5h-1.5zM402.8 478.3h1.5v1.6h-1.5zM402.8 480.2h1.5v11.3h-1.5zM403.8 490.8h1.5v25.4h-1.5zM403.8 446.5h1.5v1.5h-1.5zM403.8 448.9h1.5v1.5h-1.5zM403.8 451.7h1.5v1.5h-1.5zM403.8 453.5h1.5v1.5h-1.5zM403.8 456.5h1.5v2.8h-1.5zM403.8 460.5h1.5v2.9h-1.5zM403.8 468.3h1.5v1.5h-1.5zM403.8 479.6h1.5v12h-1.5zM404.8 490.8h1.5v25.4h-1.5zM404.8 467.9h1.5v2.6h-1.5zM404.8 471.4h1.5v1.5h-1.5zM404.8 474.3h1.5v3.3h-1.5zM404.8 478.6h1.5v12.8h-1.5zM405.8 490.8h1.5v25.4h-1.5zM405.8 463.8h1.5v1.5h-1.5zM405.8 466.7h1.5v4.4h-1.5zM405.8 472.1h1.5v3.9h-1.5zM405.8 476.4h1.5v4.9h-1.5zM405.8 482.1h1.5v9.4h-1.5zM406.8 490.8h1.5v25.4h-1.5zM406.8 476.9h1.5v14.5h-1.5zM407.8 490.8h1.5v25.4h-1.5zM407.8 480.8h1.5v10.5h-1.5zM408.8 490.8h1.5v25.4h-1.5zM408.8 457.1h1.5v3.1h-1.5zM408.8 461.5h1.5v1.5h-1.5zM408.8 463.7h1.5v1.5h-1.5zM408.8 466.7h1.5v1.5h-1.5zM408.8 468.7h1.5v1.5h-1.5zM408.8 471.2h1.5v1.5h-1.5zM408.8 473.4h1.5v17.9h-1.5zM409.8 490.8h1.5v25.4h-1.5zM409.8 454.8h1.5v1.5h-1.5zM409.8 458.4h1.5v1.5h-1.5zM409.8 463.8h1.5v1.5h-1.5zM409.8 466.8h1.5v7.2h-1.5zM409.8 474.8h1.5v1.5h-1.5zM409.8 477.7h1.5v1.5h-1.5zM409.8 479.7h1.5v2.8h-1.5zM409.8 482.9h1.5v8.5h-1.5zM410.8 490.8h1.5v25.4h-1.5zM410.8 452h1.5v3.2h-1.5zM410.8 456.4h1.5v2.9h-1.5zM410.8 459.9h1.5v1.5h-1.5zM410.8 462.9h1.5v10.2h-1.5zM410.8 473.5h1.5v3.8h-1.5zM410.8 477.9h1.5v13.3h-1.5zM411.8 490.8h1.5v25.4h-1.5zM411.8 464.5h1.5v1.5h-1.5zM411.8 467.2h1.5v2.9h-1.5zM411.8 470.8h1.5v1.5h-1.5zM411.8 473h1.5v1.5h-1.5zM411.8 475.4h1.5v4.4h-1.5zM411.8 480h1.5v11.3h-1.5zM412.8 490.8h0.5v25.4h-0.5zM412.8 447.5h0.5v11.8h-0.5zM412.8 460.2h0.5v1.5h-0.5zM412.8 463.1h0.5v1.5h-0.5zM412.8 465.4h0.5v1.5h-0.5zM412.8 467.7h0.5v1.5h-0.5zM412.8 470.6h0.5v5.3h-0.5zM412.8 477.2h0.5v13.8h-0.5zM399.3 434.5h1.4v1.5h-1.4zM399.3 452h1.4v1.5h-1.4zM399.3 459.2h1.4v1.5h-1.4zM399.3 463.6h1.4v1.5h-1.4zM399.3 467.4h1.4v1.5h-1.4zM399.3 471.6h1.4v1.5h-1.4zM399.3 477.3h1.4v1.5h-1.4zM406.3 439.9h1.4v1.5h-1.4zM406.3 447.7h1.4v1.5h-1.4zM406.3 451.5h1.4v1.5h-1.4zM406.3 460h1.4v1.5h-1.4zM406.3 465.7h1.4v1.5h-1.4z"/>
<path fill="#e8a225" d="M173 477.9h1.5v38.3h-1.5zM173 450h1.5v1.5h-1.5zM173 452.5h1.5v4.5h-1.5zM173 458h1.5v3.1h-1.5zM173 465.7h1.5v12.8h-1.5zM174 477.9h1.5v38.3h-1.5zM174 434.7h1.5v1.5h-1.5zM174 437.4h1.5v1.5h-1.5zM174 439.7h1.5v4.5h-1.5zM174 445.5h1.5v1.5h-1.5zM174 447.8h1.5v1.5h-1.5zM174 450h1.5v1.5h-1.5zM174 452.6h1.5v2.7h-1.5zM174 455.9h1.5v2.8h-1.5zM174 459.2h1.5v2.8h-1.5zM174 462.3h1.5v16.3h-1.5zM175 477.9h1.5v38.3h-1.5zM175 437.5h1.5v1.5h-1.5zM175 439.8h1.5v1.5h-1.5zM175 442.6h1.5v1.5h-1.5zM175 444.7h1.5v1.5h-1.5zM175 446.6h1.5v1.5h-1.5zM175 449.2h1.5v1.5h-1.5zM175 452h1.5v1.5h-1.5zM175 454.4h1.5v1.5h-1.5zM175 456.1h1.5v4.9h-1.5zM175 461.6h1.5v1.5h-1.5zM175 463.9h1.5v14.7h-1.5zM176 477.9h1.5v38.3h-1.5zM176 444.4h1.5v3.9h-1.5zM176 449.7h1.5v3.3h-1.5zM176 454.2h1.5v1.5h-1.5zM176 456.5h1.5v7.8h-1.5zM176 464.5h1.5v4h-1.5zM176 468.7h1.5v9.8h-1.5zM177 477.9h1.5v38.3h-1.5zM177 433.1h1.5v1.5h-1.5zM177 438.2h1.5v5.1h-1.5zM177 444.4h1.5v1.9h-1.5zM177 447.7h1.5v1.5h-1.5zM177 449.5h1.5v1.5h-1.5zM177 452.1h1.5v5.9h-1.5zM177 458.5h1.5v1.5h-1.5zM177 460.3h1.5v1.5h-1.5zM177 462.8h1.5v1.5h-1.5zM177 469.3h1.5v9.3h-1.5zM178 477.9h1.5v38.3h-1.5zM178 458h1.5v3h-1.5zM178 461.9h1.5v1.5h-1.5zM178 463.9h1.5v14.6h-1.5zM179 477.9h1.5v38.3h-1.5zM179 449.6h1.5v1.5h-1.5zM179 451.7h1.5v3.3h-1.5zM179 455.5h1.5v2.7h-1.5zM179 466.2h1.5v12.3h-1.5zM180 477.9h1.5v38.3h-1.5zM180 446.6h1.5v3.2h-1.5zM180 450.2h1.5v1.5h-1.5zM180 452.4h1.5v1.5h-1.5zM180 462.1h1.5v1.5h-1.5zM180 463.8h1.5v14.5h-1.5zM181 477.9h1.5v38.3h-1.5zM181 448.4h1.5v2.9h-1.5zM181 459.3h1.5v1.5h-1.5zM181 461.3h1.5v1.5h-1.5zM181 463.3h1.5v15.3h-1.5zM182 477.9h1.5v38.3h-1.5zM182 448.8h1.5v1.5h-1.5zM182 451.5h1.5v1.5h-1.5zM182 454.5h1.5v1.5h-1.5zM182 457.1h1.5v7.1h-1.5zM182 464.8h1.5v1.5h-1.5zM182 467.5h1.5v10.9h-1.5zM183 477.9h1.5v38.3h-1.5zM183 440.7h1.5v1.5h-1.5zM183 447.1h1.5v1.5h-1.5zM183 449.5h1.5v1.5h-1.5zM183 451.7h1.5v1.5h-1.5zM183 454.5h1.5v1.5h-1.5zM183 456.2h1.5v14.5h-1.5zM183 471.2h1.5v7h-1.5zM184 477.9h1.5v38.3h-1.5zM184 456.4h1.5v2.9h-1.5zM184 460.9h1.5v3.1h-1.5zM184 464.5h1.5v14h-1.5zM185 477.9h1.5v38.3h-1.5zM185 452.5h1.5v1.5h-1.5zM185 454.3h1.5v4h-1.5zM185 458.5h1.5v1.5h-1.5zM185 461.8h1.5v1.5h-1.5zM185 464.6h1.5v1.5h-1.5zM185 466.5h1.5v11.7h-1.5zM186 477.9h1.5v38.3h-1.5zM186 440.5h1.5v1.5h-1.5zM186 442.8h1.5v1.5h-1.5zM186 462.4h1.5v1.5h-1.5zM186 465.4h1.5v13.2h-1.5zM187 477.9h1.5v38.3h-1.5zM187 454.3h1.5v1.5h-1.5zM187 456.6h1.5v1.5h-1.5zM187 458.5h1.5v1.5h-1.5zM187 460.8h1.5v1.5h-1.5zM187 463.5h1.5v2.9h-1.5zM187 468.9h1.5v1.5h-1.5zM187 470.8h1.5v7.5h-1.5zM188 477.9h1.5v38.3h-1.5zM188 468.3h1.5v10.2h-1.5zM189 477.9h1.5v38.3h-1.5zM189 443.6h1.5v3.1h-1.5zM189 448.1h1.5v1.5h-1.5zM189 462h1.5v1.8h-1.5zM189 464.3h1.5v14.2h-1.5zM190 477.9h1.5v38.3h-1.5zM190 457.7h1.5v1.5h-1.5zM190 460.3h1.5v18.3h-1.5zM191 477.9h1.5v38.3h-1.5zM191 437.3h1.5v2.7h-1.5zM191 440.8h1.5v1.5h-1.5zM191 448.9h1.5v4.7h-1.5zM191 454h1.5v2.3h-1.5zM191 456.5h1.5v2.6h-1.5zM191 460.1h1.5v1.5h-1.5zM191 462.4h1.5v3.1h-1.5zM191 466h1.5v12.5h-1.5zM192 477.9h1.5v38.3h-1.5zM192 451.9h1.5v2.8h-1.5zM192 455.6h1.5v1.7h-1.5zM192 458.2h1.5v20.4h-1.5zM193 477.9h1.5v38.3h-1.5zM193 431.4h1.5v1.5h-1.5zM193 457.4h1.5v1.5h-1.5zM193 460h1.5v18.4h-1.5zM194 477.9h1.5v38.3h-1.5zM194 431.5h1.5v1.5h-1.5zM194 442.8h1.5v1.5h-1.5zM194 445.5h1.5v1.5h-1.5zM194 447.2h1.5v2.9h-1.5zM194 450.9h1.5v2.7h-1.5zM194 457.3h1.5v1.5h-1.5zM194 460.2h1.5v5.5h-1.5zM194 466.1h1.5v12.5h-1.5zM195 477.9h1.5v38.3h-1.5zM195 452.4h1.5v1.6h-1.5zM195 454.4h1.5v2.1h-1.5zM195 461.6h1.5v3.3h-1.5zM195 466.2h1.5v1.8h-1.5zM195 468.6h1.5v9.9h-1.5zM196 477.9h1.5v38.3h-1.5zM196 460.1h1.5v1.5h-1.5zM196 461.9h1.5v2.8h-1.5zM196 466h1.5v2.7h-1.5zM196 469.7h1.5v8.7h-1.5zM197 477.9h1.5v38.3h-1.5zM197 431.6h1.5v1.5h-1.5zM197 433.4h1.5v1.5h-1.5zM197 450.6h1.5v1.5h-1.5zM197 453h1.5v1.5h-1.5zM197 464.8h1.5v1.5h-1.5zM197 467.2h1.5v11.4h-1.5zM198 477.9h1.5v38.3h-1.5zM198 432.1h1.5v2.7h-1.5zM198 436.2h1.5v1.5h-1.5zM198 438.3h1.5v1.5h-1.5zM198 447.8h1.5v2.8h-1.5zM198 450.9h1.5v1.5h-1.5zM198 452.7h1.5v1.5h-1.5zM198 458.3h1.5v1.5h-1.5zM198 460.3h1.5v1.5h-1.5zM198 463h1.5v1.5h-1.5zM198 465h1.5v13.6h-1.5zM199 477.9h1.5v38.3h-1.5zM199 431h1.5v1.5h-1.5zM199 433.5h1.5v1.5h-1.5zM199 436h1.5v2.9h-1.5zM199 440h1.5v16.7h-1.5zM199 457.1h1.5v2.9h-1.5zM199 461.5h1.5v2.9h-1.5zM199 466.4h1.5v12.2h-1.5zM200 477.9h1.5v38.3h-1.5zM200 448h1.5v4h-1.5zM200 452.7h1.5v1.5h-1.5zM200 462.5h1.5v3.6h-1.5zM200 466.8h1.5v11.8h-1.5zM201 477.9h1.5v38.3h-1.5zM201 439.9h1.5v1.5h-1.5zM201 442.2h1.5v4.5h-1.5zM201 447.9h1.5v1.5h-1.5zM201 459.1h1.5v1.5h-1.5zM201 461.4h1.5v3.1h-1.5zM201 465.1h1.5v13.5h-1.5zM202 477.9h0.5v38.3h-0.5zM202 448.1h0.5v1.5h-0.5zM202 450h0.5v3.1h-0.5zM202 454.1h0.5v1.5h-0.5zM202 456.2h0.5v1.5h-0.5zM202 458.7h0.5v1.5h-0.5zM202 466.4h0.5v2.7h-0.5zM202 469.5h0.5v9.1h-0.5zM174.7 438.3h1.5v1.5h-1.5zM179.3 427.3h1.4v1.5h-1.4zM179.3 434.4h1.4v1.5h-1.4zM179.3 437.7h1.4v1.5h-1.4zM179.3 441.9h1.4v1.5h-1.4zM179.3 456.9h1.4v1.5h-1.4zM415 476.1h1.5v40.1h-1.5zM415 453.3h1.5v1.5h-1.5zM415 455.7h1.5v10.2h-1.5zM415 466.2h1.5v10.6h-1.5zM416 476.1h1.5v40.1h-1.5zM416 464.4h1.5v1.5h-1.5zM416 466.9h1.5v9.9h-1.5zM417 476.1h1.5v40.1h-1.5zM417 445.3h1.5v3.1h-1.5zM417 449.1h1.5v1.5h-1.5zM417 451.6h1.5v3h-1.5zM417 456.9h1.5v3.3h-1.5zM417 460.8h1.5v2.7h-1.5zM417 464.3h1.5v4.3h-1.5zM417 468.9h1.5v5.5h-1.5zM417 474.7h1.5v1.9h-1.5zM418 476.1h1.5v40.1h-1.5zM418 444.1h1.5v1.5h-1.5zM418 446.5h1.5v4.2h-1.5zM418 451.3h1.5v1.5h-1.5zM418 453.2h1.5v3.1h-1.5zM418 456.5h1.5v1.5h-1.5zM418 459.7h1.5v1.5h-1.5zM418 462h1.5v1.5h-1.5zM418 463.7h1.5v13h-1.5zM419 476.1h1.5v40.1h-1.5zM419 437.5h1.5v1.5h-1.5zM419 439.3h1.5v4.4h-1.5zM419 443.9h1.5v2.8h-1.5zM419 447.9h1.5v1.5h-1.5zM419 449.9h1.5v1.5h-1.5zM419 452.3h1.5v1.5h-1.5zM419 454.1h1.5v1.6h-1.5zM419 456h1.5v20.5h-1.5zM420 476.1h1.5v40.1h-1.5zM420 445.4h1.5v1.5h-1.5zM420 447.8h1.5v4.5h-1.5zM420 453.1h1.5v1.5h-1.5zM420 457.4h1.5v19.3h-1.5zM421 476.1h1.5v40.1h-1.5zM421 450.4h1.5v1.5h-1.5zM421 452.5h1.5v1.5h-1.5zM421 454.6h1.5v1.5h-1.5zM421 456.4h1.5v1.5h-1.5zM421 458.5h1.5v1.5h-1.5zM421 461.9h1.5v1.5h-1.5zM421 463.7h1.5v13.1h-1.5zM422 476.1h1.5v40.1h-1.5zM422 453.6h1.5v3h-1.5zM422 457.4h1.5v2.7h-1.5zM422 461.4h1.5v3h-1.5zM422 464.9h1.5v11.6h-1.5zM423 476.1h1.5v40.1h-1.5zM423 462.7h1.5v2.3h-1.5zM423 465.3h1.5v11.3h-1.5zM424 476.1h1.5v40.1h-1.5zM424 445.7h1.5v1.5h-1.5zM424 447.5h1.5v1.5h-1.5zM424 450.5h1.5v1.5h-1.5zM424 452.7h1.5v1.5h-1.5zM424 455.5h1.5v2.7h-1.5zM424 458.6h1.5v1.5h-1.5zM424 461.1h1.5v15.6h-1.5zM425 476.1h1.5v40.1h-1.5zM425 430.4h1.5v1.5h-1.5zM425 432.3h1.5v3.2h-1.5zM425 437h1.5v2.8h-1.5zM425 440h1.5v5.9h-1.5zM425 446.7h1.5v1.5h-1.5zM425 449.8h1.5v1.5h-1.5zM425 452.4h1.5v6.6h-1.5zM425 460.2h1.5v2.8h-1.5zM425 464h1.5v4.1h-1.5zM425 472.2h1.5v4.4h-1.5zM426 476.1h0.8v40.1h-0.8zM426 437.7h0.8v1.5h-0.8zM426 440.5h0.8v2.7h-0.8zM426 444.4h0.8v2.8h-0.8zM426 463.3h0.8v13.2h-0.8zM419.3 421.9h1.4v1.5h-1.4zM419.3 429.8h1.4v1.5h-1.4zM419.3 444.8h1.4v1.5h-1.4zM419.3 450.9h1.4v1.5h-1.4z"/>
<path fill="#fdfd35" d="M203 481.1h1.5v35.1h-1.5zM203 439.7h1.5v1.5h-1.5zM203 452.9h1.5v1.5h-1.5zM203 455.8h1.5v1.5h-1.5zM203 460.1h1.5v1.5h-1.5zM203 462.8h1.5v1.5h-1.5zM203 465.6h1.5v1.5h-1.5zM203 470.7h1.5v2.6h-1.5zM203 474.1h1.5v7.4h-1.5zM204 481.1h1.5v35.1h-1.5zM204 441.2h1.5v3.1h-1.5zM204 444.6h1.5v1.5h-1.5zM204 447.5h1.5v1.5h-1.5zM204 450.4h1.5v5.7h-1.5zM204 460.1h1.5v1.5h-1.5zM204 461.9h1.5v1.5h-1.5zM204 468.3h1.5v13.4h-1.5zM205 481.1h1.5v35.1h-1.5zM205 446h1.5v1.5h-1.5zM205 447.8h1.5v1.5h-1.5zM205 462.5h1.5v19.1h-1.5zM206 481.1h1.5v35.1h-1.5zM206 449.1h1.5v1.5h-1.5zM206 450.9h1.5v2.9h-1.5zM206 454.2h1.5v1.5h-1.5zM206 467.4h1.5v1.5h-1.5zM206 469.8h1.5v11.8h-1.5zM207 481.1h1.5v35.1h-1.5zM207 458.1h1.5v1.5h-1.5zM207 460.8h1.5v11.5h-1.5zM207 472.6h1.5v9.3h-1.5zM208 481.1h1.5v35.1h-1.5zM208 454h1.5v1.5h-1.5zM208 457.2h1.5v1.5h-1.5zM208 459.2h1.5v1.5h-1.5zM208 462.2h1.5v1.5h-1.5zM208 464.9h1.5v1.5h-1.5zM208 467.2h1.5v1.5h-1.5zM208 471.9h1.5v9.8h-1.5zM209 481.1h1.5v35.1h-1.5zM209 464.7h1.5v1.5h-1.5zM209 467.1h1.5v14.3h-1.5zM210 481.1h1.5v35.1h-1.5zM210 470.1h1.5v11.6h-1.5zM211 481.1h1.5v35.1h-1.5zM211 448.8h1.5v4.4h-1.5zM211 453.7h1.5v1.5h-1.5zM211 456.1h1.5v3h-1.5zM211 466.2h1.5v15.5h-1.5zM212 481.1h1.5v35.1h-1.5zM212 446.4h1.5v1.5h-1.5zM212 448.5h1.5v1.5h-1.5zM212 450.5h1.5v3.5h-1.5zM212 454.8h1.5v1.7h-1.5zM212 457.7h1.5v2h-1.5zM212 460.4h1.5v3.2h-1.5zM212 464.3h1.5v1.5h-1.5zM212 466.4h1.5v1.5h-1.5zM212 468.6h1.5v1.5h-1.5zM212 471.1h1.5v10.6h-1.5zM213 481.1h1.5v35.1h-1.5zM213 461.1h1.5v6.2h-1.5zM213 468.2h1.5v13.6h-1.5zM214 481.1h1.5v35.1h-1.5zM214 456.4h1.5v1.5h-1.5zM214 459.3h1.5v22.5h-1.5zM215 481.1h1.5v35.1h-1.5zM215 460.1h1.5v1.5h-1.5zM215 462.9h1.5v1.5h-1.5zM215 467.8h1.5v1.5h-1.5zM215 469.7h1.5v2h-1.5zM215 472.1h1.5v9.6h-1.5zM216 481.1h1.5v35.1h-1.5zM216 461.5h1.5v3h-1.5zM216 465.4h1.5v16.3h-1.5zM217 481.1h1.5v35.1h-1.5zM217 448.4h1.5v1.5h-1.5zM217 454.2h1.5v1.5h-1.5zM217 459.5h1.5v1.5h-1.5zM217 461.5h1.5v20.3h-1.5zM218 481.1h1.5v35.1h-1.5zM218 446.7h1.5v1.5h-1.5zM218 460.3h1.5v3.1h-1.5zM218 467.9h1.5v13.8h-1.5zM219 481.1h1.5v35.1h-1.5zM219 445.4h1.5v1.5h-1.5zM219 447.3h1.5v6.8h-1.5zM219 454.6h1.5v1.7h-1.5zM219 456.8h1.5v4.3h-1.5zM219 462.7h1.5v1.5h-1.5zM219 465.5h1.5v16.3h-1.5zM220 481.1h1.5v35.1h-1.5zM220 451.5h1.5v2.9h-1.5zM220 455.1h1.5v7.4h-1.5zM220 464.3h1.5v6.7h-1.5zM220 472.2h1.5v9.4h-1.5zM221 481.1h1.5v35.1h-1.5zM221 438.4h1.5v6.2h-1.5zM221 445h1.5v2h-1.5zM221 454.4h1.5v1.5h-1.5zM221 457.1h1.5v1.5h-1.5zM221 459h1.5v3.7h-1.5zM221 463.1h1.5v2.1h-1.5zM221 465.6h1.5v2.4h-1.5zM221 472.6h1.5v9.1h-1.5zM222 481.1h1.5v35.1h-1.5zM222 441.8h1.5v2.7h-1.5zM222 444.7h1.5v1.5h-1.5zM222 461.2h1.5v9.7h-1.5zM222 471.3h1.5v9.9h-1.5zM223 481.1h1.5v35.1h-1.5zM223 459.7h1.5v1.5h-1.5zM223 462.5h1.5v1.5h-1.5zM223 464.8h1.5v2.3h-1.5zM223 467.5h1.5v14.1h-1.5zM224 481.1h1.5v35.1h-1.5zM224 441h1.5v2.7h-1.5zM224 444h1.5v1.5h-1.5zM224 446.1h1.5v1.5h-1.5zM224 448.4h1.5v7.5h-1.5zM224 456.1h1.5v3.1h-1.5zM224 460.2h1.5v21.6h-1.5zM225 481.1h1.5v35.1h-1.5zM225 450.8h1.5v3.1h-1.5zM225 465.9h1.5v1.5h-1.5zM225 470.7h1.5v11h-1.5zM226 481.1h1.5v35.1h-1.5zM226 456.1h1.5v1.5h-1.5zM226 471.2h1.5v1.5h-1.5zM226 473.1h1.5v8.7h-1.5zM227 481.1h1.5v35.1h-1.5zM227 448.6h1.5v1.5h-1.5zM227 463.5h1.5v2.9h-1.5zM227 467.3h1.5v14.6h-1.5zM228 481.1h1.5v35.1h-1.5zM228 455.7h1.5v1.5h-1.5zM228 458.2h1.5v4.4h-1.5zM228 466.9h1.5v2.8h-1.5zM228 470h1.5v2.2h-1.5zM228 472.9h1.5v1.5h-1.5zM228 474.9h1.5v6.5h-1.5zM229 481.1h1.5v35.1h-1.5zM229 458.3h1.5v2.8h-1.5zM229 463.1h1.5v1.5h-1.5zM229 465.1h1.5v1.5h-1.5zM229 467.2h1.5v14.6h-1.5zM230 481.1h1.5v35.1h-1.5zM230 462.9h1.5v1.5h-1.5zM230 465.1h1.5v3h-1.5zM230 469.6h1.5v12.2h-1.5zM231 481.1h1.5v35.1h-1.5zM231 449.2h1.5v1.5h-1.5zM231 452.1h1.5v5.3h-1.5zM231 458.2h1.5v23.6h-1.5zM232 481.1h1.5v35.1h-1.5zM232 433.9h1.5v1.5h-1.5zM232 436.8h1.5v1.5h-1.5zM232 439.5h1.5v4.9h-1.5zM232 445.1h1.5v5.6h-1.5zM232 451.7h1.5v2.7h-1.5zM232 455.3h1.5v1.8h-1.5zM232 457.4h1.5v1.5h-1.5zM232 469.3h1.5v1.7h-1.5zM232 471.6h1.5v10.2h-1.5zM233 481.1h1.5v35.1h-1.5zM233 473.3h1.5v1.9h-1.5zM233 476h1.5v5.6h-1.5zM234 481.1h1.5v35.1h-1.5zM234 440.9h1.5v1.7h-1.5zM234 443.1h1.5v1.5h-1.5zM234 463.3h1.5v1.5h-1.5zM234 465.7h1.5v1.6h-1.5zM234 468.3h1.5v13.5h-1.5zM235 481.1h0.8v35.1h-0.8zM235 465.3h0.8v1.5h-0.8zM235 467.2h0.8v2.5h-0.8zM235 470h0.8v11.8h-0.8zM217 437.1h1.5v1.5h-1.5zM209.3 412.9h1.4v1.5h-1.4zM209.3 421.6h1.4v1.5h-1.4zM209.3 426.4h1.4v1.5h-1.4zM209.3 435.9h1.4v1.5h-1.4zM209.3 442.8h1.4v1.5h-1.4zM209.3 448.6h1.4v1.5h-1.4zM209.3 453.8h1.4v1.5h-1.4zM209.3 464.7h1.4v1.5h-1.4zM209.3 468.6h1.4v1.5h-1.4zM224.3 409.3h1.4v1.5h-1.4zM224.3 416.9h1.4v1.5h-1.4zM224.3 440.2h1.4v1.5h-1.4zM224.3 442.7h1.4v1.5h-1.4zM224.3 450.9h1.4v1.5h-1.4zM224.3 454.3h1.4v1.5h-1.4zM224.3 456.5h1.4v1.5h-1.4zM224.3 460.1h1.4v1.5h-1.4zM224.3 462h1.4v1.5h-1.4zM224.3 467.7h1.4v1.5h-1.4zM231.3 420.1h1.4v1.5h-1.4zM231.3 424.8h1.4v1.5h-1.4zM231.3 428h1.4v1.5h-1.4zM231.3 430.5h1.4v1.5h-1.4zM231.3 435.9h1.4v1.5h-1.4zM231.3 443.5h1.4v1.5h-1.4zM231.3 446.6h1.4v1.5h-1.4zM231.3 453.7h1.4v1.5h-1.4zM231.3 461.9h1.4v1.5h-1.4zM231.3 468h1.4v1.5h-1.4zM428 483.1h1.5v33.1h-1.5zM428 446.6h1.5v3.1h-1.5zM428 471.8h1.5v1.8h-1.5zM428 474.1h1.5v5.1h-1.5zM428 479.5h1.5v4.2h-1.5zM429 483.1h1.5v33.1h-1.5zM429 450.2h1.5v1.5h-1.5zM429 452.9h1.5v1.5h-1.5zM429 455.5h1.5v1.5h-1.5zM429 457.2h1.5v2.1h-1.5zM429 459.6h1.5v2.7h-1.5zM429 463.7h1.5v4.2h-1.5zM429 468.4h1.5v2.6h-1.5zM429 471.4h1.5v12.3h-1.5zM430 483.1h1.5v33.1h-1.5zM430 444.3h1.5v1.5h-1.5zM430 446.5h1.5v1.5h-1.5zM430 457.9h1.5v5.5h-1.5zM430 463.7h1.5v2.7h-1.5zM430 466.8h1.5v1.5h-1.5zM430 473.8h1.5v10h-1.5zM431 483.1h1.5v33.1h-1.5zM431 464.5h1.5v1.5h-1.5zM431 473.9h1.5v10h-1.5zM432 483.1h1.5v33.1h-1.5zM432 459.5h1.5v1.5h-1.5zM432 461.9h1.5v1.5h-1.5zM432 464.2h1.5v2.4h-1.5zM432 472.2h1.5v11.6h-1.5zM433 483.1h1.5v33.1h-1.5zM433 444.4h1.5v1.5h-1.5zM433 447.2h1.5v1.5h-1.5zM433 449.1h1.5v2.7h-1.5zM433 452.8h1.5v1.5h-1.5zM433 454.7h1.5v3.2h-1.5zM433 463.2h1.5v2.7h-1.5zM433 469.6h1.5v1.5h-1.5zM433 472.7h1.5v1.5h-1.5zM433 475h1.5v8.7h-1.5zM434 483.1h1.5v33.1h-1.5zM434 461.6h1.5v1.5h-1.5zM434 464.1h1.5v1.5h-1.5zM434 466.5h1.5v17.3h-1.5zM435 483.1h1.5v33.1h-1.5zM435 462.5h1.5v1.5h-1.5zM435 464.4h1.5v1.5h-1.5zM435 472h1.5v11.7h-1.5zM436 483.1h1.5v33.1h-1.5zM436 448.5h1.5v1.5h-1.5zM436 450.7h1.5v5.7h-1.5zM436 457.5h1.5v3.8h-1.5zM436 461.5h1.5v2.3h-1.5zM436 464.1h1.5v19.6h-1.5zM437 483.1h1.5v33.1h-1.5zM437 438.6h1.5v1.5h-1.5zM437 441h1.5v1.5h-1.5zM437 458.4h1.5v2.8h-1.5zM437 461.5h1.5v10.3h-1.5zM437 472.1h1.5v11.8h-1.5zM438 483.1h1.5v33.1h-1.5zM438 464.2h1.5v4h-1.5zM438 469.4h1.5v14.3h-1.5zM439 483.1h1.5v33.1h-1.5zM439 454.7h1.5v1.5h-1.5zM439 462.8h1.5v1.5h-1.5zM439 466.9h1.5v1.5h-1.5zM439 469h1.5v1.5h-1.5zM439 470.9h1.5v2.7h-1.5zM439 475.8h1.5v7.9h-1.5zM440 483.1h1.5v33.1h-1.5zM440 472.9h1.5v1.5h-1.5zM440 475.5h1.5v1.5h-1.5zM440 477.4h1.5v6.4h-1.5zM441 483.1h1.5v33.1h-1.5zM441 469.3h1.5v2.6h-1.5zM441 473.4h1.5v10.4h-1.5zM442 483.1h0.5v33.1h-0.5zM442 452.2h0.5v1.5h-0.5zM442 454.8h0.5v1.5h-0.5zM442 456.8h0.5v1.5h-0.5zM442 458.8h0.5v1.5h-0.5zM442 460.5h0.5v1.5h-0.5zM442 462.8h0.5v20.5h-0.5zM432.3 423.7h1.4v1.5h-1.4zM432.3 429.9h1.4v1.5h-1.4zM432.3 434.6h1.4v1.5h-1.4zM432.3 440.6h1.4v1.5h-1.4zM432.3 459.8h1.4v1.5h-1.4zM432.3 469.5h1.4v1.5h-1.4z"/>
<path fill="#ecbec9" d="M236 479h1.5v37.2h-1.5zM236 437.1h1.5v1.5h-1.5zM236 439.2h1.5v1.5h-1.5zM236 441.8h1.5v3.1h-1.5zM236 446.2h1.5v2.6h-1.5zM236 458.5h1.5v4.2h-1.5zM236 472.1h1.5v1.5h-1.5zM236 474.4h1.5v1.8h-1.5zM236 477.1h1.5v2.5h-1.5zM237 479h1.5v37.2h-1.5zM237 449.1h1.5v1.5h-1.5zM237 451.3h1.5v1.5h-1.5zM237 453.6h1.5v1.5h-1.5zM237 456.1h1.5v1.5h-1.5zM237 458.5h1.5v1.5h-1.5zM237 460.4h1.5v1.5h-1.5zM237 464.5h1.5v4.2h-1.5zM237 469h1.5v1.7h-1.5zM237 471.1h1.5v1.7h-1.5zM237 473.2h1.5v6.4h-1.5zM238 479h1.5v37.2h-1.5zM238 439.6h1.5v1.5h-1.5zM238 449.2h1.5v2.4h-1.5zM238 451.9h1.5v4.5h-1.5zM238 456.9h1.5v1.5h-1.5zM238 459.5h1.5v2.9h-1.5zM238 464h1.5v2.3h-1.5zM238 467.8h1.5v1.5h-1.5zM238 470.3h1.5v1.5h-1.5zM238 472.6h1.5v2.6h-1.5zM238 475.5h1.5v3.7h-1.5zM239 479h1.5v37.2h-1.5zM239 435.6h1.5v2.8h-1.5zM239 439.1h1.5v1.5h-1.5zM239 452.4h1.5v1.5h-1.5zM239 454.8h1.5v1.5h-1.5zM239 456.9h1.5v1.5h-1.5zM239 459.6h1.5v4.2h-1.5zM239 464.5h1.5v1.5h-1.5zM239 466.7h1.5v1.5h-1.5zM239 468.6h1.5v10.8h-1.5zM240 479h1.5v37.2h-1.5zM240 432.6h1.5v2.8h-1.5zM240 436.5h1.5v1.5h-1.5zM240 447.4h1.5v1.5h-1.5zM240 453.7h1.5v1.5h-1.5zM240 457.6h1.5v1.5h-1.5zM240 460.8h1.5v18.9h-1.5zM241 479h1.5v37.2h-1.5zM241 443.8h1.5v1.5h-1.5zM241 446.1h1.5v1.5h-1.5zM241 448.9h1.5v1.5h-1.5zM241 451.5h1.5v1.5h-1.5zM241 454.5h1.5v1.5h-1.5zM241 456.2h1.5v23.3h-1.5zM242 479h1.5v37.2h-1.5zM242 441.4h1.5v3.1h-1.5zM242 445.7h1.5v8.1h-1.5zM242 454.6h1.5v1.5h-1.5zM242 457.1h1.5v6h-1.5zM242 463.6h1.5v15.9h-1.5zM243 479h1.5v37.2h-1.5zM243 447.9h1.5v1.5h-1.5zM243 450.8h1.5v1.5h-1.5zM243 452.8h1.5v2.4h-1.5zM243 455.6h1.5v3.6h-1.5zM243 460.6h1.5v1.5h-1.5zM243 462.8h1.5v1.5h-1.5zM243 465.3h1.5v4h-1.5zM243 470.5h1.5v1.5h-1.5zM243 472.4h1.5v1.6h-1.5zM243 474.5h1.5v1.5h-1.5zM243 476.8h1.5v2.8h-1.5zM244 479h1.5v37.2h-1.5zM244 435.9h1.5v1.5h-1.5zM244 448.8h1.5v2.7h-1.5zM244 456.4h1.5v1.5h-1.5zM244 461.4h1.5v1.5h-1.5zM244 463.3h1.5v4.4h-1.5zM244 468h1.5v11.7h-1.5zM245 479h1.5v37.2h-1.5zM245 459.7h1.5v1.5h-1.5zM245 461.8h1.5v1.5h-1.5zM245 463.7h1.5v3.1h-1.5zM245 467.6h1.5v12h-1.5zM246 479h1.5v37.2h-1.5zM246 441.7h1.5v1.5h-1.5zM246 444h1.5v1.5h-1.5zM246 457.1h1.5v1.5h-1.5zM246 459.4h1.5v6h-1.5zM246 465.8h1.5v1.6h-1.5zM246 468.7h1.5v10.8h-1.5zM247 479h1.5v37.2h-1.5zM247 461.9h1.5v1.5h-1.5zM247 465.8h1.5v1.5h-1.5zM247 469.5h1.5v10.2h-1.5zM248 479h1.5v37.2h-1.5zM248 431.9h1.5v1.8h-1.5zM248 434.3h1.5v1.8h-1.5zM248 436.4h1.5v1.5h-1.5zM248 438.4h1.5v2.9h-1.5zM248 441.5h1.5v1.5h-1.5zM248 443.9h1.5v1.5h-1.5zM248 446.1h1.5v1.5h-1.5zM248 447.9h1.5v3.2h-1.5zM248 454.4h1.5v1.5h-1.5zM248 457h1.5v2.8h-1.5zM248 460.9h1.5v1.5h-1.5zM248 463h1.5v16.7h-1.5zM249 479h1.5v37.2h-1.5zM249 445h1.5v7.2h-1.5zM249 452.8h1.5v1.5h-1.5zM249 454.9h1.5v4.4h-1.5zM249 459.9h1.5v2.6h-1.5zM249 463h1.5v8.2h-1.5zM249 471.9h1.5v7.8h-1.5zM250 479h1.5v37.2h-1.5zM250 453.8h1.5v6.8h-1.5zM250 461h1.5v1.8h-1.5zM250 463.8h1.5v15.3h-1.5zM251 479h1.5v37.2h-1.5zM251 453.2h1.5v2.8h-1.5zM251 456.3h1.5v1.5h-1.5zM251 458.7h1.5v1.5h-1.5zM251 461.4h1.5v2.8h-1.5zM251 464.9h1.5v14.5h-1.5zM252 479h1.5v37.2h-1.5zM252 448h1.5v1.5h-1.5zM252 461.6h1.5v1.5h-1.5zM252 464.6h1.5v1.5h-1.5zM252 466.8h1.5v1.5h-1.5zM252 469.1h1.5v10.4h-1.5zM253 479h1.5v37.2h-1.5zM253 440h1.5v1.5h-1.5zM253 442.6h1.5v1.5h-1.5zM253 445.4h1.5v1.5h-1.5zM253 448h1.5v4.8h-1.5zM253 453.5h1.5v10h-1.5zM253 463.7h1.5v8.4h-1.5zM253 472.5h1.5v7.1h-1.5zM254 479h1.5v37.2h-1.5zM254 435.3h1.5v1.5h-1.5zM254 438.1h1.5v4.4h-1.5zM254 443.9h1.5v1.5h-1.5zM254 446.8h1.5v2.6h-1.5zM254 450.9h1.5v1.5h-1.5zM254 452.8h1.5v3.2h-1.5zM254 457.7h1.5v4.7h-1.5zM254 463.8h1.5v1.6h-1.5zM254 466h1.5v13.7h-1.5zM255 479h1.5v37.2h-1.5zM255 448.3h1.5v1.5h-1.5zM255 456.8h1.5v1.5h-1.5zM255 459.6h1.5v1.5h-1.5zM255 462.6h1.5v1.5h-1.5zM255 470.9h1.5v8.1h-1.5zM256 479h1.5v37.2h-1.5zM256 460.9h1.5v1.5h-1.5zM256 463h1.5v1.5h-1.5zM256 464.9h1.5v1.5h-1.5zM256 466.7h1.5v1.5h-1.5zM256 469h1.5v10.7h-1.5zM257 479h1.5v37.2h-1.5zM257 439.9h1.5v1.5h-1.5zM257 442.3h1.5v1.5h-1.5zM257 445.3h1.5v1.5h-1.5zM257 448.2h1.5v1.5h-1.5zM257 450.6h1.5v1.5h-1.5zM257 453.5h1.5v1.5h-1.5zM257 455.3h1.5v1.5h-1.5zM257 457.9h1.5v3.1h-1.5zM257 462.3h1.5v5.2h-1.5zM257 468h1.5v10.9h-1.5zM258 479h1.5v37.2h-1.5zM258 448.4h1.5v1.5h-1.5zM258 450.3h1.5v1.5h-1.5zM258 454.8h1.5v3.6h-1.5zM258 469.2h1.5v10.2h-1.5zM259 479h1.5v37.2h-1.5zM259 461.5h1.5v1.5h-1.5zM259 463.7h1.5v6.1h-1.5zM259 470h1.5v9.3h-1.5zM260 479h1.5v37.2h-1.5zM260 438.4h1.5v1.5h-1.5zM260 452.6h1.5v2.6h-1.5zM260 457.7h1.5v6.8h-1.5zM260 464.8h1.5v1.5h-1.5zM260 466.7h1.5v12.7h-1.5zM261 479h1.5v37.2h-1.5zM261 449.5h1.5v1.5h-1.5zM261 458.7h1.5v21h-1.5zM262 479h1.5v37.2h-1.5zM262 438.2h1.5v1.5h-1.5zM262 440.6h1.5v3.2h-1.5zM262 444.3h1.5v1.5h-1.5zM262 456.7h1.5v1.5h-1.5zM262 464.9h1.5v1.5h-1.5zM262 467.5h1.5v3.1h-1.5zM262 471.2h1.5v8.4h-1.5zM263 479h0.8v37.2h-0.8zM263 462h0.8v2.8h-0.8zM263 465.4h0.8v1.5h-0.8zM263 467.6h0.8v12h-0.8zM246.8 438h1.5v1.5h-1.5zM249.3 424.2h1.4v1.5h-1.4zM249.3 430.7h1.4v1.5h-1.4zM249.3 436.3h1.4v1.5h-1.4zM249.3 438.4h1.4v1.5h-1.4zM249.3 442.6h1.4v1.5h-1.4zM249.3 444.8h1.4v1.5h-1.4zM249.3 453.2h1.4v1.5h-1.4zM249.3 459.8h1.4v1.5h-1.4zM444 478.1h1.5v38.1h-1.5zM444 457.6h1.5v1.5h-1.5zM444 459.5h1.5v1.5h-1.5zM444 461.7h1.5v5.7h-1.5zM444 468.2h1.5v10.6h-1.5zM445 478.1h1.5v38.1h-1.5zM445 442.4h1.5v1.5h-1.5zM445 444.3h1.5v1.5h-1.5zM445 447.1h1.5v5.6h-1.5zM445 462.1h1.5v1.5h-1.5zM445 464.8h1.5v13.9h-1.5zM446 478.1h1.5v38.1h-1.5zM446 430.7h1.5v4.6h-1.5zM446 435.7h1.5v1.5h-1.5zM446 437.6h1.5v1.5h-1.5zM446 440.6h1.5v1.5h-1.5zM446 442.4h1.5v1.5h-1.5zM446 445.2h1.5v1.5h-1.5zM446 447.7h1.5v2.4h-1.5zM446 450.7h1.5v1.5h-1.5zM446 453.5h1.5v1.5h-1.5zM446 461.8h1.5v3.9h-1.5zM446 467.3h1.5v11.5h-1.5zM447 478.1h1.5v38.1h-1.5zM447 431.4h1.5v1.5h-1.5zM447 435.9h1.5v2.5h-1.5zM447 438.9h1.5v1.9h-1.5zM447 441.2h1.5v2.9h-1.5zM447 445.1h1.5v1.5h-1.5zM447 460.1h1.5v1.5h-1.5zM447 462.1h1.5v3.3h-1.5zM447 465.7h1.5v1.5h-1.5zM447 467.7h1.5v10.9h-1.5zM448 478.1h1.5v38.1h-1.5zM448 449.9h1.5v1.9h-1.5zM448 452.6h1.5v1.5h-1.5zM448 454.5h1.5v1.5h-1.5zM448 456.5h1.5v3h-1.5zM448 460.2h1.5v1.5h-1.5zM448 462.8h1.5v16h-1.5zM449 478.1h1.5v38.1h-1.5zM449 448.8h1.5v3.1h-1.5zM449 462.2h1.5v1.5h-1.5zM449 465.2h1.5v13.6h-1.5zM450 478.1h1.5v38.1h-1.5zM450 442.5h1.5v3.1h-1.5zM450 446.1h1.5v1.5h-1.5zM450 448.2h1.5v1.5h-1.5zM450 450.2h1.5v1.5h-1.5zM450 460.7h1.5v1.5h-1.5zM450 466.2h1.5v12.4h-1.5zM451 478.1h1.5v38.1h-1.5zM451 434.8h1.5v1.5h-1.5zM451 436.9h1.5v1.5h-1.5zM451 438.6h1.5v1.5h-1.5zM451 440.4h1.5v5.1h-1.5zM451 455.3h1.5v1.5h-1.5zM451 457.3h1.5v1.5h-1.5zM451 459.8h1.5v2.6h-1.5zM451 468.3h1.5v1.5h-1.5zM451 470h1.5v8.4h-1.5zM452 478.1h1.5v38.1h-1.5zM452 448.2h1.5v1.5h-1.5zM452 455.9h1.5v1.5h-1.5zM452 458.4h1.5v8.7h-1.5zM452 467.5h1.5v1.8h-1.5zM452 470.2h1.5v8.4h-1.5zM453 478.1h1.5v38.1h-1.5zM453 451.7h1.5v1.5h-1.5zM453 454.8h1.5v3.4h-1.5zM453 458.6h1.5v1.5h-1.5zM453 463h1.5v15.8h-1.5zM454 478.1h0.5v38.1h-0.5zM454 431.8h0.5v1.5h-0.5zM454 433.5h0.5v1.5h-0.5zM454 435.3h0.5v1.5h-0.5zM454 445.3h0.5v1.5h-0.5zM454 448h0.5v1.5h-0.5zM454 449.8h0.5v1.5h-0.5zM454 467.2h0.5v1.5h-0.5zM454 468.9h0.5v9.8h-0.5z"/>
<path fill="#8a38e6" d="M264 478.1h1.5v38.1h-1.5zM264 440.2h1.5v1.5h-1.5zM264 442h1.5v1.5h-1.5zM264 444.5h1.5v1.5h-1.5zM264 446.3h1.5v6h-1.5zM264 458.4h1.5v1.5h-1.5zM264 461.5h1.5v1.5h-1.5zM264 463.6h1.5v1.5h-1.5zM264 465.9h1.5v1.5h-1.5zM264 470h1.5v1.5h-1.5zM264 472.4h1.5v5.9h-1.5zM265 478.1h1.5v38.1h-1.5zM265 456.2h1.5v2.7h-1.5zM265 459.5h1.5v1.5h-1.5zM265 462.3h1.5v1.5h-1.5zM265 464.7h1.5v2h-1.5zM265 467.6h1.5v11h-1.5zM266 478.1h1.5v38.1h-1.5zM266 434.3h1.5v3.8h-1.5zM266 438.6h1.5v1.5h-1.5zM266 440.5h1.5v1.5h-1.5zM266 450.4h1.5v1.5h-1.5zM266 453.2h1.5v1.5h-1.5zM266 456.1h1.5v1.5h-1.5zM266 458.4h1.5v2.7h-1.5zM266 466.3h1.5v12.4h-1.5zM267 478.1h1.5v38.1h-1.5zM267 445h1.5v2.9h-1.5zM267 464.6h1.5v3.8h-1.5zM267 468.8h1.5v9.4h-1.5zM268 478.1h1.5v38.1h-1.5zM268 434.3h1.5v1.5h-1.5zM268 459.6h1.5v3.2h-1.5zM268 463.9h1.5v1.5h-1.5zM268 465.7h1.5v13.1h-1.5zM269 478.1h1.5v38.1h-1.5zM269 449.7h1.5v1.5h-1.5zM269 452h1.5v1.5h-1.5zM269 454.7h1.5v1.5h-1.5zM269 457.3h1.5v1.5h-1.5zM269 469.5h1.5v8.7h-1.5zM270 478.1h1.5v38.1h-1.5zM270 452.7h1.5v2.8h-1.5zM270 456.1h1.5v22.7h-1.5zM271 478.1h1.5v38.1h-1.5zM271 438.9h1.5v1.5h-1.5zM271 440.8h1.5v1.5h-1.5zM271 443.7h1.5v1.5h-1.5zM271 445.5h1.5v4.9h-1.5zM271 450.7h1.5v1.5h-1.5zM271 453.2h1.5v3.2h-1.5zM271 457.3h1.5v1.5h-1.5zM271 459.6h1.5v2.7h-1.5zM271 462.9h1.5v2.8h-1.5zM271 466h1.5v2.6h-1.5zM271 469.1h1.5v9.6h-1.5zM272 478.1h1.5v38.1h-1.5zM272 444.3h1.5v1.5h-1.5zM272 447.2h1.5v4.4h-1.5zM272 452.8h1.5v1.5h-1.5zM272 455.1h1.5v2.9h-1.5zM272 458.4h1.5v1.5h-1.5zM272 461.2h1.5v17.4h-1.5zM273 478.1h1.5v38.1h-1.5zM273 448.7h1.5v1.5h-1.5zM273 450.5h1.5v1.5h-1.5zM273 452.7h1.5v7.2h-1.5zM273 461.1h1.5v3h-1.5zM273 465.7h1.5v1.9h-1.5zM273 467.9h1.5v10.6h-1.5zM274 478.1h1.5v38.1h-1.5zM274 439.7h1.5v1.5h-1.5zM274 441.9h1.5v1.5h-1.5zM274 444.6h1.5v1.5h-1.5zM274 446.9h1.5v1.5h-1.5zM274 449.2h1.5v4.7h-1.5zM274 454.7h1.5v24h-1.5zM275 478.1h1.5v38.1h-1.5zM275 448.6h1.5v1.5h-1.5zM275 450.4h1.5v1.5h-1.5zM275 453h1.5v1.5h-1.5zM275 464.3h1.5v1.5h-1.5zM275 466.3h1.5v2.4h-1.5zM275 470.9h1.5v7.3h-1.5zM276 478.1h1.5v38.1h-1.5zM276 459.6h1.5v19.1h-1.5zM277 478.1h1.5v38.1h-1.5zM277 441.1h1.5v2.8h-1.5zM277 451h1.5v4.6h-1.5zM277 455.9h1.5v1.5h-1.5zM277 457.7h1.5v1.5h-1.5zM277 460.5h1.5v1.5h-1.5zM277 464.5h1.5v1.5h-1.5zM277 467.6h1.5v11.1h-1.5zM278 478.1h1.5v38.1h-1.5zM278 458.3h1.5v1.5h-1.5zM278 461.8h1.5v1.5h-1.5zM278 463.6h1.5v1.5h-1.5zM278 465.7h1.5v13h-1.5zM279 478.1h1.5v38.1h-1.5zM279 461.6h1.5v4.9h-1.5zM279 467.8h1.5v10.7h-1.5zM280 478.1h1.5v38.1h-1.5zM280 460.9h1.5v1.5h-1.5zM280 464h1.5v1.5h-1.5zM280 468.2h1.5v1.5h-1.5zM280 470.9h1.5v7.7h-1.5zM281 478.1h1.5v38.1h-1.5zM281 442.6h1.5v1.5h-1.5zM281 444.6h1.5v1.5h-1.5zM281 448.6h1.5v1.5h-1.5zM281 451.5h1.5v2.6h-1.5zM281 454.5h1.5v1.5h-1.5zM281 457.3h1.5v4.1h-1.5zM281 462.5h1.5v1.8h-1.5zM281 464.6h1.5v6.1h-1.5zM281 471.1h1.5v2.3h-1.5zM281 473.9h1.5v4.6h-1.5zM282 478.1h1.5v38.1h-1.5zM282 459.3h1.5v1.5h-1.5zM282 461.4h1.5v1.5h-1.5zM282 463.7h1.5v15h-1.5zM283 478.1h1.5v38.1h-1.5zM283 455.8h1.5v5.9h-1.5zM283 464.2h1.5v1.5h-1.5zM283 465.9h1.5v12.8h-1.5zM284 478.1h1.5v38.1h-1.5zM284 440.6h1.5v1.5h-1.5zM284 443.7h1.5v1.5h-1.5zM284 446.5h1.5v1.5h-1.5zM284 449.6h1.5v2.9h-1.5zM284 452.9h1.5v1.5h-1.5zM284 454.7h1.5v24h-1.5zM285 478.1h1.5v38.1h-1.5zM285 449.7h1.5v1.5h-1.5zM285 452h1.5v1.5h-1.5zM285 454.5h1.5v5.2h-1.5zM285 460h1.5v18h-1.5zM286 478.1h1.5v38.1h-1.5zM286 432.4h1.5v1.5h-1.5zM286 434.4h1.5v2.9h-1.5zM286 438.6h1.5v1.5h-1.5zM286 440.7h1.5v1.5h-1.5zM286 444.7h1.5v1.5h-1.5zM286 447.6h1.5v2.9h-1.5zM286 451.4h1.5v1.5h-1.5zM286 454.3h1.5v1.5h-1.5zM286 457.1h1.5v6.4h-1.5zM286 463.9h1.5v14.9h-1.5zM287 478.1h1.5v38.1h-1.5zM287 440.6h1.5v8.1h-1.5zM287 456.6h1.5v2.6h-1.5zM287 466.8h1.5v1.5h-1.5zM287 469h1.5v9.6h-1.5zM288 478.1h1.2v38.1h-1.2zM288 442.3h1.2v1.5h-1.2zM288 444.6h1.2v5.1h-1.2zM288 450.9h1.2v4.7h-1.2zM288 458h1.2v1.5h-1.2zM288 461.4h1.2v1.5h-1.2zM288 463.9h1.2v1.5h-1.2zM288 465.8h1.2v13h-1.2zM289 478.1h0.2v38.1h-0.2zM289 463.6h0.2v3.8h-0.2zM289 467.9h0.2v10.9h-0.2zM271.8 442.4h1.5v1.5h-1.5zM267.3 427.3h1.4v1.5h-1.4zM267.3 435.5h1.4v1.5h-1.4zM267.3 442.9h1.4v1.5h-1.4zM267.3 459.8h1.4v1.5h-1.4zM267.3 465.3h1.4v1.5h-1.4zM456 474.3h1.5v41.9h-1.5zM456 443.4h1.5v4.1h-1.5zM456 456h1.5v6h-1.5zM456 462.6h1.5v12.2h-1.5zM457 474.3h1.5v41.9h-1.5zM457 439.7h1.5v1.5h-1.5zM457 441.5h1.5v1.5h-1.5zM457 444.2h1.5v1.5h-1.5zM457 453h1.5v3h-1.5zM457 457.2h1.5v1.5h-1.5zM457 460.1h1.5v14.4h-1.5zM458 474.3h1.5v41.9h-1.5zM458 447.2h1.5v6h-1.5zM458 461.8h1.5v1.5h-1.5zM458 463.8h1.5v11h-1.5zM459 474.3h1.5v41.9h-1.5zM459 447.8h1.5v1.5h-1.5zM459 449.7h1.5v1.5h-1.5zM459 452.3h1.5v7.3h-1.5zM459 463.1h1.5v11.7h-1.5zM460 474.3h1.5v41.9h-1.5zM460 438.6h1.5v1.5h-1.5zM460 455.8h1.5v1.5h-1.5zM460 459.8h1.5v1.5h-1.5zM460 461.6h1.5v2.6h-1.5zM460 464.5h1.5v10.2h-1.5zM461 474.3h1.5v41.9h-1.5zM461 441.1h1.5v2.7h-1.5zM461 444.3h1.5v2.6h-1.5zM461 448.2h1.5v1.5h-1.5zM461 450.3h1.5v2.9h-1.5zM461 453.5h1.5v21.5h-1.5zM462 474.3h1.5v41.9h-1.5zM462 441.5h1.5v1.5h-1.5zM462 448.4h1.5v2.9h-1.5zM462 451.9h1.5v1.5h-1.5zM462 453.7h1.5v1.5h-1.5zM462 455.6h1.5v3.7h-1.5zM462 460.4h1.5v14.6h-1.5zM463 474.3h1.5v41.9h-1.5zM463 458.2h1.5v16.8h-1.5zM464 474.3h1.5v41.9h-1.5zM464 459.2h1.5v5.4h-1.5zM464 465.6h1.5v8.9h-1.5zM465 474.3h1.5v41.9h-1.5zM465 432.2h1.5v1.5h-1.5zM465 434.7h1.5v1.5h-1.5zM465 456.9h1.5v1.5h-1.5zM465 459.1h1.5v6.3h-1.5zM465 466h1.5v9h-1.5zM466 474.3h1.5v41.9h-1.5zM466 443.2h1.5v1.5h-1.5zM466 445.9h1.5v10.2h-1.5zM466 456.5h1.5v1.7h-1.5zM466 459h1.5v3h-1.5zM466 462.5h1.5v2h-1.5zM466 465.3h1.5v9.7h-1.5zM467 474.3h1.5v41.9h-1.5zM467 440.5h1.5v1.5h-1.5zM467 443.1h1.5v1.5h-1.5zM467 447.7h1.5v1.5h-1.5zM467 459.9h1.5v1.5h-1.5zM467 462.6h1.5v12.1h-1.5zM468 474.3h1v41.9h-1zM468 432.6h1v1.5h-1zM468 447.9h1v1.5h-1zM468 449.6h1v1.5h-1zM468 451.5h1v1.6h-1zM468 454.2h1v3.2h-1zM468 458.4h1v4h-1zM468 462.9h1v1.5h-1zM468 464.6h1v10.4h-1zM457.3 427.3h1.4v1.5h-1.4zM457.3 436.6h1.4v1.5h-1.4zM457.3 440.4h1.4v1.5h-1.4zM457.3 444.4h1.4v1.5h-1.4zM457.3 455.6h1.4v1.5h-1.4zM464.3 429.1h1.4v1.5h-1.4zM464.3 447.2h1.4v1.5h-1.4zM464.3 449.6h1.4v1.5h-1.4zM464.3 454.4h1.4v1.5h-1.4zM464.3 456.2h1.4v1.5h-1.4zM464.3 462.1h1.4v1.5h-1.4z"/>
<path fill="#b4d6e6" d="M290.5 477.2h1.5v39h-1.5zM290.5 434.3h1.5v2.2h-1.5zM290.5 437.1h1.5v6.2h-1.5zM290.5 443.6h1.5v1.7h-1.5zM290.5 446h1.5v1.5h-1.5zM290.5 448.1h1.5v2.6h-1.5zM290.5 451.4h1.5v26.3h-1.5zM291.5 477.2h1.5v39h-1.5zM291.5 457.1h1.5v2h-1.5zM291.5 459.9h1.5v5.5h-1.5zM291.5 466h1.5v11.7h-1.5zM292.5 477.2h1.5v39h-1.5zM292.5 435.3h1.5v1.5h-1.5zM292.5 437.6h1.5v3.1h-1.5zM292.5 441.3h1.5v1.5h-1.5zM292.5 443.5h1.5v1.5h-1.5zM292.5 445.7h1.5v1.5h-1.5zM292.5 448.5h1.5v1.5h-1.5zM292.5 451.5h1.5v1.5h-1.5zM292.5 461.6h1.5v1.9h-1.5zM292.5 464.3h1.5v2h-1.5zM292.5 466.7h1.5v5.1h-1.5zM292.5 472.4h1.5v5.5h-1.5zM293.5 477.2h1.5v39h-1.5zM293.5 439h1.5v1.5h-1.5zM293.5 449.5h1.5v1.5h-1.5zM293.5 451.6h1.5v1.5h-1.5zM293.5 457.5h1.5v1.5h-1.5zM293.5 467.1h1.5v1.6h-1.5zM293.5 469h1.5v8.9h-1.5zM294.5 477.2h1.5v39h-1.5zM294.5 444.2h1.5v3.2h-1.5zM294.5 453.9h1.5v4.2h-1.5zM294.5 468h1.5v1.5h-1.5zM294.5 470.7h1.5v7.3h-1.5zM295.5 477.2h1.5v39h-1.5zM295.5 437.3h1.5v1.5h-1.5zM295.5 442h1.5v1.5h-1.5zM295.5 444.8h1.5v1.5h-1.5zM295.5 446.9h1.5v1.5h-1.5zM295.5 449.8h1.5v7.9h-1.5zM295.5 458.5h1.5v1.5h-1.5zM295.5 460.4h1.5v1.5h-1.5zM295.5 463.3h1.5v1.5h-1.5zM295.5 466h1.5v11.9h-1.5zM296.5 477.2h1.5v39h-1.5zM296.5 457.6h1.5v1.5h-1.5zM296.5 460h1.5v1.5h-1.5zM296.5 463.7h1.5v1.5h-1.5zM296.5 465.6h1.5v1.5h-1.5zM296.5 468h1.5v9.7h-1.5zM297.5 477.2h1.5v39h-1.5zM297.5 448.1h1.5v2.9h-1.5zM297.5 460.9h1.5v17h-1.5zM298.5 477.2h1.5v39h-1.5zM298.5 446.9h1.5v4h-1.5zM298.5 452.4h1.5v1.5h-1.5zM298.5 454.6h1.5v3.1h-1.5zM298.5 458.2h1.5v1.5h-1.5zM298.5 459.9h1.5v2.7h-1.5zM298.5 465.6h1.5v1.5h-1.5zM298.5 467.5h1.5v10.4h-1.5zM299.5 477.2h1.5v39h-1.5zM299.5 456.4h1.5v1.5h-1.5zM299.5 458.5h1.5v5h-1.5zM299.5 471.5h1.5v6.4h-1.5zM300.5 477.2h1.5v39h-1.5zM300.5 453.4h1.5v1.5h-1.5zM300.5 465.3h1.5v12.5h-1.5zM301.5 477.2h1.5v39h-1.5zM301.5 444.2h1.5v1.5h-1.5zM301.5 452h1.5v3.1h-1.5zM301.5 455.6h1.5v5h-1.5zM301.5 460.8h1.5v2.2h-1.5zM301.5 463.5h1.5v4.1h-1.5zM301.5 468.2h1.5v9.6h-1.5zM302.5 477.2h1.5v39h-1.5zM302.5 442.1h1.5v7.1h-1.5zM302.5 450.3h1.5v1.5h-1.5zM302.5 467.4h1.5v10.4h-1.5zM303.5 477.2h1.5v39h-1.5zM303.5 453.6h1.5v1.5h-1.5zM303.5 455.5h1.5v1.5h-1.5zM303.5 460.5h1.5v1.5h-1.5zM303.5 462.4h1.5v4.4h-1.5zM303.5 467.2h1.5v10.6h-1.5zM304.5 477.2h1.5v39h-1.5zM304.5 455.3h1.5v2.8h-1.5zM304.5 467.2h1.5v10.5h-1.5zM305.5 477.2h1.5v39h-1.5zM305.5 433.9h1.5v1.5h-1.5zM305.5 436.1h1.5v3h-1.5zM305.5 439.8h1.5v1.5h-1.5zM305.5 442.7h1.5v1.5h-1.5zM305.5 444.6h1.5v1.5h-1.5zM305.5 451h1.5v2.9h-1.5zM305.5 457.7h1.5v1.5h-1.5zM305.5 460.2h1.5v1.6h-1.5zM305.5 462.4h1.5v15.3h-1.5zM306.5 477.2h1.5v39h-1.5zM306.5 443.8h1.5v1.7h-1.5zM306.5 446.6h1.5v1.5h-1.5zM306.5 449.6h1.5v1.5h-1.5zM306.5 460.4h1.5v1.5h-1.5zM306.5 463h1.5v14.8h-1.5zM307.5 477.2h1.5v39h-1.5zM307.5 431.3h1.5v1.5h-1.5zM307.5 433.2h1.5v3.7h-1.5zM307.5 437.5h1.5v1.5h-1.5zM307.5 440.1h1.5v1.5h-1.5zM307.5 456.2h1.5v1.5h-1.5zM307.5 458.3h1.5v5.6h-1.5zM307.5 464.3h1.5v13.4h-1.5zM308.5 477.2h1.5v39h-1.5zM308.5 436h1.5v3h-1.5zM308.5 439.5h1.5v1.5h-1.5zM308.5 442h1.5v1.5h-1.5zM308.5 444.7h1.5v1.5h-1.5zM308.5 447.9h1.5v2.2h-1.5zM308.5 450.5h1.5v3.2h-1.5zM308.5 454h1.5v1.5h-1.5zM308.5 460.1h1.5v1.5h-1.5zM308.5 463.1h1.5v14.6h-1.5zM309.5 477.2h1v39h-1zM309.5 439.1h1v1.5h-1zM309.5 461.8h1v2.1h-1zM309.5 464.4h1v13.5h-1zM291.9 438.7h1.5v1.5h-1.5zM470.5 485.1h1.5v31.1h-1.5zM470.5 438.5h1.5v1.5h-1.5zM470.5 441.1h1.5v2.7h-1.5zM470.5 444.6h1.5v1.5h-1.5zM470.5 450h1.5v1.5h-1.5zM470.5 453h1.5v1.5h-1.5zM470.5 455.5h1.5v2.6h-1.5zM470.5 465.6h1.5v1.5h-1.5zM470.5 468.2h1.5v17.4h-1.5zM471.5 485.1h1.5v31.1h-1.5zM471.5 458.3h1.5v1.5h-1.5zM471.5 461.3h1.5v1.5h-1.5zM471.5 464h1.5v1.5h-1.5zM471.5 467h1.5v2.7h-1.5zM471.5 470.3h1.5v2.9h-1.5zM471.5 473.9h1.5v11.9h-1.5zM472.5 485.1h1.5v31.1h-1.5zM472.5 461.6h1.5v10.5h-1.5zM472.5 473.4h1.5v1.5h-1.5zM472.5 475.1h1.5v10.4h-1.5zM473.5 485.1h1.5v31.1h-1.5zM473.5 462.8h1.5v6.1h-1.5zM473.5 469.4h1.5v1.7h-1.5zM473.5 472h1.5v13.3h-1.5zM474.5 485.1h1.5v31.1h-1.5zM474.5 439.8h1.5v1.5h-1.5zM474.5 445.1h1.5v2.7h-1.5zM474.5 448.7h1.5v4.6h-1.5zM474.5 453.6h1.5v32.2h-1.5zM475.5 485.1h1.5v31.1h-1.5zM475.5 443.4h1.5v2.7h-1.5zM475.5 452.3h1.5v1.5h-1.5zM475.5 455.2h1.5v1.5h-1.5zM475.5 458.5h1.5v1.5h-1.5zM475.5 460.2h1.5v1.5h-1.5zM475.5 463h1.5v4.9h-1.5zM475.5 468.3h1.5v5.5h-1.5zM475.5 474.3h1.5v11.5h-1.5zM476.5 485.1h1.5v31.1h-1.5zM476.5 464.2h1.5v21.5h-1.5zM477.5 485.1h1.5v31.1h-1.5zM477.5 439.4h1.5v3h-1.5zM477.5 444h1.5v2.9h-1.5zM477.5 447.5h1.5v1.5h-1.5zM477.5 467.4h1.5v6.3h-1.5zM477.5 476.7h1.5v3.4h-1.5zM477.5 480.5h1.5v5.1h-1.5zM478.5 485.1h1.5v31.1h-1.5zM478.5 469.8h1.5v1.5h-1.5zM478.5 476.7h1.5v8.5h-1.5zM479.5 485.1h1.5v31.1h-1.5zM479.5 446.4h1.5v1.5h-1.5zM479.5 448.7h1.5v2.6h-1.5zM479.5 464.9h1.5v1.5h-1.5zM479.5 470.4h1.5v15.1h-1.5zM480.5 485.1h0.8v31.1h-0.8zM480.5 456h0.8v17.8h-0.8zM480.5 474.1h0.8v11.6h-0.8zM475.3 429.1h1.4v1.5h-1.4zM475.3 443.5h1.4v1.5h-1.4zM475.3 451.9h1.4v1.5h-1.4zM475.3 456h1.4v1.5h-1.4zM475.3 460.7h1.4v1.5h-1.4zM475.3 464.7h1.4v1.5h-1.4z"/>
<path fill="#505052" d="M311.5 485.1h1.5v31.1h-1.5zM311.5 441.3h1.5v1.5h-1.5zM311.5 443.4h1.5v3h-1.5zM311.5 447.3h1.5v2.7h-1.5zM311.5 450.7h1.5v1.5h-1.5zM311.5 453.6h1.5v1.5h-1.5zM311.5 465h1.5v1.5h-1.5zM311.5 466.9h1.5v1.5h-1.5zM311.5 474.3h1.5v1.5h-1.5zM311.5 476.2h1.5v1.9h-1.5zM311.5 478.7h1.5v6.8h-1.5zM312.5 485.1h1.5v31.1h-1.5zM312.5 453.3h1.5v1.5h-1.5zM312.5 455.1h1.5v3.5h-1.5zM312.5 459.2h1.5v9h-1.5zM312.5 468.9h1.5v1.5h-1.5zM312.5 471.2h1.5v14.6h-1.5zM313.5 485.1h1.5v31.1h-1.5zM313.5 445.8h1.5v1.5h-1.5zM313.5 447.7h1.5v4.1h-1.5zM313.5 452.9h1.5v1.5h-1.5zM313.5 455.1h1.5v7.6h-1.5zM313.5 463.1h1.5v1.5h-1.5zM313.5 465.4h1.5v1.5h-1.5zM313.5 467.4h1.5v2.1h-1.5zM313.5 470.9h1.5v3.1h-1.5zM313.5 475h1.5v10.7h-1.5zM314.5 485.1h1.5v31.1h-1.5zM314.5 462.6h1.5v1.5h-1.5zM314.5 465.3h1.5v3.9h-1.5zM314.5 469.8h1.5v3.9h-1.5zM314.5 474.6h1.5v11.1h-1.5zM315.5 485.1h1.5v31.1h-1.5zM315.5 438.4h1.5v1.5h-1.5zM315.5 444.8h1.5v1.5h-1.5zM315.5 447.4h1.5v1.5h-1.5zM315.5 449.4h1.5v1.5h-1.5zM315.5 463h1.5v4.9h-1.5zM315.5 468.5h1.5v17.3h-1.5zM316.5 485.1h1.5v31.1h-1.5zM316.5 466h1.5v7.6h-1.5zM316.5 474.9h1.5v1.5h-1.5zM316.5 476.6h1.5v9.1h-1.5zM317.5 485.1h1.5v31.1h-1.5zM317.5 462.1h1.5v1.5h-1.5zM317.5 465.2h1.5v1.5h-1.5zM317.5 467.7h1.5v8.4h-1.5zM317.5 476.6h1.5v8.9h-1.5zM318.5 485.1h1.5v31.1h-1.5zM318.5 447.5h1.5v1.5h-1.5zM318.5 455.1h1.5v1.5h-1.5zM318.5 466.9h1.5v1.5h-1.5zM318.5 469.1h1.5v8.3h-1.5zM318.5 477.6h1.5v8.2h-1.5zM319.5 485.1h1.5v31.1h-1.5zM319.5 466.8h1.5v4.3h-1.5zM319.5 472.5h1.5v1.5h-1.5zM319.5 476.1h1.5v9.6h-1.5zM320.5 485.1h1.5v31.1h-1.5zM320.5 466.5h1.5v1.5h-1.5zM320.5 468.9h1.5v16.9h-1.5zM321.5 485.1h1.5v31.1h-1.5zM321.5 471.5h1.5v1.5h-1.5zM321.5 473.4h1.5v3.6h-1.5zM321.5 477.2h1.5v8.2h-1.5zM322.5 485.1h1.5v31.1h-1.5zM322.5 463.2h1.5v1.5h-1.5zM322.5 470.2h1.5v15.1h-1.5zM323.5 485.1h1.5v31.1h-1.5zM323.5 469.4h1.5v1.5h-1.5zM323.5 473.4h1.5v12.3h-1.5zM324.5 485.1h1.5v31.1h-1.5zM324.5 470.6h1.5v1.5h-1.5zM324.5 472.7h1.5v1.5h-1.5zM324.5 475.4h1.5v10.4h-1.5zM325.5 485.1h1.5v31.1h-1.5zM325.5 451.8h1.5v1.5h-1.5zM325.5 453.7h1.5v1.5h-1.5zM325.5 455.5h1.5v1.5h-1.5zM325.5 457.4h1.5v9.9h-1.5zM325.5 467.6h1.5v18.2h-1.5zM326.5 485.1h1.5v31.1h-1.5zM326.5 444.2h1.5v1.5h-1.5zM326.5 446.8h1.5v1.5h-1.5zM326.5 464.3h1.5v1.5h-1.5zM326.5 467.1h1.5v6.5h-1.5zM326.5 474.6h1.5v10.9h-1.5zM327.5 485.1h1.5v31.1h-1.5zM327.5 474.1h1.5v11.5h-1.5zM328.5 485.1h1.5v31.1h-1.5zM328.5 448.6h1.5v1.5h-1.5zM328.5 451.5h1.5v1.5h-1.5zM328.5 454h1.5v1.5h-1.5zM328.5 455.8h1.5v1.5h-1.5zM328.5 459.3h1.5v1.5h-1.5zM328.5 463.3h1.5v3.7h-1.5zM328.5 467.7h1.5v18h-1.5zM329.5 485.1h1.5v31.1h-1.5zM329.5 439.2h1.5v1.5h-1.5zM329.5 441h1.5v1.5h-1.5zM329.5 444h1.5v1.6h-1.5zM329.5 446.3h1.5v2.1h-1.5zM329.5 449h1.5v2.4h-1.5zM329.5 451.7h1.5v3.1h-1.5zM329.5 455.6h1.5v1.5h-1.5zM329.5 457.9h1.5v1.5h-1.5zM329.5 462.5h1.5v1.5h-1.5zM329.5 465.3h1.5v2.8h-1.5zM329.5 468.2h1.5v1.5h-1.5zM329.5 470.6h1.5v14.9h-1.5zM330.5 485.1h1.5v31.1h-1.5zM330.5 438.7h1.5v1.5h-1.5zM330.5 463.2h1.5v1.5h-1.5zM330.5 465.5h1.5v1.5h-1.5zM330.5 467.5h1.5v1.5h-1.5zM330.5 470.3h1.5v2h-1.5zM330.5 473.6h1.5v1.5h-1.5zM330.5 476.5h1.5v9.3h-1.5zM331.5 485.1h1.5v31.1h-1.5zM331.5 450.2h1.5v1.5h-1.5zM331.5 452.6h1.5v1.5h-1.5zM331.5 455h1.5v4.7h-1.5zM331.5 461.1h1.5v4.8h-1.5zM331.5 466.5h1.5v3.3h-1.5zM331.5 470.3h1.5v2.2h-1.5zM331.5 473h1.5v1.5h-1.5zM331.5 474.9h1.5v10.9h-1.5zM332.5 485.1h1.5v31.1h-1.5zM332.5 456.6h1.5v6.9h-1.5zM332.5 464.4h1.5v1.5h-1.5zM332.5 467.4h1.5v18.2h-1.5zM333.5 485.1h1v31.1h-1zM333.5 466.7h1v2.8h-1zM333.5 473.9h1v11.7h-1zM318.2 434.9h1.5v1.5h-1.5zM317.3 414.7h1.4v1.5h-1.4zM317.3 429.3h1.4v1.5h-1.4zM317.3 438.4h1.4v1.5h-1.4zM317.3 441.9h1.4v1.5h-1.4zM317.3 444.6h1.4v1.5h-1.4zM317.3 449.8h1.4v1.5h-1.4zM317.3 455.1h1.4v1.5h-1.4zM317.3 464.2h1.4v1.5h-1.4zM317.3 468.2h1.4v1.5h-1.4zM317.3 470.6h1.4v1.5h-1.4zM312.3 395.5h1.4v1.5h-1.4zM312.3 403.8h1.4v1.5h-1.4zM312.3 418.2h1.4v1.5h-1.4zM312.3 422.7h1.4v1.5h-1.4zM312.3 426.3h1.4v1.5h-1.4zM312.3 430.6h1.4v1.5h-1.4zM312.3 436.4h1.4v1.5h-1.4zM312.3 440.7h1.4v1.5h-1.4zM312.3 444.3h1.4v1.5h-1.4zM312.3 447.3h1.4v1.5h-1.4zM312.3 458.7h1.4v1.5h-1.4zM312.3 467.9h1.4v1.5h-1.4zM322.3 427.3h1.4v1.5h-1.4zM322.3 441.7h1.4v1.5h-1.4zM322.3 447.4h1.4v1.5h-1.4zM322.3 450.6h1.4v1.5h-1.4zM322.3 452.7h1.4v1.5h-1.4zM322.3 458.2h1.4v1.5h-1.4zM322.3 461h1.4v1.5h-1.4zM322.3 469.5h1.4v1.5h-1.4zM322.3 472.3h1.4v1.5h-1.4zM482.5 480.9h1.5v35.3h-1.5zM482.5 436.8h1.5v1.5h-1.5zM482.5 439.4h1.5v2.2h-1.5zM482.5 442h1.5v1.5h-1.5zM482.5 450.4h1.5v1.5h-1.5zM482.5 453.2h1.5v1.5h-1.5zM482.5 455.3h1.5v1.5h-1.5zM482.5 469.8h1.5v1.5h-1.5zM482.5 471.8h1.5v9.8h-1.5zM483.5 480.9h1.5v35.3h-1.5zM483.5 451.1h1.5v1.5h-1.5zM483.5 453h1.5v7h-1.5zM483.5 461.2h1.5v1.5h-1.5zM483.5 463.1h1.5v1.5h-1.5zM483.5 465.8h1.5v2.9h-1.5zM483.5 469h1.5v12.6h-1.5zM484.5 480.9h1.5v35.3h-1.5zM484.5 440.7h1.5v1.5h-1.5zM484.5 445.2h1.5v1.5h-1.5zM484.5 447.4h1.5v1.5h-1.5zM484.5 450.3h1.5v1.5h-1.5zM484.5 452.1h1.5v1.5h-1.5zM484.5 456.6h1.5v1.5h-1.5zM484.5 459.5h1.5v2.8h-1.5zM484.5 464.1h1.5v1.5h-1.5zM484.5 466.4h1.5v3.2h-1.5zM484.5 469.8h1.5v1.5h-1.5zM484.5 471.5h1.5v9.9h-1.5zM485.5 480.9h1.5v35.3h-1.5zM485.5 440.9h1.5v3h-1.5zM485.5 445h1.5v1.5h-1.5zM485.5 450h1.5v5.6h-1.5zM485.5 456.3h1.5v3h-1.5zM485.5 460.6h1.5v4.8h-1.5zM485.5 466.6h1.5v3h-1.5zM485.5 470.9h1.5v1.5h-1.5zM485.5 473.4h1.5v4.8h-1.5zM485.5 478.5h1.5v2.6h-1.5zM486.5 480.9h1.5v35.3h-1.5zM486.5 438.9h1.5v1.5h-1.5zM486.5 451h1.5v1.5h-1.5zM486.5 456.3h1.5v1.5h-1.5zM486.5 462.7h1.5v1.9h-1.5zM486.5 464.9h1.5v6.2h-1.5zM486.5 471.3h1.5v10.1h-1.5zM487.5 480.9h1.5v35.3h-1.5zM487.5 435.8h1.5v1.5h-1.5zM487.5 438.4h1.5v1.6h-1.5zM487.5 441.1h1.5v1.5h-1.5zM487.5 444.1h1.5v2.6h-1.5zM487.5 447.5h1.5v3.2h-1.5zM487.5 451.8h1.5v2.8h-1.5zM487.5 469.4h1.5v12.2h-1.5zM488.5 480.9h1.5v35.3h-1.5zM488.5 439.6h1.5v1.5h-1.5zM488.5 442.1h1.5v1.5h-1.5zM488.5 444.2h1.5v1.5h-1.5zM488.5 462.7h1.5v1.5h-1.5zM488.5 464.5h1.5v1.5h-1.5zM488.5 466.5h1.5v2.4h-1.5zM488.5 469h1.5v12.6h-1.5zM489.5 480.9h1.5v35.3h-1.5zM489.5 445.4h1.5v1.5h-1.5zM489.5 465.4h1.5v2.8h-1.5zM489.5 469.5h1.5v1.5h-1.5zM489.5 471.5h1.5v10.1h-1.5zM490.5 480.9h1.5v35.3h-1.5zM490.5 435.8h1.5v1.5h-1.5zM490.5 437.6h1.5v1.5h-1.5zM490.5 439.5h1.5v1.9h-1.5zM490.5 441.7h1.5v1.5h-1.5zM490.5 444.2h1.5v1.6h-1.5zM490.5 447.4h1.5v1.5h-1.5zM490.5 449.8h1.5v1.5h-1.5zM490.5 452.4h1.5v1.5h-1.5zM490.5 454.7h1.5v1.5h-1.5zM490.5 457.4h1.5v1.5h-1.5zM490.5 459.7h1.5v1.5h-1.5zM490.5 464.2h1.5v1.5h-1.5zM490.5 466.5h1.5v15h-1.5zM491.5 480.9h1.2v35.3h-1.2zM491.5 453h1.2v1.5h-1.2zM491.5 458.2h1.2v1.5h-1.2zM491.5 460h1.2v1.5h-1.2zM491.5 461.7h1.2v7.4h-1.2zM491.5 470h1.2v11.6h-1.2zM489.3 425.5h1.4v1.5h-1.4zM489.3 437.8h1.4v1.5h-1.4zM489.3 441.5h1.4v1.5h-1.4zM489.3 444h1.4v1.5h-1.4zM489.3 447.4h1.4v1.5h-1.4zM489.3 454.2h1.4v1.5h-1.4zM489.3 458.4h1.4v1.5h-1.4zM489.3 464.8h1.4v1.5h-1.4z"/>
<line x1="33.5" y1="369.6" x2="33.5" y2="519.0" stroke="#000" stroke-width="1.3"/>
<line x1="30" y1="516.20" x2="33.5" y2="516.20" stroke="#000" stroke-width="1.1"/>
<text x="27.2" y="519.00" class="t" font-size="7.9" fill="#333" text-anchor="end">0</text>
<line x1="30" y1="498.21" x2="33.5" y2="498.21" stroke="#000" stroke-width="1.1"/>
<text x="27.2" y="501.01" class="t" font-size="7.9" fill="#333" text-anchor="end">1</text>
<line x1="30" y1="480.22" x2="33.5" y2="480.22" stroke="#000" stroke-width="1.1"/>
<text x="27.2" y="483.02" class="t" font-size="7.9" fill="#333" text-anchor="end">2</text>
<line x1="30" y1="462.23" x2="33.5" y2="462.23" stroke="#000" stroke-width="1.1"/>
<text x="27.2" y="465.03" class="t" font-size="7.9" fill="#333" text-anchor="end">3</text>
<line x1="30" y1="444.24" x2="33.5" y2="444.24" stroke="#000" stroke-width="1.1"/>
<text x="27.2" y="447.04" class="t" font-size="7.9" fill="#333" text-anchor="end">4</text>
<line x1="30" y1="426.25" x2="33.5" y2="426.25" stroke="#000" stroke-width="1.1"/>
<text x="27.2" y="429.05" class="t" font-size="7.9" fill="#333" text-anchor="end">5</text>
<line x1="30" y1="408.26" x2="33.5" y2="408.26" stroke="#000" stroke-width="1.1"/>
<text x="27.2" y="411.06" class="t" font-size="7.9" fill="#333" text-anchor="end">6</text>
<line x1="30" y1="390.27" x2="33.5" y2="390.27" stroke="#000" stroke-width="1.1"/>
<text x="27.2" y="393.07" class="t" font-size="7.9" fill="#333" text-anchor="end">7</text>
<line x1="30" y1="372.28" x2="33.5" y2="372.28" stroke="#000" stroke-width="1.1"/>
<text x="27.2" y="375.08" class="t" font-size="7.9" fill="#333" text-anchor="end">8</text>
<line x1="48.7" y1="522.5" x2="507.5" y2="522.5" stroke="#000" stroke-width="1.3"/>
<line x1="51.25" y1="522.5" x2="51.25" y2="525.5" stroke="#000" stroke-width="1.1"/>
<text x="51.25" y="536.0" class="t" font-size="7.9" fill="#333" text-anchor="middle">1</text>
<line x1="87.38" y1="522.5" x2="87.38" y2="525.5" stroke="#000" stroke-width="1.1"/>
<text x="87.38" y="536.0" class="t" font-size="7.9" fill="#333" text-anchor="middle">2</text>
<line x1="122.50" y1="522.5" x2="122.50" y2="525.5" stroke="#000" stroke-width="1.1"/>
<text x="122.50" y="536.0" class="t" font-size="7.9" fill="#333" text-anchor="middle">3</text>
<line x1="155.50" y1="522.5" x2="155.50" y2="525.5" stroke="#000" stroke-width="1.1"/>
<text x="155.50" y="536.0" class="t" font-size="7.9" fill="#333" text-anchor="middle">4</text>
<line x1="187.75" y1="522.5" x2="187.75" y2="525.5" stroke="#000" stroke-width="1.1"/>
<text x="187.75" y="536.0" class="t" font-size="7.9" fill="#333" text-anchor="middle">5</text>
<line x1="219.38" y1="522.5" x2="219.38" y2="525.5" stroke="#000" stroke-width="1.1"/>
<text x="219.38" y="536.0" class="t" font-size="7.9" fill="#333" text-anchor="middle">6</text>
<line x1="249.88" y1="522.5" x2="249.88" y2="525.5" stroke="#000" stroke-width="1.1"/>
<text x="249.88" y="536.0" class="t" font-size="7.9" fill="#333" text-anchor="middle">7</text>
<line x1="276.62" y1="522.5" x2="276.62" y2="525.5" stroke="#000" stroke-width="1.1"/>
<text x="276.62" y="536.0" class="t" font-size="7.9" fill="#333" text-anchor="middle">8</text>
<line x1="300.50" y1="522.5" x2="300.50" y2="525.5" stroke="#000" stroke-width="1.1"/>
<text x="300.50" y="536.0" class="t" font-size="7.9" fill="#333" text-anchor="middle">9</text>
<line x1="323.00" y1="522.5" x2="323.00" y2="525.5" stroke="#000" stroke-width="1.1"/>
<text x="323.00" y="536.0" class="t" font-size="7.9" fill="#333" text-anchor="middle">10</text>
<line x1="347.12" y1="522.5" x2="347.12" y2="525.5" stroke="#000" stroke-width="1.1"/>
<text x="347.12" y="536.0" class="t" font-size="7.9" fill="#333" text-anchor="middle">11</text>
<line x1="369.62" y1="522.5" x2="369.62" y2="525.5" stroke="#000" stroke-width="1.1"/>
<text x="369.62" y="536.0" class="t" font-size="7.9" fill="#333" text-anchor="middle">12</text>
<line x1="389.00" y1="522.5" x2="389.00" y2="525.5" stroke="#000" stroke-width="1.1"/>
<text x="389.00" y="536.0" class="t" font-size="7.9" fill="#333" text-anchor="middle">13</text>
<line x1="406.00" y1="522.5" x2="406.00" y2="525.5" stroke="#000" stroke-width="1.1"/>
<text x="406.00" y="536.0" class="t" font-size="7.9" fill="#333" text-anchor="middle">14</text>
<line x1="420.88" y1="522.5" x2="420.88" y2="525.5" stroke="#000" stroke-width="1.1"/>
<text x="420.88" y="536.0" class="t" font-size="7.9" fill="#333" text-anchor="middle">15</text>
<line x1="435.25" y1="522.5" x2="435.25" y2="525.5" stroke="#000" stroke-width="1.1"/>
<text x="435.25" y="536.0" class="t" font-size="7.9" fill="#333" text-anchor="middle">16</text>
<line x1="449.25" y1="522.5" x2="449.25" y2="525.5" stroke="#000" stroke-width="1.1"/>
<text x="449.25" y="536.0" class="t" font-size="7.9" fill="#333" text-anchor="middle">17</text>
<line x1="462.50" y1="522.5" x2="462.50" y2="525.5" stroke="#000" stroke-width="1.1"/>
<text x="462.50" y="536.0" class="t" font-size="7.9" fill="#333" text-anchor="middle">18</text>
<line x1="475.88" y1="522.5" x2="475.88" y2="525.5" stroke="#000" stroke-width="1.1"/>
<text x="475.88" y="536.0" class="t" font-size="7.9" fill="#333" text-anchor="middle">19</text>
<line x1="487.60" y1="522.5" x2="487.60" y2="525.5" stroke="#000" stroke-width="1.1"/>
<text x="487.60" y="536.0" class="t" font-size="7.9" fill="#333" text-anchor="middle">20</text>
<line x1="497.50" y1="522.5" x2="497.50" y2="525.5" stroke="#000" stroke-width="1.1"/>
<text x="497.50" y="536.0" class="t" font-size="7.9" fill="#333" text-anchor="middle">21</text>
<line x1="505.05" y1="522.5" x2="505.05" y2="525.5" stroke="#000" stroke-width="1.1"/>
<line x1="37" y1="385.3" x2="509.2" y2="385.3" stroke="#d4a6a8" stroke-width="1.3" stroke-dasharray="2 2"/>
<rect x="47" y="381.1" width="22.5" height="8" fill="#fff"/>
<text x="49.3" y="387.6" class="t" font-size="7.7" font-style="italic" fill="#222">Adult</text>
<text x="6.8" y="378.8" font-size="11" font-weight="bold" fill="#000">C</text>
<text transform="translate(13.6 444.7) rotate(-90)" class="t" font-size="8.1" fill="#333" text-anchor="middle">-log<tspan font-size="5.5" dy="1.5">10</tspan><tspan dy="-1.5">(</tspan><tspan font-style="italic">p</tspan>)</text>
<text x="279" y="15.4" font-size="9.9" font-weight="bold" fill="#000" text-anchor="middle">Manhattan plot</text>
<text transform="translate(278.3 549.6) scale(0.6 1)" class="t" font-size="11.2" fill="#222" text-anchor="middle">Chromosome</text>
<rect x="0.7" y="0.7" width="518.6" height="555.5" fill="none" stroke="#000" stroke-width="1.45"/>
</svg></body></html>
